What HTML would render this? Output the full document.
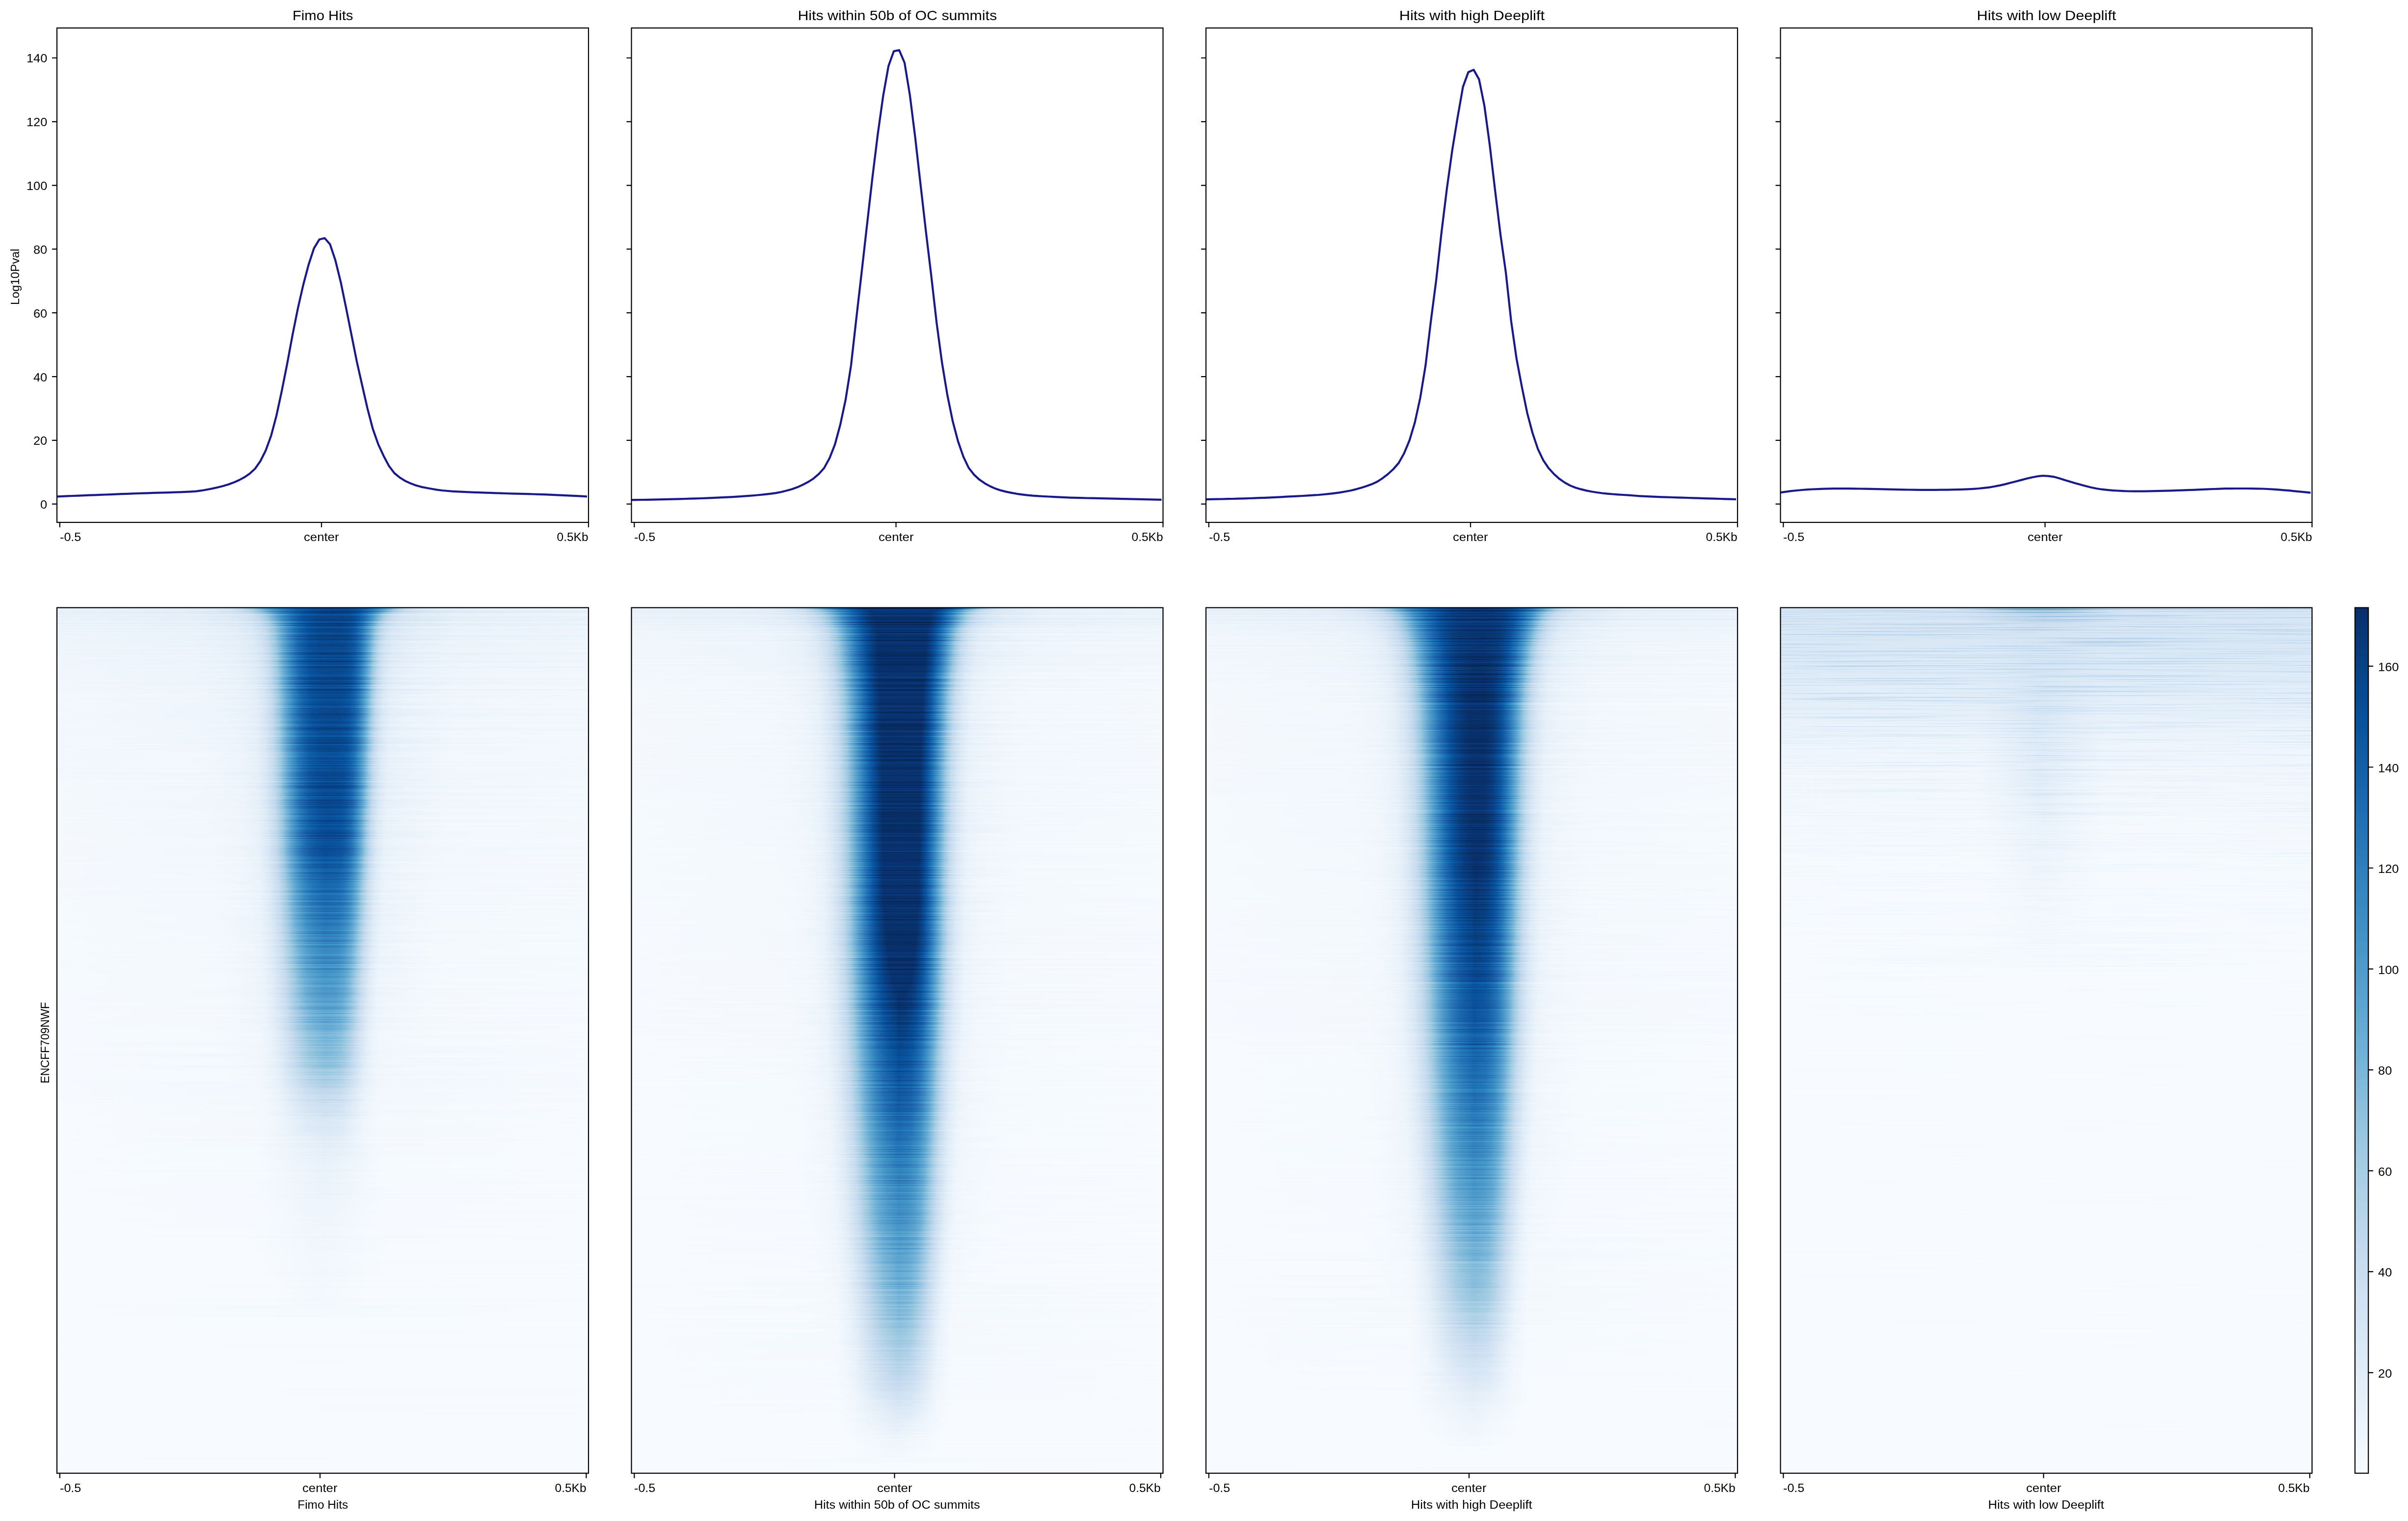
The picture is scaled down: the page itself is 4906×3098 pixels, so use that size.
<!DOCTYPE html><html lang="en"><head><meta charset="utf-8"><title>Profile and heatmap of Log10Pval signal around motif hits</title><style>
html,body{margin:0;padding:0;background:#fff}body{width:4906px;height:3098px;position:relative;overflow:hidden;font-family:"Liberation Sans",sans-serif;color:#000}.t{position:absolute;white-space:nowrap;line-height:1;margin:0;padding:0}.hm{position:absolute;overflow:hidden;background:#f7fbff}.hm i{display:block;width:100%}.cb{position:absolute}svg{position:absolute;left:0;top:0}.nz{mix-blend-mode:overlay}
</style></head><body>
<div class="hm" style="left:116.0px;top:1237.7px;width:1083.0px;height:1763.0px">
<i style="height:4px;background:linear-gradient(90deg,#e7f1fa 0px,#e2edf8 240px,#d9e8f5 312px,#d0e2f2 342px,#c4daee 363px,#b2d2e8 378px,#91c3de 396px,#69add5 411px,#3a8ac2 432px,#1d6cb1 456px,#084f99 489px,#084082 525px,#083a7a 555px,#083d7f 594px,#084488 612px,#09529d 630px,#1f6eb3 651px,#3f8fc5 669px,#6dafd7 684px,#9dcae1 699px,#b5d4e9 711px,#c6dbef 723px,#d2e3f3 747px,#dae8f6 783px,#e3eef8 870px,#e7f1fa 1083px)"></i>
<i style="height:4px;background:linear-gradient(90deg,#e7f1fa 0px,#e3eef9 237px,#ddeaf7 309px,#d3e3f3 354px,#c6dbef 378px,#9dcae1 405px,#6dafd7 423px,#4090c5 441px,#1c6bb0 468px,#08509b 498px,#08478d 513px,#084285 528px,#083c7d 561px,#083e81 585px,#08458a 603px,#0a539e 621px,#2272b6 642px,#4090c5 657px,#68acd5 669px,#9cc9e1 684px,#b5d4e9 696px,#c3daee 705px,#d0e2f2 726px,#dae8f6 765px,#e3eef9 861px,#e7f1fa 1083px)"></i>
<i style="height:4px;background:linear-gradient(90deg,#e8f1fa 0px,#e3eef9 258px,#dceaf6 330px,#d3e3f3 369px,#c4daee 393px,#a4cce3 414px,#7cb7da 429px,#4191c6 450px,#2f7fbc 462px,#1966ad 480px,#0a549e 498px,#084e98 507px,#084387 534px,#083e81 561px,#084184 582px,#08468b 597px,#08519c 612px,#2171b5 633px,#4191c6 648px,#6caed6 660px,#99c7e0 672px,#b5d4e9 684px,#c4daee 693px,#cfe1f2 708px,#dae8f6 750px,#e2edf8 816px,#e8f1fa 1083px)"></i>
<i style="height:4px;background:linear-gradient(90deg,#e9f2fa 0px,#e3eef8 282px,#dbe9f6 348px,#d0e1f2 384px,#c6dbef 399px,#aed1e7 414px,#92c4de 426px,#4191c6 453px,#2777b8 468px,#135fa7 486px,#0a539e 498px,#084d96 507px,#084285 537px,#084082 567px,#084488 594px,#0a549e 615px,#2373b6 633px,#4090c5 645px,#94c4df 666px,#aed1e7 675px,#c4daee 687px,#d2e3f3 708px,#dceaf6 756px,#e3eef9 825px,#e9f2fa 1083px)"></i>
<i style="height:4px;background:linear-gradient(90deg,#eaf2fb 0px,#e5eff9 261px,#deebf7 339px,#d2e3f3 387px,#c9ddf0 402px,#b3d3e8 417px,#97c6df 429px,#4896c8 453px,#2474b7 471px,#0d57a1 492px,#084b93 507px,#084285 537px,#084184 579px,#08458a 597px,#0a549e 615px,#206fb4 630px,#3e8ec4 642px,#6fb0d7 654px,#a3cce3 666px,#b9d6ea 675px,#c8dcf0 684px,#d3e3f3 702px,#dceaf6 747px,#e5eff9 837px,#eaf2fb 1083px)"></i>
<i style="height:4px;background:linear-gradient(90deg,#eaf2fb 0px,#e6f0f9 261px,#deebf7 348px,#d4e4f4 387px,#c7dbef 408px,#b3d3e8 420px,#9fcae1 429px,#6caed6 444px,#4695c8 456px,#2373b6 474px,#125da6 489px,#08519c 501px,#084d96 507px,#084488 528px,#084184 570px,#08468b 597px,#084f99 609px,#105ba4 618px,#2474b7 630px,#4695c8 642px,#6caed6 651px,#a1cbe2 663px,#b9d6ea 672px,#cbdef1 684px,#d3e4f3 699px,#ddeaf7 744px,#e6f0f9 837px,#eaf2fb 1083px)"></i>
<i style="height:4px;background:linear-gradient(90deg,#eaf3fb 0px,#e6f0f9 276px,#dfebf7 351px,#d5e5f4 390px,#c7dcef 411px,#b9d6ea 420px,#9fcae1 432px,#6aaed6 447px,#3e8ec4 462px,#1a68ae 483px,#084e98 507px,#084387 537px,#084285 576px,#084990 600px,#09529d 609px,#0f5aa3 615px,#2272b6 627px,#4493c7 639px,#a0cbe2 660px,#b9d6ea 669px,#c6dbef 675px,#ccdff1 681px,#d6e5f4 699px,#e6f0f9 822px,#eaf3fb 1083px)"></i>
<i style="height:4px;background:linear-gradient(90deg,#ebf3fb 0px,#e6f0f9 291px,#dfebf7 360px,#d6e5f4 393px,#c4daee 417px,#9dcae1 435px,#4b98ca 459px,#3d8dc4 465px,#1967ad 486px,#08509b 507px,#08458a 531px,#084285 570px,#08478d 594px,#0a549e 609px,#2070b4 624px,#4191c6 636px,#9fcae1 657px,#c1d9ed 669px,#cddff1 678px,#d4e4f4 690px,#dfecf7 741px,#e6f0f9 807px,#ebf3fb 1083px)"></i>
<i style="height:4px;background:linear-gradient(90deg,#ebf3fb 0px,#e7f1fa 279px,#dfecf7 363px,#d8e7f5 393px,#cde0f1 411px,#bfd8ed 423px,#9dcae1 438px,#539ecd 459px,#4292c6 465px,#1966ad 489px,#08509b 510px,#08458a 534px,#084387 576px,#08478d 591px,#08509b 603px,#0d57a1 609px,#1f6eb3 621px,#3f8fc5 633px,#64a9d3 642px,#9fcae1 654px,#c1d9ed 666px,#d0e1f2 678px,#d6e6f4 690px,#dfebf7 726px,#e7f1fa 819px,#ebf3fb 1083px)"></i>
<i style="height:4px;background:linear-gradient(90deg,#ecf4fb 0px,#e8f1fa 279px,#e3eef9 342px,#d9e8f5 393px,#c3daee 423px,#99c7e0 441px,#61a7d2 456px,#3f8fc5 468px,#1d6cb1 486px,#08509b 510px,#08478d 528px,#084387 567px,#084990 594px,#08519c 603px,#0e59a2 609px,#2171b5 621px,#4493c7 633px,#69add5 642px,#a4cce3 654px,#bed8ec 663px,#cddff1 672px,#d8e7f5 690px,#e3eef8 747px,#e8f1fa 819px,#ecf4fb 1083px)"></i>
<i style="height:4px;background:linear-gradient(90deg,#edf4fc 0px,#e9f2fa 279px,#e2edf8 363px,#d9e8f5 396px,#c6dbef 423px,#a5cde3 438px,#64a9d3 456px,#4090c5 468px,#1e6db2 486px,#115ca5 498px,#084f99 513px,#08468b 534px,#084488 576px,#08488e 591px,#08519c 603px,#0e59a2 609px,#2272b6 621px,#3b8bc2 630px,#5fa6d1 639px,#9cc9e1 651px,#b9d6ea 660px,#cbdef1 669px,#d7e6f5 684px,#e0ecf8 720px,#e8f1fa 804px,#edf4fc 1083px)"></i>
<i style="height:4px;background:linear-gradient(90deg,#edf4fc 0px,#e9f2fa 294px,#e3eef8 366px,#dbe9f6 396px,#d0e2f2 414px,#c3daee 426px,#95c5df 444px,#539ecd 462px,#3585bf 474px,#1b69af 489px,#0c56a0 504px,#084f99 513px,#08478d 531px,#084488 570px,#084a91 594px,#09529d 603px,#0f5aa3 609px,#2373b6 621px,#3d8dc4 630px,#61a7d2 639px,#9fcae1 651px,#bdd7ec 660px,#cddff1 669px,#d9e7f5 684px,#e3eef8 729px,#eaf2fb 819px,#edf4fc 1083px)"></i>
<i style="height:4px;background:linear-gradient(90deg,#eef5fc 0px,#eaf3fb 276px,#e4eff9 363px,#dceaf6 396px,#d2e3f3 414px,#c6dbef 426px,#99c7e0 444px,#5fa6d1 459px,#3d8dc4 471px,#2474b7 483px,#1865ac 492px,#08509b 513px,#08478d 534px,#08458a 576px,#084990 591px,#0c56a0 606px,#1d6cb1 618px,#3f8fc5 630px,#65aad4 639px,#a3cce3 651px,#bfd8ed 660px,#cfe1f2 669px,#dae8f6 684px,#e3eef9 726px,#eaf2fb 804px,#eef5fc 1083px)"></i>
<i style="height:4px;background:linear-gradient(90deg,#eef5fc 0px,#eaf3fb 291px,#e4eff9 369px,#dbe9f6 402px,#c7dcef 426px,#bcd7eb 432px,#9cc9e1 444px,#57a0ce 462px,#3181bd 477px,#1966ad 492px,#08509b 513px,#08488e 531px,#08458a 573px,#084b93 594px,#08509b 600px,#105ba4 609px,#1e6db2 618px,#4090c5 630px,#66abd4 639px,#99c7e0 648px,#b0d2e7 654px,#c2d9ee 660px,#d3e4f3 672px,#deebf7 690px,#ebf3fb 825px,#eef5fc 1083px)"></i>
<i style="height:6px;background:linear-gradient(90deg,#eef5fc 0px,#ebf3fb 276px,#e5eff9 366px,#deebf7 396px,#d1e2f3 417px,#c3daee 429px,#9dcae1 444px,#63a8d3 459px,#3e8ec4 471px,#1c6ab0 489px,#08509b 513px,#08478d 534px,#08458a 570px,#084b93 594px,#08509b 600px,#105ba4 609px,#1e6db2 618px,#4191c6 630px,#5aa2cf 636px,#9ac8e0 648px,#c4daee 660px,#d4e4f4 672px,#ddeaf7 687px,#e5eff9 729px,#ebf3fb 822px,#eef5fc 1083px)"></i>
<i style="height:6px;background:linear-gradient(90deg,#eef5fc 0px,#ebf3fb 282px,#e6f0f9 363px,#dfebf7 396px,#d5e5f4 414px,#c4daee 429px,#9fcae1 444px,#5aa2cf 462px,#3888c1 474px,#1c6ab0 489px,#08509b 513px,#08478d 534px,#08458a 570px,#084990 591px,#08509b 600px,#105ba4 609px,#2575b7 621px,#4292c6 630px,#6aaed6 639px,#9dcae1 648px,#c6dbef 660px,#d5e5f4 672px,#deebf7 687px,#ebf3fb 813px,#eef5fc 1083px)"></i>
<i style="height:6px;background:linear-gradient(90deg,#eef5fc 0px,#ecf4fb 270px,#e6f0f9 366px,#deebf7 399px,#d6e5f4 414px,#c7dbef 429px,#a0cbe2 444px,#64a9d3 459px,#3f8fc5 471px,#206fb4 486px,#125da6 498px,#084f99 513px,#08478d 534px,#08458a 567px,#084990 591px,#0c56a0 606px,#1f6eb3 618px,#4292c6 630px,#6caed6 639px,#9fcae1 648px,#bfd8ed 657px,#d3e4f3 669px,#ddeaf7 684px,#e5eff9 723px,#ebf3fb 807px,#eef5fc 1083px)"></i>
<i style="height:6px;background:linear-gradient(90deg,#eff6fc 0px,#ecf4fb 276px,#e6f0f9 369px,#dfebf7 399px,#d4e4f4 417px,#c2d9ee 432px,#97c6df 447px,#5ba3d0 462px,#3282be 477px,#1865ac 492px,#084f99 513px,#08478d 534px,#08458a 561px,#08478d 585px,#0c56a0 606px,#1f6eb3 618px,#4493c7 630px,#5fa6d1 636px,#a1cbe2 648px,#c2d9ee 657px,#d4e4f4 669px,#deebf7 684px,#e6f0f9 726px,#ecf4fb 822px,#eff6fc 1083px)"></i>
<i style="height:6px;background:linear-gradient(90deg,#eff6fc 0px,#ecf4fb 282px,#e7f1fa 357px,#deebf7 402px,#d5e5f4 417px,#c3daee 432px,#99c7e0 447px,#5ca4d0 462px,#3282be 477px,#1865ac 492px,#084f99 513px,#08478d 534px,#08468b 579px,#084990 591px,#0c56a0 606px,#1f6eb3 618px,#3a8ac2 627px,#60a7d2 636px,#94c4df 645px,#afd1e7 651px,#c3daee 657px,#d2e3f3 666px,#dfebf7 684px,#e6f0f9 723px,#ecf4fb 816px,#eff6fc 1083px)"></i>
<i style="height:6px;background:linear-gradient(90deg,#eff6fc 0px,#ecf4fb 288px,#e7f1fa 360px,#dfebf7 402px,#d6e5f4 417px,#c4daee 432px,#9cc9e1 447px,#68acd5 459px,#3989c1 474px,#206fb4 486px,#1865ac 492px,#084f99 513px,#08478d 534px,#08468b 579px,#084990 591px,#0c56a0 606px,#206fb4 618px,#3b8bc2 627px,#63a8d3 636px,#97c6df 645px,#b2d2e8 651px,#c6dbef 657px,#d3e3f3 666px,#deebf7 681px,#e6f0f9 720px,#ecf4fb 807px,#eff6fc 1083px)"></i>
<i style="height:6px;background:linear-gradient(90deg,#eff6fc 0px,#edf4fc 276px,#e8f1fa 357px,#e0ecf8 399px,#d3e4f3 420px,#c6dbef 432px,#9cc9e1 447px,#5da5d1 462px,#3383be 477px,#2070b4 486px,#1561a9 495px,#084f99 513px,#08478d 537px,#08468b 576px,#08488e 588px,#08509b 600px,#0d57a1 606px,#206fb4 618px,#3c8cc3 627px,#64a9d3 636px,#99c7e0 645px,#b3d3e8 651px,#c7dbef 657px,#d3e4f3 666px,#ddeaf7 678px,#e6f0f9 717px,#ecf4fb 801px,#eff6fc 1083px)"></i>
<i style="height:6px;background:linear-gradient(90deg,#f0f6fd 0px,#edf4fc 282px,#e8f1fa 360px,#dfecf7 402px,#d4e4f4 420px,#c7dbef 432px,#9dcae1 447px,#5fa6d1 462px,#4292c6 471px,#2d7dbb 480px,#1966ad 492px,#084f99 513px,#08478d 537px,#08468b 576px,#084b93 594px,#0d57a1 606px,#2070b4 618px,#3d8dc4 627px,#65aad4 636px,#9ac8e0 645px,#b4d3e9 651px,#c7dcef 657px,#d7e6f5 669px,#e0ecf8 684px,#ecf4fb 795px,#f0f6fd 1083px)"></i>
<i style="height:6px;background:linear-gradient(90deg,#f0f6fd 0px,#edf4fc 288px,#e8f1fa 363px,#dfebf7 405px,#c7dcef 432px,#9fcae1 447px,#60a7d2 462px,#3b8bc2 474px,#1d6cb1 489px,#0f5aa3 501px,#08509b 513px,#08478d 537px,#08468b 573px,#084a91 591px,#08509b 600px,#0e58a2 606px,#2171b5 618px,#3e8ec4 627px,#66abd4 636px,#9cc9e1 645px,#b5d4e9 651px,#c8dcf0 657px,#d8e7f5 669px,#dfecf7 681px,#e7f0fa 717px,#edf4fc 807px,#f0f6fd 1083px)"></i>
<i style="height:6px;background:linear-gradient(90deg,#f0f6fd 0px,#edf4fc 294px,#e8f1fa 366px,#e0ecf8 402px,#d5e5f4 420px,#c2d9ee 435px,#a0cbe2 447px,#6caed6 459px,#4493c7 471px,#3585bf 477px,#2171b5 486px,#1562a9 495px,#08509b 513px,#084990 528px,#08468b 573px,#084a91 591px,#08519c 600px,#0e58a2 606px,#2272b6 618px,#3f8fc5 627px,#69add5 636px,#9fcae1 645px,#c1d9ed 654px,#d2e3f3 663px,#dfebf7 678px,#e7f0fa 714px,#edf4fc 801px,#f0f6fd 1083px)"></i>
<i style="height:6px;background:linear-gradient(90deg,#f0f6fd 0px,#eef5fc 282px,#e8f1fa 369px,#dfecf7 405px,#d6e5f4 420px,#c8dcf0 432px,#a1cbe2 447px,#63a8d3 462px,#4594c7 471px,#2f7fbc 480px,#1967ad 492px,#08509b 513px,#084990 528px,#08468b 570px,#084990 588px,#08519c 600px,#0e59a2 606px,#2373b6 618px,#4090c5 627px,#6aaed6 636px,#a0cbe2 645px,#c2d9ee 654px,#d3e3f3 663px,#e0ecf8 681px,#e7f1fa 717px,#edf4fc 795px,#f0f6fd 1083px)"></i>
<i style="height:6px;background:linear-gradient(90deg,#f1f7fd 0px,#eef5fc 288px,#e9f2fa 366px,#e1edf8 402px,#d3e4f3 423px,#c3daee 435px,#97c6df 450px,#64a9d3 462px,#3686c0 477px,#1663aa 495px,#08509b 513px,#08488e 534px,#08468b 567px,#084990 588px,#09529d 600px,#0e59a2 606px,#2474b7 618px,#4191c6 627px,#6caed6 636px,#a1cbe2 645px,#c3daee 654px,#d6e6f4 666px,#e1edf8 681px,#e9f2fa 729px,#eef5fc 807px,#f1f7fd 1083px)"></i>
<i style="height:6px;background:linear-gradient(90deg,#f1f7fd 0px,#eef5fc 273px,#e9f2fa 369px,#e2edf8 402px,#d6e6f4 420px,#c4daee 435px,#99c7e0 450px,#64a9d3 462px,#4695c8 471px,#3080bd 480px,#1a68ae 492px,#0b559f 507px,#084f99 516px,#08488e 534px,#08468b 549px,#08478d 579px,#084f99 597px,#0f5aa3 606px,#2474b7 618px,#4292c6 627px,#6dafd7 636px,#a3cce3 645px,#c4daee 654px,#d7e6f5 666px,#e3eef8 684px,#eef5fc 801px,#f1f7fd 1083px)"></i>
<i style="height:6px;background:linear-gradient(90deg,#f1f7fd 0px,#eef5fc 279px,#e9f2fa 372px,#e2edf8 402px,#d7e6f5 420px,#c6dbef 435px,#99c7e0 450px,#65aad4 462px,#4896c8 471px,#3181bd 480px,#1764ab 495px,#084f99 516px,#08478d 543px,#08478d 576px,#084b93 591px,#09529d 600px,#0f5aa3 606px,#2575b7 618px,#4493c7 627px,#60a7d2 633px,#95c5df 642px,#c6dbef 654px,#d8e7f5 666px,#e2edf8 681px,#e8f1fa 714px,#eef5fc 816px,#f1f7fd 1083px)"></i>
<i style="height:6px;background:linear-gradient(90deg,#f1f7fd 0px,#eef5fc 288px,#eaf3fb 360px,#e3eef8 402px,#d7e6f5 420px,#c6dbef 435px,#9ac8e0 450px,#66abd4 462px,#3888c1 477px,#1b69af 492px,#115ca5 501px,#084f99 516px,#08488e 537px,#08478d 576px,#084d96 594px,#0c56a0 603px,#1460a8 609px,#2676b8 618px,#4594c7 627px,#61a7d2 633px,#97c6df 642px,#c7dbef 654px,#d9e7f5 666px,#e1edf8 678px,#e8f1fa 711px,#eef5fc 789px,#f1f7fd 1083px)"></i>
<i style="height:6px;background:linear-gradient(90deg,#f2f7fd 0px,#eef5fc 294px,#e9f2fa 378px,#e0ecf8 408px,#cfe1f2 429px,#bfd8ed 438px,#9cc9e1 450px,#74b3d8 459px,#539ecd 468px,#4090c5 474px,#2575b7 486px,#0e59a2 504px,#084f99 516px,#08488e 537px,#08478d 573px,#084a91 588px,#08509b 597px,#105ba4 606px,#206fb4 615px,#4695c8 627px,#63a8d3 633px,#a8cee4 645px,#c7dcef 654px,#d6e5f4 663px,#e3eef8 681px,#e9f2fa 714px,#eef5fc 801px,#f2f7fd 1083px)"></i>
<i style="height:6px;background:linear-gradient(90deg,#f2f7fd 0px,#eef5fc 303px,#eaf3fb 366px,#e3eef9 402px,#dbe9f6 417px,#c7dcef 435px,#9dcae1 450px,#5da5d1 465px,#4191c6 474px,#2c7cba 483px,#1865ac 495px,#08509b 516px,#084a91 528px,#08488e 540px,#08478d 573px,#084c95 591px,#08509b 597px,#115ca5 606px,#2070b4 615px,#4896c8 627px,#64a9d3 633px,#9ac8e0 642px,#c1d9ed 651px,#d6e6f4 663px,#e3eef9 681px,#eff6fc 816px,#f2f7fd 1083px)"></i>
<i style="height:6px;background:linear-gradient(90deg,#f2f7fd 0px,#eff6fc 288px,#eaf3fb 369px,#e3eef8 405px,#d9e7f5 420px,#c2d9ee 438px,#9fcae1 450px,#69add5 462px,#3a8ac2 477px,#2070b4 489px,#1966ad 495px,#08509b 516px,#08488e 540px,#08478d 573px,#084c95 591px,#08519c 597px,#1562a9 609px,#2070b4 615px,#4997c9 627px,#66abd4 633px,#9cc9e1 642px,#c2d9ee 651px,#d7e6f5 663px,#e3eef8 678px,#eaf3fb 723px,#eff6fc 810px,#f2f7fd 1083px)"></i>
<i style="height:6px;background:linear-gradient(90deg,#f2f7fd 0px,#eff6fc 294px,#ebf3fb 366px,#e4eff9 402px,#d9e8f5 420px,#c8dcf0 435px,#9fcae1 450px,#6aaed6 462px,#4292c6 474px,#3484bf 480px,#1966ad 495px,#08509b 516px,#084990 534px,#08478d 570px,#084c95 591px,#08519c 597px,#125da6 606px,#2171b5 615px,#3e8ec4 624px,#68acd5 633px,#9fcae1 642px,#c3daee 651px,#dbe9f6 666px,#e4eff9 681px,#eff6fc 801px,#f2f7fd 1083px)"></i>
<i style="height:6px;background:linear-gradient(90deg,#f2f8fd 0px,#eff6fc 303px,#ebf3fb 369px,#e3eef9 405px,#d7e6f5 423px,#c3daee 438px,#a0cbe2 450px,#61a7d2 465px,#4493c7 474px,#2e7ebc 483px,#1562a9 498px,#08509b 516px,#08478d 549px,#08488e 579px,#08519c 597px,#125ea6 606px,#2272b6 615px,#3f8fc5 624px,#69add5 633px,#a0cbe2 642px,#c4daee 651px,#dce9f6 666px,#e5eff9 681px,#eff6fc 795px,#f2f8fd 1083px)"></i>
<i style="height:6px;background:linear-gradient(90deg,#f2f8fd 0px,#f0f6fd 285px,#ebf3fb 372px,#e5eff9 402px,#dae8f6 420px,#c4daee 438px,#a1cbe2 450px,#61a7d2 465px,#3585bf 480px,#1967ad 495px,#0b559f 510px,#084f99 519px,#084a91 531px,#08478d 567px,#084b93 588px,#09529d 597px,#125ea6 606px,#2373b6 615px,#4090c5 624px,#6aaed6 633px,#a1cbe2 642px,#c6dbef 651px,#d9e7f5 663px,#e3eef8 675px,#eaf2fb 705px,#eff6fc 789px,#f2f8fd 1083px)"></i>
<i style="height:6px;background:linear-gradient(90deg,#f2f8fd 0px,#eff6fc 309px,#e5eff9 402px,#d5e5f4 426px,#c4daee 438px,#a1cbe2 450px,#63a8d3 465px,#4594c7 474px,#2f7fbc 483px,#1663aa 498px,#084f99 519px,#08478d 549px,#08488e 576px,#084a91 585px,#09529d 597px,#135fa7 606px,#2373b6 615px,#4191c6 624px,#6caed6 633px,#a3cce3 642px,#c6dbef 651px,#dceaf6 666px,#e4eff9 678px,#eaf3fb 711px,#f0f6fd 810px,#f2f8fd 1083px)"></i>
<i style="height:6px;background:linear-gradient(90deg,#f2f8fd 0px,#eff6fc 309px,#ebf3fb 372px,#e3eef8 408px,#d5e5f4 426px,#c4daee 438px,#a3cce3 450px,#63a8d3 465px,#4f9bcb 471px,#3d8dc4 477px,#2272b6 489px,#135fa7 501px,#084f99 519px,#08478d 549px,#08488e 576px,#09529d 597px,#135fa7 606px,#2474b7 615px,#4292c6 624px,#6dafd7 633px,#94c4df 639px,#a4cce3 642px,#c7dbef 651px,#d9e8f5 663px,#e4eff9 678px,#eaf3fb 711px,#f0f6fd 807px,#f2f8fd 1083px)"></i>
<i style="height:6px;background:linear-gradient(90deg,#f2f8fd 0px,#f0f6fd 291px,#ecf4fb 366px,#e4eff9 405px,#dbe9f6 420px,#c6dbef 438px,#97c6df 453px,#64a9d3 465px,#4695c8 474px,#3080bd 483px,#1a68ae 495px,#115ca5 504px,#08509b 519px,#08488e 546px,#08488e 573px,#08509b 594px,#1460a8 606px,#2575b7 615px,#4493c7 624px,#6fb0d7 633px,#95c5df 639px,#b2d2e8 645px,#c7dcef 651px,#d9e8f5 663px,#e6f0f9 681px,#f0f6fd 807px,#f2f8fd 1083px)"></i>
<i style="height:6px;background:linear-gradient(90deg,#f2f8fd 0px,#f0f6fd 291px,#ebf3fb 375px,#e4eff9 405px,#dbe9f6 420px,#c6dbef 438px,#99c7e0 453px,#64a9d3 465px,#4695c8 474px,#3080bd 483px,#1764ab 498px,#08509b 519px,#084990 540px,#08488e 573px,#08509b 594px,#1460a8 606px,#1f6eb3 612px,#3989c1 621px,#71b1d7 633px,#97c6df 639px,#b3d3e8 645px,#c7dcef 651px,#dae8f6 663px,#e3eef9 675px,#eaf3fb 708px,#f0f6fd 804px,#f2f8fd 1083px)"></i>
<i style="height:6px;background:linear-gradient(90deg,#f2f8fd 0px,#f0f6fd 294px,#e6f0f9 402px,#d9e7f5 423px,#c7dbef 438px,#99c7e0 453px,#65aad4 465px,#4896c8 474px,#3181bd 483px,#1764ab 498px,#08509b 519px,#084990 540px,#08488e 570px,#084e98 591px,#1561a9 606px,#1f6eb3 612px,#3a8ac2 621px,#61a7d2 630px,#97c6df 639px,#bfd8ed 648px,#c8dcf0 651px,#dae8f6 663px,#e5eff9 678px,#f0f6fd 801px,#f2f8fd 1083px)"></i>
<i style="height:8px;background:linear-gradient(90deg,#f2f8fd 0px,#f0f6fd 297px,#ecf4fb 369px,#e6f0f9 402px,#d9e7f5 423px,#c7dbef 438px,#9ac8e0 453px,#66abd4 465px,#3f8fc5 477px,#3181bd 483px,#1b69af 495px,#08509b 519px,#084990 540px,#08488e 570px,#084b93 585px,#08519c 594px,#115ca5 603px,#206fb4 612px,#3b8bc2 621px,#64a9d3 630px,#9ac8e0 639px,#c1d9ed 648px,#dbe9f6 663px,#e5eff9 678px,#f0f6fd 798px,#f2f8fd 1083px)"></i>
<i style="height:8px;background:linear-gradient(90deg,#f2f8fd 0px,#f0f6fd 300px,#ebf3fb 378px,#e3eef9 408px,#dce9f6 420px,#c7dbef 438px,#9cc9e1 453px,#66abd4 465px,#4997c9 474px,#3282be 483px,#1865ac 498px,#08509b 519px,#084b93 531px,#08488e 567px,#084990 576px,#08519c 594px,#1562a9 606px,#2070b4 612px,#3c8cc3 621px,#65aad4 630px,#9cc9e1 639px,#c2d9ee 648px,#d8e7f5 660px,#e4eff9 675px,#eaf3fb 705px,#f0f6fd 798px,#f2f8fd 1083px)"></i>
<i style="height:8px;background:linear-gradient(90deg,#f2f8fd 0px,#f0f6fd 300px,#ecf4fb 372px,#e5eff9 405px,#d3e4f3 429px,#c1d9ed 441px,#9cc9e1 453px,#74b3d8 462px,#539ecd 471px,#4090c5 477px,#2575b7 489px,#0f5aa3 507px,#084f99 522px,#08488e 549px,#084990 576px,#09529d 594px,#1663aa 606px,#2a7ab9 615px,#4a98c9 624px,#66abd4 630px,#9dcae1 639px,#c3daee 648px,#dce9f6 663px,#e6f0f9 678px,#ecf4fb 720px,#f1f7fd 819px,#f2f8fd 1083px)"></i>
<i style="height:8px;background:linear-gradient(90deg,#f2f8fd 0px,#f0f6fd 303px,#ecf4fb 372px,#e5eff9 405px,#d9e8f5 423px,#c7dcef 438px,#9dcae1 453px,#69add5 465px,#4a98c9 474px,#3383be 483px,#1966ad 498px,#084f99 522px,#08488e 549px,#084990 573px,#09529d 594px,#125ea6 603px,#2272b6 612px,#3f8fc5 621px,#68acd5 630px,#9fcae1 639px,#c3daee 648px,#d9e7f5 660px,#e6f0f9 678px,#edf4fc 729px,#f1f7fd 816px,#f2f8fd 1083px)"></i>
<i style="height:8px;background:linear-gradient(90deg,#f3f8fe 0px,#f1f7fd 282px,#edf4fc 366px,#e7f0fa 402px,#d7e6f5 426px,#c2d9ee 441px,#9dcae1 453px,#69add5 465px,#4b98ca 474px,#2171b5 492px,#1562a9 501px,#0b559f 513px,#084b93 534px,#08488e 549px,#084a91 579px,#08509b 591px,#135fa7 603px,#2373b6 612px,#4090c5 621px,#6aaed6 630px,#a0cbe2 639px,#c4daee 648px,#dceaf6 663px,#e5eff9 675px,#ebf3fb 708px,#f0f6fd 789px,#f3f8fe 1083px)"></i>
<i style="height:8px;background:linear-gradient(90deg,#f3f8fe 0px,#f0f6fd 309px,#ecf4fb 375px,#e4eff9 408px,#d4e4f4 429px,#c2d9ee 441px,#9fcae1 453px,#6aaed6 465px,#4292c6 477px,#2171b5 492px,#0e58a2 510px,#084c95 534px,#084990 549px,#084a91 576px,#08519c 591px,#1460a8 603px,#2474b7 612px,#4191c6 621px,#6caed6 630px,#a3cce3 639px,#c6dbef 648px,#d9e8f5 660px,#e5eff9 675px,#eaf3fb 699px,#f0f6fd 786px,#f3f8fe 1083px)"></i>
<i style="height:8px;background:linear-gradient(90deg,#f3f8fe 0px,#f0f6fd 312px,#edf4fc 369px,#e6f0f9 405px,#dae8f6 423px,#c3daee 441px,#a0cbe2 453px,#6caed6 465px,#4d99ca 474px,#2272b6 492px,#1663aa 501px,#0c56a0 513px,#084c95 534px,#084990 549px,#084a91 576px,#08519c 591px,#1460a8 603px,#2575b7 612px,#4292c6 621px,#6dafd7 630px,#94c4df 636px,#a4cce3 639px,#c7dbef 648px,#dae8f6 660px,#e7f0fa 678px,#f1f7fd 807px,#f3f8fe 1083px)"></i>
<i style="height:8px;background:linear-gradient(90deg,#f3f8fe 0px,#f0f6fd 315px,#ecf4fb 378px,#e6f0f9 405px,#d8e7f5 426px,#c3daee 441px,#a0cbe2 453px,#6caed6 465px,#4e9acb 474px,#2272b6 492px,#0c56a0 513px,#084c95 534px,#084990 567px,#084d96 585px,#0a549e 594px,#1967ad 606px,#2676b8 612px,#4493c7 621px,#60a7d2 627px,#95c5df 636px,#bed8ec 645px,#c7dcef 648px,#dae8f6 660px,#e6f0f9 675px,#f1f7fd 804px,#f3f8fe 1083px)"></i>
<i style="height:8px;background:linear-gradient(90deg,#f3f8fe 0px,#f0f6fd 315px,#edf4fc 372px,#e3eef9 411px,#d5e5f4 429px,#c4daee 441px,#a1cbe2 453px,#6dafd7 465px,#4594c7 477px,#2373b6 492px,#1460a8 504px,#0a549e 516px,#084c95 534px,#084990 549px,#084c95 582px,#09529d 591px,#1a68ae 606px,#2777b8 612px,#4695c8 621px,#61a7d2 627px,#97c6df 636px,#bfd8ed 645px,#d7e6f5 657px,#e6f0f9 675px,#ebf3fb 702px,#f1f7fd 801px,#f3f8fe 1083px)"></i>
<i style="height:8px;background:linear-gradient(90deg,#f3f8fe 0px,#f1f7fd 297px,#edf4fc 372px,#e5eff9 408px,#dbe9f6 423px,#c4daee 441px,#a3cce3 453px,#6fb0d7 465px,#4f9bcb 474px,#2373b6 492px,#0d57a1 513px,#084c95 534px,#084990 549px,#084a91 573px,#09529d 591px,#125da6 600px,#2070b4 609px,#4896c8 621px,#74b3d8 630px,#99c7e0 636px,#c1d9ed 645px,#d8e7f5 657px,#e7f1fa 678px,#f1f7fd 798px,#f3f8fe 1083px)"></i>
<i style="height:8px;background:linear-gradient(90deg,#f3f8fe 0px,#f1f7fd 300px,#ecf4fb 381px,#e7f0fa 405px,#d9e7f5 426px,#c6dbef 441px,#a3cce3 453px,#64a9d3 468px,#519ccc 474px,#3e8ec4 480px,#2474b7 492px,#0d57a1 513px,#084c95 534px,#084990 549px,#084a91 573px,#08509b 588px,#1663aa 603px,#2a7ab9 612px,#4997c9 621px,#65aad4 627px,#9cc9e1 636px,#c2d9ee 645px,#d4e4f4 654px,#e5eff9 672px,#ebf3fb 699px,#f1f7fd 795px,#f3f8fe 1083px)"></i>
<i style="height:8px;background:linear-gradient(90deg,#f3f8fe 0px,#f1f7fd 300px,#edf4fc 375px,#e7f0fa 405px,#dce9f6 423px,#c7dbef 441px,#99c7e0 456px,#71b1d7 465px,#4896c8 477px,#2474b7 492px,#1561a9 504px,#0b559f 516px,#084d96 534px,#084990 549px,#084d96 582px,#0c56a0 594px,#1c6ab0 606px,#2b7bba 612px,#4a98c9 621px,#66abd4 627px,#9dcae1 636px,#c3daee 645px,#dceaf6 660px,#e7f0fa 675px,#f1f7fd 792px,#f3f8fe 1083px)"></i>
<i style="height:8px;background:linear-gradient(90deg,#f3f8fe 0px,#f1f7fd 303px,#edf4fc 375px,#e4eff9 411px,#d9e8f5 426px,#c7dbef 441px,#9ac8e0 456px,#72b2d8 465px,#529dcc 474px,#2575b7 492px,#0e58a2 513px,#084d96 534px,#084a91 549px,#084d96 582px,#0a539e 591px,#1c6bb0 606px,#3f8fc5 618px,#68acd5 627px,#9fcae1 636px,#c4daee 645px,#d9e8f5 657px,#e7f0fa 675px,#f1f7fd 789px,#f3f8fe 1083px)"></i>
<i style="height:8px;background:linear-gradient(90deg,#f3f8fe 0px,#f1f7fd 306px,#edf4fc 378px,#e6f0f9 408px,#d9e8f5 426px,#c7dcef 441px,#9ac8e0 456px,#66abd4 468px,#4090c5 480px,#2070b4 495px,#0e58a2 513px,#084d96 534px,#084a91 567px,#084f99 585px,#105ba4 597px,#1d6cb1 606px,#4090c5 618px,#6aaed6 627px,#a0cbe2 636px,#c6dbef 645px,#ddeaf7 660px,#e6f0f9 672px,#ecf4fb 702px,#f1f7fd 786px,#f3f8fe 1083px)"></i>
<i style="height:8px;background:linear-gradient(90deg,#f3f8fe 0px,#f1f7fd 309px,#edf4fc 378px,#e6f0f9 408px,#d3e4f3 432px,#c1d9ed 444px,#9cc9e1 456px,#68acd5 468px,#4a98c9 477px,#2676b8 492px,#1967ad 501px,#0c56a0 516px,#084d96 534px,#084a91 567px,#084e98 582px,#0a549e 591px,#1966ad 603px,#2575b7 609px,#4191c6 618px,#6caed6 627px,#a3cce3 636px,#c7dbef 645px,#dae8f6 657px,#e7f1fa 675px,#f2f7fd 810px,#f3f8fe 1083px)"></i>
<i style="height:8px;background:linear-gradient(90deg,#f3f8fe 0px,#f1f7fd 312px,#e7f1fa 405px,#dae8f6 426px,#c8dcf0 441px,#9dcae1 456px,#69add5 468px,#549fcd 474px,#3b8bc2 483px,#2171b5 495px,#0e59a2 513px,#084d96 534px,#084a91 564px,#084e98 582px,#0e58a2 594px,#1967ad 603px,#2f7fbc 612px,#4493c7 618px,#6dafd7 627px,#94c4df 633px,#a4cce3 636px,#c7dcef 645px,#deebf7 660px,#e5eff9 669px,#ecf4fb 699px,#f1f7fd 783px,#f3f8fe 1083px)"></i>
<i style="height:8px;background:linear-gradient(90deg,#f3f8fe 0px,#f1f7fd 315px,#edf4fc 381px,#e5eff9 411px,#d4e4f4 432px,#c2d9ee 444px,#9dcae1 456px,#69add5 468px,#4b98ca 477px,#2777b8 492px,#115ca5 510px,#08519c 525px,#084e98 534px,#084a91 549px,#084d96 579px,#09529d 588px,#1a68ae 603px,#3080bd 612px,#4594c7 618px,#60a7d2 624px,#95c5df 633px,#bed8ec 642px,#c7dcef 645px,#dbe9f6 657px,#e7f0fa 672px,#eef5fc 717px,#f2f7fd 804px,#f3f8fe 1083px)"></i>
<i style="height:8px;background:linear-gradient(90deg,#f4f9fe 0px,#f1f7fd 318px,#eef5fc 375px,#e7f0fa 408px,#ddeaf7 423px,#c9ddf0 441px,#9fcae1 456px,#6aaed6 468px,#4d99ca 477px,#2272b6 495px,#0d57a1 516px,#084e98 534px,#084a91 558px,#084f99 582px,#0e59a2 594px,#1b69af 603px,#3181bd 612px,#4695c8 618px,#72b2d8 627px,#97c6df 633px,#bfd8ed 642px,#c8dcf0 645px,#dce9f6 657px,#e8f1fa 675px,#f2f7fd 801px,#f4f9fe 1083px)"></i>
<i style="height:8px;background:linear-gradient(90deg,#f4f9fe 0px,#f1f7fd 321px,#eef5fc 375px,#e7f0fa 408px,#dbe9f6 426px,#c3daee 444px,#a0cbe2 456px,#6caed6 468px,#57a0ce 474px,#4493c7 480px,#2979b9 492px,#125da6 510px,#0a539e 522px,#084e98 534px,#084a91 549px,#084b93 570px,#08519c 585px,#1663aa 600px,#2171b5 606px,#4896c8 618px,#74b3d8 627px,#99c7e0 633px,#c1d9ed 642px,#d4e4f4 651px,#e6f0f9 669px,#ecf4fb 696px,#f1f7fd 774px,#f4f9fe 1083px)"></i>
<i style="height:8px;background:linear-gradient(90deg,#f4f9fe 0px,#f2f7fd 297px,#eef5fc 378px,#e8f1fa 405px,#dbe9f6 426px,#c3daee 444px,#a0cbe2 456px,#6caed6 468px,#4e9acb 477px,#2373b6 495px,#0e58a2 516px,#084e98 534px,#084b93 567px,#084f99 582px,#0f5aa3 594px,#1c6ab0 603px,#3383be 612px,#4997c9 618px,#65aad4 624px,#9cc9e1 633px,#c2d9ee 642px,#d0e1f2 648px,#dceaf6 657px,#e7f1fa 672px,#eef5fc 711px,#f2f7fd 795px,#f4f9fe 1083px)"></i>
<i style="height:8px;background:linear-gradient(90deg,#f4f9fe 0px,#f1f7fd 324px,#eef5fc 378px,#e6f0f9 411px,#d9e7f5 429px,#c4daee 444px,#a1cbe2 456px,#63a8d3 471px,#4695c8 480px,#2a7ab9 492px,#1561a9 507px,#09529d 525px,#084f99 534px,#084b93 549px,#084e98 579px,#0d57a1 591px,#1c6bb0 603px,#3e8ec4 615px,#66abd4 624px,#9dcae1 633px,#c3daee 642px,#d9e8f5 654px,#e7f1fa 672px,#f2f7fd 792px,#f4f9fe 1083px)"></i>
<i style="height:8px;background:linear-gradient(90deg,#f4f9fe 0px,#f2f7fd 303px,#eef5fc 372px,#e7f1fa 408px,#dce9f6 426px,#c6dbef 444px,#97c6df 459px,#6fb0d7 468px,#4695c8 480px,#2474b7 495px,#105ba4 513px,#084f99 534px,#084b93 549px,#084d96 576px,#0e58a2 591px,#1d6cb1 603px,#3f8fc5 615px,#69add5 624px,#9fcae1 633px,#c4daee 642px,#d6e5f4 651px,#e7f0fa 669px,#edf4fc 699px,#f2f7fd 789px,#f4f9fe 1083px)"></i>
<i style="height:8px;background:linear-gradient(90deg,#f4f9fe 0px,#f2f7fd 306px,#eef5fc 381px,#e7f1fa 408px,#dce9f6 426px,#c6dbef 444px,#a3cce3 456px,#6fb0d7 468px,#519ccc 477px,#3888c1 486px,#206fb4 498px,#0c56a0 519px,#084f99 534px,#084b93 549px,#084b93 564px,#08509b 582px,#1966ad 600px,#2474b7 606px,#4191c6 615px,#6aaed6 624px,#a0cbe2 633px,#c6dbef 642px,#dae8f6 654px,#e8f1fa 672px,#f2f7fd 786px,#f4f9fe 1083px)"></i>
<i style="height:8px;background:linear-gradient(90deg,#f4f9fe 0px,#f2f7fd 309px,#eef5fc 375px,#e7f1fa 408px,#d9e8f5 429px,#c7dbef 444px,#99c7e0 459px,#71b1d7 468px,#529dcc 477px,#2575b7 495px,#0e59a2 516px,#084f99 534px,#084b93 549px,#084f99 579px,#0b559f 588px,#1967ad 600px,#2575b7 606px,#4292c6 615px,#6caed6 624px,#a1cbe2 633px,#c7dbef 642px,#deebf7 657px,#e8f1fa 672px,#f2f7fd 783px,#f4f9fe 1083px)"></i>
<i style="height:8px;background:linear-gradient(90deg,#f4f9fe 0px,#f2f7fd 312px,#eef5fc 375px,#e7f0fa 411px,#dceaf6 426px,#c7dbef 444px,#99c7e0 459px,#66abd4 471px,#4997c9 480px,#2070b4 498px,#115ca5 513px,#084f99 534px,#084b93 549px,#084f99 579px,#0e59a2 591px,#1a68ae 600px,#2676b8 606px,#4493c7 615px,#6dafd7 624px,#94c4df 630px,#a4cce3 633px,#c7dcef 642px,#dfebf7 657px,#e7f1fa 669px,#eef5fc 702px,#f2f7fd 780px,#f4f9fe 1083px)"></i>
<i style="height:8px;background:linear-gradient(90deg,#f4f9fe 0px,#f2f8fd 288px,#eff6fc 366px,#e8f1fa 408px,#dceaf6 426px,#c7dcef 444px,#9ac8e0 459px,#68acd5 471px,#539ecd 477px,#2676b8 495px,#0d57a1 519px,#08509b 534px,#084b93 549px,#084e98 576px,#0c56a0 588px,#206fb4 603px,#4594c7 615px,#71b1d7 624px,#95c5df 630px,#c8dcf0 642px,#dce9f6 654px,#e9f2fa 672px,#f2f8fd 804px,#f4f9fe 1083px)"></i>
<i style="height:8px;background:linear-gradient(90deg,#f4f9fe 0px,#f2f8fd 291px,#eff6fc 369px,#e8f1fa 408px,#dae8f6 429px,#c7dcef 444px,#9cc9e1 459px,#68acd5 471px,#4191c6 483px,#2171b5 498px,#0f5aa3 516px,#08509b 534px,#084b93 549px,#084c95 567px,#08509b 579px,#0f5aa3 591px,#2070b4 603px,#4695c8 615px,#72b2d8 624px,#97c6df 630px,#bfd8ed 639px,#c9ddf0 642px,#dfecf7 657px,#e9f2fa 672px,#f2f8fd 801px,#f4f9fe 1083px)"></i>
<i style="height:8px;background:linear-gradient(90deg,#f4f9fe 0px,#f2f8fd 294px,#eef5fc 378px,#e8f1fa 408px,#ddeaf7 426px,#c8dcf0 444px,#9cc9e1 459px,#69add5 471px,#4b98ca 480px,#2777b8 495px,#125da6 513px,#08509b 534px,#084c95 549px,#084c95 564px,#08509b 579px,#0d57a1 588px,#1c6ab0 600px,#2a7ab9 606px,#4896c8 615px,#74b3d8 624px,#99c7e0 630px,#c1d9ed 639px,#caddf0 642px,#dceaf6 654px,#e8f1fa 669px,#eef5fc 708px,#f2f8fd 798px,#f4f9fe 1083px)"></i>
<i style="height:8px;background:linear-gradient(90deg,#f4f9fe 0px,#f2f7fd 324px,#eef5fc 381px,#e7f1fa 411px,#d8e7f5 432px,#c2d9ee 447px,#9dcae1 459px,#6aaed6 471px,#56a0ce 477px,#3c8cc3 486px,#2272b6 498px,#0e58a2 519px,#08509b 534px,#084c95 549px,#084f99 576px,#105ba4 591px,#1c6bb0 600px,#3d8dc4 612px,#65aad4 621px,#9cc9e1 630px,#c2d9ee 639px,#d9e8f5 651px,#e8f1fa 669px,#eef5fc 705px,#f2f8fd 795px,#f4f9fe 1083px)"></i>
<i style="height:8px;background:linear-gradient(90deg,#f4f9fe 0px,#f2f7fd 327px,#eef5fc 381px,#e7f1fa 411px,#dbe9f6 429px,#c9ddf0 444px,#9fcae1 459px,#60a7d2 474px,#4493c7 483px,#2979b9 495px,#1561a9 510px,#08509b 534px,#084c95 549px,#084e98 573px,#0e58a2 588px,#1d6cb1 600px,#2c7cba 606px,#4b98ca 615px,#66abd4 621px,#9dcae1 630px,#c3daee 639px,#ddeaf7 654px,#eaf2fb 672px,#f2f8fd 792px,#f4f9fe 1083px)"></i>
<i style="height:8px;background:linear-gradient(90deg,#f5f9fe 0px,#f2f8fd 303px,#eff6fc 375px,#e9f2fa 408px,#deebf7 426px,#c3daee 447px,#9fcae1 459px,#6caed6 471px,#4e9acb 480px,#3686c0 489px,#1f6eb3 501px,#125ea6 513px,#08509b 537px,#084c95 549px,#084c95 561px,#08519c 579px,#115ca5 591px,#1966ad 597px,#2474b7 603px,#4090c5 612px,#69add5 621px,#9fcae1 630px,#c4daee 639px,#deebf7 654px,#e9f2fa 669px,#f2f8fd 789px,#f5f9fe 1083px)"></i>
<i style="height:8px;background:linear-gradient(90deg,#f5f9fe 0px,#f2f7fd 333px,#eef5fc 390px,#e7f0fa 414px,#d9e7f5 432px,#c3daee 447px,#a0cbe2 459px,#6caed6 471px,#4594c7 483px,#2474b7 498px,#0e59a2 519px,#08509b 537px,#084c95 549px,#08509b 576px,#0e59a2 588px,#1967ad 597px,#2575b7 603px,#4191c6 612px,#6aaed6 621px,#a0cbe2 630px,#c6dbef 639px,#deebf7 654px,#e9f2fa 669px,#f2f8fd 786px,#f5f9fe 1083px)"></i>
<i style="height:8px;background:linear-gradient(90deg,#f5f9fe 0px,#f2f8fd 309px,#eff6fc 378px,#e8f1fa 411px,#dce9f6 429px,#c4daee 447px,#a1cbe2 459px,#6dafd7 471px,#4f9bcb 480px,#3787c0 489px,#206fb4 501px,#115ca5 516px,#08509b 537px,#084c95 549px,#08509b 576px,#0c56a0 585px,#1f6eb3 600px,#3888c1 609px,#4f9bcb 615px,#6caed6 621px,#a1cbe2 630px,#c7dbef 639px,#dfebf7 654px,#eaf3fb 672px,#f2f8fd 783px,#f5f9fe 1083px)"></i>
<i style="height:8px;background:linear-gradient(90deg,#f5f9fe 0px,#f2f8fd 312px,#eff6fc 378px,#e8f1fa 411px,#d9e8f5 432px,#c6dbef 447px,#a3cce3 459px,#6fb0d7 471px,#4896c8 483px,#2171b5 501px,#1460a8 513px,#0a539e 531px,#084d96 549px,#08509b 573px,#105ba4 588px,#1b69af 597px,#2777b8 603px,#529dcc 615px,#6fb0d7 621px,#a4cce3 630px,#c7dcef 639px,#dce9f6 651px,#e8f1fa 666px,#eef5fc 696px,#f2f8fd 780px,#f5f9fe 1083px)"></i>
<i style="height:8px;background:linear-gradient(90deg,#f5f9fe 0px,#f2f8fd 315px,#eaf2fb 408px,#dceaf6 429px,#c7dbef 447px,#99c7e0 462px,#66abd4 474px,#539ecd 480px,#4191c6 486px,#2373b6 501px,#0f5aa3 522px,#084f99 546px,#0b559f 579px,#1561a9 591px,#2272b6 600px,#3c8cc3 609px,#549fcd 615px,#72b2d8 621px,#97c6df 627px,#bfd8ed 636px,#cee0f2 642px,#dceaf6 651px,#eaf2fb 669px,#f2f8fd 777px,#f5f9fe 1083px)"></i>
<i style="height:8px;background:linear-gradient(90deg,#f5f9fe 0px,#f2f8fd 318px,#eff6fc 381px,#e7f1fa 414px,#dae8f6 432px,#c7dcef 447px,#9ac8e0 462px,#74b3d8 471px,#4493c7 486px,#2575b7 501px,#115ca5 522px,#08519c 546px,#0d57a1 579px,#135fa7 588px,#1f6eb3 597px,#2d7dbb 603px,#4a98c9 612px,#65aad4 618px,#9ac8e0 627px,#b5d4e9 633px,#caddf0 639px,#e0ecf8 654px,#e9f2fa 666px,#eef5fc 693px,#f2f8fd 774px,#f5f9fe 1083px)"></i>
<i style="height:8px;background:linear-gradient(90deg,#f5f9fe 0px,#f3f8fe 294px,#f0f6fd 372px,#e9f2fa 411px,#ddeaf7 429px,#c7dcef 447px,#9dcae1 462px,#6aaed6 474px,#4695c8 486px,#2272b6 504px,#125ea6 522px,#0a539e 546px,#0e59a2 579px,#2070b4 597px,#4191c6 609px,#69add5 618px,#9dcae1 627px,#c2d9ee 636px,#d9e8f5 648px,#e9f2fa 666px,#eff6fc 702px,#f3f8fe 798px,#f5f9fe 1083px)"></i>
<i style="height:8px;background:linear-gradient(90deg,#f5f9fe 0px,#f3f8fe 297px,#eff6fc 384px,#e9f2fa 411px,#deebf7 429px,#c2d9ee 450px,#9fcae1 462px,#79b5d9 471px,#5aa2cf 480px,#4090c5 489px,#2979b9 501px,#1460a8 522px,#0b559f 546px,#105ba4 579px,#1a68ae 591px,#2373b6 597px,#4493c7 609px,#6caed6 618px,#a0cbe2 627px,#c4daee 636px,#deebf7 651px,#eaf3fb 669px,#f3f8fe 795px,#f5f9fe 1083px)"></i>
<i style="height:8px;background:linear-gradient(90deg,#f5f9fe 0px,#f2f8fd 327px,#eff6fc 384px,#e8f1fa 414px,#d5e5f4 438px,#c3daee 450px,#a0cbe2 462px,#65aad4 477px,#4a98c9 486px,#2b7bba 501px,#1562a9 522px,#0d57a1 546px,#125da6 579px,#206fb4 594px,#3484bf 603px,#539ecd 612px,#6fb0d7 618px,#a1cbe2 627px,#c6dbef 636px,#dfebf7 651px,#eaf2fb 666px,#eff6fc 699px,#f3f8fe 792px,#f5f9fe 1083px)"></i>
<i style="height:8px;background:linear-gradient(90deg,#f5f9fe 0px,#f3f8fe 303px,#f0f6fd 378px,#eaf2fb 411px,#dfebf7 429px,#c4daee 450px,#a3cce3 462px,#72b2d8 474px,#4d99ca 486px,#2d7dbb 501px,#1d6cb1 513px,#1764ab 522px,#0e59a2 546px,#135fa7 579px,#2171b5 594px,#4a98c9 609px,#72b2d8 618px,#95c5df 624px,#c7dcef 636px,#dce9f6 648px,#eaf2fb 666px,#eff6fc 696px,#f3f8fe 789px,#f5f9fe 1083px)"></i>
<i style="height:8px;background:linear-gradient(90deg,#f5f9fe 0px,#f3f8fe 306px,#eff6fc 387px,#eaf2fb 411px,#dceaf6 432px,#c6dbef 450px,#a4cce3 462px,#6aaed6 477px,#4f9bcb 486px,#3f8fc5 492px,#2f7fbc 501px,#1c6bb0 516px,#105ba4 546px,#125ea6 573px,#1c6ab0 588px,#2474b7 594px,#3181bd 600px,#4d99ca 609px,#75b4d8 618px,#99c7e0 624px,#c8dcf0 636px,#dfecf7 651px,#e9f2fa 663px,#eff6fc 696px,#f3f8fe 786px,#f5f9fe 1083px)"></i>
<i style="height:8px;background:linear-gradient(90deg,#f5f9fe 0px,#f2f8fd 336px,#eef5fc 393px,#e7f1fa 417px,#dceaf6 432px,#c7dbef 450px,#9cc9e1 465px,#6caed6 477px,#5aa2cf 483px,#4191c6 492px,#3181bd 501px,#1e6db2 516px,#125da6 546px,#1460a8 573px,#1b69af 585px,#2676b8 594px,#3b8bc2 603px,#4f9bcb 609px,#69add5 615px,#9ac8e0 624px,#c1d9ed 633px,#d4e4f4 642px,#e0ecf8 651px,#eaf3fb 666px,#f3f8fe 783px,#f5f9fe 1083px)"></i>
<i style="height:8px;background:linear-gradient(90deg,#f5f9fe 0px,#f3f8fe 309px,#f0f6fd 381px,#e9f2fa 414px,#ddeaf7 432px,#c7dcef 450px,#9dcae1 465px,#6fb0d7 477px,#539ecd 486px,#3383be 501px,#206fb4 516px,#135fa7 546px,#1562a9 573px,#1c6bb0 585px,#2979b9 594px,#4896c8 606px,#6caed6 615px,#9dcae1 624px,#cadef0 636px,#ddeaf7 648px,#eaf3fb 666px,#f3f8fe 780px,#f5f9fe 1083px)"></i>
<i style="height:8px;background:linear-gradient(90deg,#f5f9fe 0px,#f3f8fe 312px,#eaf3fb 411px,#ddeaf7 432px,#c8dcf0 450px,#a9cfe5 462px,#66abd4 480px,#4695c8 492px,#3585bf 501px,#2171b5 516px,#1460a8 546px,#1764ab 573px,#1e6db2 585px,#2b7bba 594px,#4090c5 603px,#61a7d2 612px,#a0cbe2 624px,#c4daee 633px,#deebf7 648px,#eaf2fb 663px,#eff6fc 690px,#f3f8fe 777px,#f5f9fe 1083px)"></i>
<i style="height:8px;background:linear-gradient(90deg,#f5f9fe 0px,#f2f8fd 342px,#eef5fc 396px,#e8f1fa 417px,#d8e7f5 438px,#c3daee 453px,#a1cbe2 465px,#60a7d2 483px,#4191c6 495px,#3282be 504px,#1f6eb3 522px,#1562a9 546px,#1966ad 573px,#206fb4 585px,#2e7ebc 594px,#4292c6 603px,#58a1cf 609px,#72b2d8 615px,#a3cce3 624px,#c6dbef 633px,#dbe9f6 645px,#eaf2fb 663px,#f0f6fd 699px,#f3f8fe 777px,#f5f9fe 1083px)"></i>
<i style="height:8px;background:linear-gradient(90deg,#f5f9fe 0px,#f3f8fe 318px,#f0f6fd 384px,#eaf2fb 414px,#deebf7 432px,#c4daee 453px,#99c7e0 468px,#63a8d3 483px,#4493c7 495px,#3484bf 504px,#2272b6 519px,#1764ab 546px,#1a68ae 573px,#1f6eb3 582px,#3080bd 594px,#4594c7 603px,#5ba3d0 609px,#75b4d8 615px,#97c6df 621px,#c7dbef 633px,#dfebf7 648px,#ebf3fb 666px,#f3f8fe 774px,#f5f9fe 1083px)"></i>
<i style="height:8px;background:linear-gradient(90deg,#f5f9fe 0px,#f3f8fe 321px,#eff6fc 393px,#eaf2fb 414px,#dfebf7 432px,#c6dbef 453px,#9ac8e0 468px,#6dafd7 480px,#5ca4d0 486px,#3686c0 504px,#2272b6 522px,#1966ad 546px,#1d6cb1 576px,#2777b8 588px,#3282be 594px,#3f8fc5 600px,#539ecd 606px,#6aaed6 612px,#9ac8e0 621px,#c8dcf0 633px,#dfecf7 648px,#eaf3fb 663px,#f3f8fe 771px,#f5f9fe 1083px)"></i>
<i style="height:8px;background:linear-gradient(90deg,#f5fafe 0px,#f3f8fe 321px,#ebf3fb 411px,#dceaf6 435px,#c7dbef 453px,#9dcae1 468px,#85bcdc 474px,#5fa6d1 486px,#3888c1 504px,#2474b7 522px,#1a68ae 546px,#1f6eb3 576px,#2f7fbc 591px,#4191c6 600px,#56a0ce 606px,#6dafd7 612px,#9dcae1 621px,#c9ddf0 633px,#dceaf6 645px,#eaf3fb 663px,#f3f8fe 768px,#f5fafe 1083px)"></i>
<i style="height:8px;background:linear-gradient(90deg,#f5fafe 0px,#f3f8fe 324px,#f0f6fd 387px,#e9f2fa 417px,#dfecf7 432px,#c7dcef 453px,#9fcae1 468px,#69add5 483px,#3f8fc5 501px,#2676b8 522px,#1c6bb0 546px,#2171b5 576px,#2979b9 585px,#3787c0 594px,#4594c7 600px,#64a9d3 609px,#a0cbe2 621px,#cadef0 633px,#ddeaf7 645px,#eaf2fb 660px,#eff6fc 684px,#f3f8fe 765px,#f5fafe 1083px)"></i>
<i style="height:8px;background:linear-gradient(90deg,#f5fafe 0px,#f3f8fe 327px,#f1f7fd 381px,#eaf3fb 414px,#ddeaf7 435px,#c8dcf0 453px,#a1cbe2 468px,#6caed6 483px,#4191c6 501px,#2c7cba 519px,#1e6db2 546px,#2171b5 573px,#2777b8 582px,#3989c1 594px,#4896c8 600px,#68acd5 609px,#a1cbe2 621px,#c4daee 630px,#deebf7 645px,#ebf3fb 663px,#f3f8fe 765px,#f5fafe 1083px)"></i>
<i style="height:8px;background:linear-gradient(90deg,#f5fafe 0px,#f3f8fe 330px,#f0f6fd 390px,#eaf3fb 414px,#dbe9f6 438px,#c3daee 456px,#a3cce3 468px,#66abd4 486px,#4493c7 501px,#2e7ebc 519px,#206fb4 546px,#2373b6 573px,#3686c0 591px,#4292c6 597px,#5fa6d1 606px,#97c6df 618px,#c6dbef 630px,#deebf7 645px,#ebf3fb 663px,#f3f8fe 762px,#f5fafe 1083px)"></i>
<i style="height:8px;background:linear-gradient(90deg,#f5fafe 0px,#f3f8fe 330px,#f0f6fd 390px,#eaf2fb 417px,#deebf7 435px,#c4daee 456px,#9cc9e1 471px,#69add5 486px,#4191c6 504px,#3080bd 519px,#2171b5 546px,#2777b8 576px,#3080bd 585px,#3e8ec4 594px,#4e9acb 600px,#6dafd7 609px,#9ac8e0 618px,#c7dcef 630px,#dfebf7 645px,#eaf3fb 660px,#f3f8fe 759px,#f5fafe 1083px)"></i>
<i style="height:8px;background:linear-gradient(90deg,#f5fafe 0px,#f4f9fe 300px,#ecf4fb 411px,#e1edf8 432px,#c6dbef 456px,#9dcae1 471px,#6aaed6 486px,#3f8fc5 507px,#3282be 519px,#2373b6 546px,#2676b8 570px,#2f7fbc 582px,#3b8bc2 591px,#519ccc 600px,#65aad4 606px,#9dcae1 618px,#c8dcf0 630px,#e3eef8 648px,#edf4fc 666px,#f4f9fe 789px,#f5fafe 1083px)"></i>
<i style="height:8px;background:linear-gradient(90deg,#f5fafe 0px,#f3f8fe 336px,#ebf3fb 414px,#dfebf7 435px,#c7dbef 456px,#a0cbe2 471px,#6dafd7 486px,#4191c6 507px,#3484bf 519px,#2575b7 546px,#2b7bba 573px,#3989c1 588px,#4b98ca 597px,#68acd5 606px,#a0cbe2 618px,#caddf0 630px,#e0ecf8 645px,#ecf4fb 663px,#f4f9fe 786px,#f5fafe 1083px)"></i>
<i style="height:8px;background:linear-gradient(90deg,#f5fafe 0px,#f3f8fe 339px,#ebf3fb 414px,#dceaf6 438px,#c7dcef 456px,#aacfe5 468px,#68acd5 489px,#3f8fc5 510px,#3282be 525px,#2777b8 546px,#2d7dbb 573px,#3b8bc2 588px,#4e9acb 597px,#6aaed6 606px,#a3cce3 618px,#c3daee 627px,#ddeaf7 642px,#ebf3fb 660px,#f0f6fd 684px,#f4f9fe 783px,#f5fafe 1083px)"></i>
<i style="height:8px;background:linear-gradient(90deg,#f5fafe 0px,#f3f8fe 339px,#eaf3fb 417px,#ddeaf7 438px,#c8dcf0 456px,#abd0e6 468px,#6aaed6 489px,#4191c6 510px,#3484bf 525px,#2a7ab9 546px,#2f7fbc 573px,#4292c6 591px,#64a9d3 603px,#a5cde3 618px,#c6dbef 627px,#deebf7 642px,#ebf3fb 660px,#f1f7fd 693px,#f4f9fe 780px,#f5fafe 1083px)"></i>
<i style="height:8px;background:linear-gradient(90deg,#f5fafe 0px,#f4f9fe 312px,#edf4fc 411px,#ddeaf7 438px,#c9ddf0 456px,#a5cde3 471px,#6dafd7 489px,#539ecd 501px,#3d8dc4 516px,#2c7cba 546px,#3080bd 570px,#4090c5 588px,#66abd4 603px,#9ac8e0 615px,#c7dbef 627px,#e2edf8 645px,#edf4fc 663px,#f4f9fe 777px,#f5fafe 1083px)"></i>
<i style="height:8px;background:linear-gradient(90deg,#f5fafe 0px,#f4f9fe 315px,#ecf4fb 414px,#deebf7 438px,#c6dbef 459px,#9fcae1 474px,#79b5d9 486px,#61a7d2 495px,#4292c6 513px,#2f7fbc 546px,#3282be 570px,#4292c6 588px,#69add5 603px,#9dcae1 615px,#c8dcf0 627px,#dfebf7 642px,#ecf4fb 660px,#f4f9fe 774px,#f5fafe 1083px)"></i>
<i style="height:8px;background:linear-gradient(90deg,#f5fafe 0px,#f4f9fe 318px,#f1f7fd 390px,#ebf3fb 417px,#dce9f6 441px,#c7dbef 459px,#a0cbe2 474px,#6aaed6 492px,#4594c7 513px,#3181bd 546px,#3686c0 573px,#4191c6 585px,#4b98ca 591px,#63a8d3 600px,#a0cbe2 615px,#c9ddf0 627px,#dfecf7 642px,#ecf4fb 660px,#f4f9fe 771px,#f5fafe 1083px)"></i>
<i style="height:8px;background:linear-gradient(90deg,#f5fafe 0px,#f4f9fe 321px,#f1f7fd 390px,#ebf3fb 417px,#dfebf7 438px,#c7dcef 459px,#9ac8e0 477px,#6dafd7 492px,#519ccc 507px,#4191c6 519px,#3383be 546px,#3888c1 573px,#4493c7 585px,#66abd4 600px,#97c6df 612px,#c3daee 624px,#e0ecf8 642px,#ebf3fb 657px,#f1f7fd 687px,#f4f9fe 768px,#f5fafe 1083px)"></i>
<i style="height:8px;background:linear-gradient(90deg,#f5fafe 0px,#f4f9fe 324px,#f1f7fd 393px,#eaf3fb 420px,#dceaf6 441px,#c8dcf0 459px,#9cc9e1 477px,#69add5 495px,#539ecd 507px,#4191c6 522px,#3585bf 546px,#3a8ac2 573px,#4695c8 585px,#69add5 600px,#b0d2e7 618px,#cbdef1 627px,#e3eef9 645px,#eef5fc 663px,#f4f9fe 765px,#f5fafe 1083px)"></i>
<i style="height:8px;background:linear-gradient(90deg,#f5fafe 0px,#f4f9fe 327px,#edf4fc 414px,#ddeaf7 441px,#c9ddf0 459px,#9fcae1 477px,#6caed6 495px,#56a0ce 507px,#4191c6 525px,#3787c0 546px,#3c8cc3 573px,#4997c9 585px,#6caed6 600px,#9dcae1 612px,#c7dbef 624px,#deebf7 639px,#edf4fc 660px,#f4f9fe 765px,#f5fafe 1083px)"></i>
<i style="height:8px;background:linear-gradient(90deg,#f5fafe 0px,#f4f9fe 327px,#ecf4fb 417px,#dbe9f6 444px,#caddf0 459px,#a0cbe2 477px,#68acd5 498px,#58a1cf 507px,#4191c6 528px,#3989c1 546px,#3d8dc4 570px,#4b98ca 585px,#6fb0d7 600px,#9fcae1 612px,#c7dcef 624px,#dfebf7 639px,#ecf4fb 657px,#f4f9fe 762px,#f5fafe 1083px)"></i>
<i style="height:8px;background:linear-gradient(90deg,#f5fafe 0px,#f4f9fe 330px,#ecf4fb 417px,#deebf7 441px,#c7dbef 462px,#a3cce3 477px,#71b1d7 495px,#56a0ce 510px,#4493c7 528px,#3b8bc2 546px,#3f8fc5 570px,#4e9acb 585px,#72b2d8 600px,#add0e6 615px,#c9ddf0 624px,#dce9f6 636px,#ecf4fb 657px,#f4f9fe 759px,#f5fafe 1083px)"></i>
<i style="height:8px;background:linear-gradient(90deg,#f5fafe 0px,#f4f9fe 333px,#f2f7fd 390px,#ebf3fb 420px,#e1edf8 438px,#c7dcef 462px,#9dcae1 480px,#74b3d8 495px,#58a1cf 510px,#4695c8 528px,#3d8dc4 546px,#4191c6 570px,#4d99ca 582px,#6caed6 597px,#b9d6ea 618px,#caddf0 624px,#e6f0f9 645px,#eef5fc 660px,#f5f9fe 795px,#f5fafe 1083px)"></i>
<i style="height:8px;background:linear-gradient(90deg,#f5fafe 0px,#f5f9fe 297px,#eef5fc 414px,#e3eef9 435px,#c8dcf0 462px,#9fcae1 480px,#64a9d3 504px,#539ecd 516px,#3f8fc5 546px,#4493c7 570px,#4f9bcb 582px,#6fb0d7 597px,#9cc9e1 609px,#c4daee 621px,#e0ecf8 639px,#edf4fc 657px,#f4f9fe 753px,#f5fafe 1083px)"></i>
<i style="height:8px;background:linear-gradient(90deg,#f5fafe 0px,#f4f9fe 339px,#edf4fc 417px,#e2edf8 438px,#c9ddf0 462px,#9ac8e0 483px,#81badb 492px,#66abd4 504px,#56a0ce 516px,#4191c6 546px,#4695c8 570px,#529dcc 582px,#69add5 594px,#9fcae1 609px,#c6dbef 621px,#e1edf8 639px,#edf4fc 657px,#f4f9fe 750px,#f5fafe 1083px)"></i>
<i style="height:8px;background:linear-gradient(90deg,#f5fafe 0px,#f4f9fe 342px,#ecf4fb 420px,#ddeaf7 444px,#c6dbef 465px,#9cc9e1 483px,#75b4d8 498px,#64a9d3 507px,#4e9acb 528px,#4493c7 546px,#4997c9 570px,#5aa2cf 585px,#6caed6 594px,#a1cbe2 609px,#c7dcef 621px,#deebf7 636px,#ecf4fb 654px,#f4f9fe 747px,#f5fafe 1083px)"></i>
<i style="height:8px;background:linear-gradient(90deg,#f5fafe 0px,#f4f9fe 345px,#ecf4fb 420px,#e0ecf8 441px,#c7dbef 465px,#9fcae1 483px,#7fb9da 495px,#66abd4 507px,#519ccc 528px,#4695c8 546px,#4b98ca 570px,#5ca4d0 585px,#79b5d9 597px,#9ac8e0 606px,#c8dcf0 621px,#e5eff9 642px,#eef5fc 657px,#f5f9fe 780px,#f5fafe 1083px)"></i>
<i style="height:8px;background:linear-gradient(90deg,#f5fafe 0px,#f4f9fe 345px,#ebf3fb 423px,#deebf7 444px,#c7dcef 465px,#a0cbe2 483px,#69add5 507px,#539ecd 528px,#4997c9 546px,#4e9acb 570px,#5fa6d1 585px,#7cb7da 597px,#9dcae1 606px,#caddf0 621px,#e3eef8 639px,#eef5fc 657px,#f5f9fe 777px,#f5fafe 1083px)"></i>
<i style="height:8px;background:linear-gradient(90deg,#f5fafe 0px,#f5f9fe 315px,#eef5fc 417px,#e3eef9 438px,#c8dcf0 465px,#9cc9e1 486px,#6caed6 507px,#56a0ce 528px,#4b98ca 546px,#4f9bcb 567px,#5da5d1 582px,#6dafd7 591px,#a0cbe2 606px,#c4daee 618px,#e0ecf8 636px,#edf4fc 654px,#f5f9fe 774px,#f5fafe 1083px)"></i>
<i style="height:8px;background:linear-gradient(90deg,#f6faff 0px,#f5f9fe 318px,#edf4fc 420px,#dceaf6 447px,#c9ddf0 465px,#9dcae1 486px,#74b3d8 504px,#6aaed6 510px,#58a1cf 528px,#4e9acb 546px,#529dcc 567px,#60a7d2 582px,#7ab6d9 594px,#c7dbef 618px,#ddeaf7 633px,#ecf4fb 651px,#f4f9fe 735px,#f6faff 1083px)"></i>
<i style="height:8px;background:linear-gradient(90deg,#f6faff 0px,#f4f9fe 354px,#ecf4fb 423px,#dfecf7 444px,#caddf0 465px,#6dafd7 510px,#5ba3d0 528px,#519ccc 546px,#549fcd 567px,#63a8d3 582px,#7db8da 594px,#9cc9e1 603px,#c7dcef 618px,#e4eff9 639px,#eef5fc 657px,#f5f9fe 768px,#f6faff 1083px)"></i>
<i style="height:8px;background:linear-gradient(90deg,#f6faff 0px,#f4f9fe 357px,#ecf4fb 423px,#e4eff9 438px,#d2e3f3 459px,#c7dbef 468px,#9cc9e1 489px,#7ab6d9 504px,#6caed6 513px,#5da5d1 528px,#539ecd 546px,#57a0ce 567px,#65aad4 582px,#81badb 594px,#c9ddf0 618px,#e2edf8 636px,#eef5fc 654px,#f5f9fe 765px,#f6faff 1083px)"></i>
<i style="height:8px;background:linear-gradient(90deg,#f6faff 0px,#f5f9fe 327px,#eef5fc 417px,#e5eff9 438px,#c8dcf0 468px,#72b2d8 510px,#64a9d3 522px,#56a0ce 546px,#5aa2cf 567px,#68acd5 582px,#84bcdb 594px,#caddf0 618px,#dce9f6 630px,#edf4fc 651px,#f2f7fd 675px,#f5f9fe 762px,#f6faff 1083px)"></i>
<i style="height:8px;background:linear-gradient(90deg,#f6faff 0px,#f5f9fe 330px,#edf4fc 423px,#e3eef9 441px,#cddff1 465px,#c4daee 471px,#81badb 504px,#6dafd7 516px,#58a1cf 546px,#5fa6d1 570px,#6caed6 582px,#87bddc 594px,#c6dbef 615px,#dceaf6 630px,#edf4fc 651px,#f2f7fd 672px,#f5f9fe 759px,#f6faff 1083px)"></i>
<i style="height:8px;background:linear-gradient(90deg,#f6faff 0px,#f5f9fe 333px,#edf4fc 423px,#e2edf8 444px,#c7dbef 471px,#75b4d8 513px,#6aaed6 522px,#5ca4d0 546px,#5fa6d1 564px,#6aaed6 579px,#7cb7da 588px,#c7dcef 615px,#e3eef9 636px,#eef5fc 654px,#f5f9fe 756px,#f6faff 1083px)"></i>
<i style="height:8px;background:linear-gradient(90deg,#f6faff 0px,#f5f9fe 336px,#f2f8fd 396px,#ecf4fb 426px,#dbe9f6 453px,#cbdef1 468px,#75b4d8 516px,#69add5 528px,#5fa6d1 546px,#60a7d2 558px,#6aaed6 576px,#87bddc 591px,#b9d6ea 609px,#cde0f1 618px,#e4eff9 636px,#eef5fc 651px,#f5f9fe 753px,#f6faff 1083px)"></i>
<i style="height:8px;background:linear-gradient(90deg,#f6faff 0px,#f5f9fe 339px,#eef5fc 423px,#e5eff9 441px,#c9ddf0 471px,#7db8da 513px,#72b2d8 522px,#63a8d3 546px,#64a9d3 558px,#6fb0d7 576px,#84bcdb 588px,#caddf0 615px,#e5eff9 636px,#eef5fc 651px,#f5f9fe 750px,#f6faff 1083px)"></i>
<i style="height:8px;background:linear-gradient(90deg,#f6faff 0px,#f5f9fe 342px,#edf4fc 426px,#dceaf6 453px,#c7dbef 474px,#85bcdc 510px,#74b3d8 525px,#65aad4 546px,#6aaed6 567px,#77b5d9 579px,#8fc2de 591px,#cbdef1 615px,#e3eef8 633px,#eff6fc 654px,#f5f9fe 744px,#f6faff 1083px)"></i>
<i style="height:8px;background:linear-gradient(90deg,#f6faff 0px,#f5fafe 300px,#f1f7fd 411px,#e6f0f9 441px,#cbdef1 471px,#85bcdc 513px,#75b4d8 528px,#69add5 546px,#6aaed6 558px,#77b5d9 576px,#8cc0dd 588px,#c7dcef 612px,#e3eef9 633px,#eef5fc 651px,#f5f9fe 741px,#f6faff 1083px)"></i>
<i style="height:8px;background:linear-gradient(90deg,#f6faff 0px,#f5fafe 303px,#f0f6fd 417px,#e8f1fa 438px,#d0e1f2 468px,#85bcdc 516px,#6dafd7 546px,#6fb0d7 558px,#7fb9da 579px,#c9ddf0 612px,#d2e3f3 618px,#e7f0fa 636px,#f1f7fd 660px,#f5fafe 786px,#f6faff 1083px)"></i>
<i style="height:8px;background:linear-gradient(90deg,#f6faff 0px,#f5fafe 306px,#f1f7fd 414px,#ebf3fb 432px,#d9e8f5 459px,#c7dbef 477px,#8dc1dd 513px,#71b1d7 546px,#77b5d9 567px,#84bcdb 579px,#94c4df 588px,#c4daee 609px,#dbe9f6 624px,#e9f2fa 639px,#f2f7fd 663px,#f6faff 1083px)"></i>
<i style="height:8px;background:linear-gradient(90deg,#f6faff 0px,#f5fafe 312px,#f1f7fd 414px,#eaf3fb 435px,#dae8f6 459px,#c8dcf0 477px,#8dc1dd 516px,#75b4d8 546px,#77b5d9 558px,#84bcdb 576px,#92c4de 585px,#c7dbef 609px,#d4e4f4 618px,#eaf2fb 639px,#f1f7fd 657px,#f5fafe 777px,#f6faff 1083px)"></i>
<i style="height:8px;background:linear-gradient(90deg,#f6faff 0px,#f2f7fd 411px,#ecf4fb 432px,#d6e5f4 465px,#c6dbef 480px,#95c5df 513px,#85bcdc 528px,#7ab6d9 546px,#7cb7da 558px,#8cc0dd 579px,#d1e2f3 615px,#e8f1fa 636px,#f1f7fd 657px,#f5fafe 774px,#f6faff 1083px)"></i>
<i style="height:8px;background:linear-gradient(90deg,#f6faff 0px,#f5fafe 318px,#f0f6fd 420px,#e7f0fa 444px,#d6e6f4 465px,#c7dcef 480px,#99c7e0 513px,#7db8da 546px,#81badb 561px,#8cc0dd 576px,#aacfe5 594px,#caddf0 609px,#e3eef9 630px,#eef5fc 645px,#f2f7fd 660px,#f6faff 1083px)"></i>
<i style="height:8px;background:linear-gradient(90deg,#f6faff 0px,#f5fafe 321px,#f1f7fd 417px,#edf4fc 432px,#dceaf6 459px,#c6dbef 483px,#a0cbe2 510px,#91c3de 525px,#82bbdb 546px,#84bcdb 558px,#94c4df 579px,#c7dbef 606px,#e4eff9 630px,#f2f7fd 660px,#f6faff 1083px)"></i>
<i style="height:8px;background:linear-gradient(90deg,#f6faff 0px,#f2f7fd 414px,#eaf3fb 438px,#dbe9f6 462px,#c7dcef 483px,#a6cee4 507px,#97c6df 522px,#87bddc 546px,#8fc2de 570px,#a1cbe2 585px,#c8dcf0 606px,#dce9f6 621px,#ebf3fb 639px,#f1f7fd 654px,#f5fafe 762px,#f6faff 1083px)"></i>
<i style="height:8px;background:linear-gradient(90deg,#f6faff 0px,#f5fafe 327px,#f0f6fd 423px,#eaf2fb 441px,#dce9f6 462px,#c6dbef 486px,#a0cbe2 516px,#8abfdd 546px,#8dc1dd 561px,#95c5df 573px,#a4cce3 585px,#c6dbef 603px,#dceaf6 621px,#eaf2fb 636px,#f2f7fd 657px,#f6faff 1083px)"></i>
<i style="height:8px;background:linear-gradient(90deg,#f6faff 0px,#f5fafe 330px,#f1f7fd 420px,#ebf3fb 438px,#dae8f6 465px,#c7dcef 486px,#a9cfe5 510px,#8fc2de 546px,#97c6df 570px,#a8cee4 585px,#c7dcef 603px,#dae8f6 618px,#eaf3fb 636px,#f2f7fd 657px,#f6faff 1083px)"></i>
<i style="height:8px;background:linear-gradient(90deg,#f6faff 0px,#f2f7fd 417px,#e4eff9 453px,#caddf0 486px,#a6cee4 519px,#97c6df 546px,#99c7e0 558px,#a3cce3 576px,#dce9f6 618px,#e9f2fa 633px,#f1f7fd 651px,#f5fafe 753px,#f6faff 1083px)"></i>
<i style="height:8px;background:linear-gradient(90deg,#f6faff 0px,#f5fafe 339px,#f1f7fd 423px,#e1edf8 459px,#aacfe5 522px,#9fcae1 546px,#a6cee4 573px,#b2d2e8 585px,#c4daee 597px,#e0ecf8 621px,#ebf3fb 636px,#f2f7fd 654px,#f6faff 1083px)"></i>
<i style="height:8px;background:linear-gradient(90deg,#f6faff 0px,#f5fafe 342px,#f2f7fd 420px,#e4eff9 456px,#b2d2e8 519px,#a4cce3 546px,#aed1e7 576px,#e4eff9 624px,#f2f7fd 654px,#f6faff 1083px)"></i>
<i style="height:8px;background:linear-gradient(90deg,#f6faff 0px,#f5fafe 345px,#f1f7fd 426px,#e3eef9 459px,#b7d4ea 519px,#aacfe5 546px,#b2d2e8 573px,#e3eef8 621px,#f2f7fd 651px,#f6faff 1083px)"></i>
<i style="height:8px;background:linear-gradient(90deg,#f6faff 0px,#f3f8fe 411px,#eaf3fb 447px,#bed8ec 516px,#b0d2e7 546px,#b9d6ea 576px,#e8f1fa 627px,#f3f8fe 663px,#f6faff 1083px)"></i>
<i style="height:8px;background:linear-gradient(90deg,#f6faff 0px,#f3f8fe 411px,#e7f1fa 456px,#c3daee 516px,#b7d4ea 546px,#bdd7ec 573px,#e7f1fa 624px,#f2f8fd 654px,#f6faff 1083px)"></i>
<i style="height:8px;background:linear-gradient(90deg,#f6faff 0px,#f3f8fe 414px,#ecf4fb 447px,#cbdef1 507px,#bdd7ec 546px,#c4daee 576px,#e8f1fa 624px,#f3f8fe 660px,#f6faff 1083px)"></i>
<i style="height:8px;background:linear-gradient(90deg,#f6faff 0px,#f2f8fd 423px,#eaf3fb 453px,#cddff1 510px,#c2d9ee 546px,#caddf0 579px,#e7f1fa 621px,#f2f8fd 651px,#f6faff 1083px)"></i>
<i style="height:8px;background:linear-gradient(90deg,#f6faff 0px,#f4f9fe 408px,#ebf3fb 453px,#d0e2f2 507px,#c7dcef 546px,#cbdef1 576px,#edf4fc 630px,#f3f8fe 657px,#f6faff 1083px)"></i>
<i style="height:8px;background:linear-gradient(90deg,#f7fbff 0px,#f3f8fe 420px,#eaf2fb 459px,#d2e3f3 510px,#cadef0 546px,#d0e2f2 582px,#eef5fc 630px,#f3f8fe 654px,#f7fbff 1083px)"></i>
<i style="height:8px;background:linear-gradient(90deg,#f7fbff 0px,#f4f9fe 411px,#eef5fc 450px,#d6e5f4 507px,#cde0f1 546px,#d1e2f3 576px,#edf4fc 627px,#f4f9fe 663px,#f7fbff 1083px)"></i>
<i style="height:8px;background:linear-gradient(90deg,#f7fbff 0px,#f4f9fe 414px,#eaf3fb 462px,#d7e6f5 510px,#d0e2f2 546px,#d5e5f4 579px,#ebf3fb 621px,#f3f8fe 651px,#f7fbff 1083px)"></i>
<i style="height:8px;background:linear-gradient(90deg,#f7fbff 0px,#f4f9fe 417px,#d4e4f4 546px,#d9e7f5 582px,#eef5fc 627px,#f4f9fe 660px,#f7fbff 1083px)"></i>
<i style="height:8px;background:linear-gradient(90deg,#f7fbff 0px,#f5f9fe 405px,#f1f7fd 444px,#dceaf6 510px,#d7e6f5 546px,#dceaf6 585px,#eff6fc 627px,#f4f9fe 657px,#f7fbff 1083px)"></i>
<i style="height:8px;background:linear-gradient(90deg,#f7fbff 0px,#f5f9fe 408px,#f0f6fd 450px,#deebf7 510px,#d9e7f5 546px,#dbe9f6 573px,#eef5fc 621px,#f4f9fe 657px,#f7fbff 1083px)"></i>
<i style="height:8px;background:linear-gradient(90deg,#f7fbff 0px,#f5f9fe 408px,#f1f7fd 447px,#dfecf7 510px,#dbe9f6 546px,#ddeaf7 576px,#eff6fc 624px,#f4f9fe 654px,#f7fbff 1083px)"></i>
<i style="height:8px;background:linear-gradient(90deg,#f7fbff 0px,#f5f9fe 411px,#f1f7fd 450px,#e0ecf8 513px,#dceaf6 546px,#dfebf7 576px,#eef5fc 618px,#f4f9fe 651px,#f7fbff 1083px)"></i>
<i style="height:8px;background:linear-gradient(90deg,#f7fbff 0px,#f5f9fe 414px,#deebf7 546px,#e1edf8 579px,#f1f7fd 627px,#f5f9fe 666px,#f7fbff 1083px)"></i>
<i style="height:8px;background:linear-gradient(90deg,#f7fbff 0px,#f5f9fe 417px,#e0ecf8 546px,#e3eef8 579px,#f2f8fd 633px,#f5f9fe 663px,#f7fbff 1083px)"></i>
<i style="height:8px;background:linear-gradient(90deg,#f7fbff 0px,#f5f9fe 417px,#e2edf8 546px,#e4eff9 579px,#f2f7fd 627px,#f5f9fe 660px,#f7fbff 1083px)"></i>
<i style="height:8px;background:linear-gradient(90deg,#f7fbff 0px,#f5fafe 399px,#e3eef9 546px,#e5eff9 576px,#f5f9fe 657px,#f7fbff 1083px)"></i>
<i style="height:8px;background:linear-gradient(90deg,#f7fbff 0px,#f5fafe 402px,#e4eff9 546px,#e6f0f9 576px,#f5f9fe 654px,#f7fbff 1083px)"></i>
<i style="height:8px;background:linear-gradient(90deg,#f7fbff 0px,#f5fafe 405px,#e5eff9 546px,#e7f1fa 582px,#f5f9fe 651px,#f7fbff 1083px)"></i>
<i style="height:8px;background:linear-gradient(90deg,#f7fbff 0px,#f5fafe 408px,#e6f0f9 546px,#f5fafe 672px,#f7fbff 1083px)"></i>
<i style="height:8px;background:linear-gradient(90deg,#f7fbff 0px,#f5fafe 411px,#e7f0fa 546px,#f5fafe 669px,#f7fbff 1083px)"></i>
<i style="height:8px;background:linear-gradient(90deg,#f7fbff 0px,#f5fafe 414px,#e7f1fa 546px,#f5fafe 666px,#f7fbff 1083px)"></i>
<i style="height:8px;background:linear-gradient(90deg,#f7fbff 0px,#f5fafe 417px,#e8f1fa 546px,#f5fafe 663px,#f7fbff 1083px)"></i>
<i style="height:8px;background:linear-gradient(90deg,#f7fbff 0px,#f5fafe 420px,#e9f2fa 546px,#f5fafe 660px,#f7fbff 1083px)"></i>
<i style="height:8px;background:linear-gradient(90deg,#f7fbff 0px,#f5fafe 423px,#eaf2fb 546px,#f5fafe 657px,#f7fbff 1083px)"></i>
<i style="height:8px;background:linear-gradient(90deg,#f7fbff 0px,#f6faff 396px,#eaf3fb 540px,#f5fafe 654px,#f7fbff 1083px)"></i>
<i style="height:8px;background:linear-gradient(90deg,#f7fbff 0px,#f6faff 399px,#eaf3fb 546px,#f5fafe 651px,#f7fbff 1083px)"></i>
<i style="height:8px;background:linear-gradient(90deg,#f7fbff 0px,#f6faff 402px,#ebf3fb 537px,#f6faff 681px,#f7fbff 1083px)"></i>
<i style="height:8px;background:linear-gradient(90deg,#f7fbff 0px,#f6faff 408px,#ebf3fb 546px,#f6faff 675px,#f7fbff 1083px)"></i>
<i style="height:8px;background:linear-gradient(90deg,#f7fbff 0px,#f6faff 411px,#ecf4fb 537px,#f6faff 669px,#f7fbff 1083px)"></i>
<i style="height:8px;background:linear-gradient(90deg,#f7fbff 0px,#f6faff 414px,#ecf4fb 546px,#f6faff 666px,#f7fbff 1083px)"></i>
<i style="height:8px;background:linear-gradient(90deg,#f7fbff 0px,#f6faff 420px,#edf4fc 537px,#f6faff 660px,#f7fbff 1083px)"></i>
<i style="height:8px;background:linear-gradient(90deg,#f7fbff 0px,#f6faff 423px,#edf4fc 546px,#f6faff 657px,#f7fbff 1083px)"></i>
<i style="height:8px;background:linear-gradient(90deg,#f7fbff 0px,#f6faff 426px,#eef5fc 534px,#f6faff 651px,#f7fbff 1083px)"></i>
<i style="height:8px;background:linear-gradient(90deg,#f7fbff 0px,#f6faff 429px,#eef5fc 546px,#f6faff 648px,#f7fbff 1083px)"></i>
<i style="height:8px;background:linear-gradient(90deg,#f7fbff 0px,#f6faff 429px,#eef5fc 534px,#f6faff 648px,#f7fbff 1083px)"></i>
<i style="height:8px;background:linear-gradient(90deg,#f7fbff 0px,#f6faff 432px,#eef5fc 546px,#f6faff 645px,#f7fbff 1083px)"></i>
<i style="height:8px;background:linear-gradient(90deg,#f7fbff 0px,#f7fbff 384px,#eff6fc 531px,#f6faff 645px,#f7fbff 1083px)"></i>
<i style="height:8px;background:linear-gradient(90deg,#f7fbff 0px,#f7fbff 387px,#eff6fc 543px,#f6faff 642px,#f7fbff 1083px)"></i>
<i style="height:8px;background:linear-gradient(90deg,#f7fbff 0px,#f7fbff 390px,#eff6fc 546px,#f6faff 639px,#f7fbff 1083px)"></i>
<i style="height:8px;background:linear-gradient(90deg,#f7fbff 0px,#f7fbff 393px,#f0f6fd 531px,#f7fbff 693px,#f7fbff 1083px)"></i>
<i style="height:8px;background:linear-gradient(90deg,#f7fbff 0px,#f7fbff 396px,#f0f6fd 537px,#f7fbff 687px,#f7fbff 1083px)"></i>
<i style="height:8px;background:linear-gradient(90deg,#f7fbff 0px,#f7fbff 399px,#f0f6fd 546px,#f7fbff 684px,#f7fbff 1083px)"></i>
<i style="height:8px;background:linear-gradient(90deg,#f7fbff 0px,#f7fbff 402px,#f1f7fd 525px,#f7fbff 681px,#f7fbff 1083px)"></i>
<i style="height:8px;background:linear-gradient(90deg,#f7fbff 0px,#f7fbff 405px,#f1f7fd 531px,#f7fbff 675px,#f7fbff 1083px)"></i>
<i style="height:8px;background:linear-gradient(90deg,#f7fbff 0px,#f7fbff 408px,#f1f7fd 543px,#f7fbff 672px,#f7fbff 1083px)"></i>
<i style="height:8px;background:linear-gradient(90deg,#f7fbff 0px,#f7fbff 414px,#f1f7fd 546px,#f7fbff 669px,#f7fbff 1083px)"></i>
<i style="height:8px;background:linear-gradient(90deg,#f7fbff 0px,#f7fbff 417px,#f2f7fd 528px,#f7fbff 663px,#f7fbff 1083px)"></i>
<i style="height:8px;background:linear-gradient(90deg,#f7fbff 0px,#f7fbff 420px,#f2f7fd 537px,#f7fbff 660px,#f7fbff 1083px)"></i>
<i style="height:8px;background:linear-gradient(90deg,#f7fbff 0px,#f7fbff 423px,#f2f7fd 546px,#f7fbff 657px,#f7fbff 1083px)"></i>
<i style="height:8px;background:linear-gradient(90deg,#f7fbff 0px,#f7fbff 426px,#f2f8fd 522px,#f7fbff 651px,#f7fbff 1083px)"></i>
<i style="height:8px;background:linear-gradient(90deg,#f7fbff 0px,#f7fbff 429px,#f2f8fd 531px,#f7fbff 648px,#f7fbff 1083px)"></i>
<i style="height:8px;background:linear-gradient(90deg,#f7fbff 0px,#f7fbff 432px,#f2f8fd 540px,#f7fbff 645px,#f7fbff 1083px)"></i>
<i style="height:8px;background:linear-gradient(90deg,#f7fbff 0px,#f7fbff 435px,#f3f8fe 519px,#f7fbff 642px,#f7fbff 1083px)"></i>
<i style="height:8px;background:linear-gradient(90deg,#f7fbff 0px,#f7fbff 438px,#f3f8fe 525px,#f7fbff 639px,#f7fbff 1083px)"></i>
<i style="height:8px;background:linear-gradient(90deg,#f7fbff 0px,#f7fbff 441px,#f3f8fe 534px,#f7fbff 636px,#f7fbff 1083px)"></i>
<i style="height:8px;background:linear-gradient(90deg,#f7fbff 0px,#f7fbff 441px,#f3f8fe 546px,#f7fbff 633px,#f7fbff 1083px)"></i>
<i style="height:8px;background:linear-gradient(90deg,#f7fbff 0px,#f4f9fe 519px,#f7fbff 1083px)"></i>
<i style="height:8px;background:linear-gradient(90deg,#f7fbff 0px,#f4f9fe 525px,#f7fbff 1083px)"></i>
<i style="height:8px;background:linear-gradient(90deg,#f7fbff 0px,#f4f9fe 540px,#f7fbff 1083px)"></i>
<i style="height:8px;background:#f7fbff"></i>
<i style="height:8px;background:#f7fbff"></i>
<i style="height:8px;background:#f7fbff"></i>
<i style="height:8px;background:#f7fbff"></i>
<i style="height:8px;background:#f7fbff"></i>
<i style="height:8px;background:#f7fbff"></i>
<i style="height:8px;background:#f7fbff"></i>
<i style="height:8px;background:#f7fbff"></i>
<i style="height:8px;background:#f7fbff"></i>
<i style="height:8px;background:#f7fbff"></i>
<i style="height:8px;background:#f7fbff"></i>
<i style="height:8px;background:#f7fbff"></i>
<i style="height:8px;background:#f7fbff"></i>
<i style="height:8px;background:#f7fbff"></i>
<i style="height:8px;background:#f7fbff"></i>
<i style="height:8px;background:#f7fbff"></i>
<i style="height:8px;background:#f7fbff"></i>
<i style="height:8px;background:#f7fbff"></i>
<i style="height:8px;background:#f7fbff"></i>
<i style="height:8px;background:#f7fbff"></i>
<i style="height:8px;background:#f7fbff"></i>
<i style="height:8px;background:#f7fbff"></i>
<i style="height:8px;background:#f7fbff"></i>
<i style="height:8px;background:#f7fbff"></i>
<i style="height:8px;background:#f7fbff"></i>
<i style="height:8px;background:#f7fbff"></i>
<i style="height:8px;background:#f7fbff"></i>
<i style="height:8px;background:#f7fbff"></i>
<i style="height:8px;background:#f7fbff"></i>
<i style="height:8px;background:#f7fbff"></i>
<i style="height:8px;background:#f7fbff"></i>
<i style="height:8px;background:#f7fbff"></i>
<i style="height:8px;background:#f7fbff"></i>
<i style="height:8px;background:#f7fbff"></i>
<i style="height:8px;background:#f7fbff"></i>
<i style="height:8px;background:#f7fbff"></i>
<i style="height:8px;background:#f7fbff"></i>
<i style="height:8px;background:#f7fbff"></i>
<i style="height:8px;background:#f7fbff"></i>
<i style="height:7px;background:#f7fbff"></i>
</div>
<div class="hm" style="left:1286.5px;top:1237.7px;width:1083.0px;height:1763.0px">
<i style="height:4px;background:linear-gradient(90deg,#e7f1fa 0px,#e4eff9 207px,#deebf7 276px,#d3e4f3 315px,#c7dbef 339px,#b8d5ea 351px,#99c7e0 369px,#69add5 387px,#4292c6 402px,#2474b7 417px,#0a549e 441px,#08468b 453px,#08306b 477px,#08306b 624px,#083776 633px,#09529d 651px,#2272b6 669px,#3080bd 675px,#5da5d1 690px,#9fcae1 711px,#c4daee 732px,#d3e4f3 756px,#dceaf6 792px,#e3eef9 864px,#e7f1fa 1083px)"></i>
<i style="height:4px;background:linear-gradient(90deg,#e8f1fa 0px,#e4eff9 231px,#dfebf7 288px,#d5e5f4 327px,#c6dbef 354px,#b5d4e9 366px,#9ac8e0 381px,#4997c9 411px,#2d7dbb 423px,#08519c 453px,#084a91 459px,#083979 474px,#08306b 486px,#08306b 615px,#083776 624px,#0a539e 642px,#2070b4 657px,#3484bf 666px,#519ccc 675px,#84bcdb 690px,#a0cbe2 699px,#b3d3e8 708px,#c6dbef 720px,#d6e5f4 747px,#e3eef9 840px,#e8f1fa 1083px)"></i>
<i style="height:4px;background:linear-gradient(90deg,#e9f2fa 0px,#e5eff9 240px,#dfecf7 300px,#d4e4f4 342px,#c4daee 366px,#9dcae1 390px,#69add5 408px,#3282be 429px,#1e6db2 441px,#084f99 462px,#084184 474px,#08306b 492px,#08306b 609px,#083877 618px,#08509b 633px,#1e6db2 648px,#3282be 657px,#6dafd7 675px,#8fc2de 684px,#b5d4e9 699px,#c8dcf0 711px,#d8e7f5 741px,#e6f0f9 861px,#e9f2fa 1083px)"></i>
<i style="height:4px;background:linear-gradient(90deg,#eaf2fb 0px,#e6f0f9 243px,#dfecf7 309px,#d7e6f5 342px,#c4daee 372px,#a0cbe2 393px,#74b3d8 408px,#3787c0 429px,#1562a9 450px,#084d96 465px,#083a7a 480px,#08306b 492px,#08306b 609px,#083d7f 621px,#09529d 633px,#3080bd 654px,#6dafd7 672px,#9cc9e1 684px,#bed8ec 699px,#c7dcef 705px,#d7e6f5 732px,#dfecf7 771px,#e6f0f9 843px,#eaf2fb 1083px)"></i>
<i style="height:4px;background:linear-gradient(90deg,#eaf3fb 0px,#e7f0fa 246px,#e1edf8 309px,#d6e6f4 351px,#c7dcef 375px,#bad6eb 384px,#9cc9e1 399px,#6aaed6 414px,#3686c0 432px,#206fb4 444px,#084e98 465px,#083877 483px,#08306b 495px,#08306b 609px,#083a7a 618px,#084f99 630px,#206fb4 645px,#3686c0 654px,#6dafd7 669px,#9dcae1 681px,#bcd7eb 693px,#c6dbef 699px,#d6e6f4 723px,#dfecf7 762px,#e7f0fa 840px,#eaf3fb 1083px)"></i>
<i style="height:4px;background:linear-gradient(90deg,#eaf3fb 0px,#e8f1fa 231px,#e3eef9 300px,#d9e8f5 348px,#c7dcef 378px,#b4d3e9 390px,#99c7e0 402px,#68acd5 417px,#3a8ac2 432px,#2272b6 444px,#08509b 465px,#083c7d 480px,#08306b 495px,#08306b 606px,#083471 612px,#084184 621px,#08519c 630px,#2373b6 645px,#3b8bc2 654px,#84bcdb 672px,#a4cce3 681px,#bad6eb 690px,#ccdff1 702px,#dae8f6 729px,#e3eef8 777px,#e8f1fa 855px,#eaf3fb 1083px)"></i>
<i style="height:4px;background:linear-gradient(90deg,#ebf3fb 0px,#e7f1fa 264px,#e2edf8 321px,#d9e7f5 354px,#c3daee 384px,#9fcae1 402px,#6dafd7 417px,#3888c1 435px,#2070b4 447px,#084e98 468px,#083a7a 483px,#08306b 495px,#08306b 606px,#083e81 618px,#0a549e 630px,#2070b4 642px,#3888c1 651px,#71b1d7 666px,#8cc0dd 672px,#a1cbe2 678px,#b9d6ea 687px,#c6dbef 693px,#ccdff1 699px,#dbe9f6 726px,#e8f1fa 837px,#ebf3fb 1083px)"></i>
<i style="height:4px;background:linear-gradient(90deg,#ecf4fb 0px,#e9f2fa 252px,#e3eef8 324px,#dce9f6 351px,#caddf0 381px,#bdd7ec 390px,#9dcae1 405px,#6aaed6 420px,#3c8cc3 435px,#2373b6 447px,#08509b 468px,#084082 480px,#083370 492px,#08306b 498px,#08306b 606px,#083b7c 615px,#08519c 627px,#1d6cb1 639px,#3484bf 648px,#4896c8 654px,#94c4df 672px,#b8d5ea 684px,#c4daee 690px,#cee0f2 699px,#dce9f6 723px,#e3eef9 762px,#e9f2fa 834px,#ecf4fb 1083px)"></i>
<i style="height:4px;background:linear-gradient(90deg,#edf4fc 0px,#eaf2fb 255px,#e3eef9 327px,#dbe9f6 357px,#c7dbef 387px,#b0d2e7 399px,#9ac8e0 408px,#4191c6 435px,#2171b5 450px,#09529d 468px,#083d7f 483px,#08306b 498px,#08306b 603px,#08316d 606px,#083d7f 615px,#0a549e 627px,#2070b4 639px,#3989c1 648px,#68acd5 660px,#9cc9e1 672px,#bdd7ec 684px,#c8dcf0 690px,#d1e2f3 699px,#dae8f6 714px,#e3eef8 747px,#eaf2fb 831px,#edf4fc 1083px)"></i>
<i style="height:4px;background:linear-gradient(90deg,#eef5fc 0px,#eaf2fb 273px,#e4eff9 330px,#dae8f6 363px,#c6dbef 390px,#a0cbe2 408px,#6dafd7 423px,#3d8dc4 438px,#2474b7 450px,#0a549e 468px,#083e81 483px,#08306b 498px,#08306b 603px,#083a7a 612px,#08509b 624px,#2474b7 639px,#3e8ec4 648px,#6fb0d7 660px,#97c6df 669px,#bcd7eb 681px,#c7dcef 687px,#d1e2f3 696px,#ddeaf7 717px,#e6f0f9 762px,#eaf3fb 828px,#eef5fc 1083px)"></i>
<i style="height:4px;background:linear-gradient(90deg,#eef5fc 0px,#ebf3fb 261px,#e7f0fa 324px,#ddeaf7 360px,#c6dbef 393px,#9fcae1 411px,#69add5 426px,#3b8bc2 441px,#2272b6 453px,#0c56a0 468px,#084184 483px,#083370 495px,#08306b 501px,#08306b 603px,#083c7d 612px,#0a539e 624px,#2171b5 636px,#3a8ac2 645px,#69add5 657px,#94c4df 666px,#a0cbe2 669px,#c1d9ed 681px,#d1e2f3 693px,#deebf7 714px,#e6f0f9 750px,#ebf3fb 825px,#eef5fc 1083px)"></i>
<i style="height:4px;background:linear-gradient(90deg,#eff6fc 0px,#ecf4fb 264px,#e7f1fa 327px,#deebf7 363px,#d3e4f3 381px,#c4daee 396px,#9cc9e1 414px,#65aad4 429px,#3f8fc5 441px,#1b69af 459px,#0a549e 471px,#084a91 477px,#083a7a 489px,#08306b 501px,#08306b 600px,#083979 609px,#08509b 621px,#1e6db2 633px,#3f8fc5 645px,#65aad4 654px,#9cc9e1 666px,#bfd8ed 678px,#c7dbef 681px,#d3e4f3 693px,#dfebf7 711px,#e5eff9 735px,#ebf3fb 804px,#eff6fc 1083px)"></i>
<i style="height:4px;background:linear-gradient(90deg,#f0f6fd 0px,#edf4fc 267px,#eaf2fb 318px,#e1edf8 360px,#d3e4f3 384px,#c3daee 399px,#99c7e0 417px,#4e9acb 438px,#3686c0 447px,#1966ad 462px,#08519c 474px,#084c95 477px,#083b7c 489px,#08306b 501px,#08306b 600px,#083b7c 609px,#0a539e 621px,#2171b5 633px,#3b8bc2 642px,#6caed6 654px,#97c6df 663px,#add0e6 669px,#c4daee 678px,#d6e6f4 693px,#e2edf8 714px,#edf4fc 819px,#f0f6fd 1083px)"></i>
<i style="height:4px;background:linear-gradient(90deg,#f0f6fd 0px,#eef5fc 267px,#eaf2fb 324px,#e1edf8 363px,#d9e8f5 378px,#c7dbef 399px,#9dcae1 417px,#66abd4 432px,#4090c5 444px,#206fb4 459px,#084e98 477px,#083c7d 489px,#08306b 501px,#08306b 600px,#083877 606px,#084f99 618px,#1d6cb1 630px,#3f8fc5 642px,#9fcae1 663px,#c2d9ee 675px,#d6e5f4 690px,#e1edf8 708px,#e9f2fa 747px,#eef5fc 819px,#f0f6fd 1083px)"></i>
<i style="height:6px;background:linear-gradient(90deg,#f1f7fd 0px,#eef5fc 270px,#eaf3fb 321px,#e2edf8 363px,#dae8f6 378px,#c8dcf0 399px,#a0cbe2 417px,#69add5 432px,#4191c6 444px,#2d7dbb 453px,#0a539e 474px,#084184 486px,#08306b 501px,#08306b 600px,#083877 606px,#084f99 618px,#1e6db2 630px,#4191c6 642px,#a1cbe2 663px,#c4daee 675px,#d4e4f4 687px,#e3eef8 711px,#eef5fc 813px,#f1f7fd 1083px)"></i>
<i style="height:6px;background:linear-gradient(90deg,#f1f7fd 0px,#eef5fc 279px,#e3eef8 363px,#d9e8f5 381px,#c6dbef 402px,#9ac8e0 420px,#6caed6 432px,#4493c7 444px,#2777b8 456px,#0a549e 474px,#084285 486px,#08306b 501px,#08306b 600px,#083d7f 609px,#08509b 618px,#206fb4 630px,#3a8ac2 639px,#6caed6 651px,#99c7e0 660px,#c7dbef 675px,#d8e7f5 690px,#e3eef9 711px,#eef5fc 828px,#f1f7fd 1083px)"></i>
<i style="height:6px;background:linear-gradient(90deg,#f1f7fd 0px,#eef5fc 285px,#e8f1fa 345px,#dfecf7 372px,#c7dcef 402px,#9dcae1 420px,#4695c8 444px,#3080bd 453px,#2272b6 459px,#0b559f 474px,#084285 486px,#08306b 501px,#08306b 600px,#083e81 609px,#08519c 618px,#2171b5 630px,#3383be 636px,#4896c8 642px,#9dcae1 660px,#c2d9ee 672px,#d6e6f4 687px,#e2edf8 705px,#eaf2fb 744px,#eef5fc 801px,#f1f7fd 1083px)"></i>
<i style="height:6px;background:linear-gradient(90deg,#f1f7fd 0px,#eef5fc 291px,#e9f2fa 342px,#e0ecf8 372px,#d7e6f5 387px,#c4daee 405px,#a0cbe2 420px,#68acd5 435px,#3888c1 450px,#2373b6 459px,#0b559f 474px,#084285 486px,#08306b 501px,#08306b 597px,#08316d 600px,#083979 606px,#09529d 618px,#2272b6 630px,#3f8fc5 639px,#66abd4 648px,#a0cbe2 660px,#c6dbef 672px,#dae8f6 690px,#e3eef8 705px,#eaf2fb 741px,#eef5fc 813px,#f1f7fd 1083px)"></i>
<i style="height:6px;background:linear-gradient(90deg,#f2f7fd 0px,#eef5fc 279px,#eaf3fb 336px,#e1edf8 372px,#d0e2f2 396px,#c1d9ed 408px,#99c7e0 423px,#4191c6 447px,#1f6eb3 462px,#08519c 477px,#084c95 480px,#083979 492px,#08306b 501px,#08306b 597px,#083573 603px,#0a549e 618px,#1c6bb0 627px,#4191c6 639px,#a4cce3 660px,#c7dcef 672px,#d9e7f5 687px,#e3eef9 705px,#eaf3fb 744px,#eff6fc 828px,#f2f7fd 1083px)"></i>
<i style="height:6px;background:linear-gradient(90deg,#f2f7fd 0px,#eef5fc 285px,#eaf3fb 339px,#e2edf8 372px,#d4e4f4 393px,#c2d9ee 408px,#9cc9e1 423px,#4493c7 447px,#206fb4 462px,#08519c 477px,#084c95 480px,#08306b 501px,#08306b 597px,#083573 603px,#084e98 615px,#1e6db2 627px,#4493c7 639px,#9cc9e1 657px,#c3daee 669px,#dae8f6 687px,#e5eff9 708px,#eff6fc 822px,#f2f7fd 1083px)"></i>
<i style="height:6px;background:linear-gradient(90deg,#f2f7fd 0px,#eef5fc 291px,#eaf3fb 342px,#e1edf8 375px,#d3e3f3 396px,#c4daee 408px,#9fcae1 423px,#65aad4 438px,#3d8dc4 450px,#1c6ab0 465px,#084d96 480px,#083e81 489px,#08306b 501px,#08306b 597px,#083674 603px,#084f99 615px,#206fb4 627px,#3c8cc3 636px,#63a8d3 645px,#9fcae1 657px,#c6dbef 669px,#d6e5f4 681px,#e3eef9 702px,#eaf2fb 729px,#eff6fc 813px,#f2f7fd 1083px)"></i>
<i style="height:6px;background:linear-gradient(90deg,#f2f7fd 0px,#eff6fc 279px,#ebf3fb 339px,#e2edf8 375px,#d9e7f5 390px,#c6dbef 408px,#aacfe5 420px,#97c6df 426px,#68acd5 438px,#3f8fc5 450px,#2272b6 462px,#084e98 480px,#083776 495px,#08306b 504px,#08306b 597px,#083776 603px,#08519c 615px,#2171b5 627px,#3f8fc5 636px,#66abd4 645px,#a3cce3 657px,#c7dcef 669px,#d9e8f5 684px,#e4eff9 702px,#eff6fc 807px,#f2f7fd 1083px)"></i>
<i style="height:6px;background:linear-gradient(90deg,#f2f8fd 0px,#f0f6fd 264px,#ebf3fb 342px,#e5eff9 369px,#d9e8f5 390px,#c2d9ee 411px,#9ac8e0 426px,#6aaed6 438px,#4191c6 450px,#1e6db2 465px,#0b559f 477px,#083471 498px,#08316d 501px,#08306b 510px,#08306b 597px,#083877 603px,#09529d 615px,#2474b7 627px,#4191c6 636px,#99c7e0 654px,#c2d9ee 666px,#d4e4f4 678px,#e3eef9 699px,#eaf3fb 729px,#eff6fc 801px,#f2f8fd 1083px)"></i>
<i style="height:6px;background:linear-gradient(90deg,#f2f8fd 0px,#f0f6fd 273px,#edf4fc 330px,#e4eff9 372px,#d5e5f4 396px,#c8dcf0 408px,#bdd7ec 414px,#92c4de 429px,#4292c6 450px,#1f6eb3 465px,#08509b 480px,#084184 489px,#08316d 501px,#08306b 510px,#08306b 597px,#083e81 606px,#0a539e 615px,#2575b7 627px,#4493c7 636px,#9cc9e1 654px,#c3daee 666px,#cee0f2 672px,#dbe9f6 684px,#e4eff9 699px,#ecf4fb 741px,#f0f6fd 813px,#f2f8fd 1083px)"></i>
<i style="height:6px;background:linear-gradient(90deg,#f2f8fd 0px,#f0f6fd 279px,#edf4fc 333px,#e3eef9 375px,#d6e5f4 396px,#bed8ec 414px,#9fcae1 426px,#4594c7 450px,#1b69af 468px,#08519c 480px,#083573 498px,#08306b 504px,#08306b 510px,#08306b 597px,#084082 606px,#0b559f 615px,#1f6eb3 624px,#3b8bc2 633px,#61a7d2 642px,#9fcae1 654px,#c6dbef 666px,#d6e6f4 678px,#e3eef9 696px,#ebf3fb 729px,#eff6fc 786px,#f2f8fd 1083px)"></i>
<i style="height:6px;background:linear-gradient(90deg,#f2f8fd 0px,#f0f6fd 285px,#ebf3fb 348px,#e3eef8 378px,#d6e6f4 396px,#c7dbef 411px,#97c6df 429px,#4695c8 450px,#1c6ab0 468px,#09529d 480px,#083573 498px,#08306b 504px,#08306b 510px,#08306b 594px,#083573 600px,#084e98 612px,#206fb4 624px,#3d8dc4 633px,#64a9d3 642px,#94c4df 651px,#a1cbe2 654px,#c7dcef 666px,#dae8f6 681px,#e4eff9 696px,#ebf3fb 726px,#f0f6fd 798px,#f2f8fd 1083px)"></i>
<i style="height:6px;background:linear-gradient(90deg,#f3f8fe 0px,#f0f6fd 294px,#e6f0f9 372px,#d7e6f5 396px,#c2d9ee 414px,#99c7e0 429px,#69add5 441px,#3f8fc5 453px,#1c6bb0 468px,#084d96 483px,#083e81 492px,#08306b 504px,#08306b 594px,#08316d 597px,#083b7c 603px,#08509b 612px,#2171b5 624px,#3f8fc5 633px,#68acd5 642px,#97c6df 651px,#c1d9ed 663px,#d5e5f4 675px,#e6f0f9 699px,#edf4fc 738px,#f1f7fd 813px,#f3f8fe 1083px)"></i>
<i style="height:6px;background:linear-gradient(90deg,#f3f8fe 0px,#f0f6fd 300px,#ebf3fb 354px,#e5eff9 375px,#d6e5f4 399px,#c3daee 414px,#9cc9e1 429px,#6aaed6 441px,#4191c6 453px,#2373b6 465px,#084e98 483px,#083e81 492px,#08306b 504px,#08306b 594px,#08326e 597px,#083c7d 603px,#08519c 612px,#2373b6 624px,#4191c6 633px,#6aaed6 642px,#9ac8e0 651px,#c3daee 663px,#dce9f6 681px,#e7f0fa 699px,#f1f7fd 807px,#f3f8fe 1083px)"></i>
<i style="height:6px;background:linear-gradient(90deg,#f3f8fe 0px,#f1f7fd 288px,#eef5fc 339px,#e6f0f9 375px,#d6e6f4 399px,#c4daee 414px,#9dcae1 429px,#4292c6 453px,#1f6eb3 468px,#084f99 483px,#084082 492px,#08306b 504px,#08306b 594px,#083776 600px,#09529d 612px,#2474b7 624px,#4493c7 633px,#6dafd7 642px,#9dcae1 651px,#c6dbef 663px,#dceaf6 681px,#e6f0f9 696px,#ecf4fb 723px,#f1f7fd 798px,#f3f8fe 1083px)"></i>
<i style="height:6px;background:linear-gradient(90deg,#f3f8fe 0px,#f1f7fd 294px,#ecf4fb 354px,#e5eff9 378px,#d7e6f5 399px,#cadef0 411px,#bfd8ed 417px,#95c5df 432px,#5aa2cf 447px,#3c8cc3 456px,#206fb4 468px,#08509b 483px,#083b7c 495px,#08306b 504px,#08306b 594px,#083877 600px,#0a539e 612px,#2676b8 624px,#4594c7 633px,#9fcae1 651px,#c7dbef 663px,#ddeaf7 681px,#e7f1fa 699px,#eef5fc 735px,#f2f7fd 816px,#f3f8fe 1083px)"></i>
<i style="height:6px;background:linear-gradient(90deg,#f4f9fe 0px,#f2f7fd 279px,#eef5fc 339px,#e7f0fa 375px,#d8e7f5 399px,#c7dcef 414px,#a1cbe2 429px,#4695c8 453px,#2070b4 468px,#115ca5 477px,#08519c 483px,#084184 492px,#08306b 504px,#08306b 507px,#08306b 594px,#083979 600px,#0b559f 612px,#1f6eb3 621px,#3c8cc3 630px,#64a9d3 639px,#94c4df 648px,#c1d9ed 660px,#d9e7f5 675px,#e6f0f9 693px,#edf4fc 723px,#f2f7fd 807px,#f4f9fe 1083px)"></i>
<i style="height:6px;background:linear-gradient(90deg,#f4f9fe 0px,#f2f7fd 288px,#eef5fc 342px,#e7f1fa 375px,#d0e1f2 408px,#c3daee 417px,#a4cce3 429px,#4997c9 453px,#2171b5 468px,#08519c 483px,#083471 501px,#08306b 507px,#08306b 594px,#084e98 609px,#2070b4 621px,#3e8ec4 630px,#97c6df 648px,#c3daee 660px,#d9e8f5 675px,#e5eff9 690px,#ecf4fb 714px,#f1f7fd 777px,#f4f9fe 1083px)"></i>
<i style="height:6px;background:linear-gradient(90deg,#f4f9fe 0px,#f2f7fd 294px,#eef5fc 345px,#e7f0fa 378px,#d9e8f5 399px,#c4daee 417px,#9cc9e1 432px,#6aaed6 444px,#4191c6 456px,#2373b6 468px,#125ea6 477px,#09529d 483px,#083d7f 495px,#08316d 504px,#08306b 507px,#08306b 594px,#084184 603px,#084f99 609px,#1a68ae 618px,#4090c5 630px,#6aaed6 639px,#9ac8e0 648px,#c4daee 660px,#ddeaf7 678px,#e8f1fa 696px,#eef5fc 732px,#f2f8fd 816px,#f4f9fe 1083px)"></i>
<i style="height:6px;background:linear-gradient(90deg,#f4f9fe 0px,#f2f8fd 279px,#eef5fc 348px,#e6f0f9 381px,#dae8f6 399px,#cadef0 414px,#bfd8ed 420px,#9fcae1 432px,#6dafd7 444px,#4292c6 456px,#1966ad 474px,#084e98 486px,#083979 498px,#08306b 507px,#08306b 591px,#08316d 594px,#083b7c 600px,#08519c 609px,#2373b6 621px,#4292c6 630px,#9dcae1 648px,#c7dbef 660px,#deebf7 678px,#e7f1fa 693px,#eef5fc 720px,#f2f8fd 807px,#f4f9fe 1083px)"></i>
<i style="height:6px;background:linear-gradient(90deg,#f4f9fe 0px,#f2f7fd 306px,#e7f1fa 378px,#d8e7f5 402px,#c7dbef 417px,#a0cbe2 432px,#4493c7 456px,#1f6eb3 471px,#084e98 486px,#083e81 495px,#08306b 507px,#08306b 591px,#08316d 594px,#083674 597px,#09529d 609px,#1c6bb0 618px,#4594c7 630px,#6fb0d7 639px,#a0cbe2 648px,#bfd8ed 657px,#cddff1 663px,#d9e7f5 672px,#e7f0fa 690px,#eef5fc 726px,#f2f8fd 801px,#f4f9fe 1083px)"></i>
<i style="height:6px;background:linear-gradient(90deg,#f4f9fe 0px,#f2f7fd 306px,#edf4fc 360px,#e5eff9 384px,#cfe1f2 411px,#c1d9ed 420px,#a0cbe2 432px,#8abfdd 438px,#4594c7 456px,#1967ad 474px,#084f99 486px,#083e81 495px,#08306b 507px,#08306b 591px,#08316d 594px,#09529d 609px,#1d6cb1 618px,#3a8ac2 627px,#71b1d7 639px,#92c4de 645px,#add0e6 651px,#c1d9ed 657px,#d6e5f4 669px,#e8f1fa 693px,#eef5fc 717px,#f2f8fd 801px,#f4f9fe 1083px)"></i>
<i style="height:6px;background:linear-gradient(90deg,#f5f9fe 0px,#f2f7fd 309px,#eef5fc 351px,#e7f0fa 381px,#d9e7f5 402px,#c2d9ee 420px,#97c6df 435px,#5ba3d0 450px,#3d8dc4 459px,#206fb4 471px,#084f99 486px,#083e81 495px,#08306b 507px,#08306b 591px,#083776 597px,#0a539e 609px,#1e6db2 618px,#3b8bc2 627px,#72b2d8 639px,#94c4df 645px,#c2d9ee 657px,#d9e8f5 672px,#e8f1fa 693px,#eef5fc 717px,#f2f8fd 798px,#f5f9fe 1083px)"></i>
<i style="height:6px;background:linear-gradient(90deg,#f5f9fe 0px,#f2f8fd 288px,#eff6fc 345px,#e7f0fa 381px,#d9e7f5 402px,#c2d9ee 420px,#99c7e0 435px,#72b2d8 444px,#4695c8 456px,#206fb4 471px,#084f99 486px,#083a7a 498px,#08306b 507px,#08306b 591px,#083776 597px,#0a539e 609px,#1f6eb3 618px,#3c8cc3 627px,#74b3d8 639px,#95c5df 645px,#c2d9ee 657px,#d6e6f4 669px,#e6f0f9 687px,#edf4fc 711px,#f2f7fd 777px,#f5f9fe 1083px)"></i>
<i style="height:6px;background:linear-gradient(90deg,#f5f9fe 0px,#f2f8fd 288px,#eff6fc 345px,#e8f1fa 378px,#d6e6f4 405px,#c3daee 420px,#99c7e0 435px,#68acd5 447px,#3e8ec4 459px,#2070b4 471px,#08509b 486px,#083a7a 498px,#08306b 507px,#08306b 591px,#083776 597px,#0a549e 609px,#1f6eb3 618px,#3d8dc4 627px,#75b4d8 639px,#97c6df 645px,#c3daee 657px,#dae8f6 672px,#e7f1fa 690px,#eef5fc 723px,#f2f7fd 774px,#f5f9fe 1083px)"></i>
<i style="height:6px;background:linear-gradient(90deg,#f5f9fe 0px,#f2f7fd 312px,#eef5fc 357px,#e6f0f9 384px,#d0e2f2 411px,#bdd7ec 423px,#9ac8e0 435px,#5da5d1 450px,#3f8fc5 459px,#2070b4 471px,#08509b 486px,#083a7a 498px,#08306b 507px,#08306b 591px,#08326e 594px,#0a549e 609px,#206fb4 618px,#3e8ec4 627px,#68acd5 636px,#99c7e0 645px,#c4daee 657px,#d7e6f5 669px,#e7f1fa 690px,#eef5fc 723px,#f2f8fd 795px,#f5f9fe 1083px)"></i>
<i style="height:8px;background:linear-gradient(90deg,#f5f9fe 0px,#f2f8fd 291px,#f0f6fd 339px,#e7f1fa 381px,#d7e6f5 405px,#c4daee 420px,#9cc9e1 435px,#5fa6d1 450px,#4090c5 459px,#2171b5 471px,#08509b 486px,#084082 495px,#08306b 507px,#08306b 591px,#083877 597px,#0b559f 609px,#2070b4 618px,#3f8fc5 627px,#69add5 636px,#9ac8e0 645px,#c6dbef 657px,#deebf7 675px,#e9f2fa 693px,#f2f8fd 795px,#f5f9fe 1083px)"></i>
<i style="height:8px;background:linear-gradient(90deg,#f5f9fe 0px,#f2f8fd 294px,#eff6fc 348px,#e7f1fa 381px,#dae8f6 402px,#c6dbef 420px,#9dcae1 435px,#6caed6 447px,#4191c6 459px,#2272b6 471px,#125da6 480px,#08519c 486px,#083370 504px,#08306b 510px,#08306b 591px,#083370 594px,#084e98 606px,#1a68ae 615px,#3686c0 624px,#4e9acb 630px,#9cc9e1 645px,#c7dbef 657px,#d8e7f5 669px,#e7f0fa 687px,#eef5fc 720px,#f2f8fd 792px,#f5f9fe 1083px)"></i>
<i style="height:8px;background:linear-gradient(90deg,#f5f9fe 0px,#f2f7fd 315px,#eef5fc 360px,#e5eff9 387px,#d8e7f5 405px,#c7dbef 420px,#9fcae1 435px,#6dafd7 447px,#4292c6 459px,#2373b6 471px,#125ea6 480px,#09529d 486px,#083776 501px,#08306b 507px,#08306b 510px,#08306b 591px,#084184 600px,#084f99 606px,#1b69af 615px,#4292c6 627px,#6dafd7 636px,#9fcae1 645px,#c7dcef 657px,#dfebf7 675px,#e8f1fa 690px,#eef5fc 720px,#f2f8fd 789px,#f5f9fe 1083px)"></i>
<i style="height:8px;background:linear-gradient(90deg,#f5f9fe 0px,#f2f8fd 297px,#eef5fc 360px,#e7f0fa 384px,#dbe9f6 402px,#c7dcef 420px,#b2d2e8 429px,#95c5df 438px,#6fb0d7 447px,#4493c7 459px,#2474b7 471px,#135fa7 480px,#084d96 489px,#083877 501px,#08306b 507px,#08306b 510px,#08306b 591px,#083a7a 597px,#08509b 606px,#2474b7 618px,#3989c1 624px,#61a7d2 633px,#a0cbe2 645px,#c1d9ed 654px,#dceaf6 672px,#eaf2fb 693px,#f3f8fe 816px,#f5f9fe 1083px)"></i>
<i style="height:8px;background:linear-gradient(90deg,#f5f9fe 0px,#f2f8fd 297px,#eff6fc 351px,#e8f1fa 381px,#d9e7f5 405px,#ccdff1 417px,#c2d9ee 423px,#a1cbe2 435px,#4594c7 459px,#1f6eb3 474px,#0a539e 486px,#083877 501px,#08306b 510px,#08306b 591px,#08519c 606px,#2575b7 618px,#4695c8 627px,#94c4df 642px,#c2d9ee 654px,#d6e6f4 666px,#e7f1fa 687px,#eef5fc 717px,#f2f8fd 786px,#f5f9fe 1083px)"></i>
<i style="height:8px;background:linear-gradient(90deg,#f5f9fe 0px,#f2f8fd 300px,#eef5fc 357px,#e6f0f9 387px,#d6e6f4 408px,#c3daee 423px,#99c7e0 438px,#72b2d8 447px,#4695c8 459px,#1967ad 477px,#084e98 489px,#083979 501px,#08316d 507px,#08306b 510px,#08316d 591px,#0a539e 606px,#1e6db2 615px,#4896c8 627px,#a4cce3 645px,#c3daee 654px,#dae8f6 669px,#e9f2fa 690px,#f2f8fd 786px,#f5f9fe 1083px)"></i>
<i style="height:8px;background:linear-gradient(90deg,#f5f9fe 0px,#f2f8fd 303px,#eef5fc 363px,#e7f1fa 384px,#d9e8f5 405px,#c9ddf0 420px,#9ac8e0 438px,#68acd5 450px,#4896c8 459px,#206fb4 474px,#084f99 489px,#083979 501px,#08316d 507px,#08306b 510px,#08316d 591px,#0a549e 606px,#1f6eb3 615px,#3d8dc4 624px,#66abd4 633px,#97c6df 642px,#c4daee 654px,#dbe9f6 669px,#e7f0fa 684px,#eff6fc 723px,#f2f8fd 783px,#f5f9fe 1083px)"></i>
<i style="height:8px;background:linear-gradient(90deg,#f5f9fe 0px,#f2f8fd 303px,#e9f2fa 381px,#dceaf6 402px,#caddf0 420px,#9cc9e1 438px,#69add5 450px,#4997c9 459px,#2070b4 474px,#08509b 489px,#083a7a 501px,#08306b 510px,#08306b 588px,#08326e 591px,#0b559f 606px,#2070b4 615px,#3f8fc5 624px,#69add5 633px,#9ac8e0 642px,#c6dbef 654px,#d8e7f5 666px,#e8f1fa 687px,#eef5fc 714px,#f3f8fe 807px,#f5f9fe 1083px)"></i>
<i style="height:8px;background:linear-gradient(90deg,#f5f9fe 0px,#f2f8fd 306px,#eef5fc 360px,#e7f0fa 387px,#dae8f6 405px,#c6dbef 423px,#9dcae1 438px,#6aaed6 450px,#4a98c9 459px,#2171b5 474px,#08509b 489px,#083674 504px,#08306b 510px,#08306b 588px,#083877 594px,#084e98 603px,#2171b5 615px,#4090c5 624px,#6aaed6 633px,#9cc9e1 642px,#c7dbef 654px,#dfebf7 672px,#eaf2fb 690px,#f3f8fe 807px,#f5f9fe 1083px)"></i>
<i style="height:8px;background:linear-gradient(90deg,#f5f9fe 0px,#f3f8fe 282px,#f0f6fd 348px,#e8f1fa 384px,#dbe9f6 405px,#c7dbef 423px,#9fcae1 438px,#6caed6 450px,#4b98ca 459px,#2272b6 474px,#08519c 489px,#083b7c 501px,#08306b 510px,#08306b 588px,#083370 591px,#084f99 603px,#2272b6 615px,#3787c0 621px,#6dafd7 633px,#9fcae1 642px,#bfd8ed 651px,#cddff1 657px,#d9e7f5 666px,#e7f1fa 684px,#eff6fc 720px,#f2f8fd 777px,#f5f9fe 1083px)"></i>
<i style="height:8px;background:linear-gradient(90deg,#f5f9fe 0px,#f2f8fd 309px,#eef5fc 366px,#e8f1fa 384px,#d9e7f5 408px,#c7dcef 423px,#a0cbe2 438px,#4d99ca 459px,#2373b6 474px,#09529d 489px,#084184 498px,#08306b 510px,#08306b 588px,#084184 597px,#08509b 603px,#1c6ab0 612px,#4493c7 624px,#a0cbe2 642px,#c1d9ed 651px,#d9e8f5 666px,#e9f2fa 687px,#eef5fc 711px,#f3f8fe 801px,#f5f9fe 1083px)"></i>
<i style="height:8px;background:linear-gradient(90deg,#f5f9fe 0px,#f2f8fd 309px,#eef5fc 366px,#e6f0f9 390px,#d3e3f3 414px,#c1d9ed 426px,#95c5df 441px,#6fb0d7 450px,#4493c7 462px,#1d6cb1 477px,#09529d 489px,#083776 504px,#08306b 510px,#08306b 588px,#083a7a 594px,#08509b 603px,#2474b7 615px,#4594c7 624px,#a1cbe2 642px,#c9ddf0 654px,#ddeaf7 669px,#e9f2fa 687px,#f2f8fd 774px,#f5f9fe 1083px)"></i>
<i style="height:8px;background:linear-gradient(90deg,#f5f9fe 0px,#f2f8fd 312px,#eff6fc 357px,#e7f1fa 387px,#dce9f6 405px,#ccdff1 420px,#c2d9ee 426px,#a0cbe2 438px,#4e9acb 459px,#2474b7 474px,#09529d 489px,#08306b 510px,#08306b 588px,#083a7a 594px,#08519c 603px,#1c6bb0 612px,#4594c7 624px,#a1cbe2 642px,#c2d9ee 651px,#dae8f6 666px,#e9f2fa 687px,#eff6fc 717px,#f3f8fe 798px,#f5f9fe 1083px)"></i>
<i style="height:8px;background:linear-gradient(90deg,#f5f9fe 0px,#f2f8fd 312px,#eef5fc 363px,#e7f1fa 387px,#dce9f6 405px,#c8dcf0 423px,#a1cbe2 438px,#4493c7 462px,#2474b7 474px,#0a539e 489px,#083c7d 501px,#08306b 510px,#08306b 588px,#084285 597px,#08519c 603px,#1c6bb0 612px,#3a8ac2 621px,#63a8d3 630px,#94c4df 639px,#a3cce3 642px,#c2d9ee 651px,#dae8f6 666px,#e8f1fa 684px,#eff6fc 717px,#f2f8fd 771px,#f5f9fe 1083px)"></i>
<i style="height:8px;background:linear-gradient(90deg,#f5f9fe 0px,#f2f8fd 315px,#eef5fc 363px,#e7f1fa 387px,#d9e8f5 408px,#c8dcf0 423px,#a1cbe2 438px,#5aa2cf 456px,#2474b7 474px,#0a539e 489px,#083c7d 501px,#08306b 510px,#08306b 588px,#084285 597px,#08519c 603px,#2575b7 615px,#4695c8 624px,#94c4df 639px,#c3daee 651px,#d7e6f5 663px,#e8f1fa 684px,#eef5fc 708px,#f3f8fe 795px,#f5f9fe 1083px)"></i>
<i style="height:8px;background:linear-gradient(90deg,#f5f9fe 0px,#f3f8fe 291px,#f0f6fd 351px,#e9f2fa 384px,#d9e8f5 408px,#c8dcf0 423px,#a1cbe2 438px,#4594c7 462px,#1e6db2 477px,#0a539e 489px,#083c7d 501px,#08306b 510px,#08306b 588px,#08519c 603px,#1d6cb1 612px,#3b8bc2 621px,#64a9d3 630px,#95c5df 639px,#c3daee 651px,#deebf7 669px,#e8f1fa 684px,#eef5fc 708px,#f3f8fe 795px,#f5f9fe 1083px)"></i>
<i style="height:8px;background:linear-gradient(90deg,#f5f9fe 0px,#f3f8fe 294px,#f1f7fd 345px,#e9f2fa 384px,#dfebf7 402px,#cddff1 420px,#c3daee 426px,#a3cce3 438px,#4594c7 462px,#1f6eb3 477px,#0a539e 489px,#08306b 510px,#08306b 588px,#083b7c 594px,#09529d 603px,#1d6cb1 612px,#4896c8 624px,#a4cce3 642px,#c3daee 651px,#dbe9f6 666px,#eaf2fb 687px,#eff6fc 714px,#f3f8fe 792px,#f5f9fe 1083px)"></i>
<i style="height:8px;background:linear-gradient(90deg,#f5f9fe 0px,#f3f8fe 294px,#f1f7fd 345px,#e9f2fa 384px,#dceaf6 405px,#c9ddf0 423px,#a3cce3 438px,#4594c7 462px,#1f6eb3 477px,#0a539e 489px,#08306b 510px,#08306b 588px,#083b7c 594px,#09529d 603px,#1e6db2 612px,#3c8cc3 621px,#65aad4 630px,#97c6df 639px,#c4daee 651px,#dbe9f6 666px,#eaf2fb 687px,#f3f8fe 789px,#f5f9fe 1083px)"></i>
<i style="height:8px;background:linear-gradient(90deg,#f5f9fe 0px,#f3f8fe 297px,#eff6fc 360px,#e7f0fa 390px,#d7e6f5 411px,#c9ddf0 423px,#a3cce3 438px,#4695c8 462px,#1f6eb3 477px,#0a539e 489px,#08306b 510px,#08306b 588px,#09529d 603px,#1e6db2 612px,#4997c9 624px,#97c6df 639px,#c4daee 651px,#d8e7f5 663px,#eaf2fb 687px,#f3f8fe 789px,#f5f9fe 1083px)"></i>
<i style="height:8px;background:linear-gradient(90deg,#f5f9fe 0px,#f3f8fe 297px,#f0f6fd 354px,#e8f1fa 387px,#dae8f6 408px,#c9ddf0 423px,#c4daee 426px,#a4cce3 438px,#4695c8 462px,#1f6eb3 477px,#084e98 492px,#08306b 510px,#08316d 588px,#084387 597px,#0a539e 603px,#1f6eb3 612px,#3d8dc4 621px,#66abd4 630px,#99c7e0 639px,#c4daee 651px,#d8e7f5 663px,#e7f1fa 681px,#eef5fc 705px,#f3f8fe 786px,#f5f9fe 1083px)"></i>
<i style="height:8px;background:linear-gradient(90deg,#f5f9fe 0px,#f3f8fe 300px,#f0f6fd 354px,#e8f1fa 387px,#dae8f6 408px,#cde0f1 420px,#c4daee 426px,#9ac8e0 441px,#4695c8 462px,#206fb4 477px,#084e98 492px,#08306b 510px,#08316d 588px,#0a539e 603px,#1f6eb3 612px,#3d8dc4 621px,#66abd4 630px,#99c7e0 639px,#c6dbef 651px,#dce9f6 666px,#e9f2fa 684px,#eff6fc 711px,#f3f8fe 786px,#f5f9fe 1083px)"></i>
<i style="height:8px;background:linear-gradient(90deg,#f5fafe 0px,#f3f8fe 300px,#f1f7fd 348px,#e8f1fa 387px,#dae8f6 408px,#caddf0 423px,#b5d4e9 432px,#9ac8e0 441px,#68acd5 453px,#4896c8 462px,#206fb4 477px,#084e98 492px,#083471 507px,#08306b 510px,#08306b 585px,#08316d 588px,#083674 591px,#0a539e 603px,#1f6eb3 612px,#3e8ec4 621px,#68acd5 630px,#99c7e0 639px,#c6dbef 651px,#dce9f6 666px,#e9f2fa 684px,#eff6fc 711px,#f3f8fe 783px,#f5fafe 1083px)"></i>
<i style="height:8px;background:linear-gradient(90deg,#f5fafe 0px,#f3f8fe 303px,#eaf2fb 384px,#ddeaf7 405px,#caddf0 423px,#b5d4e9 432px,#9ac8e0 441px,#68acd5 453px,#4896c8 462px,#206fb4 477px,#084e98 492px,#083471 507px,#08306b 513px,#08306b 585px,#08316d 588px,#083674 591px,#0a539e 603px,#206fb4 612px,#3e8ec4 621px,#68acd5 630px,#9ac8e0 639px,#c7dbef 651px,#d9e7f5 663px,#e9f2fa 684px,#eff6fc 711px,#f3f8fe 783px,#f5fafe 1083px)"></i>
<i style="height:8px;background:linear-gradient(90deg,#f5fafe 0px,#f3f8fe 303px,#f0f6fd 357px,#eaf2fb 384px,#ddeaf7 405px,#caddf0 423px,#c6dbef 426px,#a5cde3 438px,#4896c8 462px,#206fb4 477px,#084e98 492px,#083573 507px,#08306b 513px,#08306b 585px,#08316d 588px,#0a549e 603px,#206fb4 612px,#3f8fc5 621px,#69add5 630px,#9ac8e0 639px,#c7dbef 651px,#dceaf6 666px,#eaf3fb 687px,#f3f8fe 780px,#f5fafe 1083px)"></i>
<i style="height:8px;background:linear-gradient(90deg,#f5fafe 0px,#f3f8fe 306px,#f0f6fd 357px,#eaf2fb 384px,#e2edf8 399px,#cee0f2 420px,#c6dbef 426px,#9cc9e1 441px,#539ecd 459px,#206fb4 477px,#084f99 492px,#083573 507px,#08306b 513px,#08306b 585px,#08316d 588px,#0a549e 603px,#206fb4 612px,#3f8fc5 621px,#69add5 630px,#9cc9e1 639px,#c7dbef 651px,#dfecf7 669px,#eaf3fb 687px,#f3f8fe 780px,#f5fafe 1083px)"></i>
<i style="height:8px;background:linear-gradient(90deg,#f5fafe 0px,#f3f8fe 306px,#eff6fc 363px,#e7f1fa 390px,#dbe9f6 408px,#cadef0 423px,#b7d4ea 432px,#9cc9e1 441px,#69add5 453px,#4997c9 462px,#2070b4 477px,#084f99 492px,#083573 507px,#08306b 513px,#08306b 585px,#083776 591px,#0a549e 603px,#2070b4 612px,#3f8fc5 621px,#6aaed6 630px,#9cc9e1 639px,#c7dcef 651px,#d9e8f5 663px,#e8f1fa 681px,#eff6fc 708px,#f3f8fe 777px,#f5fafe 1083px)"></i>
<i style="height:8px;background:linear-gradient(90deg,#f5fafe 0px,#f3f8fe 309px,#eff6fc 363px,#e7f1fa 390px,#dbe9f6 408px,#cadef0 423px,#afd1e7 435px,#9cc9e1 441px,#4997c9 462px,#2070b4 477px,#084f99 492px,#083573 507px,#08306b 513px,#08306b 585px,#083776 591px,#0b559f 603px,#2070b4 612px,#4090c5 621px,#6aaed6 630px,#9dcae1 639px,#c7dcef 651px,#d9e8f5 663px,#eaf2fb 684px,#eff6fc 708px,#f3f8fe 777px,#f5fafe 1083px)"></i>
<i style="height:8px;background:linear-gradient(90deg,#f5fafe 0px,#f3f8fe 309px,#f1f7fd 351px,#e9f2fa 387px,#deebf7 405px,#c7dbef 426px,#9dcae1 441px,#4997c9 462px,#2070b4 477px,#084f99 492px,#083573 507px,#08306b 513px,#08306b 585px,#083776 591px,#0b559f 603px,#2070b4 612px,#4090c5 621px,#6caed6 630px,#9dcae1 639px,#bfd8ed 648px,#d2e3f3 657px,#ddeaf7 666px,#eaf2fb 684px,#f0f6fd 714px,#f3f8fe 774px,#f5fafe 1083px)"></i>
<i style="height:8px;background:linear-gradient(90deg,#f5fafe 0px,#f3f8fe 312px,#eef5fc 369px,#e9f2fa 387px,#d9e7f5 411px,#c7dbef 426px,#9dcae1 441px,#549fcd 459px,#2070b4 477px,#084f99 492px,#083573 507px,#08306b 513px,#08306b 585px,#08326e 588px,#0b559f 603px,#2171b5 612px,#4191c6 621px,#6caed6 630px,#9dcae1 639px,#c8dcf0 651px,#e0ecf8 669px,#eaf2fb 684px,#f0f6fd 714px,#f3f8fe 774px,#f5fafe 1083px)"></i>
<i style="height:8px;background:linear-gradient(90deg,#f5fafe 0px,#f3f8fe 312px,#f0f6fd 360px,#e9f2fa 387px,#dce9f6 408px,#cbdef1 423px,#b8d5ea 432px,#9dcae1 441px,#4a98c9 462px,#2171b5 477px,#084f99 492px,#083573 507px,#08306b 513px,#08306b 585px,#08326e 588px,#084d96 600px,#2171b5 612px,#4191c6 621px,#6dafd7 630px,#9fcae1 639px,#c8dcf0 651px,#e0ecf8 669px,#ebf3fb 687px,#f4f9fe 801px,#f5fafe 1083px)"></i>
<i style="height:8px;background:linear-gradient(90deg,#f5fafe 0px,#f4f9fe 288px,#f1f7fd 354px,#eaf3fb 384px,#dce9f6 408px,#cbdef1 423px,#c1d9ed 429px,#9fcae1 441px,#4a98c9 462px,#2171b5 477px,#08509b 492px,#083573 507px,#08306b 513px,#08306b 585px,#08326e 588px,#084e98 600px,#2272b6 612px,#4292c6 621px,#6dafd7 630px,#9fcae1 639px,#c1d9ed 648px,#dae8f6 663px,#ebf3fb 687px,#f4f9fe 798px,#f5fafe 1083px)"></i>
<i style="height:8px;background:linear-gradient(90deg,#f5fafe 0px,#f3f8fe 315px,#eff6fc 366px,#e7f0fa 393px,#dce9f6 408px,#c7dcef 426px,#9fcae1 441px,#56a0ce 459px,#2171b5 477px,#08509b 492px,#083573 507px,#08306b 513px,#08306b 585px,#083877 591px,#084e98 600px,#2272b6 612px,#4292c6 621px,#6dafd7 630px,#a0cbe2 639px,#c1d9ed 648px,#cee0f2 654px,#deebf7 666px,#e9f2fa 681px,#f0f6fd 711px,#f3f8fe 768px,#f5fafe 1083px)"></i>
<i style="height:8px;background:linear-gradient(90deg,#f5fafe 0px,#f3f8fe 318px,#eff6fc 366px,#e8f1fa 390px,#d9e8f5 411px,#c7dcef 426px,#9fcae1 441px,#4b98ca 462px,#2171b5 477px,#08509b 492px,#083674 507px,#08316d 510px,#08306b 513px,#08306b 585px,#083877 591px,#084e98 600px,#2272b6 612px,#4292c6 621px,#a0cbe2 639px,#c2d9ee 648px,#deebf7 666px,#eaf3fb 684px,#f1f7fd 720px,#f4f9fe 795px,#f5fafe 1083px)"></i>
<i style="height:8px;background:linear-gradient(90deg,#f5fafe 0px,#f3f8fe 318px,#eff6fc 366px,#e8f1fa 390px,#dfebf7 405px,#ccdff1 423px,#c1d9ed 429px,#9fcae1 441px,#4b98ca 462px,#2272b6 477px,#08509b 492px,#083674 507px,#08306b 513px,#08306b 585px,#083370 588px,#084f99 600px,#1b69af 609px,#3888c1 618px,#6fb0d7 630px,#92c4de 636px,#a1cbe2 639px,#c2d9ee 648px,#dbe9f6 663px,#eaf3fb 684px,#f0f6fd 711px,#f4f9fe 792px,#f5fafe 1083px)"></i>
<i style="height:8px;background:linear-gradient(90deg,#f5fafe 0px,#f4f9fe 294px,#f2f7fd 348px,#eaf2fb 387px,#dceaf6 408px,#ccdff1 423px,#c2d9ee 429px,#a0cbe2 441px,#57a0ce 459px,#2272b6 477px,#08509b 492px,#083674 507px,#08306b 513px,#08306b 585px,#083370 588px,#084f99 600px,#2373b6 612px,#4493c7 621px,#a1cbe2 639px,#c2d9ee 648px,#dbe9f6 663px,#eaf3fb 684px,#f1f7fd 717px,#f4f9fe 789px,#f5fafe 1083px)"></i>
<i style="height:8px;background:linear-gradient(90deg,#f5fafe 0px,#f4f9fe 297px,#f1f7fd 357px,#eaf2fb 387px,#dceaf6 408px,#c8dcf0 426px,#a0cbe2 441px,#6dafd7 453px,#4d99ca 462px,#2272b6 477px,#08509b 492px,#083674 507px,#08306b 513px,#08306b 585px,#083370 588px,#084f99 600px,#1c6ab0 609px,#3989c1 618px,#61a7d2 627px,#94c4df 636px,#c3daee 648px,#dfebf7 666px,#eaf3fb 684px,#f0f6fd 708px,#f4f9fe 789px,#f5fafe 1083px)"></i>
<i style="height:8px;background:linear-gradient(90deg,#f5fafe 0px,#f4f9fe 297px,#f1f7fd 357px,#eaf2fb 387px,#dceaf6 408px,#c8dcf0 426px,#a0cbe2 441px,#4d99ca 462px,#2272b6 477px,#08519c 492px,#083674 507px,#08306b 513px,#08306b 585px,#083370 588px,#084f99 600px,#2474b7 612px,#4594c7 621px,#94c4df 636px,#c3daee 648px,#dce9f6 663px,#e8f1fa 678px,#f0f6fd 708px,#f3f8fe 762px,#f5fafe 1083px)"></i>
<i style="height:8px;background:linear-gradient(90deg,#f5fafe 0px,#f4f9fe 300px,#f2f7fd 351px,#eaf2fb 387px,#dae8f6 411px,#cddff1 423px,#c2d9ee 429px,#a1cbe2 441px,#4292c6 465px,#2373b6 477px,#08519c 492px,#083674 507px,#08306b 513px,#08306b 585px,#083979 591px,#08509b 600px,#1c6ab0 609px,#3a8ac2 618px,#63a8d3 627px,#94c4df 636px,#c4daee 648px,#dce9f6 663px,#eaf2fb 681px,#f0f6fd 708px,#f3f8fe 759px,#f5fafe 1083px)"></i>
<i style="height:8px;background:linear-gradient(90deg,#f5fafe 0px,#f3f8fe 324px,#eff6fc 369px,#e7f1fa 393px,#dae8f6 411px,#c9ddf0 426px,#a1cbe2 441px,#58a1cf 459px,#2373b6 477px,#08519c 492px,#083674 507px,#08306b 513px,#08306b 585px,#084184 594px,#08509b 600px,#1c6bb0 609px,#3a8ac2 618px,#549fcd 624px,#95c5df 636px,#c4daee 648px,#dce9f6 663px,#eaf2fb 681px,#f1f7fd 714px,#f4f9fe 783px,#f5fafe 1083px)"></i>
<i style="height:8px;background:linear-gradient(90deg,#f5fafe 0px,#f4f9fe 303px,#f2f7fd 351px,#e9f2fa 390px,#ddeaf7 408px,#c9ddf0 426px,#a1cbe2 441px,#4e9acb 462px,#2373b6 477px,#08519c 492px,#083674 507px,#08306b 513px,#08306b 585px,#084184 594px,#08509b 600px,#1c6bb0 609px,#4695c8 621px,#95c5df 636px,#b0d2e7 642px,#c4daee 648px,#d9e7f5 660px,#ebf3fb 684px,#f4f9fe 783px,#f5fafe 1083px)"></i>
<i style="height:8px;background:linear-gradient(90deg,#f5fafe 0px,#f4f9fe 303px,#f1f7fd 360px,#e9f2fa 390px,#ddeaf7 408px,#c9ddf0 426px,#a3cce3 441px,#4e9acb 462px,#2373b6 477px,#08519c 492px,#083674 507px,#08306b 513px,#08306b 585px,#084184 594px,#08509b 600px,#1c6bb0 609px,#3b8bc2 618px,#56a0ce 624px,#97c6df 636px,#c6dbef 648px,#dceaf6 663px,#ebf3fb 684px,#f4f9fe 780px,#f5fafe 1083px)"></i>
<i style="height:8px;background:linear-gradient(90deg,#f5fafe 0px,#f4f9fe 306px,#f1f7fd 360px,#e9f2fa 390px,#ddeaf7 408px,#cde0f1 423px,#c4daee 429px,#a3cce3 441px,#71b1d7 453px,#4594c7 465px,#1d6cb1 480px,#08519c 492px,#083674 507px,#08306b 513px,#08306b 585px,#083a7a 591px,#08519c 600px,#1d6cb1 609px,#4896c8 621px,#97c6df 636px,#c6dbef 648px,#dceaf6 663px,#ebf3fb 684px,#f4f9fe 780px,#f5fafe 1083px)"></i>
<i style="height:8px;background:linear-gradient(90deg,#f5fafe 0px,#f4f9fe 306px,#f2f7fd 354px,#eaf3fb 387px,#dbe9f6 411px,#caddf0 426px,#a3cce3 441px,#4594c7 465px,#1d6cb1 480px,#09529d 492px,#083776 507px,#08306b 513px,#08306b 585px,#083a7a 591px,#08519c 600px,#1d6cb1 609px,#3c8cc3 618px,#65aad4 627px,#99c7e0 636px,#c6dbef 648px,#dceaf6 663px,#e9f2fa 678px,#f1f7fd 711px,#f4f9fe 777px,#f5fafe 1083px)"></i>
<i style="height:8px;background:linear-gradient(90deg,#f5fafe 0px,#f4f9fe 309px,#f2f7fd 354px,#eaf3fb 387px,#dbe9f6 411px,#caddf0 426px,#a3cce3 441px,#4f9bcb 462px,#2474b7 477px,#09529d 492px,#083776 507px,#08306b 513px,#08306b 585px,#084285 594px,#08519c 600px,#1e6db2 609px,#3c8cc3 618px,#66abd4 627px,#99c7e0 636px,#c7dbef 648px,#d9e8f5 660px,#eaf3fb 681px,#f1f7fd 711px,#f4f9fe 777px,#f5fafe 1083px)"></i>
<i style="height:8px;background:linear-gradient(90deg,#f5fafe 0px,#f4f9fe 309px,#f2f7fd 354px,#eaf3fb 387px,#e0ecf8 405px,#caddf0 426px,#a4cce3 441px,#4594c7 465px,#2474b7 477px,#09529d 492px,#083776 507px,#08306b 513px,#08306b 585px,#084285 594px,#09529d 600px,#1e6db2 609px,#3d8dc4 618px,#66abd4 627px,#9ac8e0 636px,#c7dbef 648px,#ddeaf7 663px,#eaf3fb 681px,#f1f7fd 711px,#f4f9fe 774px,#f5fafe 1083px)"></i>
<i style="height:8px;background:linear-gradient(90deg,#f5fafe 0px,#f4f9fe 312px,#eff6fc 372px,#e8f1fa 393px,#deebf7 408px,#c6dbef 429px,#9ac8e0 444px,#519ccc 462px,#1e6db2 480px,#09529d 492px,#083776 507px,#08306b 513px,#08306b 585px,#083b7c 591px,#09529d 600px,#1e6db2 609px,#3d8dc4 618px,#68acd5 627px,#9ac8e0 636px,#c7dbef 648px,#ddeaf7 663px,#eaf3fb 681px,#f0f6fd 702px,#f4f9fe 774px,#f5fafe 1083px)"></i>
<i style="height:8px;background:linear-gradient(90deg,#f5fafe 0px,#f4f9fe 312px,#f1f7fd 363px,#eaf2fb 390px,#deebf7 408px,#cadef0 426px,#bed8ec 432px,#9ac8e0 444px,#519ccc 462px,#1e6db2 480px,#09529d 492px,#083776 507px,#08306b 513px,#08306b 585px,#083b7c 591px,#09529d 600px,#1f6eb3 609px,#3e8ec4 618px,#68acd5 627px,#9ac8e0 636px,#c7dcef 648px,#e3eef9 669px,#ecf4fb 684px,#f5f9fe 804px,#f5fafe 1083px)"></i>
<i style="height:8px;background:linear-gradient(90deg,#f5fafe 0px,#f4f9fe 312px,#f1f7fd 363px,#eaf2fb 390px,#dce9f6 411px,#cadef0 426px,#a5cde3 441px,#4695c8 465px,#2575b7 477px,#0a539e 492px,#083776 507px,#08306b 513px,#08306b 585px,#083b7c 591px,#09529d 600px,#1f6eb3 609px,#3e8ec4 618px,#69add5 627px,#9cc9e1 636px,#c7dcef 648px,#d6e6f4 657px,#e3eef9 669px,#ecf4fb 684px,#f2f7fd 717px,#f5f9fe 801px,#f5fafe 1083px)"></i>
<i style="height:8px;background:linear-gradient(90deg,#f6faff 0px,#f4f9fe 315px,#f1f7fd 363px,#eaf2fb 390px,#dce9f6 411px,#cadef0 426px,#a5cde3 441px,#529dcc 462px,#2575b7 477px,#0a539e 492px,#084285 501px,#08306b 513px,#08306b 585px,#0a539e 600px,#1f6eb3 609px,#3f8fc5 618px,#69add5 627px,#9cc9e1 636px,#c8dcf0 648px,#e1edf8 666px,#ecf4fb 684px,#f4f9fe 768px,#f6faff 1083px)"></i>
<i style="height:8px;background:linear-gradient(90deg,#f6faff 0px,#f4f9fe 315px,#f0f6fd 369px,#eaf2fb 390px,#dce9f6 411px,#c7dbef 429px,#9cc9e1 444px,#69add5 456px,#3e8ec4 468px,#206fb4 480px,#0f5aa3 489px,#084e98 495px,#084387 501px,#08306b 513px,#08306b 582px,#08316d 585px,#083674 588px,#0a549e 600px,#206fb4 609px,#4090c5 618px,#6aaed6 627px,#9dcae1 636px,#c8dcf0 648px,#deebf7 663px,#eaf2fb 678px,#f1f7fd 708px,#f4f9fe 768px,#f6faff 1083px)"></i>
<i style="height:8px;background:linear-gradient(90deg,#f6faff 0px,#f4f9fe 318px,#ebf3fb 387px,#dfebf7 408px,#c7dbef 429px,#9dcae1 444px,#539ecd 462px,#3787c0 471px,#2070b4 480px,#0a549e 492px,#084488 501px,#08316d 513px,#08306b 516px,#08306b 582px,#083776 588px,#0b559f 600px,#2070b4 609px,#4090c5 618px,#6caed6 627px,#9fcae1 636px,#c1d9ed 645px,#dbe9f6 660px,#ebf3fb 681px,#f4f9fe 768px,#f6faff 1083px)"></i>
<i style="height:8px;background:linear-gradient(90deg,#f6faff 0px,#f4f9fe 318px,#f0f6fd 369px,#e7f1fa 396px,#dceaf6 411px,#c7dcef 429px,#9dcae1 444px,#6aaed6 456px,#3080bd 474px,#2070b4 480px,#0b559f 492px,#084488 501px,#08306b 516px,#08306b 582px,#083877 588px,#084e98 597px,#2171b5 609px,#4191c6 618px,#6dafd7 627px,#9fcae1 636px,#c9ddf0 648px,#dfebf7 663px,#ebf3fb 681px,#f1f7fd 705px,#f4f9fe 765px,#f6faff 1083px)"></i>
<i style="height:8px;background:linear-gradient(90deg,#f6faff 0px,#f4f9fe 318px,#f0f6fd 369px,#e9f2fa 393px,#dceaf6 411px,#ccdff1 426px,#c1d9ed 432px,#9fcae1 444px,#60a7d2 459px,#3181bd 474px,#2171b5 480px,#0c56a0 492px,#08458a 501px,#08306b 516px,#08306b 582px,#084082 591px,#084f99 597px,#2272b6 609px,#4292c6 618px,#a0cbe2 636px,#c2d9ee 645px,#cfe1f2 651px,#dfebf7 663px,#ebf3fb 681px,#f1f7fd 705px,#f4f9fe 765px,#f6faff 1083px)"></i>
<i style="height:8px;background:linear-gradient(90deg,#f6faff 0px,#f4f9fe 321px,#f1f7fd 366px,#eaf3fb 390px,#dceaf6 411px,#c2d9ee 432px,#94c4df 447px,#61a7d2 459px,#4191c6 468px,#2272b6 480px,#125da6 489px,#08519c 495px,#08468b 501px,#08306b 516px,#08306b 582px,#084184 591px,#08509b 597px,#2373b6 609px,#4493c7 618px,#6fb0d7 627px,#a1cbe2 636px,#c2d9ee 645px,#dce9f6 660px,#ebf3fb 681px,#f4f9fe 762px,#f6faff 1083px)"></i>
<i style="height:8px;background:linear-gradient(90deg,#f6faff 0px,#f4f9fe 321px,#f1f7fd 366px,#eaf3fb 390px,#dfecf7 408px,#c8dcf0 429px,#a0cbe2 444px,#6dafd7 456px,#3a8ac2 471px,#125ea6 489px,#09529d 495px,#08478d 501px,#083471 513px,#08306b 519px,#08306b 579px,#08316d 582px,#083b7c 588px,#08519c 597px,#1c6ab0 606px,#3989c1 615px,#61a7d2 624px,#92c4de 633px,#aed1e7 639px,#c3daee 645px,#dce9f6 660px,#eaf3fb 678px,#f2f7fd 711px,#f4f9fe 762px,#f6faff 1083px)"></i>
<i style="height:8px;background:linear-gradient(90deg,#f6faff 0px,#f4f9fe 324px,#eaf3fb 390px,#ddeaf7 411px,#c8dcf0 429px,#b3d3e8 438px,#95c5df 447px,#58a1cf 462px,#3383be 474px,#135fa7 489px,#0a539e 495px,#08488e 501px,#083573 513px,#08306b 519px,#08306b 579px,#08326e 582px,#083c7d 588px,#08519c 597px,#1c6bb0 606px,#3a8ac2 615px,#63a8d3 624px,#94c4df 633px,#c4daee 645px,#d9e7f5 657px,#eaf3fb 678px,#f2f7fd 711px,#f4f9fe 759px,#f6faff 1083px)"></i>
<i style="height:8px;background:linear-gradient(90deg,#f6faff 0px,#f4f9fe 324px,#eaf3fb 390px,#ddeaf7 411px,#c3daee 432px,#95c5df 447px,#4e9acb 465px,#3484bf 474px,#1966ad 486px,#0a549e 495px,#084990 501px,#083e81 507px,#08306b 519px,#08306b 579px,#083d7f 588px,#09529d 597px,#1d6cb1 606px,#3b8bc2 615px,#64a9d3 624px,#95c5df 633px,#c4daee 645px,#dceaf6 660px,#ecf4fb 681px,#f2f7fd 711px,#f5f9fe 789px,#f6faff 1083px)"></i>
<i style="height:8px;background:linear-gradient(90deg,#f6faff 0px,#f4f9fe 324px,#f0f6fd 372px,#e8f1fa 396px,#d8e7f5 417px,#c3daee 432px,#a3cce3 444px,#71b1d7 456px,#4594c7 468px,#1f6eb3 483px,#0a549e 495px,#084a91 501px,#08306b 519px,#08306b 579px,#083e81 588px,#0a539e 597px,#1e6db2 606px,#3c8cc3 615px,#56a0ce 621px,#97c6df 633px,#c6dbef 645px,#dceaf6 660px,#ecf4fb 681px,#f2f8fd 720px,#f5f9fe 786px,#f6faff 1083px)"></i>
<i style="height:8px;background:linear-gradient(90deg,#f6faff 0px,#f4f9fe 327px,#f0f6fd 372px,#eaf2fb 393px,#dbe9f6 414px,#c4daee 432px,#99c7e0 447px,#5ba3d0 462px,#3d8dc4 471px,#1a68ae 486px,#0b559f 495px,#084a91 501px,#083471 516px,#08306b 522px,#08306b 579px,#0a549e 597px,#1f6eb3 606px,#3d8dc4 615px,#65aad4 624px,#97c6df 633px,#c6dbef 645px,#e0ecf8 663px,#ecf4fb 681px,#f2f7fd 708px,#f5f9fe 783px,#f6faff 1083px)"></i>
<i style="height:8px;background:linear-gradient(90deg,#f6faff 0px,#f4f9fe 327px,#f1f7fd 369px,#eaf2fb 393px,#deebf7 411px,#c4daee 432px,#99c7e0 447px,#66abd4 459px,#3e8ec4 471px,#1562a9 489px,#08519c 498px,#084b93 501px,#083573 516px,#08306b 522px,#08306b 576px,#08316d 579px,#083a7a 585px,#0b559f 597px,#206fb4 606px,#3e8ec4 615px,#66abd4 624px,#99c7e0 633px,#c7dbef 645px,#ddeaf7 660px,#eaf2fb 675px,#f2f7fd 708px,#f4f9fe 756px,#f6faff 1083px)"></i>
<i style="height:8px;background:linear-gradient(90deg,#f6faff 0px,#f5f9fe 303px,#f2f7fd 363px,#ebf3fb 390px,#d9e7f5 417px,#c6dbef 432px,#9ac8e0 447px,#68acd5 459px,#3787c0 474px,#1663aa 489px,#08519c 498px,#084c95 501px,#08306b 522px,#08306b 576px,#083b7c 585px,#084f99 594px,#2070b4 606px,#3f8fc5 615px,#68acd5 624px,#9ac8e0 633px,#c7dbef 645px,#ddeaf7 660px,#ebf3fb 678px,#f2f7fd 708px,#f5f9fe 780px,#f6faff 1083px)"></i>
<i style="height:8px;background:linear-gradient(90deg,#f6faff 0px,#f5f9fe 303px,#f2f8fd 357px,#ebf3fb 390px,#dce9f6 414px,#c6dbef 432px,#9ac8e0 447px,#5da5d1 462px,#3888c1 474px,#2171b5 483px,#09529d 498px,#084d96 501px,#083e81 510px,#08316d 522px,#08306b 576px,#083c7d 585px,#08509b 594px,#2171b5 606px,#4090c5 615px,#69add5 624px,#9ac8e0 633px,#c7dcef 645px,#e1edf8 663px,#ebf3fb 678px,#f1f7fd 699px,#f5f9fe 780px,#f6faff 1083px)"></i>
<i style="height:8px;background:linear-gradient(90deg,#f6faff 0px,#f5f9fe 306px,#f2f8fd 357px,#ebf3fb 390px,#e1edf8 408px,#c6dbef 432px,#9cc9e1 447px,#69add5 459px,#4090c5 471px,#1c6bb0 486px,#084e98 501px,#083b7c 513px,#08306b 525px,#08306b 576px,#083d7f 585px,#08519c 594px,#2272b6 606px,#3686c0 612px,#6aaed6 624px,#9cc9e1 633px,#c7dcef 645px,#deebf7 660px,#ebf3fb 678px,#f1f7fd 699px,#f5f9fe 777px,#f6faff 1083px)"></i>
<i style="height:8px;background:linear-gradient(90deg,#f6faff 0px,#f4f9fe 333px,#f0f6fd 375px,#e9f2fa 396px,#dfebf7 411px,#c7dbef 432px,#9dcae1 447px,#6aaed6 459px,#4191c6 471px,#1d6cb1 486px,#084f99 501px,#083c7d 513px,#08306b 525px,#08306b 573px,#08316d 576px,#083979 582px,#09529d 594px,#2373b6 606px,#3787c0 612px,#6caed6 624px,#9dcae1 633px,#c8dcf0 645px,#e4eff9 666px,#edf4fc 681px,#f5f9fe 777px,#f6faff 1083px)"></i>
<i style="height:8px;background:linear-gradient(90deg,#f6faff 0px,#f5f9fe 309px,#f2f7fd 366px,#eaf3fb 393px,#dceaf6 414px,#c7dbef 432px,#9dcae1 447px,#6caed6 459px,#3a8ac2 474px,#1e6db2 486px,#08509b 501px,#083d7f 513px,#08316d 525px,#08306b 573px,#083a7a 582px,#0a539e 594px,#2474b7 606px,#4292c6 615px,#6caed6 624px,#9fcae1 633px,#c1d9ed 642px,#dbe9f6 657px,#edf4fc 681px,#f5f9fe 774px,#f6faff 1083px)"></i>
<i style="height:8px;background:linear-gradient(90deg,#f6faff 0px,#f5f9fe 309px,#f2f7fd 366px,#eaf3fb 393px,#dceaf6 414px,#c7dcef 432px,#9fcae1 447px,#6caed6 459px,#3b8bc2 474px,#1f6eb3 486px,#08509b 501px,#083776 519px,#08306b 528px,#08306b 573px,#083b7c 582px,#0a549e 594px,#2575b7 606px,#4493c7 615px,#6dafd7 624px,#9fcae1 633px,#c1d9ed 642px,#d7e6f5 654px,#eaf3fb 675px,#f2f7fd 705px,#f5f9fe 774px,#f6faff 1083px)"></i>
<i style="height:8px;background:linear-gradient(90deg,#f6faff 0px,#f5f9fe 312px,#f2f8fd 360px,#eaf3fb 393px,#dfecf7 411px,#c7dcef 432px,#9fcae1 447px,#6dafd7 459px,#3c8cc3 474px,#1a68ae 489px,#084d96 504px,#084082 513px,#08316d 528px,#08306b 570px,#08316d 573px,#083c7d 582px,#0b559f 594px,#1e6db2 603px,#4594c7 615px,#6fb0d7 624px,#a0cbe2 633px,#c2d9ee 642px,#dce9f6 657px,#ecf4fb 678px,#f5f9fe 771px,#f6faff 1083px)"></i>
<i style="height:8px;background:linear-gradient(90deg,#f6faff 0px,#f5f9fe 312px,#ecf4fb 390px,#dfecf7 411px,#c8dcf0 432px,#bad6eb 438px,#95c5df 450px,#64a9d3 462px,#3686c0 477px,#2070b4 486px,#084e98 504px,#083d7f 516px,#08316d 531px,#08306b 570px,#083e81 582px,#08509b 591px,#1f6eb3 603px,#3c8cc3 612px,#71b1d7 624px,#a1cbe2 633px,#c3daee 642px,#dce9f6 657px,#ecf4fb 678px,#f2f7fd 702px,#f5f9fe 771px,#f6faff 1083px)"></i>
<i style="height:8px;background:linear-gradient(90deg,#f6faff 0px,#f5f9fe 315px,#f1f7fd 372px,#eaf2fb 396px,#ddeaf7 414px,#c3daee 435px,#97c6df 450px,#65aad4 462px,#3f8fc5 474px,#1c6bb0 489px,#08509b 504px,#084082 516px,#08326e 531px,#08306b 567px,#083877 576px,#08519c 591px,#2070b4 603px,#3d8dc4 612px,#64a9d3 621px,#94c4df 630px,#c3daee 642px,#dfecf7 660px,#ecf4fb 678px,#f2f7fd 702px,#f5f9fe 768px,#f6faff 1083px)"></i>
<i style="height:8px;background:linear-gradient(90deg,#f6faff 0px,#f5f9fe 315px,#f1f7fd 372px,#eaf2fb 396px,#dbe9f6 417px,#c3daee 435px,#99c7e0 450px,#5ca4d0 465px,#4090c5 474px,#1e6db2 489px,#0c56a0 501px,#084d96 507px,#083877 525px,#08326e 534px,#08306b 564px,#083d7f 579px,#0a539e 591px,#2272b6 603px,#3f8fc5 612px,#65aad4 621px,#95c5df 630px,#c4daee 642px,#dceaf6 657px,#eef5fc 681px,#f5fafe 804px,#f6faff 1083px)"></i>
<i style="height:8px;background:linear-gradient(90deg,#f6faff 0px,#f5f9fe 318px,#f2f7fd 369px,#ebf3fb 393px,#deebf7 414px,#c4daee 435px,#9ac8e0 450px,#69add5 462px,#4191c6 474px,#1f6eb3 489px,#084f99 507px,#084082 519px,#083471 534px,#08306b 543px,#08306b 561px,#083b7c 576px,#0b559f 591px,#2373b6 603px,#4090c5 612px,#66abd4 621px,#97c6df 630px,#c6dbef 642px,#e0ecf8 660px,#ebf3fb 675px,#f2f7fd 702px,#f5f9fe 765px,#f6faff 1083px)"></i>
<i style="height:8px;background:linear-gradient(90deg,#f6faff 0px,#f5f9fe 318px,#f2f8fd 363px,#ebf3fb 393px,#deebf7 414px,#c6dbef 435px,#9ac8e0 450px,#6aaed6 462px,#3b8bc2 477px,#2070b4 489px,#08509b 507px,#083e81 522px,#083776 531px,#08306b 543px,#08306b 558px,#083d7f 576px,#08509b 588px,#0c56a0 591px,#1d6cb1 600px,#4191c6 612px,#69add5 621px,#99c7e0 630px,#c6dbef 642px,#ddeaf7 657px,#ebf3fb 675px,#f2f8fd 708px,#f5f9fe 765px,#f6faff 1083px)"></i>
<i style="height:8px;background:linear-gradient(90deg,#f6faff 0px,#f5f9fe 321px,#f2f8fd 363px,#ebf3fb 393px,#dce9f6 417px,#c6dbef 435px,#9cc9e1 450px,#6caed6 462px,#3d8dc4 477px,#2171b5 489px,#0c56a0 504px,#084e98 510px,#083d7f 525px,#083573 540px,#08306b 543px,#08306b 552px,#083979 570px,#09529d 588px,#1f6eb3 600px,#3989c1 609px,#6aaed6 621px,#9ac8e0 630px,#c7dbef 642px,#ddeaf7 657px,#edf4fc 678px,#f5f9fe 762px,#f6faff 1083px)"></i>
<i style="height:8px;background:linear-gradient(90deg,#f6faff 0px,#f5f9fe 321px,#f1f7fd 375px,#eaf3fb 396px,#dfebf7 414px,#c7dbef 435px,#9dcae1 450px,#63a8d3 465px,#3e8ec4 477px,#1e6db2 492px,#084f99 510px,#084082 525px,#083674 540px,#08306b 543px,#083573 561px,#083d7f 573px,#0a549e 588px,#206fb4 600px,#4594c7 612px,#6caed6 621px,#9cc9e1 630px,#c7dcef 642px,#e1edf8 660px,#edf4fc 678px,#f5f9fe 762px,#f6faff 1083px)"></i>
<i style="height:8px;background:linear-gradient(90deg,#f6faff 0px,#f5f9fe 324px,#f1f7fd 375px,#eaf3fb 396px,#d9e8f5 420px,#c7dbef 435px,#9fcae1 450px,#64a9d3 465px,#3f8fc5 477px,#1f6eb3 492px,#0e59a2 504px,#084d96 513px,#084488 522px,#083877 540px,#08326e 543px,#083a7a 567px,#084387 576px,#0b559f 588px,#2171b5 600px,#3c8cc3 609px,#6dafd7 621px,#9dcae1 630px,#c8dcf0 642px,#deebf7 657px,#eaf3fb 672px,#f2f7fd 699px,#f5f9fe 759px,#f6faff 1083px)"></i>
<i style="height:8px;background:linear-gradient(90deg,#f6faff 0px,#f5f9fe 324px,#ecf4fb 393px,#dceaf6 417px,#c7dcef 435px,#a0cbe2 450px,#71b1d7 462px,#4191c6 477px,#2070b4 492px,#084f99 513px,#084387 525px,#083a7a 540px,#083471 543px,#083471 546px,#083776 558px,#083e81 570px,#084d96 582px,#0d57a1 588px,#2373b6 600px,#3e8ec4 609px,#71b1d7 621px,#a0cbe2 630px,#c1d9ed 639px,#dbe9f6 654px,#ecf4fb 675px,#f2f8fd 705px,#f5f9fe 759px,#f6faff 1083px)"></i>
<i style="height:8px;background:linear-gradient(90deg,#f6faff 0px,#f5f9fe 327px,#ecf4fb 393px,#dfecf7 414px,#c8dcf0 435px,#b3d3e8 444px,#97c6df 453px,#5da5d1 468px,#4292c6 477px,#2171b5 492px,#08519c 513px,#083e81 534px,#083c7d 540px,#083674 543px,#083a7a 561px,#084184 570px,#084f99 582px,#135fa7 591px,#2575b7 600px,#4090c5 609px,#64a9d3 618px,#a1cbe2 630px,#c2d9ee 639px,#d3e4f3 648px,#dfebf7 657px,#ecf4fb 675px,#f2f7fd 696px,#f5f9fe 756px,#f6faff 1083px)"></i>
<i style="height:8px;background:linear-gradient(90deg,#f6faff 0px,#f5f9fe 327px,#f2f7fd 372px,#eaf2fb 399px,#ddeaf7 417px,#c3daee 438px,#99c7e0 453px,#69add5 465px,#4594c7 477px,#1e6db2 495px,#0a539e 513px,#084184 534px,#083d7f 540px,#083776 543px,#083c7d 561px,#084387 570px,#08519c 582px,#1967ad 594px,#4191c6 609px,#66abd4 618px,#95c5df 627px,#c3daee 639px,#dce9f6 654px,#eef5fc 678px,#f5fafe 789px,#f6faff 1083px)"></i>
<i style="height:8px;background:linear-gradient(90deg,#f6faff 0px,#f5f9fe 330px,#ebf3fb 396px,#dbe9f6 420px,#c4daee 438px,#9ac8e0 453px,#6caed6 465px,#4695c8 477px,#206fb4 495px,#08519c 516px,#084387 534px,#084082 540px,#083979 543px,#084082 564px,#09529d 582px,#1b69af 594px,#4493c7 609px,#68acd5 618px,#97c6df 627px,#c4daee 639px,#dceaf6 654px,#ebf3fb 672px,#f2f8fd 702px,#f5f9fe 753px,#f6faff 1083px)"></i>
<i style="height:8px;background:linear-gradient(90deg,#f6faff 0px,#f5f9fe 330px,#ebf3fb 396px,#deebf7 417px,#c6dbef 438px,#9cc9e1 453px,#5aa2cf 471px,#4090c5 480px,#2171b5 495px,#0a539e 516px,#08458a 534px,#084285 540px,#083b7c 543px,#083e81 558px,#08468b 570px,#08509b 579px,#1764ab 591px,#2272b6 597px,#4695c8 609px,#6aaed6 618px,#99c7e0 627px,#c6dbef 639px,#dceaf6 654px,#edf4fc 675px,#f2f8fd 702px,#f5fafe 786px,#f6faff 1083px)"></i>
<i style="height:8px;background:linear-gradient(90deg,#f6faff 0px,#f5f9fe 333px,#f2f8fd 369px,#e9f2fa 402px,#d6e5f4 426px,#bfd8ed 441px,#9dcae1 453px,#6fb0d7 465px,#4a98c9 477px,#2272b6 495px,#08519c 519px,#08468b 534px,#084387 540px,#083d7f 543px,#084285 561px,#09529d 579px,#1966ad 591px,#2474b7 597px,#4896c8 609px,#6caed6 618px,#9cc9e1 627px,#c7dbef 639px,#ddeaf7 654px,#edf4fc 675px,#f3f8fe 711px,#f5fafe 783px,#f6faff 1083px)"></i>
<i style="height:8px;background:linear-gradient(90deg,#f6faff 0px,#f5f9fe 333px,#f2f7fd 375px,#eaf3fb 399px,#dfebf7 417px,#c7dbef 438px,#a0cbe2 453px,#71b1d7 465px,#549fcd 474px,#3686c0 486px,#2474b7 495px,#0a539e 519px,#08488e 534px,#08458a 540px,#083e81 543px,#084488 561px,#08509b 576px,#1a68ae 591px,#3f8fc5 606px,#61a7d2 615px,#9dcae1 627px,#c7dcef 639px,#dae8f6 651px,#edf4fc 675px,#f3f8fe 711px,#f5fafe 780px,#f6faff 1083px)"></i>
<i style="height:8px;background:linear-gradient(90deg,#f7fbff 0px,#f5fafe 306px,#f3f8fe 363px,#ecf4fb 396px,#dceaf6 420px,#c7dcef 438px,#a1cbe2 453px,#68acd5 468px,#3e8ec4 483px,#2070b4 498px,#105ba4 513px,#08509b 525px,#08478d 540px,#084184 543px,#084184 546px,#084990 567px,#09529d 576px,#125ea6 585px,#2070b4 594px,#4191c6 606px,#71b1d7 618px,#9fcae1 627px,#c8dcf0 639px,#deebf7 654px,#ecf4fb 672px,#f2f8fd 699px,#f5f9fe 747px,#f7fbff 1083px)"></i>
<i style="height:8px;background:linear-gradient(90deg,#f7fbff 0px,#f5f9fe 336px,#ecf4fb 396px,#dfecf7 417px,#c8dcf0 438px,#99c7e0 456px,#6aaed6 468px,#3989c1 486px,#2272b6 498px,#1764ab 507px,#084f99 528px,#084990 540px,#084387 543px,#084488 552px,#08509b 573px,#1d6cb1 591px,#4292c6 606px,#65aad4 615px,#a0cbe2 627px,#c1d9ed 636px,#dbe9f6 651px,#ecf4fb 672px,#f2f8fd 699px,#f5f9fe 747px,#f7fbff 1083px)"></i>
<i style="height:8px;background:linear-gradient(90deg,#f7fbff 0px,#f5f9fe 336px,#f1f7fd 381px,#eaf2fb 402px,#ddeaf7 420px,#c9ddf0 438px,#9ac8e0 456px,#6caed6 468px,#4191c6 483px,#1c6ab0 504px,#0b559f 522px,#084f99 531px,#084a91 540px,#08458a 543px,#08468b 552px,#09529d 573px,#1e6db2 591px,#4594c7 606px,#68acd5 615px,#a3cce3 627px,#c2d9ee 636px,#d3e4f3 645px,#dfebf7 654px,#eef5fc 675px,#f5fafe 774px,#f7fbff 1083px)"></i>
<i style="height:8px;background:linear-gradient(90deg,#f7fbff 0px,#f5f9fe 339px,#ebf3fb 399px,#e0ecf8 417px,#caddf0 438px,#9cc9e1 456px,#6dafd7 468px,#3c8cc3 486px,#2070b4 501px,#0d57a1 522px,#084f99 534px,#084c95 540px,#08468b 543px,#084b93 561px,#0d57a1 576px,#206fb4 591px,#3d8dc4 603px,#529dcc 609px,#69add5 615px,#97c6df 624px,#c3daee 636px,#dfecf7 654px,#ebf3fb 669px,#f2f7fd 690px,#f5f9fe 744px,#f7fbff 1083px)"></i>
<i style="height:8px;background:linear-gradient(90deg,#f7fbff 0px,#f5fafe 312px,#f3f8fe 366px,#edf4fc 396px,#deebf7 420px,#c6dbef 441px,#9dcae1 456px,#5da5d1 474px,#3282be 492px,#1865ac 510px,#084f99 537px,#084e98 540px,#08488e 543px,#084d96 561px,#0e59a2 576px,#2171b5 591px,#4997c9 606px,#6caed6 615px,#99c7e0 624px,#c4daee 636px,#dceaf6 651px,#edf4fc 672px,#f2f8fd 696px,#f5fafe 771px,#f7fbff 1083px)"></i>
<i style="height:8px;background:linear-gradient(90deg,#f7fbff 0px,#f5f9fe 342px,#eaf3fb 402px,#dce9f6 423px,#c7dbef 441px,#9fcae1 456px,#72b2d8 468px,#57a0ce 477px,#2979b9 498px,#125da6 519px,#08509b 540px,#084a91 543px,#08509b 564px,#125ea6 579px,#1e6db2 588px,#3181bd 597px,#4b98ca 606px,#6fb0d7 615px,#9cc9e1 624px,#c6dbef 636px,#e0ecf8 654px,#edf4fc 672px,#f2f8fd 696px,#f5fafe 771px,#f7fbff 1083px)"></i>
<i style="height:8px;background:linear-gradient(90deg,#f7fbff 0px,#f5fafe 315px,#f3f8fe 366px,#ecf4fb 399px,#dfebf7 420px,#c7dcef 441px,#a1cbe2 456px,#6aaed6 471px,#519ccc 480px,#2575b7 501px,#115ca5 522px,#08519c 540px,#084c95 543px,#0c56a0 570px,#1f6eb3 588px,#4292c6 603px,#71b1d7 615px,#9dcae1 624px,#c7dbef 636px,#ddeaf7 651px,#ecf4fb 669px,#f5f9fe 738px,#f7fbff 1083px)"></i>
<i style="height:8px;background:linear-gradient(90deg,#f7fbff 0px,#f5fafe 318px,#f2f8fd 375px,#ecf4fb 399px,#e2edf8 417px,#c8dcf0 441px,#a3cce3 456px,#6caed6 471px,#5ba3d0 477px,#3d8dc4 489px,#2272b6 504px,#105ba4 525px,#0a539e 540px,#084d96 543px,#08519c 558px,#0e58a2 570px,#2070b4 588px,#3c8cc3 600px,#4f9bcb 606px,#66abd4 612px,#9fcae1 624px,#c7dcef 636px,#deebf7 651px,#eef5fc 672px,#f3f8fe 702px,#f5fafe 768px,#f7fbff 1083px)"></i>
<i style="height:8px;background:linear-gradient(90deg,#f7fbff 0px,#f5f9fe 345px,#ebf3fb 402px,#ddeaf7 423px,#c3daee 444px,#9ac8e0 459px,#79b5d9 468px,#549fcd 480px,#3e8ec4 489px,#2979b9 501px,#1562a9 519px,#0b559f 540px,#084f99 543px,#0f5aa3 570px,#2272b6 588px,#3686c0 597px,#5ca4d0 609px,#a1cbe2 624px,#c8dcf0 636px,#e2edf8 654px,#eef5fc 672px,#f5fafe 765px,#f7fbff 1083px)"></i>
<i style="height:8px;background:linear-gradient(90deg,#f7fbff 0px,#f5fafe 321px,#edf4fc 399px,#dbe9f6 426px,#c4daee 444px,#9cc9e1 459px,#66abd4 474px,#4090c5 489px,#2b7bba 501px,#1c6ab0 513px,#08519c 543px,#0e59a2 567px,#1f6eb3 585px,#3181bd 594px,#4997c9 603px,#6aaed6 612px,#a3cce3 624px,#c2d9ee 633px,#dce9f6 648px,#edf4fc 669px,#f3f8fe 699px,#f5fafe 762px,#f7fbff 1083px)"></i>
<i style="height:8px;background:linear-gradient(90deg,#f7fbff 0px,#f5f9fe 348px,#eaf3fb 405px,#deebf7 423px,#c6dbef 444px,#9fcae1 459px,#60a7d2 477px,#4191c6 489px,#3181bd 498px,#206fb4 510px,#0a539e 543px,#125da6 570px,#2575b7 588px,#4191c6 600px,#56a0ce 606px,#6caed6 612px,#99c7e0 621px,#c3daee 633px,#dfecf7 651px,#edf4fc 669px,#f2f8fd 690px,#f5fafe 762px,#f7fbff 1083px)"></i>
<i style="height:8px;background:linear-gradient(90deg,#f7fbff 0px,#f5fafe 324px,#f3f8fe 372px,#ecf4fb 402px,#e1edf8 420px,#c7dbef 444px,#a0cbe2 459px,#6aaed6 474px,#529dcc 483px,#2e7ebc 501px,#1e6db2 513px,#0f5aa3 540px,#0a549e 543px,#135fa7 570px,#2777b8 588px,#3b8bc2 597px,#63a8d3 609px,#9ac8e0 621px,#c4daee 633px,#dceaf6 648px,#eef5fc 672px,#f5fafe 759px,#f7fbff 1083px)"></i>
<i style="height:8px;background:linear-gradient(90deg,#f7fbff 0px,#f5fafe 327px,#f3f8fe 372px,#ecf4fb 402px,#dfebf7 423px,#c7dcef 444px,#a1cbe2 459px,#6caed6 474px,#4594c7 489px,#3484bf 498px,#1c6bb0 516px,#0c56a0 543px,#1460a8 570px,#2373b6 585px,#4594c7 600px,#71b1d7 612px,#9cc9e1 621px,#c6dbef 633px,#ddeaf7 648px,#ecf4fb 666px,#f3f8fe 696px,#f5fafe 756px,#f7fbff 1083px)"></i>
<i style="height:8px;background:linear-gradient(90deg,#f7fbff 0px,#f5fafe 327px,#eef5fc 399px,#e2edf8 420px,#c7dcef 444px,#a3cce3 459px,#65aad4 477px,#4090c5 492px,#2070b4 513px,#125da6 540px,#0d57a1 543px,#1562a9 570px,#2070b4 582px,#2b7bba 588px,#3e8ec4 597px,#66abd4 609px,#9fcae1 621px,#c7dbef 633px,#e1edf8 651px,#eef5fc 669px,#f3f8fe 696px,#f5fafe 756px,#f7fbff 1083px)"></i>
<i style="height:8px;background:linear-gradient(90deg,#f7fbff 0px,#f5fafe 330px,#f2f7fd 384px,#ebf3fb 405px,#ddeaf7 426px,#c3daee 447px,#9ac8e0 462px,#5fa6d1 480px,#4191c6 492px,#3282be 501px,#1f6eb3 516px,#0e59a2 543px,#1561a9 567px,#2676b8 585px,#4997c9 600px,#75b4d8 612px,#a0cbe2 621px,#c7dcef 633px,#deebf7 648px,#eef5fc 669px,#f2f8fd 687px,#f5fafe 753px,#f7fbff 1083px)"></i>
<i style="height:8px;background:linear-gradient(90deg,#f7fbff 0px,#f5fafe 330px,#f3f8fe 375px,#edf4fc 402px,#e3eef8 420px,#c4daee 447px,#9dcae1 462px,#69add5 477px,#4493c7 492px,#2373b6 513px,#1460a8 540px,#0f5aa3 543px,#1865ac 570px,#206fb4 579px,#2e7ebc 588px,#4191c6 597px,#6aaed6 609px,#a1cbe2 621px,#c8dcf0 633px,#dfebf7 648px,#edf4fc 666px,#f3f8fe 693px,#f5fafe 753px,#f7fbff 1083px)"></i>
<i style="height:8px;background:linear-gradient(90deg,#f7fbff 0px,#f5fafe 333px,#f2f8fd 381px,#eaf3fb 408px,#deebf7 426px,#c6dbef 447px,#9fcae1 462px,#6aaed6 477px,#4594c7 492px,#3585bf 501px,#2171b5 516px,#115ca5 543px,#1764ab 567px,#2a7ab9 585px,#4d99ca 600px,#6caed6 609px,#97c6df 618px,#c2d9ee 630px,#dce9f6 645px,#eef5fc 669px,#f5fafe 750px,#f7fbff 1083px)"></i>
<i style="height:8px;background:linear-gradient(90deg,#f7fbff 0px,#f5fafe 333px,#f3f8fe 375px,#ecf4fb 405px,#dce9f6 429px,#c6dbef 447px,#a0cbe2 462px,#64a9d3 480px,#3b8bc2 498px,#2070b4 519px,#1663aa 540px,#125da6 543px,#1a68ae 570px,#2272b6 579px,#3181bd 588px,#4695c8 597px,#64a9d3 606px,#a5cde3 621px,#c3daee 630px,#dfecf7 648px,#eef5fc 669px,#f5fafe 747px,#f7fbff 1083px)"></i>
<i style="height:8px;background:linear-gradient(90deg,#f7fbff 0px,#f5fafe 336px,#eef5fc 402px,#dfebf7 426px,#c7dbef 447px,#a1cbe2 462px,#6fb0d7 477px,#4292c6 495px,#2474b7 516px,#135fa7 543px,#1c6ab0 570px,#2070b4 576px,#3383be 588px,#4896c8 597px,#65aad4 606px,#9ac8e0 618px,#c4daee 630px,#dceaf6 645px,#ecf4fb 663px,#f3f8fe 690px,#f5fafe 747px,#f7fbff 1083px)"></i>
<i style="height:8px;background:linear-gradient(90deg,#f7fbff 0px,#f5fafe 339px,#f2f8fd 384px,#ebf3fb 408px,#dceaf6 429px,#c2d9ee 450px,#9ac8e0 465px,#68acd5 480px,#3e8ec4 498px,#2070b4 522px,#1561a9 543px,#1c6bb0 570px,#2f7fbc 585px,#4191c6 594px,#539ecd 600px,#74b3d8 609px,#9dcae1 618px,#c6dbef 630px,#ddeaf7 645px,#eef5fc 666px,#f3f8fe 690px,#f5fafe 744px,#f7fbff 1083px)"></i>
<i style="height:8px;background:linear-gradient(90deg,#f7fbff 0px,#f5fafe 339px,#edf4fc 405px,#dfecf7 426px,#c8dcf0 447px,#9cc9e1 465px,#69add5 480px,#4090c5 498px,#2777b8 516px,#1562a9 543px,#1e6db2 570px,#3686c0 588px,#4292c6 594px,#69add5 606px,#9fcae1 618px,#c7dbef 630px,#e1edf8 648px,#eff6fc 669px,#f5fafe 744px,#f7fbff 1083px)"></i>
<i style="height:8px;background:linear-gradient(90deg,#f7fbff 0px,#f5fafe 342px,#edf4fc 405px,#e3eef8 423px,#c4daee 450px,#9dcae1 465px,#6caed6 480px,#4191c6 498px,#2373b6 522px,#1764ab 543px,#1d6cb1 567px,#3282be 585px,#3d8dc4 591px,#57a0ce 600px,#6caed6 606px,#a0cbe2 618px,#c7dcef 630px,#deebf7 645px,#edf4fc 663px,#f3f8fe 690px,#f5fafe 741px,#f7fbff 1083px)"></i>
<i style="height:8px;background:linear-gradient(90deg,#f7fbff 0px,#f5fafe 342px,#f3f8fe 381px,#ecf4fb 408px,#deebf7 429px,#c4daee 450px,#9fcae1 465px,#65aad4 483px,#3e8ec4 501px,#2777b8 519px,#1865ac 543px,#2070b4 570px,#3989c1 588px,#58a1cf 600px,#6dafd7 606px,#a3cce3 618px,#c8dcf0 630px,#dfebf7 645px,#eef5fc 666px,#f5fafe 738px,#f7fbff 1083px)"></i>
<i style="height:8px;background:linear-gradient(90deg,#f7fbff 0px,#f5fafe 345px,#f2f8fd 387px,#ecf4fb 408px,#dce9f6 432px,#c6dbef 450px,#a0cbe2 465px,#66abd4 483px,#3f8fc5 501px,#2676b8 522px,#1967ad 543px,#206fb4 567px,#3585bf 585px,#5ba3d0 600px,#6fb0d7 606px,#a4cce3 618px,#c9ddf0 630px,#dce9f6 642px,#eef5fc 666px,#f5fafe 738px,#f7fbff 1083px)"></i>
<i style="height:8px;background:linear-gradient(90deg,#f7fbff 0px,#f5fafe 345px,#eef5fc 405px,#dfebf7 429px,#c7dbef 450px,#a3cce3 465px,#69add5 483px,#4191c6 501px,#2979b9 522px,#1b69af 543px,#2373b6 570px,#3c8cc3 588px,#66abd4 603px,#9ac8e0 615px,#c3daee 627px,#dfecf7 645px,#eef5fc 663px,#f4f9fe 693px,#f5fafe 735px,#f7fbff 1083px)"></i>
<i style="height:8px;background:linear-gradient(90deg,#f7fbff 0px,#f5fafe 348px,#edf4fc 408px,#e2edf8 426px,#c7dcef 450px,#a4cce3 465px,#6aaed6 483px,#4997c9 498px,#2d7dbb 519px,#2070b4 540px,#1c6ab0 543px,#2575b7 570px,#3e8ec4 588px,#69add5 603px,#a8cee4 618px,#c4daee 627px,#e0ecf8 645px,#eef5fc 663px,#f3f8fe 684px,#f5fafe 732px,#f7fbff 1083px)"></i>
<i style="height:8px;background:linear-gradient(90deg,#f7fbff 0px,#f5fafe 348px,#edf4fc 408px,#dfecf7 429px,#c8dcf0 450px,#9dcae1 468px,#65aad4 486px,#4594c7 501px,#2f7fbc 519px,#1d6cb1 543px,#2171b5 561px,#3686c0 582px,#4090c5 588px,#61a7d2 600px,#9fcae1 615px,#c7dbef 627px,#e7f0fa 651px,#eff6fc 666px,#f6faff 771px,#f7fbff 1083px)"></i>
<i style="height:8px;background:linear-gradient(90deg,#f7fbff 0px,#f6faff 315px,#f5f9fe 369px,#eef5fc 405px,#e0ecf8 429px,#c4daee 453px,#9fcae1 468px,#6fb0d7 483px,#4d99ca 498px,#3a8ac2 510px,#2e7ebc 522px,#1f6eb3 543px,#2a7ab9 570px,#3d8dc4 585px,#529dcc 594px,#6dafd7 603px,#abd0e6 618px,#c7dcef 627px,#deebf7 642px,#eef5fc 663px,#f5fafe 729px,#f7fbff 1083px)"></i>
<i style="height:8px;background:linear-gradient(90deg,#f7fbff 0px,#f5fafe 351px,#ecf4fb 411px,#deebf7 432px,#c6dbef 453px,#a0cbe2 468px,#69add5 486px,#4493c7 504px,#3585bf 516px,#2070b4 543px,#2979b9 567px,#3e8ec4 585px,#65aad4 600px,#a3cce3 615px,#c8dcf0 627px,#e2edf8 645px,#eef5fc 663px,#f5fafe 726px,#f7fbff 1083px)"></i>
<i style="height:8px;background:linear-gradient(90deg,#f7fbff 0px,#f5fafe 354px,#eef5fc 408px,#e1edf8 429px,#c7dbef 453px,#9ac8e0 471px,#64a9d3 489px,#4b98ca 501px,#3484bf 519px,#2272b6 543px,#2979b9 564px,#3b8bc2 582px,#4695c8 588px,#68acd5 600px,#a4cce3 615px,#c9ddf0 627px,#e5eff9 648px,#f0f6fd 666px,#f6faff 765px,#f7fbff 1083px)"></i>
<i style="height:8px;background:linear-gradient(90deg,#f7fbff 0px,#f6faff 321px,#f0f6fd 402px,#dfebf7 432px,#c7dcef 453px,#9cc9e1 471px,#6dafd7 486px,#539ecd 498px,#3f8fc5 510px,#2474b7 543px,#2b7bba 564px,#3d8dc4 582px,#4997c9 588px,#6aaed6 600px,#a6cee4 615px,#caddf0 627px,#e6f0f9 648px,#f0f6fd 666px,#f6faff 762px,#f7fbff 1083px)"></i>
<i style="height:8px;background:linear-gradient(90deg,#f7fbff 0px,#f6faff 324px,#eff6fc 405px,#dfecf7 432px,#c8dcf0 453px,#9dcae1 471px,#61a7d2 492px,#4a98c9 504px,#3585bf 522px,#2676b8 543px,#2b7bba 561px,#3f8fc5 582px,#4b98ca 588px,#6dafd7 600px,#9dcae1 612px,#c4daee 624px,#dceaf6 639px,#eff6fc 663px,#f6faff 759px,#f7fbff 1083px)"></i>
<i style="height:8px;background:linear-gradient(90deg,#f7fbff 0px,#f6faff 327px,#eef5fc 408px,#ddeaf7 435px,#c4daee 456px,#a0cbe2 471px,#6aaed6 489px,#529dcc 501px,#3c8cc3 516px,#2777b8 543px,#2d7dbb 561px,#4191c6 582px,#65aad4 597px,#9fcae1 612px,#c6dbef 624px,#ddeaf7 639px,#eff6fc 663px,#f6faff 756px,#f7fbff 1083px)"></i>
<i style="height:8px;background:linear-gradient(90deg,#f7fbff 0px,#f6faff 330px,#f4f9fe 384px,#eef5fc 408px,#e0ecf8 432px,#c6dbef 456px,#a1cbe2 471px,#6dafd7 489px,#5aa2cf 498px,#4191c6 513px,#2a7ab9 543px,#2f7fbc 561px,#4493c7 582px,#68acd5 597px,#a1cbe2 612px,#c7dcef 624px,#e4eff9 645px,#f1f7fd 666px,#f6faff 753px,#f7fbff 1083px)"></i>
<i style="height:8px;background:linear-gradient(90deg,#f7fbff 0px,#f6faff 330px,#f4f9fe 384px,#eef5fc 411px,#e3eef9 429px,#c7dbef 456px,#a3cce3 471px,#6fb0d7 489px,#519ccc 504px,#3d8dc4 519px,#2c7cba 543px,#3181bd 561px,#4090c5 579px,#529dcc 588px,#6aaed6 597px,#99c7e0 609px,#c8dcf0 624px,#e7f1fa 648px,#f0f6fd 663px,#f6faff 753px,#f7fbff 1083px)"></i>
<i style="height:8px;background:linear-gradient(90deg,#f7fbff 0px,#f6faff 333px,#f0f6fd 405px,#dfebf7 435px,#c7dcef 456px,#9dcae1 474px,#72b2d8 489px,#5da5d1 498px,#3f8fc5 519px,#2e7ebc 543px,#3484bf 564px,#4292c6 579px,#6caed6 597px,#a5cde3 612px,#c9ddf0 624px,#e5eff9 645px,#f0f6fd 663px,#f6faff 750px,#f7fbff 1083px)"></i>
<i style="height:8px;background:linear-gradient(90deg,#f7fbff 0px,#f6faff 336px,#eff6fc 408px,#e2edf8 432px,#c8dcf0 456px,#9fcae1 474px,#6caed6 492px,#60a7d2 498px,#4493c7 516px,#3585bf 540px,#3080bd 543px,#3686c0 564px,#4594c7 579px,#5da5d1 591px,#6fb0d7 597px,#9dcae1 609px,#caddf0 624px,#e3eef8 642px,#eff6fc 660px,#f5f9fe 690px,#f6faff 747px,#f7fbff 1083px)"></i>
<i style="height:8px;background:linear-gradient(90deg,#f7fbff 0px,#f6faff 339px,#eef5fc 411px,#ddeaf7 438px,#c9ddf0 456px,#a0cbe2 474px,#6fb0d7 492px,#5ca4d0 501px,#4292c6 519px,#3282be 543px,#3585bf 558px,#4292c6 576px,#68acd5 594px,#a9cfe5 612px,#cadef0 624px,#e6f0f9 645px,#f2f7fd 666px,#f6faff 744px,#f7fbff 1083px)"></i>
<i style="height:8px;background:linear-gradient(90deg,#f7fbff 0px,#f6faff 339px,#f5f9fe 381px,#eef5fc 411px,#e0ecf8 435px,#c6dbef 459px,#a3cce3 474px,#64a9d3 498px,#4594c7 519px,#3888c1 540px,#3383be 543px,#3888c1 561px,#4594c7 576px,#549fcd 585px,#6aaed6 594px,#a1cbe2 609px,#c6dbef 621px,#e7f0fa 645px,#f1f7fd 663px,#f6faff 741px,#f7fbff 1083px)"></i>
<i style="height:8px;background:linear-gradient(90deg,#f7fbff 0px,#f6faff 342px,#f0f6fd 408px,#deebf7 438px,#c7dbef 459px,#9cc9e1 477px,#6caed6 495px,#60a7d2 501px,#4493c7 522px,#3a8ac2 540px,#3585bf 543px,#3d8dc4 567px,#4b98ca 579px,#6caed6 594px,#99c7e0 606px,#c7dcef 621px,#e4eff9 642px,#f0f6fd 660px,#f6faff 738px,#f7fbff 1083px)"></i>
<i style="height:8px;background:linear-gradient(90deg,#f7fbff 0px,#f6faff 345px,#eff6fc 411px,#e1edf8 435px,#c7dcef 459px,#9fcae1 477px,#68acd5 498px,#4997c9 519px,#3787c0 543px,#3d8dc4 564px,#4997c9 576px,#66abd4 591px,#9ac8e0 606px,#c8dcf0 621px,#e7f1fa 645px,#f0f6fd 660px,#f6faff 738px,#f7fbff 1083px)"></i>
<i style="height:8px;background:linear-gradient(90deg,#f7fbff 0px,#f6faff 348px,#eff6fc 411px,#dceaf6 441px,#c8dcf0 459px,#a0cbe2 477px,#71b1d7 495px,#5ba3d0 507px,#4594c7 525px,#3989c1 543px,#3d8dc4 561px,#4b98ca 576px,#69add5 591px,#9dcae1 606px,#c9ddf0 621px,#dfebf7 636px,#eff6fc 657px,#f5f9fe 684px,#f6faff 735px,#f7fbff 1083px)"></i>
<i style="height:8px;background:linear-gradient(90deg,#f7fbff 0px,#f6faff 348px,#eef5fc 414px,#dfecf7 438px,#c9ddf0 459px,#9ac8e0 480px,#6caed6 498px,#61a7d2 504px,#4a98c9 522px,#3f8fc5 540px,#3a8ac2 543px,#3f8fc5 561px,#529dcc 579px,#6aaed6 591px,#9fcae1 606px,#caddf0 621px,#e3eef8 639px,#f2f7fd 663px,#f6faff 732px,#f7fbff 1083px)"></i>
<i style="height:8px;background:linear-gradient(90deg,#f7fbff 0px,#f6faff 351px,#f1f7fd 408px,#e3eef8 435px,#c6dbef 462px,#a4cce3 477px,#75b4d8 495px,#5fa6d1 507px,#4f9bcb 519px,#3c8cc3 543px,#4292c6 564px,#4f9bcb 576px,#6dafd7 591px,#a1cbe2 606px,#cadef0 621px,#e6f0f9 642px,#f1f7fd 660px,#f6faff 729px,#f7fbff 1083px)"></i>
<i style="height:8px;background:linear-gradient(90deg,#f7fbff 0px,#f6faff 354px,#f0f6fd 411px,#deebf7 441px,#c7dbef 462px,#9fcae1 480px,#71b1d7 498px,#65aad4 504px,#4e9acb 522px,#3e8ec4 543px,#4292c6 561px,#529dcc 576px,#68acd5 588px,#a3cce3 606px,#c6dbef 618px,#e0ecf8 636px,#f0f6fd 657px,#f6faff 726px,#f7fbff 1083px)"></i>
<i style="height:8px;background:linear-gradient(90deg,#f7fbff 0px,#f6faff 357px,#eff6fc 414px,#e1edf8 438px,#c7dcef 462px,#a0cbe2 480px,#81badb 492px,#63a8d3 507px,#539ecd 519px,#4594c7 540px,#3f8fc5 543px,#4594c7 561px,#58a1cf 579px,#72b2d8 591px,#9ac8e0 603px,#c7dcef 618px,#e4eff9 639px,#f0f6fd 657px,#f6faff 723px,#f7fbff 1083px)"></i>
<i style="height:8px;background:linear-gradient(90deg,#f7fbff 0px,#f6faff 357px,#eff6fc 414px,#dfebf7 441px,#c8dcf0 462px,#a1cbe2 480px,#69add5 504px,#56a0ce 519px,#4191c6 543px,#4997c9 564px,#56a0ce 576px,#6caed6 588px,#9dcae1 603px,#c8dcf0 618px,#e7f1fa 642px,#f2f8fd 663px,#f7fbff 783px,#f7fbff 1083px)"></i>
<i style="height:8px;background:linear-gradient(90deg,#f7fbff 0px,#f6faff 360px,#eef5fc 417px,#dfecf7 441px,#c9ddf0 462px,#9dcae1 483px,#85bcdc 492px,#66abd4 507px,#549fcd 522px,#4493c7 543px,#4896c8 558px,#58a1cf 576px,#77b5d9 591px,#9fcae1 603px,#c9ddf0 618px,#e5eff9 639px,#f2f7fd 660px,#f7fbff 780px,#f7fbff 1083px)"></i>
<i style="height:8px;background:linear-gradient(90deg,#f7fbff 0px,#f6faff 360px,#f1f7fd 411px,#e7f0fa 432px,#caddf0 462px,#9fcae1 483px,#6dafd7 504px,#5aa2cf 519px,#4695c8 543px,#4b98ca 561px,#5fa6d1 579px,#7ab6d9 591px,#a1cbe2 603px,#caddf0 618px,#e3eef8 636px,#f1f7fd 657px,#f6faff 717px,#f7fbff 1083px)"></i>
<i style="height:8px;background:linear-gradient(90deg,#f7fbff 0px,#f6faff 363px,#f0f6fd 414px,#e0ecf8 441px,#c7dbef 465px,#a0cbe2 483px,#6aaed6 507px,#4896c8 543px,#4e9acb 561px,#5ca4d0 576px,#74b3d8 588px,#9ac8e0 600px,#c6dbef 615px,#e6f0f9 639px,#f1f7fd 657px,#f6faff 717px,#f7fbff 1083px)"></i>
<i style="height:8px;background:linear-gradient(90deg,#f7fbff 0px,#f6faff 363px,#eff6fc 417px,#e3eef9 438px,#c7dcef 465px,#9cc9e1 486px,#72b2d8 504px,#5da5d1 519px,#4a98c9 543px,#4e9acb 558px,#5fa6d1 576px,#6fb0d7 585px,#9cc9e1 600px,#c7dbef 615px,#e0ecf8 633px,#f0f6fd 654px,#f6faff 714px,#f7fbff 1083px)"></i>
<i style="height:8px;background:linear-gradient(90deg,#f7fbff 0px,#f6faff 366px,#eff6fc 417px,#dfebf7 444px,#c8dcf0 465px,#9dcae1 486px,#6aaed6 510px,#4d99ca 543px,#529dcc 561px,#65aad4 579px,#82bbdb 591px,#c1d9ed 612px,#cddff1 618px,#e4eff9 636px,#f2f8fd 660px,#f7fbff 774px,#f7fbff 1083px)"></i>
<i style="height:8px;background:linear-gradient(90deg,#f7fbff 0px,#f6faff 366px,#f1f7fd 414px,#e7f0fa 435px,#c9ddf0 465px,#a0cbe2 486px,#6dafd7 510px,#58a1cf 531px,#549fcd 540px,#4e9acb 543px,#549fcd 561px,#68acd5 579px,#7cb7da 588px,#a1cbe2 600px,#c9ddf0 615px,#e7f1fa 639px,#f2f7fd 657px,#f7fbff 771px,#f7fbff 1083px)"></i>
<i style="height:8px;background:linear-gradient(90deg,#f7fbff 0px,#f6faff 369px,#f0f6fd 417px,#e3eef8 441px,#c7dbef 468px,#9cc9e1 489px,#7ab6d9 504px,#6caed6 513px,#519ccc 543px,#58a1cf 564px,#65aad4 576px,#77b5d9 585px,#c4daee 612px,#dfebf7 630px,#f1f7fd 654px,#f6faff 708px,#f7fbff 1083px)"></i>
<i style="height:8px;background:linear-gradient(90deg,#f7fbff 0px,#f6faff 369px,#eff6fc 420px,#deebf7 447px,#c7dcef 468px,#6dafd7 513px,#539ecd 543px,#57a0ce 558px,#68acd5 576px,#7ab6d9 585px,#9dcae1 597px,#c6dbef 612px,#dfecf7 630px,#f0f6fd 651px,#f6faff 705px,#f7fbff 1083px)"></i>
<i style="height:8px;background:linear-gradient(90deg,#f7fbff 0px,#f6faff 372px,#eff6fc 420px,#e1edf8 444px,#c8dcf0 468px,#a0cbe2 489px,#7fb9da 504px,#6caed6 516px,#5ba3d0 540px,#549fcd 543px,#5ba3d0 561px,#6aaed6 576px,#75b4d8 582px,#bfd8ed 609px,#ccdff1 615px,#e7f0fa 636px,#f2f8fd 657px,#f7fbff 765px,#f7fbff 1083px)"></i>
<i style="height:8px;background:linear-gradient(90deg,#f7fbff 0px,#f7fbff 321px,#f2f7fd 414px,#e4eff9 441px,#c6dbef 471px,#82bbdb 504px,#6fb0d7 516px,#57a0ce 543px,#5da5d1 561px,#69add5 573px,#79b5d9 582px,#c8dcf0 612px,#e4eff9 633px,#f2f7fd 654px,#f7fbff 762px,#f7fbff 1083px)"></i>
<i style="height:8px;background:linear-gradient(90deg,#f7fbff 0px,#f6faff 375px,#f0f6fd 420px,#ddeaf7 450px,#cadef0 468px,#72b2d8 516px,#5aa2cf 543px,#60a7d2 561px,#6caed6 573px,#7cb7da 582px,#c3daee 609px,#cee0f2 615px,#e2edf8 630px,#f1f7fd 651px,#f6faff 699px,#f7fbff 1083px)"></i>
<i style="height:8px;background:linear-gradient(90deg,#f7fbff 0px,#f6faff 375px,#eff6fc 423px,#deebf7 450px,#cbdef1 468px,#c3daee 474px,#7db8da 510px,#6aaed6 525px,#5ca4d0 543px,#63a8d3 561px,#6aaed6 570px,#7fb9da 582px,#c6dbef 609px,#e8f1fa 636px,#f1f7fd 651px,#f6faff 696px,#f7fbff 1083px)"></i>
<i style="height:8px;background:linear-gradient(90deg,#f7fbff 0px,#f6faff 378px,#eff6fc 423px,#e1edf8 447px,#c9ddf0 471px,#7cb7da 513px,#5fa6d1 543px,#65aad4 561px,#6dafd7 570px,#82bbdb 582px,#c7dbef 609px,#e6f0f9 633px,#f2f8fd 654px,#f7fbff 753px,#f7fbff 1083px)"></i>
<i style="height:8px;background:linear-gradient(90deg,#f7fbff 0px,#f7fbff 330px,#f1f7fd 420px,#e4eff9 444px,#caddf0 471px,#7fb9da 513px,#61a7d2 543px,#68acd5 561px,#71b1d7 570px,#85bcdc 582px,#c8dcf0 609px,#e7f0fa 633px,#f2f7fd 651px,#f7fbff 753px,#f7fbff 1083px)"></i>
<i style="height:8px;background:linear-gradient(90deg,#f7fbff 0px,#f7fbff 333px,#f5fafe 393px,#f0f6fd 423px,#ddeaf7 453px,#c7dcef 474px,#82bbdb 513px,#64a9d3 543px,#6aaed6 561px,#74b3d8 570px,#89bedc 582px,#c9ddf0 609px,#e7f1fa 633px,#f1f7fd 648px,#f6faff 690px,#f7fbff 1083px)"></i>
<i style="height:8px;background:linear-gradient(90deg,#f7fbff 0px,#f6faff 381px,#eff6fc 426px,#deebf7 453px,#ccdff1 471px,#81badb 516px,#66abd4 543px,#6dafd7 561px,#77b5d9 570px,#92c4de 585px,#c6dbef 606px,#e5eff9 630px,#f1f7fd 648px,#f6faff 690px,#f7fbff 1083px)"></i>
<i style="height:8px;background:linear-gradient(90deg,#f7fbff 0px,#f4f9fe 408px,#eaf2fb 438px,#caddf0 474px,#84bcdb 516px,#69add5 543px,#71b1d7 561px,#7ab6d9 570px,#89bedc 579px,#c7dbef 606px,#d4e4f4 615px,#e6f0f9 630px,#f2f8fd 651px,#f7fbff 744px,#f7fbff 1083px)"></i>
<i style="height:8px;background:linear-gradient(90deg,#f7fbff 0px,#f7fbff 342px,#f3f8fe 414px,#e8f1fa 441px,#d4e4f4 465px,#c7dbef 477px,#87bddc 516px,#72b2d8 540px,#6caed6 543px,#74b3d8 561px,#7db8da 570px,#8cc0dd 579px,#c8dcf0 606px,#e0ecf8 624px,#ebf3fb 636px,#f4f9fe 657px,#f7fbff 1083px)"></i>
<i style="height:8px;background:linear-gradient(90deg,#f7fbff 0px,#f4f9fe 411px,#eaf3fb 438px,#d2e3f3 468px,#c4daee 480px,#8abfdd 516px,#75b4d8 540px,#6fb0d7 543px,#77b5d9 561px,#81badb 570px,#8fc2de 579px,#c4daee 603px,#e1edf8 624px,#eef5fc 639px,#f4f9fe 657px,#f7fbff 1083px)"></i>
<i style="height:8px;background:linear-gradient(90deg,#f7fbff 0px,#f4f9fe 411px,#e7f1fa 444px,#d9e7f5 462px,#c6dbef 480px,#91c3de 513px,#79b5d9 540px,#72b2d8 543px,#7ab6d9 561px,#84bcdb 570px,#92c4de 579px,#c6dbef 603px,#e2edf8 624px,#eef5fc 639px,#f5f9fe 660px,#f7fbff 1083px)"></i>
<i style="height:8px;background:linear-gradient(90deg,#f7fbff 0px,#f7fbff 351px,#f2f8fd 420px,#e6f0f9 447px,#cadef0 477px,#94c4df 513px,#89bedc 522px,#7cb7da 540px,#75b4d8 543px,#7db8da 561px,#87bddc 570px,#add0e6 591px,#c7dcef 603px,#dce9f6 618px,#eaf3fb 633px,#f4f9fe 654px,#f7fbff 1083px)"></i>
<i style="height:8px;background:linear-gradient(90deg,#f7fbff 0px,#f7fbff 354px,#f3f8fe 417px,#e8f1fa 444px,#dae8f6 462px,#c4daee 483px,#8fc2de 519px,#7fb9da 540px,#79b5d9 543px,#81badb 561px,#8abfdd 570px,#c9ddf0 603px,#dceaf6 618px,#edf4fc 636px,#f4f9fe 654px,#f7fbff 1083px)"></i>
<i style="height:8px;background:linear-gradient(90deg,#f7fbff 0px,#f4f9fe 414px,#eef5fc 435px,#dbe9f6 462px,#c6dbef 483px,#92c4de 519px,#82bbdb 540px,#7cb7da 543px,#84bcdb 561px,#8dc1dd 570px,#abd0e6 588px,#c6dbef 600px,#ddeaf7 618px,#ebf3fb 633px,#f5f9fe 657px,#f7fbff 1083px)"></i>
<i style="height:8px;background:linear-gradient(90deg,#f7fbff 0px,#f4f9fe 414px,#eff6fc 432px,#dce9f6 462px,#c7dcef 483px,#95c5df 519px,#85bcdc 540px,#7fb9da 543px,#87bddc 561px,#91c3de 570px,#aed1e7 588px,#c7dbef 600px,#e7f1fa 627px,#f5f9fe 657px,#f7fbff 1083px)"></i>
<i style="height:8px;background:linear-gradient(90deg,#f7fbff 0px,#f7fbff 363px,#f2f8fd 423px,#eaf2fb 444px,#d7e6f5 468px,#c4daee 486px,#a3cce3 510px,#92c4de 525px,#89bedc 540px,#82bbdb 543px,#8abfdd 561px,#94c4df 570px,#c8dcf0 600px,#dfebf7 618px,#ecf4fb 633px,#f4f9fe 651px,#f7fbff 1083px)"></i>
<i style="height:8px;background:linear-gradient(90deg,#f7fbff 0px,#f7fbff 363px,#f3f8fe 420px,#e8f1fa 447px,#d8e7f5 468px,#c7dbef 486px,#a5cde3 510px,#95c5df 525px,#8cc0dd 540px,#85bcdc 543px,#8dc1dd 561px,#97c6df 570px,#cde0f1 603px,#e6f0f9 624px,#f4f9fe 651px,#f7fbff 1083px)"></i>
<i style="height:8px;background:linear-gradient(90deg,#f7fbff 0px,#f4f9fe 417px,#eef5fc 438px,#deebf7 462px,#c4daee 489px,#a8cee4 510px,#8fc2de 540px,#89bedc 543px,#91c3de 561px,#9ac8e0 570px,#c7dbef 597px,#e3eef9 621px,#edf4fc 633px,#f5f9fe 654px,#f7fbff 1083px)"></i>
<i style="height:8px;background:linear-gradient(90deg,#f7fbff 0px,#f4f9fe 417px,#eff6fc 435px,#dfebf7 462px,#c7dbef 489px,#aacfe5 510px,#8dc1dd 543px,#91c3de 555px,#9ac8e0 567px,#a9cfe5 579px,#c8dcf0 597px,#e4eff9 621px,#f1f7fd 639px,#f5f9fe 654px,#f7fbff 1083px)"></i>
<i style="height:8px;background:linear-gradient(90deg,#f7fbff 0px,#f7fbff 372px,#f3f8fe 423px,#eef5fc 438px,#ddeaf7 465px,#c8dcf0 489px,#a8cee4 516px,#92c4de 543px,#97c6df 558px,#a1cbe2 570px,#c6dbef 594px,#e5eff9 621px,#f4f9fe 648px,#f7fbff 1083px)"></i>
<i style="height:8px;background:linear-gradient(90deg,#f7fbff 0px,#f4f9fe 420px,#e3eef8 459px,#caddf0 489px,#aed1e7 513px,#97c6df 543px,#99c7e0 552px,#a5cde3 570px,#c8dcf0 594px,#e6f0f9 621px,#f5f9fe 651px,#f7fbff 1083px)"></i>
<i style="height:8px;background:linear-gradient(90deg,#f7fbff 0px,#f4f9fe 420px,#e3eef9 459px,#c6dbef 495px,#aed1e7 516px,#a0cbe2 540px,#9ac8e0 543px,#a1cbe2 561px,#abd0e6 573px,#c7dbef 591px,#e7f0fa 621px,#f5f9fe 651px,#f7fbff 1083px)"></i>
<i style="height:8px;background:linear-gradient(90deg,#f7fbff 0px,#f5f9fe 417px,#e4eff9 459px,#c7dcef 495px,#b4d3e9 513px,#9fcae1 543px,#a5cde3 561px,#afd1e7 573px,#c8dcf0 591px,#eaf2fb 624px,#f5fafe 654px,#f7fbff 1083px)"></i>
<i style="height:8px;background:linear-gradient(90deg,#f7fbff 0px,#f4f9fe 423px,#e5eff9 459px,#bdd7ec 507px,#a3cce3 543px,#add0e6 567px,#e8f1fa 621px,#f5f9fe 648px,#f7fbff 1083px)"></i>
<i style="height:8px;background:linear-gradient(90deg,#f7fbff 0px,#f4f9fe 423px,#e6f0f9 459px,#bdd7ec 510px,#a6cee4 543px,#aed1e7 564px,#e3eef9 615px,#edf4fc 627px,#f5f9fe 648px,#f7fbff 1083px)"></i>
<i style="height:8px;background:linear-gradient(90deg,#f7fbff 0px,#f5f9fe 420px,#e7f0fa 459px,#c3daee 507px,#aacfe5 543px,#b2d2e8 564px,#ebf3fb 624px,#f5f9fe 648px,#f7fbff 1083px)"></i>
<i style="height:8px;background:linear-gradient(90deg,#f7fbff 0px,#f5f9fe 420px,#e9f2fa 456px,#c6dbef 507px,#aed1e7 543px,#b9d6ea 570px,#ecf4fb 624px,#f5fafe 651px,#f7fbff 1083px)"></i>
<i style="height:8px;background:linear-gradient(90deg,#f7fbff 0px,#f6faff 408px,#eef5fc 447px,#cbdef1 501px,#b2d2e8 543px,#bad6eb 567px,#eaf3fb 621px,#f6faff 657px,#f7fbff 1083px)"></i>
<i style="height:8px;background:linear-gradient(90deg,#f7fbff 0px,#f5fafe 417px,#edf4fc 450px,#cbdef1 504px,#b5d4e9 543px,#bcd7eb 564px,#ebf3fb 621px,#f6faff 657px,#f7fbff 1083px)"></i>
<i style="height:8px;background:linear-gradient(90deg,#f7fbff 0px,#f5fafe 417px,#ecf4fb 453px,#cbdef1 507px,#b8d5ea 543px,#c3daee 570px,#eef5fc 624px,#f5fafe 648px,#f7fbff 1083px)"></i>
<i style="height:8px;background:linear-gradient(90deg,#f7fbff 0px,#f6faff 411px,#ebf3fb 456px,#bcd7eb 543px,#caddf0 576px,#eaf3fb 618px,#f6faff 654px,#f7fbff 1083px)"></i>
<i style="height:8px;background:linear-gradient(90deg,#f7fbff 0px,#f5fafe 420px,#eef5fc 450px,#cde0f1 510px,#c1d9ed 543px,#cde0f1 579px,#f0f6fd 627px,#f6faff 654px,#f7fbff 1083px)"></i>
<i style="height:8px;background:linear-gradient(90deg,#f7fbff 0px,#f6faff 414px,#f0f6fd 447px,#d1e2f3 507px,#c4daee 543px,#cddff1 573px,#ecf4fb 618px,#f5fafe 645px,#f7fbff 1083px)"></i>
<i style="height:8px;background:linear-gradient(90deg,#f7fbff 0px,#f6faff 414px,#eef5fc 453px,#d3e4f3 507px,#c8dcf0 543px,#cee0f2 570px,#eef5fc 621px,#f6faff 651px,#f7fbff 1083px)"></i>
<i style="height:8px;background:linear-gradient(90deg,#f7fbff 0px,#f6faff 417px,#eff6fc 453px,#d6e5f4 507px,#cbdef1 543px,#d2e3f3 573px,#eff6fc 621px,#f6faff 651px,#f7fbff 1083px)"></i>
<i style="height:8px;background:linear-gradient(90deg,#f7fbff 0px,#f6faff 417px,#f1f7fd 450px,#d8e7f5 507px,#cee0f2 543px,#d6e5f4 576px,#eef5fc 618px,#f6faff 648px,#f7fbff 1083px)"></i>
<i style="height:8px;background:linear-gradient(90deg,#f7fbff 0px,#f6faff 420px,#eef5fc 462px,#dae8f6 507px,#d1e2f3 543px,#d5e5f4 567px,#eff6fc 618px,#f6faff 648px,#f7fbff 1083px)"></i>
<i style="height:8px;background:linear-gradient(90deg,#f7fbff 0px,#f7fbff 408px,#f4f9fe 441px,#d4e4f4 543px,#d9e8f5 573px,#f3f8fe 627px,#f7fbff 657px,#f7fbff 1083px)"></i>
<i style="height:8px;background:linear-gradient(90deg,#f7fbff 0px,#f6faff 423px,#f3f8fe 447px,#d7e6f5 543px,#dbe9f6 570px,#f1f7fd 618px,#f7fbff 654px,#f7fbff 1083px)"></i>
<i style="height:8px;background:linear-gradient(90deg,#f7fbff 0px,#f6faff 426px,#dae8f6 543px,#dfecf7 576px,#f5f9fe 630px,#f7fbff 654px,#f7fbff 1083px)"></i>
<i style="height:8px;background:linear-gradient(90deg,#f7fbff 0px,#f7fbff 414px,#f2f8fd 456px,#ddeaf7 543px,#dfecf7 567px,#f3f8fe 621px,#f7fbff 651px,#f7fbff 1083px)"></i>
<i style="height:8px;background:linear-gradient(90deg,#f7fbff 0px,#f7fbff 417px,#f2f8fd 459px,#dfecf7 543px,#e2edf8 567px,#f1f7fd 612px,#f7fbff 648px,#f7fbff 1083px)"></i>
<i style="height:8px;background:linear-gradient(90deg,#f7fbff 0px,#f7fbff 420px,#e2edf8 543px,#f7fbff 645px,#f7fbff 1083px)"></i>
<i style="height:8px;background:linear-gradient(90deg,#f7fbff 0px,#f7fbff 423px,#e4eff9 543px,#f7fbff 645px,#f7fbff 1083px)"></i>
<i style="height:8px;background:linear-gradient(90deg,#f7fbff 0px,#f7fbff 426px,#e7f0fa 543px,#f7fbff 642px,#f7fbff 1083px)"></i>
<i style="height:8px;background:linear-gradient(90deg,#f7fbff 0px,#f7fbff 429px,#e9f2fa 543px,#f7fbff 639px,#f7fbff 1083px)"></i>
<i style="height:8px;background:linear-gradient(90deg,#f7fbff 0px,#f7fbff 432px,#ecf4fb 537px,#f7fbff 636px,#f7fbff 1083px)"></i>
<i style="height:8px;background:linear-gradient(90deg,#f7fbff 0px,#f7fbff 435px,#eef5fc 543px,#f7fbff 633px,#f7fbff 1083px)"></i>
<i style="height:8px;background:linear-gradient(90deg,#f7fbff 0px,#f7fbff 438px,#eff6fc 534px,#f7fbff 633px,#f7fbff 1083px)"></i>
<i style="height:8px;background:linear-gradient(90deg,#f7fbff 0px,#f7fbff 441px,#f0f6fd 543px,#f7fbff 630px,#f7fbff 1083px)"></i>
<i style="height:8px;background:linear-gradient(90deg,#f7fbff 0px,#f7fbff 444px,#f2f7fd 537px,#f7fbff 627px,#f7fbff 1083px)"></i>
<i style="height:8px;background:linear-gradient(90deg,#f7fbff 0px,#f7fbff 450px,#f3f8fe 525px,#f7fbff 621px,#f7fbff 1083px)"></i>
<i style="height:8px;background:linear-gradient(90deg,#f7fbff 0px,#f4f9fe 543px,#f7fbff 1083px)"></i>
<i style="height:8px;background:#f7fbff"></i>
<i style="height:8px;background:#f7fbff"></i>
<i style="height:7px;background:#f7fbff"></i>
</div>
<div class="hm" style="left:2457.0px;top:1237.7px;width:1083.0px;height:1763.0px">
<i style="height:4px;background:linear-gradient(90deg,#e7f1fa 0px,#e3eef8 228px,#dbe9f6 288px,#d1e2f3 318px,#c4daee 339px,#9dcae1 366px,#69add5 387px,#3888c1 408px,#2171b5 426px,#08509b 459px,#084082 483px,#083674 507px,#08306b 546px,#08306b 570px,#08326e 591px,#083877 612px,#084488 630px,#0a539e 645px,#2070b4 666px,#3b8bc2 681px,#66abd4 696px,#9dcae1 714px,#c6dbef 738px,#d6e5f4 768px,#e3eef9 870px,#e7f1fa 1083px)"></i>
<i style="height:4px;background:linear-gradient(90deg,#e8f1fa 0px,#e3eef8 249px,#dce9f6 300px,#d2e3f3 330px,#c2d9ee 354px,#a1cbe2 375px,#6caed6 396px,#3f8fc5 414px,#2d7dbb 426px,#0c56a0 459px,#08468b 480px,#083a7a 501px,#083573 519px,#08316d 546px,#08326e 579px,#083a7a 609px,#08458a 624px,#08519c 636px,#206fb4 657px,#3b8bc2 672px,#87bddc 696px,#aed1e7 711px,#c6dbef 726px,#d7e6f5 759px,#e4eff9 861px,#e8f1fa 1083px)"></i>
<i style="height:4px;background:linear-gradient(90deg,#e9f2fa 0px,#e5eff9 234px,#e0ecf8 288px,#d6e5f4 333px,#c7dbef 360px,#a1cbe2 384px,#69add5 405px,#3b8bc2 423px,#2171b5 441px,#1562a9 453px,#0a539e 468px,#084b93 477px,#083d7f 498px,#083776 516px,#08326e 561px,#083573 588px,#083b7c 606px,#084488 618px,#08509b 630px,#2070b4 651px,#3d8dc4 666px,#6dafd7 681px,#97c6df 693px,#b9d6ea 708px,#c7dbef 717px,#d7e6f5 747px,#e5eff9 855px,#e9f2fa 1083px)"></i>
<i style="height:4px;background:linear-gradient(90deg,#eaf2fb 0px,#e5eff9 249px,#dfecf7 303px,#d3e4f3 345px,#c6dbef 366px,#b4d3e9 378px,#95c5df 393px,#3f8fc5 423px,#3181bd 432px,#206fb4 444px,#0b559f 465px,#08488e 480px,#083e81 495px,#083674 522px,#083370 546px,#083471 576px,#083b7c 606px,#084488 618px,#08509b 630px,#1d6cb1 648px,#3b8bc2 663px,#6caed6 678px,#99c7e0 690px,#bcd7eb 705px,#c8dcf0 714px,#d7e6f5 741px,#dfecf7 780px,#e6f0f9 852px,#eaf2fb 1083px)"></i>
<i style="height:4px;background:linear-gradient(90deg,#eaf3fb 0px,#e6f0f9 252px,#dfecf7 312px,#d6e6f4 345px,#c4daee 372px,#9fcae1 393px,#68acd5 411px,#3e8ec4 426px,#1d6cb1 447px,#084f99 471px,#084285 489px,#083877 513px,#083573 579px,#083b7c 606px,#084990 624px,#08519c 630px,#1f6eb3 648px,#3f8fc5 663px,#8fc2de 684px,#a3cce3 690px,#b8d5ea 699px,#c7dcef 708px,#d9e7f5 738px,#e2edf8 789px,#e7f1fa 867px,#eaf3fb 1083px)"></i>
<i style="height:4px;background:linear-gradient(90deg,#eaf3fb 0px,#e7f0fa 255px,#e0ecf8 315px,#d8e7f5 345px,#c4daee 375px,#9cc9e1 396px,#6dafd7 411px,#4191c6 426px,#1f6eb3 447px,#084e98 474px,#084488 486px,#083877 513px,#083471 555px,#083674 588px,#083a7a 603px,#084285 615px,#09529d 630px,#2171b5 648px,#3d8dc4 660px,#65aad4 672px,#a0cbe2 687px,#c2d9ee 702px,#d3e3f3 720px,#dae8f6 738px,#e7f1fa 849px,#eaf3fb 1083px)"></i>
<i style="height:4px;background:linear-gradient(90deg,#ebf3fb 0px,#e8f1fa 243px,#e1edf8 318px,#d7e6f5 351px,#c7dcef 375px,#a1cbe2 396px,#69add5 414px,#3f8fc5 429px,#1d6cb1 450px,#084f99 474px,#084184 492px,#083979 510px,#083471 564px,#083979 600px,#084387 615px,#08509b 627px,#1f6eb3 645px,#4090c5 660px,#6caed6 672px,#9cc9e1 684px,#c7dbef 702px,#dbe9f6 735px,#e8f1fa 846px,#ebf3fb 1083px)"></i>
<i style="height:4px;background:linear-gradient(90deg,#ecf4fb 0px,#e9f2fa 243px,#e4eff9 306px,#dae8f6 348px,#c7dbef 378px,#9fcae1 399px,#65aad4 417px,#3d8dc4 432px,#1f6eb3 450px,#08509b 474px,#084082 495px,#083979 510px,#083471 567px,#083674 588px,#083b7c 603px,#084184 612px,#08519c 627px,#2171b5 645px,#4594c7 660px,#74b3d8 672px,#a3cce3 684px,#c6dbef 699px,#d1e2f3 711px,#dce9f6 732px,#e9f2fa 843px,#ecf4fb 1083px)"></i>
<i style="height:4px;background:linear-gradient(90deg,#edf4fc 0px,#e9f2fa 261px,#e3eef8 324px,#d9e8f5 354px,#c7dbef 381px,#b7d4ea 390px,#94c4df 405px,#6aaed6 417px,#4896c8 429px,#2171b5 450px,#08519c 474px,#084990 483px,#083e81 498px,#083776 519px,#083471 570px,#083b7c 603px,#084285 612px,#0a539e 627px,#2474b7 645px,#4191c6 657px,#6dafd7 669px,#9fcae1 681px,#c4daee 696px,#d3e4f3 711px,#dceaf6 729px,#e3eef9 762px,#eaf2fb 840px,#edf4fc 1083px)"></i>
<i style="height:4px;background:linear-gradient(90deg,#eef5fc 0px,#eaf3fb 249px,#e5eff9 318px,#dceaf6 351px,#c6dbef 384px,#a1cbe2 402px,#71b1d7 417px,#3e8ec4 435px,#1865ac 459px,#09529d 474px,#084a91 483px,#084184 495px,#083776 519px,#083471 573px,#083a7a 600px,#084387 612px,#08509b 624px,#1c6ab0 639px,#3686c0 651px,#5ca4d0 663px,#9cc9e1 678px,#c3daee 693px,#d3e4f3 708px,#dce9f6 723px,#e5eff9 765px,#eaf3fb 837px,#eef5fc 1083px)"></i>
<i style="height:4px;background:linear-gradient(90deg,#eef5fc 0px,#eaf2fb 282px,#e4eff9 330px,#dae8f6 360px,#c4daee 387px,#9fcae1 405px,#4997c9 432px,#3c8cc3 438px,#1967ad 459px,#08509b 477px,#084b93 483px,#084082 498px,#083776 519px,#083471 573px,#083674 588px,#083c7d 603px,#09529d 624px,#1e6db2 639px,#4292c6 654px,#63a8d3 663px,#97c6df 675px,#bad6eb 687px,#c7dcef 693px,#cee0f2 699px,#dceaf6 720px,#e7f0fa 768px,#ebf3fb 834px,#eef5fc 1083px)"></i>
<i style="height:4px;background:linear-gradient(90deg,#eff6fc 0px,#ebf3fb 273px,#e7f0fa 324px,#ddeaf7 357px,#d0e2f2 378px,#bed8ec 393px,#9cc9e1 408px,#69add5 423px,#3f8fc5 438px,#1f6eb3 456px,#084e98 480px,#084285 495px,#083877 516px,#083471 543px,#083471 573px,#083b7c 600px,#084285 609px,#0a549e 624px,#2070b4 639px,#3e8ec4 651px,#69add5 663px,#92c4de 672px,#a8cee4 678px,#bfd8ed 687px,#d3e4f3 702px,#dfecf7 723px,#e8f1fa 771px,#ecf4fb 831px,#eff6fc 1083px)"></i>
<i style="height:4px;background:linear-gradient(90deg,#f0f6fd 0px,#ecf4fb 276px,#e0ecf8 354px,#d5e5f4 375px,#c7dcef 390px,#b7d4ea 399px,#99c7e0 411px,#65aad4 426px,#4a98c9 435px,#3d8dc4 441px,#2171b5 456px,#08509b 480px,#08478d 489px,#083b7c 507px,#083674 525px,#083370 555px,#083776 591px,#084082 606px,#08519c 621px,#1d6cb1 636px,#4292c6 651px,#64a9d3 660px,#99c7e0 672px,#c4daee 687px,#d6e5f4 702px,#e0ecf8 720px,#e8f1fa 759px,#edf4fc 828px,#f0f6fd 1083px)"></i>
<i style="height:4px;background:linear-gradient(90deg,#f0f6fd 0px,#edf4fc 276px,#e9f2fa 324px,#deebf7 363px,#c6dbef 393px,#9fcae1 411px,#69add5 426px,#4695c8 438px,#1f6eb3 459px,#0a549e 477px,#084d96 483px,#084184 498px,#083877 516px,#083370 561px,#083573 582px,#083a7a 597px,#084184 606px,#09529d 621px,#206fb4 636px,#3e8ec4 648px,#69add5 660px,#9fcae1 672px,#c2d9ee 684px,#d8e7f5 702px,#e3eef8 723px,#eef5fc 831px,#f0f6fd 1083px)"></i>
<i style="height:6px;background:linear-gradient(90deg,#f1f7fd 0px,#eef5fc 264px,#e9f2fa 327px,#dfebf7 363px,#c7dcef 393px,#a1cbe2 411px,#6dafd7 426px,#4191c6 441px,#2474b7 456px,#1865ac 465px,#08519c 480px,#084b93 486px,#083d7f 504px,#083877 516px,#083370 564px,#083a7a 597px,#084184 606px,#0a539e 621px,#2171b5 636px,#4090c5 648px,#6dafd7 660px,#97c6df 669px,#add0e6 675px,#c4daee 684px,#d6e6f4 699px,#e3eef9 723px,#eef5fc 846px,#f1f7fd 1083px)"></i>
<i style="height:6px;background:linear-gradient(90deg,#f1f7fd 0px,#eef5fc 270px,#e9f2fa 330px,#e1edf8 360px,#d0e1f2 387px,#c1d9ed 399px,#9dcae1 414px,#549fcd 435px,#3e8ec4 444px,#2171b5 459px,#1562a9 468px,#09529d 480px,#084c95 486px,#083d7f 504px,#083877 516px,#083370 546px,#083370 567px,#083a7a 597px,#083e81 603px,#08509b 618px,#1d6cb1 633px,#4493c7 648px,#66abd4 657px,#9dcae1 669px,#c1d9ed 681px,#d6e5f4 696px,#e1edf8 714px,#e9f2fa 750px,#eef5fc 819px,#f1f7fd 1083px)"></i>
<i style="height:6px;background:linear-gradient(90deg,#f1f7fd 0px,#eef5fc 258px,#eaf3fb 321px,#e2edf8 360px,#d1e2f3 387px,#c3daee 399px,#a1cbe2 414px,#6caed6 429px,#4090c5 444px,#1e6db2 462px,#0a539e 480px,#084c95 486px,#084082 501px,#083776 519px,#083370 570px,#083979 594px,#084285 606px,#08519c 618px,#206fb4 633px,#3e8ec4 645px,#6caed6 657px,#97c6df 666px,#c6dbef 681px,#d7e6f5 696px,#e2edf8 714px,#eaf2fb 753px,#eef5fc 810px,#f1f7fd 1083px)"></i>
<i style="height:6px;background:linear-gradient(90deg,#f1f7fd 0px,#eef5fc 282px,#e9f2fa 336px,#e0ecf8 366px,#c7dbef 399px,#9cc9e1 417px,#66abd4 432px,#4493c7 444px,#206fb4 462px,#0a549e 480px,#084d96 486px,#083979 513px,#08326e 555px,#083471 579px,#083979 594px,#084082 603px,#0a539e 618px,#2171b5 633px,#3989c1 642px,#58a1cf 651px,#9cc9e1 666px,#c2d9ee 678px,#d9e7f5 696px,#e3eef8 714px,#eaf2fb 750px,#eef5fc 822px,#f1f7fd 1083px)"></i>
<i style="height:6px;background:linear-gradient(90deg,#f2f7fd 0px,#eef5fc 273px,#ebf3fb 321px,#e3eef8 363px,#d4e4f4 387px,#c3daee 402px,#a9cfe5 414px,#97c6df 420px,#6aaed6 432px,#3f8fc5 447px,#1c6bb0 465px,#084e98 486px,#08458a 495px,#083979 513px,#08326e 546px,#08326e 561px,#083979 594px,#08478d 609px,#0a549e 618px,#2474b7 633px,#4695c8 645px,#6aaed6 654px,#95c5df 663px,#b5d4e9 672px,#c6dbef 678px,#dae8f6 696px,#e3eef8 711px,#e9f2fa 738px,#eef5fc 816px,#f2f7fd 1083px)"></i>
<i style="height:6px;background:linear-gradient(90deg,#f2f7fd 0px,#eef5fc 279px,#eaf2fb 339px,#e1edf8 369px,#d6e5f4 387px,#c7dbef 402px,#9cc9e1 420px,#6fb0d7 432px,#4191c6 447px,#1e6db2 465px,#084f99 486px,#084387 498px,#083877 516px,#08326e 546px,#08326e 564px,#083877 591px,#083e81 600px,#08519c 615px,#206fb4 630px,#4090c5 642px,#63a8d3 651px,#9cc9e1 663px,#c2d9ee 675px,#d6e6f4 690px,#e3eef9 711px,#eef5fc 810px,#f2f7fd 1083px)"></i>
<i style="height:6px;background:linear-gradient(90deg,#f2f7fd 0px,#eff6fc 267px,#ebf3fb 330px,#e2edf8 369px,#d2e3f3 393px,#c3daee 405px,#a0cbe2 420px,#56a0ce 441px,#3787c0 453px,#206fb4 465px,#08509b 486px,#084488 498px,#083776 519px,#08326e 546px,#08326e 567px,#083877 591px,#084285 603px,#09529d 615px,#2272b6 630px,#4493c7 642px,#68acd5 651px,#a0cbe2 663px,#c4daee 675px,#d8e7f5 690px,#e4eff9 711px,#eaf3fb 744px,#eff6fc 822px,#f2f7fd 1083px)"></i>
<i style="height:6px;background:linear-gradient(90deg,#f2f7fd 0px,#eff6fc 273px,#ecf4fb 327px,#e3eef8 369px,#d6e5f4 390px,#c7dbef 405px,#9ac8e0 423px,#6dafd7 435px,#4090c5 450px,#2171b5 465px,#125da6 477px,#084e98 489px,#084285 501px,#083a7a 513px,#083471 531px,#08316d 555px,#083776 588px,#084082 600px,#0a549e 615px,#1e6db2 627px,#3e8ec4 639px,#60a7d2 648px,#99c7e0 660px,#c1d9ed 672px,#d3e4f3 684px,#e3eef8 705px,#eaf3fb 741px,#eff6fc 813px,#f2f7fd 1083px)"></i>
<i style="height:6px;background:linear-gradient(90deg,#f2f8fd 0px,#eff6fc 282px,#eaf3fb 342px,#e3eef9 369px,#d4e4f4 393px,#c3daee 408px,#9fcae1 423px,#539ecd 444px,#2373b6 465px,#09529d 486px,#08458a 498px,#083c7d 510px,#08316d 546px,#083370 576px,#083d7f 597px,#08519c 612px,#2070b4 627px,#4191c6 639px,#65aad4 648px,#9fcae1 660px,#c4daee 672px,#d8e7f5 687px,#e3eef9 705px,#ebf3fb 744px,#eff6fc 807px,#f2f8fd 1083px)"></i>
<i style="height:6px;background:linear-gradient(90deg,#f2f8fd 0px,#eff6fc 288px,#eaf3fb 345px,#e4eff9 369px,#d8e7f5 390px,#c4daee 408px,#a1cbe2 423px,#60a7d2 441px,#4594c7 450px,#206fb4 468px,#0a539e 486px,#083c7d 510px,#08316d 546px,#083370 576px,#083b7c 594px,#09529d 612px,#1c6ab0 624px,#3b8bc2 636px,#69add5 648px,#95c5df 657px,#c7dbef 672px,#d9e7f5 687px,#e4eff9 705px,#eff6fc 801px,#f2f8fd 1083px)"></i>
<i style="height:6px;background:linear-gradient(90deg,#f2f8fd 0px,#f0f6fd 276px,#edf4fc 330px,#e3eef9 372px,#d6e6f4 393px,#c1d9ed 411px,#9ac8e0 426px,#63a8d3 441px,#4896c8 450px,#2070b4 468px,#08509b 489px,#083c7d 510px,#08306b 546px,#083370 576px,#083e81 597px,#0a539e 612px,#1d6cb1 624px,#3d8dc4 636px,#6caed6 648px,#99c7e0 657px,#afd1e7 663px,#c8dcf0 672px,#dceaf6 690px,#e5eff9 705px,#ecf4fb 744px,#f0f6fd 813px,#f2f8fd 1083px)"></i>
<i style="height:6px;background:linear-gradient(90deg,#f2f8fd 0px,#f0f6fd 282px,#ebf3fb 345px,#e4eff9 372px,#d7e6f5 393px,#c3daee 411px,#9dcae1 426px,#529dcc 447px,#4191c6 453px,#1d6cb1 471px,#08519c 489px,#084488 501px,#083d7f 510px,#08306b 546px,#08326e 573px,#083c7d 594px,#0a549e 612px,#1f6eb3 624px,#4090c5 636px,#63a8d3 645px,#9dcae1 657px,#c3daee 669px,#dbe9f6 687px,#e4eff9 702px,#ebf3fb 732px,#f0f6fd 804px,#f2f8fd 1083px)"></i>
<i style="height:6px;background:linear-gradient(90deg,#f3f8fe 0px,#f0f6fd 288px,#ebf3fb 348px,#e3eef9 375px,#d6e5f4 396px,#c4daee 411px,#a0cbe2 426px,#549fcd 447px,#2373b6 468px,#09529d 489px,#084285 504px,#083979 516px,#083370 534px,#08306b 546px,#08316d 567px,#083a7a 591px,#084082 597px,#08509b 609px,#2070b4 624px,#4292c6 636px,#66abd4 645px,#94c4df 654px,#b5d4e9 663px,#c6dbef 669px,#d9e8f5 684px,#e5eff9 702px,#edf4fc 744px,#f1f7fd 819px,#f3f8fe 1083px)"></i>
<i style="height:6px;background:linear-gradient(90deg,#f3f8fe 0px,#f0f6fd 297px,#ebf3fb 351px,#e4eff9 375px,#d4e4f4 399px,#c7dbef 411px,#a3cce3 426px,#61a7d2 444px,#4695c8 453px,#2575b7 468px,#09529d 489px,#084387 504px,#083979 516px,#08326e 537px,#08306b 561px,#083877 588px,#084488 600px,#08519c 609px,#2272b6 624px,#3c8cc3 633px,#6aaed6 645px,#97c6df 654px,#b8d5ea 663px,#c8dcf0 669px,#dae8f6 684px,#e6f0f9 702px,#ecf4fb 732px,#f1f7fd 813px,#f3f8fe 1083px)"></i>
<i style="height:6px;background:linear-gradient(90deg,#f3f8fe 0px,#f0f6fd 303px,#ecf4fb 348px,#e3eef9 378px,#d5e5f4 399px,#c3daee 414px,#92c4de 432px,#64a9d3 444px,#4997c9 453px,#2676b8 468px,#0a539e 489px,#084387 504px,#083877 519px,#08326e 537px,#08306b 564px,#083573 582px,#083d7f 594px,#0a539e 609px,#1d6cb1 621px,#3e8ec4 633px,#61a7d2 642px,#9cc9e1 654px,#c3daee 666px,#d9e7f5 681px,#e5eff9 699px,#ecf4fb 729px,#f1f7fd 804px,#f3f8fe 1083px)"></i>
<i style="height:6px;background:linear-gradient(90deg,#f3f8fe 0px,#f1f7fd 291px,#ecf4fb 351px,#e4eff9 378px,#d9e7f5 396px,#c9ddf0 411px,#a0cbe2 429px,#539ecd 450px,#2272b6 471px,#08509b 492px,#084387 504px,#083877 519px,#08326e 537px,#08306b 564px,#083573 582px,#083b7c 591px,#0a549e 609px,#1f6eb3 621px,#4191c6 633px,#65aad4 642px,#9fcae1 654px,#c6dbef 666px,#dceaf6 684px,#e6f0f9 699px,#edf4fc 732px,#f1f7fd 798px,#f3f8fe 1083px)"></i>
<i style="height:6px;background:linear-gradient(90deg,#f4f9fe 0px,#f1f7fd 297px,#ecf4fb 354px,#e3eef9 381px,#d7e6f5 399px,#c1d9ed 417px,#a3cce3 429px,#56a0ce 450px,#2373b6 471px,#08519c 492px,#084184 507px,#083877 519px,#08316d 540px,#08316d 570px,#083573 582px,#083e81 594px,#0b559f 609px,#2070b4 621px,#4493c7 633px,#69add5 642px,#95c5df 651px,#c1d9ed 663px,#d8e7f5 678px,#e7f0fa 699px,#f1f7fd 789px,#f4f9fe 1083px)"></i>
<i style="height:6px;background:linear-gradient(90deg,#f4f9fe 0px,#f2f7fd 285px,#edf4fc 351px,#e4eff9 381px,#ccdff1 411px,#bcd7eb 420px,#9cc9e1 432px,#63a8d3 447px,#4896c8 456px,#206fb4 474px,#09529d 492px,#084285 507px,#083877 519px,#083370 531px,#08306b 567px,#083776 585px,#08478d 600px,#08519c 606px,#2272b6 621px,#4695c8 633px,#6caed6 642px,#9ac8e0 651px,#c3daee 663px,#d6e5f4 675px,#e6f0f9 696px,#eef5fc 732px,#f2f7fd 804px,#f4f9fe 1083px)"></i>
<i style="height:6px;background:linear-gradient(90deg,#f4f9fe 0px,#f2f7fd 291px,#eff6fc 336px,#e7f1fa 375px,#d6e6f4 402px,#c9ddf0 414px,#bed8ec 420px,#9fcae1 432px,#71b1d7 444px,#4a98c9 456px,#2171b5 474px,#0a539e 492px,#084285 507px,#083370 531px,#08306b 567px,#083a7a 588px,#084488 597px,#09529d 606px,#1d6cb1 618px,#3f8fc5 630px,#63a8d3 639px,#9fcae1 651px,#c6dbef 663px,#dae8f6 678px,#e7f0fa 696px,#eef5fc 729px,#f2f7fd 795px,#f4f9fe 1083px)"></i>
<i style="height:6px;background:linear-gradient(90deg,#f4f9fe 0px,#f2f7fd 300px,#edf4fc 357px,#e7f0fa 378px,#d7e6f5 402px,#c7dbef 417px,#a1cbe2 432px,#549fcd 453px,#2272b6 474px,#08509b 495px,#084387 507px,#083776 522px,#08326e 534px,#08306b 567px,#083a7a 588px,#0a539e 606px,#1f6eb3 618px,#4191c6 630px,#66abd4 639px,#a1cbe2 651px,#c7dcef 663px,#deebf7 681px,#e7f1fa 696px,#eef5fc 732px,#f2f8fd 813px,#f4f9fe 1083px)"></i>
<i style="height:6px;background:linear-gradient(90deg,#f4f9fe 0px,#f2f8fd 282px,#eff6fc 342px,#e7f1fa 378px,#d8e7f5 402px,#c7dcef 417px,#a3cce3 432px,#57a0ce 453px,#3d8dc4 462px,#2373b6 474px,#0a549e 492px,#084387 507px,#083776 522px,#08326e 534px,#08306b 567px,#083a7a 588px,#0a549e 606px,#2070b4 618px,#4493c7 630px,#69add5 639px,#97c6df 648px,#c2d9ee 660px,#d6e5f4 672px,#e7f0fa 693px,#eef5fc 729px,#f2f7fd 783px,#f4f9fe 1083px)"></i>
<i style="height:6px;background:linear-gradient(90deg,#f4f9fe 0px,#f2f7fd 306px,#e7f1fa 378px,#dbe9f6 399px,#ccdff1 414px,#bcd7eb 423px,#a4cce3 432px,#57a0ce 453px,#3787c0 465px,#1f6eb3 477px,#0a549e 492px,#084387 507px,#083776 522px,#08316d 537px,#08306b 570px,#083a7a 588px,#0b559f 606px,#2070b4 618px,#4594c7 630px,#6aaed6 639px,#99c7e0 648px,#c3daee 660px,#d9e8f5 675px,#e7f0fa 693px,#eef5fc 729px,#f2f8fd 804px,#f4f9fe 1083px)"></i>
<i style="height:6px;background:linear-gradient(90deg,#f5f9fe 0px,#f2f7fd 306px,#eef5fc 354px,#e5eff9 384px,#d9e7f5 402px,#c3daee 420px,#9cc9e1 435px,#63a8d3 450px,#4695c8 459px,#1f6eb3 477px,#08509b 495px,#084082 510px,#083573 525px,#08306b 540px,#08306b 570px,#083a7a 588px,#0b559f 606px,#2171b5 618px,#4695c8 630px,#6caed6 639px,#9ac8e0 648px,#c3daee 660px,#d6e6f4 672px,#e8f1fa 696px,#eef5fc 720px,#f2f8fd 804px,#f5f9fe 1083px)"></i>
<i style="height:6px;background:linear-gradient(90deg,#f5f9fe 0px,#f2f8fd 285px,#eff6fc 342px,#e7f0fa 381px,#d9e7f5 402px,#c9ddf0 417px,#a5cde3 432px,#5aa2cf 453px,#3f8fc5 462px,#2474b7 474px,#08519c 495px,#084082 510px,#083573 525px,#08306b 540px,#08306b 570px,#083877 585px,#084285 594px,#0b559f 606px,#2272b6 618px,#4695c8 630px,#6dafd7 639px,#9cc9e1 648px,#c4daee 660px,#dae8f6 675px,#e8f1fa 696px,#eef5fc 720px,#f2f8fd 801px,#f5f9fe 1083px)"></i>
<i style="height:6px;background:linear-gradient(90deg,#f5f9fe 0px,#f2f8fd 288px,#eef5fc 351px,#e7f0fa 381px,#dce9f6 399px,#c9ddf0 417px,#9dcae1 435px,#5aa2cf 453px,#4896c8 459px,#2575b7 474px,#08519c 495px,#084082 510px,#083573 525px,#08306b 540px,#08306b 570px,#083877 585px,#084285 594px,#08509b 603px,#2272b6 618px,#3d8dc4 627px,#6fb0d7 639px,#9dcae1 648px,#c6dbef 660px,#d7e6f5 672px,#e7f1fa 693px,#eef5fc 726px,#f2f8fd 801px,#f5f9fe 1083px)"></i>
<i style="height:6px;background:linear-gradient(90deg,#f5f9fe 0px,#f2f8fd 288px,#eff6fc 345px,#e8f1fa 378px,#d9e8f5 402px,#caddf0 417px,#9fcae1 435px,#5ba3d0 453px,#4090c5 462px,#2575b7 474px,#08519c 495px,#084082 510px,#08316d 534px,#08306b 570px,#083877 585px,#084285 594px,#08509b 603px,#1c6bb0 615px,#3e8ec4 627px,#549fcd 633px,#9dcae1 648px,#c6dbef 660px,#d7e6f5 672px,#e7f1fa 693px,#eef5fc 726px,#f2f8fd 798px,#f5f9fe 1083px)"></i>
<i style="height:8px;background:linear-gradient(90deg,#f5f9fe 0px,#f2f7fd 312px,#eef5fc 357px,#e6f0f9 384px,#d7e6f5 405px,#c6dbef 420px,#a0cbe2 435px,#5ca4d0 453px,#4191c6 462px,#2676b8 474px,#08519c 495px,#084082 510px,#083877 519px,#08306b 537px,#08306b 570px,#083877 585px,#083e81 591px,#08519c 603px,#1d6cb1 615px,#3f8fc5 627px,#56a0ce 633px,#9fcae1 648px,#c7dbef 660px,#deebf7 678px,#e9f2fa 696px,#f2f8fd 798px,#f5f9fe 1083px)"></i>
<i style="height:8px;background:linear-gradient(90deg,#f5f9fe 0px,#f2f8fd 291px,#f0f6fd 339px,#e7f1fa 381px,#dae8f6 402px,#c7dbef 420px,#a0cbe2 435px,#539ecd 456px,#2171b5 477px,#09529d 495px,#084184 510px,#08316d 534px,#08306b 570px,#083877 585px,#08478d 597px,#09529d 603px,#1e6db2 615px,#4090c5 627px,#65aad4 636px,#a1cbe2 648px,#c7dcef 660px,#dce9f6 675px,#e7f0fa 690px,#eef5fc 717px,#f2f8fd 795px,#f5f9fe 1083px)"></i>
<i style="height:8px;background:linear-gradient(90deg,#f5f9fe 0px,#f2f8fd 294px,#eff6fc 348px,#e7f1fa 381px,#d8e7f5 405px,#c7dcef 420px,#a1cbe2 435px,#549fcd 456px,#2171b5 477px,#09529d 495px,#084184 510px,#083573 525px,#08306b 540px,#08306b 570px,#083b7c 588px,#09529d 603px,#1f6eb3 615px,#4191c6 627px,#5aa2cf 633px,#95c5df 645px,#c1d9ed 657px,#d6e5f4 669px,#e8f1fa 693px,#eef5fc 723px,#f2f8fd 795px,#f5f9fe 1083px)"></i>
<i style="height:8px;background:linear-gradient(90deg,#f5f9fe 0px,#f2f7fd 315px,#eef5fc 360px,#e5eff9 387px,#d6e5f4 408px,#c2d9ee 423px,#9ac8e0 438px,#56a0ce 456px,#2272b6 477px,#0a539e 495px,#084184 510px,#083776 522px,#08306b 540px,#08306b 570px,#083674 582px,#084082 591px,#0a539e 603px,#206fb4 615px,#4493c7 627px,#69add5 636px,#97c6df 645px,#c2d9ee 657px,#d9e8f5 672px,#e8f1fa 693px,#eef5fc 723px,#f2f8fd 792px,#f5f9fe 1083px)"></i>
<i style="height:8px;background:linear-gradient(90deg,#f5f9fe 0px,#f2f8fd 297px,#eef5fc 360px,#e7f0fa 384px,#d9e7f5 405px,#c8dcf0 420px,#a4cce3 435px,#57a0ce 456px,#3080bd 471px,#1e6db2 480px,#0a539e 495px,#084285 510px,#083776 522px,#08306b 540px,#08306b 570px,#083c7d 588px,#0a549e 603px,#2070b4 615px,#4594c7 627px,#6aaed6 636px,#99c7e0 645px,#c3daee 657px,#d6e6f4 669px,#e7f1fa 690px,#eef5fc 714px,#f2f8fd 792px,#f5f9fe 1083px)"></i>
<i style="height:8px;background:linear-gradient(90deg,#f5f9fe 0px,#f2f8fd 297px,#f0f6fd 342px,#e8f1fa 381px,#dce9f6 402px,#c4daee 423px,#9cc9e1 438px,#58a1cf 456px,#3181bd 471px,#0e58a2 492px,#08509b 498px,#084285 510px,#083471 528px,#08306b 540px,#08306b 570px,#083776 582px,#084184 591px,#0b559f 603px,#2171b5 615px,#4695c8 627px,#6dafd7 636px,#9cc9e1 645px,#c4daee 657px,#d7e6f5 669px,#e9f2fa 693px,#f2f8fd 789px,#f5f9fe 1083px)"></i>
<i style="height:8px;background:linear-gradient(90deg,#f5f9fe 0px,#f2f8fd 300px,#eef5fc 357px,#e6f0f9 387px,#d9e8f5 405px,#caddf0 420px,#bed8ec 426px,#9dcae1 438px,#519ccc 459px,#2474b7 477px,#0a549e 495px,#084285 510px,#083471 528px,#08306b 540px,#08306b 570px,#083d7f 588px,#0b559f 603px,#2272b6 615px,#3d8dc4 624px,#6fb0d7 636px,#9dcae1 645px,#c6dbef 657px,#deebf7 675px,#e9f2fa 693px,#f2f8fd 786px,#f5f9fe 1083px)"></i>
<i style="height:8px;background:linear-gradient(90deg,#f5f9fe 0px,#f2f8fd 303px,#eef5fc 357px,#e7f1fa 384px,#dae8f6 405px,#c6dbef 423px,#9fcae1 438px,#529dcc 459px,#2575b7 477px,#08519c 498px,#084387 510px,#083674 525px,#08306b 540px,#08306b 570px,#083d7f 588px,#08509b 600px,#1c6bb0 612px,#3e8ec4 624px,#63a8d3 633px,#9fcae1 645px,#c7dbef 657px,#d8e7f5 669px,#e8f1fa 690px,#eff6fc 726px,#f2f8fd 786px,#f5f9fe 1083px)"></i>
<i style="height:8px;background:linear-gradient(90deg,#f5f9fe 0px,#f2f8fd 303px,#e9f2fa 381px,#d8e7f5 408px,#c7dbef 423px,#a0cbe2 438px,#539ecd 459px,#2d7dbb 474px,#1c6ab0 483px,#08519c 498px,#084387 510px,#083674 525px,#08306b 540px,#08306b 567px,#083573 579px,#084285 591px,#08519c 600px,#1d6cb1 612px,#4090c5 624px,#57a0ce 630px,#a1cbe2 645px,#c7dcef 657px,#dfebf7 675px,#e8f1fa 690px,#eef5fc 717px,#f2f8fd 783px,#f5f9fe 1083px)"></i>
<i style="height:8px;background:linear-gradient(90deg,#f5f9fe 0px,#f2f8fd 306px,#eff6fc 354px,#e7f0fa 387px,#dbe9f6 405px,#c7dcef 423px,#a1cbe2 438px,#549fcd 459px,#2e7ebc 474px,#0c56a0 495px,#084387 510px,#083877 522px,#08306b 540px,#08306b 567px,#083877 582px,#08478d 594px,#09529d 600px,#1e6db2 612px,#4191c6 624px,#66abd4 633px,#a3cce3 645px,#c8dcf0 657px,#dceaf6 672px,#eaf2fb 693px,#f3f8fe 807px,#f5f9fe 1083px)"></i>
<i style="height:8px;background:linear-gradient(90deg,#f5f9fe 0px,#f3f8fe 282px,#f0f6fd 348px,#e8f1fa 384px,#d9e7f5 408px,#c8dcf0 423px,#99c7e0 441px,#56a0ce 459px,#3c8cc3 468px,#2171b5 480px,#09529d 498px,#084488 510px,#083573 528px,#08306b 540px,#08306b 567px,#083877 582px,#084387 591px,#09529d 600px,#1f6eb3 612px,#4292c6 624px,#5ba3d0 630px,#97c6df 642px,#c2d9ee 654px,#d6e6f4 666px,#e7f1fa 687px,#eff6fc 723px,#f2f8fd 780px,#f5f9fe 1083px)"></i>
<i style="height:8px;background:linear-gradient(90deg,#f5f9fe 0px,#f2f8fd 309px,#eef5fc 360px,#e8f1fa 384px,#d9e7f5 408px,#c3daee 426px,#9ac8e0 441px,#6aaed6 453px,#57a0ce 459px,#2979b9 477px,#0a539e 498px,#084488 510px,#083573 528px,#08306b 540px,#08306b 567px,#083b7c 585px,#0a539e 600px,#206fb4 612px,#4493c7 624px,#69add5 633px,#99c7e0 642px,#c3daee 654px,#dae8f6 669px,#e9f2fa 690px,#eef5fc 714px,#f3f8fe 804px,#f5f9fe 1083px)"></i>
<i style="height:8px;background:linear-gradient(90deg,#f5f9fe 0px,#f2f8fd 309px,#eef5fc 366px,#e8f1fa 384px,#d6e6f4 411px,#c3daee 426px,#9ac8e0 441px,#57a0ce 459px,#3d8dc4 468px,#2272b6 480px,#0a539e 498px,#084488 510px,#083573 528px,#08306b 540px,#08306b 567px,#083674 579px,#084082 588px,#0a539e 600px,#206fb4 612px,#3a8ac2 621px,#6aaed6 633px,#99c7e0 642px,#c4daee 654px,#d7e6f5 666px,#e9f2fa 690px,#f2f8fd 777px,#f5f9fe 1083px)"></i>
<i style="height:8px;background:linear-gradient(90deg,#f5f9fe 0px,#f2f8fd 312px,#eef5fc 366px,#e7f1fa 387px,#d9e8f5 408px,#c9ddf0 423px,#bdd7ec 429px,#9cc9e1 441px,#61a7d2 456px,#3080bd 474px,#0d57a1 495px,#084488 510px,#083573 528px,#08306b 540px,#08306b 567px,#083674 579px,#084082 588px,#0a539e 600px,#2070b4 612px,#4594c7 624px,#5da5d1 630px,#9ac8e0 642px,#c4daee 654px,#d7e6f5 666px,#e7f0fa 684px,#eff6fc 720px,#f2f8fd 777px,#f5f9fe 1083px)"></i>
<i style="height:8px;background:linear-gradient(90deg,#f5f9fe 0px,#f2f8fd 312px,#eff6fc 357px,#e7f1fa 387px,#d9e8f5 408px,#c4daee 426px,#9cc9e1 441px,#58a1cf 459px,#3787c0 471px,#1e6db2 483px,#0a539e 498px,#084488 510px,#083573 528px,#08306b 540px,#08306b 567px,#083674 579px,#084082 588px,#0a549e 600px,#2070b4 612px,#3b8bc2 621px,#6caed6 633px,#9cc9e1 642px,#c6dbef 654px,#dbe9f6 669px,#e8f1fa 687px,#eff6fc 720px,#f3f8fe 798px,#f5f9fe 1083px)"></i>
<i style="height:8px;background:linear-gradient(90deg,#f5f9fe 0px,#f3f8fe 291px,#f0f6fd 351px,#e7f1fa 387px,#d9e8f5 408px,#c9ddf0 423px,#9dcae1 441px,#58a1cf 459px,#2a7ab9 477px,#0a539e 498px,#084488 510px,#083573 528px,#08306b 540px,#08306b 567px,#08326e 573px,#083c7d 585px,#0a549e 600px,#2171b5 612px,#4695c8 624px,#6dafd7 633px,#9cc9e1 642px,#c6dbef 654px,#d8e7f5 666px,#e8f1fa 687px,#eef5fc 711px,#f3f8fe 798px,#f5f9fe 1083px)"></i>
<i style="height:8px;background:linear-gradient(90deg,#f5f9fe 0px,#f3f8fe 291px,#f0f6fd 351px,#e9f2fa 384px,#dceaf6 405px,#caddf0 423px,#bed8ec 429px,#9dcae1 441px,#5aa2cf 459px,#3f8fc5 468px,#2373b6 480px,#0a549e 498px,#084488 510px,#083573 528px,#08306b 540px,#08306b 567px,#083471 576px,#083c7d 585px,#0a549e 600px,#2171b5 612px,#3c8cc3 621px,#6dafd7 633px,#9dcae1 642px,#c6dbef 654px,#e1edf8 675px,#eaf2fb 690px,#f3f8fe 795px,#f5f9fe 1083px)"></i>
<i style="height:8px;background:linear-gradient(90deg,#f5f9fe 0px,#f3f8fe 294px,#f0f6fd 351px,#e9f2fa 384px,#dae8f6 408px,#c6dbef 426px,#9dcae1 441px,#5aa2cf 459px,#3888c1 471px,#1f6eb3 483px,#0e58a2 495px,#084f99 501px,#08458a 510px,#083b7c 519px,#08316d 537px,#08306b 567px,#083471 576px,#083c7d 585px,#0b559f 600px,#2171b5 612px,#3d8dc4 621px,#6fb0d7 633px,#9dcae1 642px,#c7dbef 654px,#dce9f6 669px,#eaf2fb 690px,#eff6fc 717px,#f3f8fe 795px,#f5f9fe 1083px)"></i>
<i style="height:8px;background:linear-gradient(90deg,#f5f9fe 0px,#f2f8fd 318px,#eef5fc 363px,#e7f0fa 390px,#dae8f6 408px,#c6dbef 426px,#9fcae1 441px,#6fb0d7 453px,#519ccc 462px,#2b7bba 477px,#0a549e 498px,#08458a 510px,#083b7c 519px,#08316d 537px,#08306b 567px,#083c7d 585px,#0b559f 600px,#2272b6 612px,#3d8dc4 621px,#6fb0d7 633px,#9fcae1 642px,#c7dbef 654px,#d9e7f5 666px,#e7f1fa 684px,#eef5fc 705px,#f2f8fd 768px,#f5f9fe 1083px)"></i>
<i style="height:8px;background:linear-gradient(90deg,#f5f9fe 0px,#f3f8fe 297px,#f0f6fd 354px,#e8f1fa 387px,#d8e7f5 411px,#cadef0 423px,#bfd8ed 429px,#9fcae1 441px,#5ba3d0 459px,#4090c5 468px,#2474b7 480px,#0a549e 498px,#08458a 510px,#083b7c 519px,#08316d 537px,#08306b 567px,#083979 582px,#0b559f 600px,#2272b6 612px,#3e8ec4 621px,#63a8d3 630px,#9fcae1 642px,#c7dcef 654px,#d9e7f5 666px,#e9f2fa 687px,#eff6fc 717px,#f3f8fe 792px,#f5f9fe 1083px)"></i>
<i style="height:8px;background:linear-gradient(90deg,#f5f9fe 0px,#f3f8fe 297px,#f0f6fd 354px,#e8f1fa 387px,#ddeaf7 405px,#c7dbef 426px,#a0cbe2 441px,#65aad4 456px,#3989c1 471px,#206fb4 483px,#0a549e 498px,#08458a 510px,#083776 525px,#08306b 540px,#08306b 567px,#083776 579px,#084184 588px,#0b559f 600px,#2373b6 612px,#3e8ec4 621px,#63a8d3 630px,#a0cbe2 642px,#c7dcef 654px,#dceaf6 669px,#e9f2fa 687px,#f0f6fd 723px,#f3f8fe 789px,#f5f9fe 1083px)"></i>
<i style="height:8px;background:linear-gradient(90deg,#f5fafe 0px,#f3f8fe 300px,#f0f6fd 354px,#e8f1fa 387px,#dbe9f6 408px,#c7dbef 426px,#a9cfe5 438px,#95c5df 444px,#5ca4d0 459px,#2c7cba 477px,#0e59a2 495px,#08509b 501px,#08488e 507px,#083979 522px,#083471 531px,#08306b 543px,#08306b 567px,#083d7f 585px,#08509b 597px,#2373b6 612px,#3f8fc5 621px,#64a9d3 630px,#a0cbe2 642px,#c8dcf0 654px,#dfecf7 672px,#e9f2fa 687px,#eff6fc 714px,#f3f8fe 789px,#f5fafe 1083px)"></i>
<i style="height:8px;background:linear-gradient(90deg,#f5fafe 0px,#f3f8fe 300px,#f1f7fd 348px,#eaf2fb 384px,#dbe9f6 408px,#c7dcef 426px,#a0cbe2 441px,#5ca4d0 459px,#3383be 474px,#206fb4 483px,#0e59a2 495px,#08509b 501px,#084990 507px,#083e81 516px,#083471 531px,#08306b 543px,#08306b 567px,#083d7f 585px,#08509b 597px,#2373b6 612px,#3f8fc5 621px,#57a0ce 627px,#94c4df 639px,#add0e6 645px,#c8dcf0 654px,#dfecf7 672px,#eaf3fb 690px,#f3f8fe 786px,#f5fafe 1083px)"></i>
<i style="height:8px;background:linear-gradient(90deg,#f5fafe 0px,#f2f8fd 324px,#eef5fc 366px,#e6f0f9 393px,#d9e7f5 411px,#c7dcef 426px,#a1cbe2 441px,#68acd5 456px,#3a8ac2 471px,#206fb4 483px,#1764ab 489px,#08519c 501px,#084990 507px,#083e81 516px,#083471 531px,#08306b 543px,#08306b 567px,#083d7f 585px,#08509b 597px,#1d6cb1 609px,#3686c0 618px,#65aad4 630px,#94c4df 639px,#b8d5ea 648px,#c9ddf0 654px,#d9e8f5 666px,#e8f1fa 684px,#eef5fc 702px,#f2f8fd 762px,#f5fafe 1083px)"></i>
<i style="height:8px;background:linear-gradient(90deg,#f5fafe 0px,#f3f8fe 303px,#eff6fc 363px,#e7f1fa 390px,#d9e7f5 411px,#c2d9ee 429px,#97c6df 444px,#5da5d1 459px,#2d7dbb 477px,#0b559f 498px,#084990 507px,#083e81 516px,#083471 531px,#08306b 543px,#08306b 567px,#083d7f 585px,#08519c 597px,#1d6cb1 609px,#4090c5 621px,#66abd4 630px,#95c5df 639px,#c2d9ee 651px,#dae8f6 666px,#e8f1fa 684px,#f0f6fd 720px,#f3f8fe 783px,#f5fafe 1083px)"></i>
<i style="height:8px;background:linear-gradient(90deg,#f5fafe 0px,#f3f8fe 306px,#eff6fc 363px,#e7f1fa 390px,#dce9f6 408px,#c8dcf0 426px,#99c7e0 444px,#549fcd 462px,#3484bf 474px,#1764ab 489px,#08519c 501px,#084990 507px,#084285 513px,#083471 531px,#08306b 543px,#08306b 567px,#083d7f 585px,#08519c 597px,#1e6db2 609px,#3787c0 618px,#66abd4 630px,#95c5df 639px,#c2d9ee 651px,#dae8f6 666px,#eaf2fb 687px,#eff6fc 711px,#f3f8fe 780px,#f5fafe 1083px)"></i>
<i style="height:8px;background:linear-gradient(90deg,#f5fafe 0px,#f3f8fe 306px,#f1f7fd 351px,#e9f2fa 387px,#dce9f6 408px,#c8dcf0 426px,#99c7e0 444px,#69add5 456px,#3b8bc2 471px,#2070b4 483px,#135fa7 492px,#08519c 501px,#084990 507px,#083c7d 519px,#083471 531px,#08306b 543px,#08306b 567px,#083a7a 582px,#08519c 597px,#1e6db2 609px,#4191c6 621px,#68acd5 630px,#97c6df 639px,#c3daee 651px,#dae8f6 666px,#eaf2fb 687px,#eff6fc 711px,#f3f8fe 780px,#f5fafe 1083px)"></i>
<i style="height:8px;background:linear-gradient(90deg,#f5fafe 0px,#f3f8fe 309px,#f1f7fd 351px,#e9f2fa 387px,#d9e8f5 411px,#c3daee 429px,#99c7e0 444px,#69add5 456px,#4493c7 468px,#2e7ebc 477px,#1865ac 489px,#08519c 501px,#084990 507px,#083c7d 519px,#083471 531px,#08306b 543px,#08306b 567px,#083a7a 582px,#08519c 597px,#1e6db2 609px,#3888c1 618px,#68acd5 630px,#97c6df 639px,#a5cde3 642px,#c3daee 651px,#dbe9f6 666px,#eaf2fb 687px,#f0f6fd 717px,#f3f8fe 777px,#f5fafe 1083px)"></i>
<i style="height:8px;background:linear-gradient(90deg,#f5fafe 0px,#f3f8fe 309px,#f1f7fd 351px,#e9f2fa 387px,#dfebf7 405px,#c9ddf0 426px,#9ac8e0 444px,#56a0ce 462px,#3585bf 474px,#1865ac 489px,#08519c 501px,#084990 507px,#083c7d 519px,#083471 531px,#08306b 543px,#08306b 567px,#083573 576px,#083e81 585px,#09529d 597px,#1f6eb3 609px,#4292c6 621px,#69add5 630px,#99c7e0 639px,#c4daee 651px,#deebf7 669px,#ebf3fb 690px,#f4f9fe 804px,#f5fafe 1083px)"></i>
<i style="height:8px;background:linear-gradient(90deg,#f5fafe 0px,#f3f8fe 312px,#f0f6fd 360px,#e7f0fa 393px,#dceaf6 408px,#c3daee 429px,#9ac8e0 444px,#6aaed6 456px,#4493c7 468px,#1c6bb0 486px,#09529d 501px,#084a91 507px,#083c7d 519px,#083471 531px,#08306b 543px,#08306b 567px,#083573 576px,#083e81 585px,#09529d 597px,#1f6eb3 609px,#3989c1 618px,#5ca4d0 627px,#99c7e0 639px,#c4daee 651px,#d8e7f5 663px,#e9f2fa 684px,#eff6fc 708px,#f3f8fe 774px,#f5fafe 1083px)"></i>
<i style="height:8px;background:linear-gradient(90deg,#f5fafe 0px,#f3f8fe 312px,#eff6fc 366px,#e8f1fa 390px,#d7e6f5 414px,#c4daee 429px,#9cc9e1 444px,#6caed6 456px,#3d8dc4 471px,#2272b6 483px,#1460a8 492px,#09529d 501px,#084a91 507px,#083c7d 519px,#083471 531px,#08306b 543px,#08306b 567px,#083e81 585px,#09529d 597px,#206fb4 609px,#4493c7 621px,#6aaed6 630px,#9ac8e0 639px,#c6dbef 651px,#d8e7f5 663px,#e9f2fa 684px,#eff6fc 708px,#f3f8fe 774px,#f5fafe 1083px)"></i>
<i style="height:8px;background:linear-gradient(90deg,#f5fafe 0px,#f3f8fe 315px,#eff6fc 366px,#e8f1fa 390px,#dae8f6 411px,#c4daee 429px,#9cc9e1 444px,#6caed6 456px,#3d8dc4 471px,#1966ad 489px,#09529d 501px,#084a91 507px,#083a7a 522px,#083370 534px,#08306b 543px,#08306b 567px,#083e81 585px,#0a539e 597px,#206fb4 609px,#3a8ac2 618px,#5da5d1 627px,#9ac8e0 639px,#c6dbef 651px,#dce9f6 666px,#eaf3fb 687px,#f1f7fd 723px,#f4f9fe 798px,#f5fafe 1083px)"></i>
<i style="height:8px;background:linear-gradient(90deg,#f5fafe 0px,#f4f9fe 291px,#f1f7fd 354px,#eaf2fb 387px,#dae8f6 411px,#c4daee 429px,#9dcae1 444px,#63a8d3 459px,#3e8ec4 471px,#1966ad 489px,#09529d 501px,#084a91 507px,#083a7a 522px,#083370 534px,#08306b 543px,#08306b 567px,#083b7c 582px,#0a539e 597px,#206fb4 609px,#4594c7 621px,#6caed6 630px,#9cc9e1 639px,#c7dbef 651px,#e2edf8 672px,#eaf3fb 687px,#f1f7fd 723px,#f4f9fe 798px,#f5fafe 1083px)"></i>
<i style="height:8px;background:linear-gradient(90deg,#f5fafe 0px,#f3f8fe 318px,#eaf2fb 387px,#ddeaf7 408px,#c6dbef 429px,#9dcae1 444px,#63a8d3 459px,#3e8ec4 471px,#1d6cb1 486px,#09529d 501px,#084a91 507px,#083a7a 522px,#083370 534px,#08306b 543px,#08306b 567px,#083b7c 582px,#0a539e 597px,#2070b4 609px,#3b8bc2 618px,#5fa6d1 627px,#9dcae1 639px,#c7dbef 651px,#d9e7f5 663px,#e8f1fa 681px,#f0f6fd 714px,#f3f8fe 768px,#f5fafe 1083px)"></i>
<i style="height:8px;background:linear-gradient(90deg,#f5fafe 0px,#f3f8fe 318px,#f0f6fd 363px,#e7f1fa 393px,#d8e7f5 414px,#c6dbef 429px,#9dcae1 444px,#6dafd7 456px,#3e8ec4 471px,#2373b6 483px,#1561a9 492px,#0a539e 501px,#084a91 507px,#083a7a 522px,#083370 534px,#08306b 543px,#08306b 567px,#083b7c 582px,#0a539e 597px,#2070b4 609px,#4695c8 621px,#6dafd7 630px,#9dcae1 639px,#c7dbef 651px,#dceaf6 666px,#eaf2fb 684px,#eff6fc 705px,#f3f8fe 768px,#f5fafe 1083px)"></i>
<i style="height:8px;background:linear-gradient(90deg,#f5fafe 0px,#f4f9fe 297px,#f1f7fd 357px,#e9f2fa 390px,#dbe9f6 411px,#c7dbef 429px,#9fcae1 444px,#64a9d3 459px,#3f8fc5 471px,#1967ad 489px,#0a539e 501px,#084b93 507px,#083d7f 519px,#083370 534px,#08306b 543px,#08306b 564px,#083674 576px,#084082 585px,#0a549e 597px,#2171b5 609px,#4896c8 621px,#6fb0d7 630px,#9fcae1 639px,#c7dcef 651px,#d9e8f5 663px,#eaf2fb 684px,#f0f6fd 711px,#f3f8fe 765px,#f5fafe 1083px)"></i>
<i style="height:8px;background:linear-gradient(90deg,#f5fafe 0px,#f4f9fe 297px,#f1f7fd 357px,#e9f2fa 390px,#e0ecf8 405px,#c7dbef 429px,#a0cbe2 444px,#65aad4 459px,#4090c5 471px,#1a68ae 489px,#0a549e 501px,#084c95 507px,#083e81 519px,#083471 534px,#08306b 546px,#08306b 564px,#083776 576px,#084184 585px,#0b559f 597px,#2272b6 609px,#3e8ec4 618px,#71b1d7 630px,#a0cbe2 639px,#c8dcf0 651px,#e3eef8 672px,#eaf2fb 684px,#f0f6fd 711px,#f4f9fe 789px,#f5fafe 1083px)"></i>
<i style="height:8px;background:linear-gradient(90deg,#f5fafe 0px,#f4f9fe 300px,#f2f7fd 351px,#e9f2fa 390px,#deebf7 408px,#c7dcef 429px,#a0cbe2 444px,#66abd4 459px,#4191c6 471px,#206fb4 486px,#0e59a2 498px,#084d96 507px,#083877 528px,#08306b 546px,#08306b 561px,#083877 576px,#084285 585px,#08509b 594px,#1c6bb0 606px,#3585bf 615px,#64a9d3 627px,#a0cbe2 639px,#c8dcf0 651px,#e0ecf8 669px,#ebf3fb 687px,#f4f9fe 789px,#f5fafe 1083px)"></i>
<i style="height:8px;background:linear-gradient(90deg,#f5fafe 0px,#f4f9fe 300px,#f2f7fd 351px,#eaf3fb 387px,#dce9f6 411px,#c2d9ee 432px,#97c6df 447px,#72b2d8 456px,#4191c6 471px,#2070b4 486px,#0f5aa3 498px,#084e98 507px,#083979 528px,#08306b 546px,#08306b 558px,#083979 576px,#084387 585px,#08519c 594px,#1d6cb1 606px,#3686c0 615px,#65aad4 627px,#94c4df 636px,#b8d5ea 645px,#c9ddf0 651px,#dae8f6 663px,#e9f2fa 681px,#f1f7fd 717px,#f4f9fe 786px,#f5fafe 1083px)"></i>
<i style="height:8px;background:linear-gradient(90deg,#f5fafe 0px,#f4f9fe 303px,#f1f7fd 360px,#e8f1fa 393px,#d9e8f5 414px,#c8dcf0 429px,#99c7e0 447px,#68acd5 459px,#4292c6 471px,#2171b5 486px,#084e98 507px,#083a7a 528px,#083471 543px,#08306b 546px,#08306b 552px,#083471 567px,#083a7a 576px,#084488 585px,#09529d 594px,#1e6db2 606px,#3787c0 615px,#66abd4 627px,#95c5df 636px,#c2d9ee 648px,#deebf7 666px,#eaf3fb 684px,#f0f6fd 708px,#f4f9fe 786px,#f5fafe 1083px)"></i>
<i style="height:8px;background:linear-gradient(90deg,#f5fafe 0px,#f3f8fe 327px,#f0f6fd 366px,#e8f1fa 393px,#d9e8f5 414px,#c3daee 432px,#99c7e0 447px,#5fa6d1 462px,#3c8cc3 474px,#1d6cb1 489px,#084f99 507px,#084082 522px,#083471 543px,#08306b 546px,#083573 567px,#083d7f 579px,#0a539e 594px,#1f6eb3 606px,#3888c1 615px,#68acd5 627px,#97c6df 636px,#c3daee 648px,#dbe9f6 663px,#eaf3fb 684px,#f0f6fd 708px,#f4f9fe 783px,#f5fafe 1083px)"></i>
<i style="height:8px;background:linear-gradient(90deg,#f5fafe 0px,#f4f9fe 306px,#f2f7fd 354px,#eaf2fb 390px,#dceaf6 411px,#c3daee 432px,#9ac8e0 447px,#6aaed6 459px,#3d8dc4 474px,#1e6db2 489px,#08509b 507px,#084184 522px,#08316d 549px,#083674 567px,#083e81 579px,#0a549e 594px,#206fb4 606px,#3989c1 615px,#5ba3d0 624px,#97c6df 636px,#a5cde3 639px,#c3daee 648px,#dbe9f6 663px,#eaf3fb 684px,#f1f7fd 714px,#f4f9fe 783px,#f5fafe 1083px)"></i>
<i style="height:8px;background:linear-gradient(90deg,#f5fafe 0px,#f4f9fe 306px,#f2f7fd 354px,#eaf2fb 390px,#dae8f6 414px,#c4daee 432px,#9cc9e1 447px,#61a7d2 462px,#3e8ec4 474px,#1a68ae 492px,#084e98 510px,#084285 522px,#08326e 549px,#083a7a 573px,#084387 582px,#0b559f 594px,#2070b4 606px,#3a8ac2 615px,#5ca4d0 624px,#99c7e0 636px,#c4daee 648px,#dce9f6 663px,#ecf4fb 687px,#f4f9fe 780px,#f5fafe 1083px)"></i>
<i style="height:8px;background:linear-gradient(90deg,#f5fafe 0px,#f4f9fe 309px,#f2f7fd 354px,#eaf2fb 390px,#dfecf7 408px,#c4daee 432px,#9cc9e1 447px,#63a8d3 462px,#3f8fc5 474px,#1b69af 492px,#084f99 510px,#08458a 519px,#083370 549px,#083b7c 573px,#084488 582px,#08519c 591px,#0c56a0 594px,#2171b5 606px,#3b8bc2 615px,#5da5d1 624px,#9ac8e0 636px,#c6dbef 648px,#dce9f6 663px,#eaf2fb 681px,#f0f6fd 705px,#f4f9fe 780px,#f5fafe 1083px)"></i>
<i style="height:8px;background:linear-gradient(90deg,#f5fafe 0px,#f4f9fe 309px,#f1f7fd 363px,#e9f2fa 393px,#d8e7f5 417px,#c6dbef 432px,#9dcae1 447px,#64a9d3 462px,#4090c5 474px,#1c6ab0 492px,#084f99 510px,#083b7c 534px,#083877 543px,#083471 546px,#083471 552px,#083c7d 573px,#084d96 588px,#0d57a1 594px,#2272b6 606px,#3c8cc3 615px,#5fa6d1 624px,#9cc9e1 636px,#c6dbef 648px,#d9e7f5 660px,#eaf2fb 681px,#f0f6fd 705px,#f4f9fe 777px,#f5fafe 1083px)"></i>
<i style="height:8px;background:linear-gradient(90deg,#f5fafe 0px,#f4f9fe 312px,#f1f7fd 363px,#e9f2fa 393px,#dbe9f6 414px,#c6dbef 432px,#9fcae1 447px,#6fb0d7 459px,#4191c6 474px,#2171b5 489px,#08509b 510px,#083c7d 534px,#083979 543px,#083573 546px,#083573 552px,#083877 564px,#084082 576px,#0a539e 591px,#2373b6 606px,#3d8dc4 615px,#60a7d2 624px,#9dcae1 636px,#c7dbef 648px,#dfecf7 666px,#ebf3fb 684px,#f4f9fe 777px,#f5fafe 1083px)"></i>
<i style="height:8px;background:linear-gradient(90deg,#f5fafe 0px,#f4f9fe 312px,#f2f7fd 357px,#eaf3fb 390px,#dbe9f6 414px,#c7dbef 432px,#9fcae1 447px,#5ca4d0 465px,#3b8bc2 477px,#2171b5 489px,#125da6 501px,#084e98 513px,#084184 528px,#083a7a 543px,#083674 546px,#083674 552px,#083979 564px,#084184 576px,#084f99 588px,#0e59a2 594px,#2474b7 606px,#3f8fc5 615px,#61a7d2 624px,#9fcae1 636px,#c7dcef 648px,#e3eef8 669px,#ebf3fb 684px,#f4f9fe 774px,#f5fafe 1083px)"></i>
<i style="height:8px;background:linear-gradient(90deg,#f5fafe 0px,#f4f9fe 312px,#f2f7fd 357px,#eaf3fb 390px,#deebf7 411px,#c7dbef 432px,#a0cbe2 447px,#66abd4 462px,#4292c6 474px,#2272b6 489px,#084f99 513px,#084285 528px,#083b7c 543px,#083674 546px,#083d7f 570px,#084285 576px,#08509b 588px,#0f5aa3 594px,#2575b7 606px,#4090c5 615px,#63a8d3 624px,#9fcae1 636px,#c7dcef 648px,#d9e8f5 660px,#e9f2fa 678px,#f1f7fd 711px,#f4f9fe 774px,#f5fafe 1083px)"></i>
<i style="height:8px;background:linear-gradient(90deg,#f6faff 0px,#f4f9fe 315px,#f0f6fd 369px,#e8f1fa 396px,#dce9f6 414px,#c7dcef 432px,#a1cbe2 447px,#68acd5 462px,#4493c7 474px,#2373b6 489px,#08509b 513px,#08478d 522px,#083d7f 540px,#083776 546px,#083c7d 567px,#084387 576px,#08519c 588px,#105ba4 594px,#2676b8 606px,#4191c6 615px,#64a9d3 624px,#a0cbe2 636px,#c8dcf0 648px,#ddeaf7 663px,#eaf3fb 681px,#f0f6fd 702px,#f4f9fe 771px,#f6faff 1083px)"></i>
<i style="height:8px;background:linear-gradient(90deg,#f6faff 0px,#f4f9fe 315px,#f1f7fd 363px,#eaf2fb 393px,#dce9f6 414px,#c2d9ee 435px,#97c6df 450px,#69add5 462px,#4594c7 474px,#2474b7 489px,#08519c 513px,#08488e 522px,#084184 534px,#083c7d 543px,#083877 546px,#083d7f 567px,#084488 576px,#09529d 588px,#115ca5 594px,#2777b8 606px,#4292c6 615px,#65aad4 624px,#94c4df 633px,#c1d9ed 645px,#dae8f6 660px,#eaf3fb 681px,#f1f7fd 708px,#f4f9fe 771px,#f6faff 1083px)"></i>
<i style="height:8px;background:linear-gradient(90deg,#f6faff 0px,#f4f9fe 318px,#f1f7fd 366px,#eaf2fb 393px,#dfebf7 411px,#c8dcf0 432px,#99c7e0 450px,#60a7d2 465px,#4695c8 474px,#2070b4 492px,#09529d 513px,#084285 534px,#083d7f 543px,#083979 546px,#083e81 567px,#08458a 576px,#084f99 585px,#125da6 594px,#2171b5 603px,#4493c7 615px,#66abd4 624px,#95c5df 633px,#c2d9ee 645px,#deebf7 663px,#ecf4fb 684px,#f4f9fe 768px,#f6faff 1083px)"></i>
<i style="height:8px;background:linear-gradient(90deg,#f6faff 0px,#f4f9fe 318px,#f1f7fd 366px,#eaf2fb 393px,#dceaf6 414px,#c3daee 435px,#9ac8e0 450px,#58a1cf 468px,#3f8fc5 477px,#2070b4 492px,#09529d 513px,#084387 534px,#083e81 543px,#083a7a 546px,#084082 567px,#08468b 576px,#08509b 585px,#125ea6 594px,#2a7ab9 606px,#4594c7 615px,#68acd5 624px,#a4cce3 636px,#caddf0 648px,#e1edf8 666px,#ecf4fb 684px,#f5f9fe 798px,#f6faff 1083px)"></i>
<i style="height:8px;background:linear-gradient(90deg,#f6faff 0px,#f4f9fe 321px,#ebf3fb 390px,#d7e6f5 420px,#c3daee 435px,#9cc9e1 450px,#6caed6 462px,#5aa2cf 468px,#4090c5 477px,#2171b5 492px,#0a539e 513px,#084488 534px,#084082 543px,#083b7c 546px,#084184 567px,#08478d 576px,#08519c 585px,#135fa7 594px,#2b7bba 606px,#4695c8 615px,#69add5 624px,#97c6df 633px,#c3daee 645px,#dbe9f6 660px,#eaf2fb 678px,#f1f7fd 708px,#f4f9fe 768px,#f6faff 1083px)"></i>
<i style="height:8px;background:linear-gradient(90deg,#f6faff 0px,#f4f9fe 321px,#f0f6fd 372px,#e9f2fa 396px,#dae8f6 417px,#c4daee 435px,#9cc9e1 450px,#6dafd7 462px,#529dcc 471px,#2272b6 492px,#08519c 516px,#08458a 534px,#084184 543px,#083c7d 546px,#083c7d 552px,#08488e 576px,#09529d 585px,#1460a8 594px,#2474b7 603px,#3d8dc4 612px,#6aaed6 624px,#99c7e0 633px,#c4daee 645px,#dfebf7 663px,#ebf3fb 681px,#f4f9fe 765px,#f6faff 1083px)"></i>
<i style="height:8px;background:linear-gradient(90deg,#f6faff 0px,#f4f9fe 321px,#f0f6fd 372px,#e9f2fa 396px,#ddeaf7 414px,#c6dbef 435px,#9dcae1 450px,#6fb0d7 462px,#539ecd 471px,#4292c6 477px,#2373b6 492px,#09529d 516px,#08468b 534px,#084285 543px,#083d7f 546px,#083e81 555px,#084387 567px,#084f99 582px,#1561a9 594px,#2575b7 603px,#3e8ec4 612px,#6caed6 624px,#9ac8e0 633px,#c4daee 645px,#dce9f6 660px,#ebf3fb 681px,#f2f7fd 714px,#f5f9fe 792px,#f6faff 1083px)"></i>
<i style="height:8px;background:linear-gradient(90deg,#f6faff 0px,#f4f9fe 324px,#f1f7fd 369px,#eaf3fb 393px,#dbe9f6 417px,#c6dbef 435px,#9fcae1 450px,#71b1d7 462px,#4493c7 477px,#206fb4 495px,#08519c 519px,#08478d 534px,#084387 543px,#083e81 546px,#084082 555px,#084488 567px,#08509b 582px,#125da6 591px,#206fb4 600px,#3f8fc5 612px,#6dafd7 624px,#9cc9e1 633px,#c6dbef 645px,#d9e7f5 657px,#ebf3fb 681px,#f4f9fe 762px,#f6faff 1083px)"></i>
<i style="height:8px;background:linear-gradient(90deg,#f6faff 0px,#f4f9fe 324px,#f1f7fd 369px,#eaf3fb 393px,#e0ecf8 411px,#c7dbef 435px,#a0cbe2 450px,#68acd5 465px,#4594c7 477px,#2070b4 495px,#09529d 519px,#08488e 534px,#084488 543px,#084082 546px,#084184 555px,#08458a 567px,#08519c 582px,#125ea6 591px,#2070b4 600px,#4090c5 612px,#6fb0d7 624px,#9dcae1 633px,#c7dbef 645px,#dfecf7 663px,#edf4fc 684px,#f5f9fe 789px,#f6faff 1083px)"></i>
<i style="height:8px;background:linear-gradient(90deg,#f6faff 0px,#f4f9fe 327px,#f1f7fd 369px,#e8f1fa 399px,#d6e5f4 423px,#c1d9ed 438px,#97c6df 453px,#69add5 465px,#57a0ce 471px,#3f8fc5 480px,#2171b5 495px,#0a539e 519px,#084990 534px,#08458a 543px,#084184 546px,#08468b 567px,#0a539e 582px,#1c6bb0 597px,#4191c6 612px,#71b1d7 624px,#9fcae1 633px,#c7dcef 645px,#d9e8f5 657px,#eaf3fb 678px,#f2f7fd 711px,#f4f9fe 759px,#f6faff 1083px)"></i>
<i style="height:8px;background:linear-gradient(90deg,#f6faff 0px,#f4f9fe 327px,#f0f6fd 375px,#eaf2fb 396px,#dce9f6 417px,#c7dcef 435px,#a1cbe2 450px,#6aaed6 465px,#4896c8 477px,#2373b6 495px,#0a549e 519px,#084a91 534px,#08468b 543px,#084285 546px,#084387 555px,#084990 570px,#08509b 579px,#1d6cb1 597px,#3282be 606px,#4e9acb 615px,#65aad4 621px,#a0cbe2 633px,#c7dcef 645px,#ddeaf7 660px,#eaf3fb 678px,#f1f7fd 702px,#f5f9fe 786px,#f6faff 1083px)"></i>
<i style="height:8px;background:linear-gradient(90deg,#f6faff 0px,#f4f9fe 330px,#f0f6fd 375px,#eaf2fb 396px,#dce9f6 417px,#c2d9ee 438px,#99c7e0 453px,#6caed6 465px,#4997c9 477px,#2474b7 495px,#0b559f 519px,#084b93 534px,#08478d 543px,#084387 546px,#084488 555px,#084a91 570px,#09529d 579px,#1967ad 594px,#3383be 606px,#4594c7 612px,#66abd4 621px,#a1cbe2 633px,#c8dcf0 645px,#e0ecf8 663px,#ecf4fb 681px,#f2f8fd 720px,#f5f9fe 786px,#f6faff 1083px)"></i>
<i style="height:8px;background:linear-gradient(90deg,#f6faff 0px,#f5f9fe 303px,#f2f8fd 357px,#ebf3fb 393px,#d9e8f5 420px,#c3daee 438px,#9ac8e0 453px,#6caed6 465px,#4a98c9 477px,#2070b4 498px,#0c56a0 519px,#084c95 534px,#084990 543px,#084488 546px,#08468b 558px,#08509b 576px,#1a68ae 594px,#2d7dbb 603px,#4695c8 612px,#68acd5 621px,#a3cce3 633px,#c9ddf0 645px,#e3eef9 666px,#ecf4fb 681px,#f5f9fe 783px,#f6faff 1083px)"></i>
<i style="height:8px;background:linear-gradient(90deg,#f6faff 0px,#f5f9fe 306px,#f2f7fd 366px,#ebf3fb 393px,#dceaf6 417px,#c9ddf0 435px,#9cc9e1 453px,#6dafd7 465px,#4493c7 480px,#3181bd 489px,#2171b5 498px,#1460a8 510px,#084d96 534px,#084a91 543px,#08458a 546px,#084990 564px,#08519c 576px,#135fa7 588px,#2070b4 597px,#4896c8 612px,#69add5 621px,#95c5df 630px,#c2d9ee 642px,#deebf7 660px,#eaf2fb 675px,#f1f7fd 702px,#f4f9fe 753px,#f6faff 1083px)"></i>
<i style="height:8px;background:linear-gradient(90deg,#f6faff 0px,#f4f9fe 333px,#f1f7fd 372px,#e9f2fa 399px,#dae8f6 420px,#c4daee 438px,#9dcae1 453px,#6fb0d7 465px,#4d99ca 477px,#2272b6 498px,#0e58a2 519px,#084e98 534px,#084b93 543px,#08468b 546px,#08488e 558px,#09529d 576px,#1c6bb0 594px,#2f7fbc 603px,#4997c9 612px,#6aaed6 621px,#97c6df 630px,#c3daee 642px,#dbe9f6 657px,#ebf3fb 678px,#f2f7fd 708px,#f5f9fe 780px,#f6faff 1083px)"></i>
<i style="height:8px;background:linear-gradient(90deg,#f6faff 0px,#f5f9fe 309px,#f2f8fd 360px,#eaf3fb 396px,#ddeaf7 417px,#c4daee 438px,#9dcae1 453px,#71b1d7 465px,#56a0ce 474px,#3f8fc5 483px,#2373b6 498px,#135fa7 513px,#084f99 534px,#084c95 543px,#08478d 546px,#084a91 561px,#0a539e 576px,#1d6cb1 594px,#3080bd 603px,#4a98c9 612px,#6caed6 621px,#99c7e0 630px,#c3daee 642px,#dfebf7 660px,#ebf3fb 678px,#f1f7fd 699px,#f5f9fe 780px,#f6faff 1083px)"></i>
<i style="height:8px;background:linear-gradient(90deg,#f6faff 0px,#f5f9fe 309px,#f2f8fd 360px,#eaf3fb 396px,#ddeaf7 417px,#c6dbef 438px,#9fcae1 453px,#68acd5 468px,#3484bf 489px,#1967ad 507px,#08509b 534px,#084d96 543px,#08488e 546px,#084e98 567px,#0d57a1 579px,#1e6db2 594px,#3989c1 606px,#4b98ca 612px,#6dafd7 621px,#9ac8e0 630px,#c4daee 642px,#dce9f6 657px,#edf4fc 681px,#f5f9fe 777px,#f6faff 1083px)"></i>
<i style="height:8px;background:linear-gradient(90deg,#f6faff 0px,#f5f9fe 312px,#f2f8fd 360px,#eaf3fb 396px,#dbe9f6 420px,#c6dbef 438px,#a0cbe2 453px,#69add5 468px,#58a1cf 474px,#4191c6 483px,#2575b7 498px,#125ea6 516px,#08509b 537px,#084e98 543px,#084a91 546px,#084f99 567px,#0e58a2 579px,#1f6eb3 594px,#3a8ac2 606px,#4d99ca 612px,#6fb0d7 621px,#9cc9e1 630px,#c6dbef 642px,#dce9f6 657px,#eaf3fb 675px,#f2f7fd 705px,#f5f9fe 774px,#f6faff 1083px)"></i>
<i style="height:8px;background:linear-gradient(90deg,#f6faff 0px,#f4f9fe 336px,#f0f6fd 378px,#e8f1fa 402px,#d2e3f3 429px,#c1d9ed 441px,#a1cbe2 453px,#6aaed6 468px,#5aa2cf 474px,#4292c6 483px,#2676b8 498px,#135fa7 516px,#08509b 540px,#084b93 546px,#08509b 567px,#0e59a2 579px,#206fb4 594px,#3b8bc2 606px,#4e9acb 612px,#71b1d7 621px,#9dcae1 630px,#c7dbef 642px,#dceaf6 657px,#eaf3fb 675px,#f2f7fd 705px,#f5f9fe 774px,#f6faff 1083px)"></i>
<i style="height:8px;background:linear-gradient(90deg,#f6faff 0px,#f5f9fe 315px,#f2f8fd 363px,#eaf2fb 399px,#dce9f6 420px,#c7dcef 438px,#99c7e0 456px,#6caed6 468px,#5ba3d0 474px,#3d8dc4 486px,#2777b8 498px,#105ba4 522px,#08509b 543px,#084c95 546px,#084c95 552px,#08519c 567px,#125ea6 582px,#2171b5 594px,#4594c7 609px,#72b2d8 621px,#9fcae1 630px,#c7dbef 642px,#dceaf6 657px,#ecf4fb 678px,#f5f9fe 771px,#f6faff 1083px)"></i>
<i style="height:8px;background:linear-gradient(90deg,#f6faff 0px,#f5f9fe 315px,#f2f8fd 363px,#ebf3fb 396px,#dce9f6 420px,#c2d9ee 441px,#9ac8e0 456px,#6dafd7 468px,#5ca4d0 474px,#3e8ec4 486px,#2979b9 498px,#115ca5 522px,#08519c 543px,#084d96 546px,#0c56a0 573px,#1967ad 588px,#2272b6 594px,#3686c0 603px,#5ca4d0 615px,#a0cbe2 630px,#c7dcef 642px,#e0ecf8 660px,#ecf4fb 678px,#f1f7fd 696px,#f5f9fe 771px,#f6faff 1083px)"></i>
<i style="height:8px;background:linear-gradient(90deg,#f6faff 0px,#f5f9fe 318px,#f2f8fd 363px,#ebf3fb 396px,#dfebf7 417px,#c8dcf0 438px,#a4cce3 453px,#5da5d1 474px,#3f8fc5 486px,#2a7ab9 498px,#125da6 522px,#09529d 543px,#084e98 546px,#0d57a1 573px,#1e6db2 591px,#3080bd 600px,#4997c9 609px,#69add5 618px,#a1cbe2 630px,#c8dcf0 642px,#e0ecf8 660px,#ecf4fb 678px,#f2f7fd 702px,#f5f9fe 768px,#f6faff 1083px)"></i>
<i style="height:8px;background:linear-gradient(90deg,#f6faff 0px,#f4f9fe 342px,#e9f2fa 402px,#dceaf6 420px,#c3daee 441px,#9cc9e1 456px,#66abd4 471px,#4090c5 486px,#2b7bba 498px,#1561a9 519px,#084f99 546px,#0c56a0 570px,#1561a9 582px,#2474b7 594px,#4a98c9 609px,#6aaed6 618px,#a3cce3 630px,#c8dcf0 642px,#dae8f6 654px,#ebf3fb 675px,#f2f7fd 702px,#f5f9fe 768px,#f6faff 1083px)"></i>
<i style="height:8px;background:linear-gradient(90deg,#f6faff 0px,#f5f9fe 321px,#f2f7fd 372px,#eaf3fb 399px,#d7e6f5 426px,#c4daee 441px,#9dcae1 456px,#68acd5 471px,#4191c6 486px,#2777b8 501px,#1562a9 519px,#08509b 546px,#0a549e 564px,#115ca5 576px,#2575b7 594px,#4191c6 606px,#60a7d2 615px,#a4cce3 630px,#c2d9ee 639px,#deebf7 657px,#ebf3fb 675px,#f2f7fd 702px,#f5f9fe 765px,#f6faff 1083px)"></i>
<i style="height:8px;background:linear-gradient(90deg,#f6faff 0px,#f5f9fe 321px,#f2f8fd 366px,#eaf3fb 399px,#dae8f6 423px,#c4daee 441px,#9fcae1 456px,#69add5 471px,#4292c6 486px,#2979b9 501px,#1663aa 519px,#08519c 546px,#0b559f 564px,#125da6 576px,#2676b8 594px,#4292c6 606px,#6dafd7 618px,#99c7e0 627px,#b9d6ea 636px,#caddf0 642px,#e1edf8 660px,#edf4fc 678px,#f5f9fe 765px,#f6faff 1083px)"></i>
<i style="height:8px;background:linear-gradient(90deg,#f6faff 0px,#f5f9fe 324px,#f1f7fd 378px,#eaf3fb 399px,#ddeaf7 420px,#c6dbef 441px,#9fcae1 456px,#6aaed6 471px,#4493c7 486px,#2a7ab9 501px,#1764ab 519px,#09529d 546px,#0b559f 561px,#125ea6 576px,#2777b8 594px,#4493c7 606px,#63a8d3 615px,#9ac8e0 627px,#c3daee 639px,#dbe9f6 654px,#edf4fc 678px,#f5f9fe 762px,#f6faff 1083px)"></i>
<i style="height:8px;background:linear-gradient(90deg,#f6faff 0px,#f5f9fe 324px,#ecf4fb 396px,#dbe9f6 423px,#c6dbef 441px,#a0cbe2 456px,#64a9d3 474px,#4594c7 486px,#2b7bba 501px,#1865ac 519px,#0e58a2 543px,#0a539e 546px,#125da6 573px,#2373b6 591px,#4594c7 606px,#71b1d7 618px,#9cc9e1 627px,#c4daee 639px,#dce9f6 654px,#eaf3fb 672px,#f2f7fd 699px,#f5f9fe 762px,#f6faff 1083px)"></i>
<i style="height:8px;background:linear-gradient(90deg,#f6faff 0px,#f5f9fe 327px,#f1f7fd 378px,#eaf2fb 402px,#deebf7 420px,#c7dbef 441px,#99c7e0 459px,#65aad4 474px,#4695c8 486px,#2c7cba 501px,#1966ad 519px,#0e59a2 543px,#0a549e 546px,#125ea6 573px,#2474b7 591px,#3e8ec4 603px,#519ccc 609px,#72b2d8 618px,#9dcae1 627px,#c6dbef 639px,#dce9f6 654px,#ecf4fb 675px,#f2f7fd 699px,#f5f9fe 759px,#f6faff 1083px)"></i>
<i style="height:8px;background:linear-gradient(90deg,#f6faff 0px,#f5f9fe 327px,#f2f8fd 369px,#ebf3fb 399px,#deebf7 420px,#c7dcef 441px,#a3cce3 456px,#66abd4 474px,#4896c8 486px,#2d7dbb 501px,#1c6ab0 516px,#0b559f 546px,#135fa7 573px,#1d6cb1 585px,#2c7cba 594px,#4997c9 606px,#74b3d8 618px,#9fcae1 627px,#c6dbef 639px,#dceaf6 654px,#ecf4fb 675px,#f2f8fd 705px,#f5f9fe 759px,#f6faff 1083px)"></i>
<i style="height:8px;background:linear-gradient(90deg,#f6faff 0px,#f5f9fe 330px,#f2f7fd 375px,#ebf3fb 399px,#dce9f6 423px,#c2d9ee 444px,#9ac8e0 459px,#71b1d7 471px,#4997c9 486px,#2a7ab9 504px,#1c6bb0 516px,#0c56a0 546px,#1460a8 573px,#2272b6 588px,#3383be 597px,#4a98c9 606px,#69add5 615px,#a0cbe2 627px,#c7dbef 639px,#e3eef8 660px,#eef5fc 678px,#f5fafe 789px,#f6faff 1083px)"></i>
<i style="height:8px;background:linear-gradient(90deg,#f6faff 0px,#f5f9fe 330px,#f2f7fd 375px,#ebf3fb 399px,#d9e8f5 426px,#c3daee 444px,#9cc9e1 459px,#69add5 474px,#4a98c9 486px,#2b7bba 504px,#1967ad 522px,#115ca5 543px,#0d57a1 546px,#135fa7 570px,#206fb4 585px,#2e7ebc 594px,#4b98ca 606px,#6aaed6 615px,#a1cbe2 627px,#c7dcef 639px,#ddeaf7 654px,#ebf3fb 672px,#f2f7fd 696px,#f5f9fe 756px,#f6faff 1083px)"></i>
<i style="height:8px;background:linear-gradient(90deg,#f6faff 0px,#f5f9fe 333px,#f1f7fd 381px,#eaf3fb 402px,#dceaf6 423px,#c3daee 444px,#9dcae1 459px,#6aaed6 474px,#4594c7 489px,#3585bf 498px,#2171b5 513px,#0e58a2 546px,#1865ac 576px,#2a7ab9 591px,#4d99ca 606px,#6caed6 615px,#a3cce3 627px,#c8dcf0 639px,#ddeaf7 654px,#ebf3fb 672px,#f2f7fd 696px,#f5f9fe 753px,#f6faff 1083px)"></i>
<i style="height:8px;background:linear-gradient(90deg,#f6faff 0px,#f5f9fe 333px,#f1f7fd 381px,#eaf3fb 402px,#dae8f6 426px,#c4daee 444px,#9fcae1 459px,#6caed6 474px,#4695c8 489px,#3686c0 498px,#206fb4 516px,#0f5aa3 546px,#125ea6 564px,#1966ad 576px,#2575b7 588px,#4594c7 603px,#6dafd7 615px,#a4cce3 627px,#c9ddf0 639px,#e3eef9 660px,#edf4fc 675px,#f2f8fd 702px,#f5fafe 783px,#f6faff 1083px)"></i>
<i style="height:8px;background:linear-gradient(90deg,#f6faff 0px,#f5f9fe 336px,#ecf4fb 399px,#ddeaf7 423px,#c6dbef 444px,#a0cbe2 459px,#65aad4 477px,#4896c8 489px,#3787c0 498px,#2070b4 516px,#105ba4 546px,#135fa7 564px,#2272b6 585px,#4695c8 603px,#6fb0d7 615px,#99c7e0 624px,#b9d6ea 633px,#c9ddf0 639px,#e1edf8 657px,#edf4fc 675px,#f3f8fe 711px,#f5fafe 783px,#f6faff 1083px)"></i>
<i style="height:8px;background:linear-gradient(90deg,#f7fbff 0px,#f5f9fe 336px,#ecf4fb 399px,#dbe9f6 426px,#c6dbef 444px,#a1cbe2 459px,#6fb0d7 474px,#57a0ce 483px,#3484bf 501px,#1f6eb3 519px,#115ca5 546px,#1966ad 573px,#2373b6 585px,#3383be 594px,#4997c9 603px,#66abd4 612px,#a6cee4 627px,#c3daee 636px,#dbe9f6 651px,#eaf3fb 669px,#f2f7fd 693px,#f5f9fe 750px,#f7fbff 1083px)"></i>
<i style="height:8px;background:linear-gradient(90deg,#f7fbff 0px,#f5f9fe 336px,#f2f7fd 378px,#eaf2fb 405px,#dbe9f6 426px,#c7dbef 444px,#a3cce3 459px,#60a7d2 480px,#3585bf 501px,#2272b6 516px,#125da6 546px,#1865ac 570px,#2171b5 582px,#2f7fbc 591px,#4191c6 600px,#539ecd 606px,#74b3d8 615px,#9cc9e1 624px,#c4daee 636px,#dce9f6 651px,#ecf4fb 672px,#f2f8fd 699px,#f5f9fe 747px,#f7fbff 1083px)"></i>
<i style="height:8px;background:linear-gradient(90deg,#f7fbff 0px,#f5f9fe 339px,#ebf3fb 402px,#dce9f6 426px,#c7dcef 444px,#a4cce3 459px,#69add5 477px,#3b8bc2 498px,#2171b5 519px,#125ea6 546px,#1663aa 564px,#2676b8 585px,#4b98ca 603px,#69add5 612px,#9dcae1 624px,#c6dbef 636px,#e5eff9 660px,#eef5fc 675px,#f5fafe 777px,#f7fbff 1083px)"></i>
<i style="height:8px;background:linear-gradient(90deg,#f7fbff 0px,#f5fafe 312px,#f2f8fd 375px,#edf4fc 399px,#e1edf8 420px,#c8dcf0 444px,#a5cde3 459px,#6aaed6 477px,#3c8cc3 498px,#2272b6 519px,#1460a8 546px,#1966ad 567px,#2777b8 585px,#3d8dc4 597px,#57a0ce 606px,#6aaed6 612px,#a0cbe2 624px,#c7dbef 636px,#e3eef8 657px,#eef5fc 675px,#f5fafe 774px,#f7fbff 1083px)"></i>
<i style="height:8px;background:linear-gradient(90deg,#f7fbff 0px,#f5f9fe 342px,#f2f7fd 381px,#eaf3fb 405px,#dceaf6 426px,#c3daee 447px,#9dcae1 462px,#75b4d8 474px,#5da5d1 483px,#3989c1 501px,#2373b6 519px,#1561a9 546px,#1b69af 570px,#2171b5 579px,#2e7ebc 588px,#4695c8 600px,#58a1cf 606px,#6dafd7 612px,#a1cbe2 624px,#c7dcef 636px,#e0ecf8 654px,#edf4fc 672px,#f3f8fe 708px,#f5fafe 774px,#f7fbff 1083px)"></i>
<i style="height:8px;background:linear-gradient(90deg,#f7fbff 0px,#f5fafe 315px,#f3f8fe 369px,#ecf4fb 402px,#dae8f6 429px,#c4daee 447px,#9fcae1 462px,#5fa6d1 483px,#3a8ac2 501px,#2272b6 522px,#1967ad 543px,#1562a9 546px,#1967ad 564px,#206fb4 576px,#2b7bba 585px,#4090c5 597px,#519ccc 603px,#6fb0d7 612px,#97c6df 621px,#c8dcf0 636px,#e3eef9 657px,#edf4fc 672px,#f2f8fd 696px,#f5fafe 771px,#f7fbff 1083px)"></i>
<i style="height:8px;background:linear-gradient(90deg,#f7fbff 0px,#f5fafe 318px,#f3f8fe 369px,#ecf4fb 402px,#ddeaf7 426px,#c6dbef 447px,#a0cbe2 462px,#60a7d2 483px,#3787c0 504px,#2373b6 522px,#1764ab 546px,#1a68ae 564px,#2c7cba 585px,#4191c6 597px,#65aad4 609px,#a4cce3 624px,#c9ddf0 636px,#e1edf8 654px,#eef5fc 675px,#f5fafe 771px,#f7fbff 1083px)"></i>
<i style="height:8px;background:linear-gradient(90deg,#f7fbff 0px,#f5fafe 318px,#f2f8fd 378px,#ebf3fb 405px,#dbe9f6 429px,#c7dbef 447px,#aacfe5 459px,#69add5 480px,#4191c6 498px,#2777b8 519px,#1865ac 546px,#206fb4 573px,#3282be 588px,#4493c7 597px,#5da5d1 606px,#9ac8e0 621px,#c3daee 633px,#dbe9f6 648px,#ecf4fb 669px,#f5f9fe 738px,#f7fbff 1083px)"></i>
<i style="height:8px;background:linear-gradient(90deg,#f7fbff 0px,#f5fafe 321px,#f3f8fe 372px,#ebf3fb 405px,#deebf7 426px,#c7dbef 447px,#abd0e6 459px,#6aaed6 480px,#4292c6 498px,#2979b9 519px,#1966ad 546px,#1f6eb3 570px,#3383be 588px,#56a0ce 603px,#69add5 609px,#9cc9e1 621px,#c3daee 633px,#dfebf7 651px,#eef5fc 672px,#f5fafe 765px,#f7fbff 1083px)"></i>
<i style="height:8px;background:linear-gradient(90deg,#f7fbff 0px,#f5fafe 321px,#f3f8fe 372px,#edf4fc 402px,#dce9f6 429px,#c7dcef 447px,#add0e6 459px,#6caed6 480px,#3f8fc5 501px,#2777b8 522px,#1967ad 546px,#2070b4 570px,#3080bd 585px,#4695c8 597px,#6aaed6 609px,#a9cfe5 624px,#c4daee 633px,#dce9f6 648px,#eef5fc 672px,#f5fafe 765px,#f7fbff 1083px)"></i>
<i style="height:8px;background:linear-gradient(90deg,#f7fbff 0px,#f5fafe 324px,#f3f8fe 372px,#eaf3fb 408px,#d9e8f5 432px,#c3daee 450px,#9dcae1 465px,#66abd4 483px,#4090c5 501px,#2979b9 522px,#1b69af 546px,#2171b5 570px,#3686c0 588px,#4191c6 594px,#63a8d3 606px,#9fcae1 621px,#c6dbef 633px,#dceaf6 648px,#edf4fc 669px,#f3f8fe 699px,#f5fafe 762px,#f7fbff 1083px)"></i>
<i style="height:8px;background:linear-gradient(90deg,#f7fbff 0px,#f5fafe 324px,#f2f8fd 381px,#ecf4fb 405px,#dceaf6 429px,#c4daee 450px,#9fcae1 465px,#68acd5 483px,#4292c6 501px,#2777b8 525px,#1c6ab0 546px,#2272b6 570px,#3787c0 588px,#4292c6 594px,#64a9d3 606px,#a1cbe2 621px,#c7dbef 633px,#e0ecf8 651px,#edf4fc 669px,#f3f8fe 699px,#f5fafe 762px,#f7fbff 1083px)"></i>
<i style="height:8px;background:linear-gradient(90deg,#f7fbff 0px,#f5fafe 327px,#f2f8fd 381px,#eaf2fb 411px,#dae8f6 432px,#c4daee 450px,#a0cbe2 465px,#69add5 483px,#4493c7 501px,#2e7ebc 519px,#1c6bb0 546px,#2070b4 564px,#3484bf 585px,#4493c7 594px,#66abd4 606px,#a3cce3 621px,#c7dcef 633px,#e3eef9 654px,#eef5fc 672px,#f5fafe 759px,#f7fbff 1083px)"></i>
<i style="height:8px;background:linear-gradient(90deg,#f7fbff 0px,#f5fafe 330px,#f3f8fe 375px,#ebf3fb 408px,#d8e7f5 435px,#c6dbef 450px,#a1cbe2 465px,#6aaed6 483px,#4090c5 504px,#2d7dbb 522px,#1e6db2 546px,#2171b5 564px,#2777b8 573px,#3a8ac2 588px,#68acd5 606px,#a4cce3 621px,#c8dcf0 633px,#e1edf8 651px,#ecf4fb 666px,#f3f8fe 696px,#f5fafe 756px,#f7fbff 1083px)"></i>
<i style="height:8px;background:linear-gradient(90deg,#f7fbff 0px,#f5fafe 330px,#edf4fc 405px,#deebf7 429px,#c7dbef 450px,#9ac8e0 468px,#65aad4 486px,#4695c8 501px,#2e7ebc 522px,#1f6eb3 546px,#2474b7 567px,#3b8bc2 588px,#69add5 606px,#a5cde3 621px,#c9ddf0 633px,#e4eff9 654px,#eef5fc 669px,#f3f8fe 696px,#f5fafe 756px,#f7fbff 1083px)"></i>
<i style="height:8px;background:linear-gradient(90deg,#f7fbff 0px,#f5fafe 333px,#f2f8fd 384px,#eaf3fb 411px,#dce9f6 432px,#c2d9ee 453px,#9cc9e1 468px,#66abd4 486px,#4292c6 504px,#2d7dbb 525px,#206fb4 546px,#2474b7 564px,#3888c1 585px,#4997c9 594px,#61a7d2 603px,#9cc9e1 618px,#c3daee 630px,#dfebf7 648px,#eef5fc 669px,#f2f8fd 687px,#f5fafe 753px,#f7fbff 1083px)"></i>
<i style="height:8px;background:linear-gradient(90deg,#f7fbff 0px,#f5fafe 333px,#f3f8fe 378px,#ecf4fb 408px,#dfebf7 429px,#c8dcf0 450px,#9dcae1 468px,#71b1d7 483px,#4f9bcb 498px,#3383be 519px,#2575b7 543px,#2070b4 546px,#2575b7 564px,#3989c1 585px,#529dcc 597px,#64a9d3 603px,#9dcae1 618px,#c4daee 630px,#dce9f6 645px,#edf4fc 666px,#f3f8fe 693px,#f5fafe 753px,#f7fbff 1083px)"></i>
<i style="height:8px;background:linear-gradient(90deg,#f7fbff 0px,#f5fafe 336px,#eef5fc 402px,#dceaf6 432px,#c9ddf0 450px,#9fcae1 468px,#6aaed6 486px,#519ccc 498px,#3787c0 516px,#2272b6 546px,#2979b9 567px,#3f8fc5 588px,#65aad4 603px,#a0cbe2 618px,#c6dbef 630px,#e3eef8 651px,#eef5fc 669px,#f5fafe 750px,#f7fbff 1083px)"></i>
<i style="height:8px;background:linear-gradient(90deg,#f7fbff 0px,#f5fafe 339px,#eef5fc 405px,#dfecf7 429px,#c9ddf0 450px,#a0cbe2 468px,#6caed6 486px,#529dcc 498px,#3888c1 516px,#2373b6 546px,#2a7ab9 567px,#3c8cc3 585px,#4e9acb 594px,#66abd4 603px,#a1cbe2 618px,#c7dbef 630px,#e6f0f9 654px,#eef5fc 669px,#f5fafe 747px,#f7fbff 1083px)"></i>
<i style="height:8px;background:linear-gradient(90deg,#f7fbff 0px,#f5fafe 339px,#eef5fc 405px,#ddeaf7 432px,#c6dbef 453px,#a1cbe2 468px,#6dafd7 486px,#4e9acb 501px,#3787c0 519px,#2474b7 546px,#2a7ab9 564px,#3d8dc4 585px,#4f9bcb 594px,#69add5 603px,#a3cce3 618px,#c7dcef 630px,#ddeaf7 645px,#eef5fc 666px,#f3f8fe 690px,#f5fafe 747px,#f7fbff 1083px)"></i>
<i style="height:8px;background:linear-gradient(90deg,#f7fbff 0px,#f5fafe 342px,#edf4fc 408px,#e0ecf8 429px,#c7dbef 453px,#a4cce3 468px,#6fb0d7 486px,#4f9bcb 501px,#3888c1 519px,#2676b8 546px,#3181bd 573px,#4493c7 588px,#6aaed6 603px,#a4cce3 618px,#c8dcf0 630px,#e1edf8 648px,#f0f6fd 672px,#f6faff 786px,#f7fbff 1083px)"></i>
<i style="height:8px;background:linear-gradient(90deg,#f7fbff 0px,#f6faff 303px,#eff6fc 402px,#e5eff9 423px,#c7dcef 453px,#9dcae1 471px,#71b1d7 486px,#5ca4d0 495px,#4292c6 510px,#3989c1 519px,#2777b8 546px,#2e7ebc 567px,#4090c5 585px,#63a8d3 600px,#9ac8e0 615px,#c9ddf0 630px,#e4eff9 651px,#eff6fc 669px,#f5fafe 741px,#f7fbff 1083px)"></i>
<i style="height:8px;background:linear-gradient(90deg,#f7fbff 0px,#f5fafe 345px,#eef5fc 405px,#dfebf7 432px,#c8dcf0 453px,#9fcae1 471px,#6caed6 489px,#58a1cf 498px,#3b8bc2 519px,#2e7ebc 543px,#2979b9 546px,#2e7ebc 564px,#4292c6 585px,#65aad4 600px,#a8cee4 618px,#caddf0 630px,#e2edf8 648px,#eff6fc 669px,#f5fafe 741px,#f7fbff 1083px)"></i>
<i style="height:8px;background:linear-gradient(90deg,#f7fbff 0px,#f5fafe 345px,#eef5fc 408px,#dceaf6 435px,#c9ddf0 453px,#a0cbe2 471px,#66abd4 492px,#4695c8 510px,#2b7bba 546px,#3080bd 564px,#4493c7 585px,#66abd4 600px,#9fcae1 615px,#c4daee 627px,#dce9f6 642px,#eef5fc 666px,#f5fafe 738px,#f7fbff 1083px)"></i>
<i style="height:8px;background:linear-gradient(90deg,#f7fbff 0px,#f5fafe 348px,#eef5fc 408px,#dfecf7 432px,#caddf0 453px,#9ac8e0 474px,#6fb0d7 489px,#4d99ca 507px,#3e8ec4 519px,#2d7dbb 546px,#3383be 567px,#4191c6 582px,#529dcc 591px,#69add5 600px,#a1cbe2 615px,#c6dbef 627px,#dceaf6 642px,#eef5fc 666px,#f5fafe 735px,#f7fbff 1083px)"></i>
<i style="height:8px;background:linear-gradient(90deg,#f7fbff 0px,#f5fafe 348px,#edf4fc 411px,#ddeaf7 435px,#c6dbef 456px,#9cc9e1 474px,#6aaed6 492px,#4f9bcb 507px,#3d8dc4 522px,#2e7ebc 546px,#3383be 564px,#4292c6 582px,#63a8d3 597px,#a3cce3 615px,#c7dbef 627px,#e3eef9 648px,#f0f6fd 669px,#f6faff 774px,#f7fbff 1083px)"></i>
<i style="height:8px;background:linear-gradient(90deg,#f7fbff 0px,#f6faff 315px,#eff6fc 405px,#deebf7 435px,#c7dbef 456px,#9dcae1 474px,#6caed6 492px,#56a0ce 504px,#4191c6 519px,#3080bd 546px,#3585bf 564px,#4594c7 582px,#6dafd7 600px,#9ac8e0 612px,#c7dcef 627px,#e7f0fa 651px,#eff6fc 666px,#f5fafe 732px,#f7fbff 1083px)"></i>
<i style="height:8px;background:linear-gradient(90deg,#f7fbff 0px,#f5fafe 354px,#eef5fc 408px,#dce9f6 438px,#c7dcef 456px,#9fcae1 474px,#68acd5 495px,#539ecd 507px,#3e8ec4 525px,#3282be 546px,#3585bf 561px,#4292c6 579px,#66abd4 597px,#9cc9e1 612px,#c9ddf0 627px,#e4eff9 648px,#eff6fc 666px,#f6faff 771px,#f7fbff 1083px)"></i>
<i style="height:8px;background:linear-gradient(90deg,#f7fbff 0px,#f5fafe 354px,#eef5fc 411px,#dfebf7 435px,#c8dcf0 456px,#a1cbe2 474px,#71b1d7 492px,#5aa2cf 504px,#4292c6 522px,#3383be 546px,#3888c1 564px,#4997c9 582px,#69add5 597px,#9fcae1 612px,#caddf0 627px,#e2edf8 645px,#eef5fc 663px,#f5fafe 729px,#f7fbff 1083px)"></i>
<i style="height:8px;background:linear-gradient(90deg,#f7fbff 0px,#f5fafe 357px,#eef5fc 411px,#e2edf8 432px,#c9ddf0 456px,#9cc9e1 477px,#6caed6 495px,#57a0ce 507px,#4896c8 519px,#3585bf 546px,#3d8dc4 570px,#4695c8 579px,#56a0ce 588px,#6caed6 597px,#a0cbe2 612px,#cadef0 627px,#e5eff9 648px,#f1f7fd 669px,#f6faff 765px,#f7fbff 1083px)"></i>
<i style="height:8px;background:linear-gradient(90deg,#f7fbff 0px,#f5fafe 357px,#edf4fc 414px,#ddeaf7 438px,#c6dbef 459px,#9dcae1 477px,#75b4d8 492px,#5da5d1 504px,#4695c8 522px,#3787c0 546px,#3d8dc4 567px,#4997c9 579px,#6dafd7 597px,#a1cbe2 612px,#c6dbef 624px,#e3eef8 645px,#f0f6fd 666px,#f6faff 762px,#f7fbff 1083px)"></i>
<i style="height:8px;background:linear-gradient(90deg,#f7fbff 0px,#f6faff 327px,#eff6fc 408px,#e0ecf8 435px,#c7dbef 459px,#9fcae1 477px,#77b5d9 492px,#5ba3d0 507px,#4b98ca 519px,#3888c1 546px,#3d8dc4 564px,#4f9bcb 582px,#68acd5 594px,#9ac8e0 609px,#c7dbef 624px,#e6f0f9 648px,#f0f6fd 666px,#f6faff 762px,#f7fbff 1083px)"></i>
<i style="height:8px;background:linear-gradient(90deg,#f7fbff 0px,#f6faff 327px,#eef5fc 411px,#deebf7 438px,#c7dcef 459px,#a0cbe2 477px,#72b2d8 495px,#61a7d2 504px,#4a98c9 522px,#3a8ac2 546px,#4292c6 570px,#4d99ca 579px,#69add5 594px,#9cc9e1 609px,#c7dcef 624px,#e3eef9 645px,#eff6fc 663px,#f6faff 759px,#f7fbff 1083px)"></i>
<i style="height:8px;background:linear-gradient(90deg,#f7fbff 0px,#f6faff 330px,#f5f9fe 378px,#eef5fc 414px,#dfebf7 438px,#c8dcf0 459px,#9cc9e1 480px,#7cb7da 492px,#5fa6d1 507px,#4f9bcb 519px,#3c8cc3 546px,#4292c6 567px,#58a1cf 585px,#6caed6 594px,#9fcae1 609px,#c8dcf0 624px,#e4eff9 645px,#eff6fc 663px,#f6faff 756px,#f7fbff 1083px)"></i>
<i style="height:8px;background:linear-gradient(90deg,#f7fbff 0px,#f6faff 333px,#f0f6fd 408px,#e6f0f9 429px,#c9ddf0 459px,#9dcae1 480px,#77b5d9 495px,#65aad4 504px,#529dcc 519px,#3d8dc4 546px,#4292c6 564px,#56a0ce 582px,#66abd4 591px,#77b5d9 597px,#a0cbe2 609px,#caddf0 624px,#e7f1fa 648px,#f1f7fd 666px,#f6faff 753px,#f7fbff 1083px)"></i>
<i style="height:8px;background:linear-gradient(90deg,#f7fbff 0px,#f6faff 336px,#eff6fc 411px,#dfecf7 438px,#c6dbef 462px,#9fcae1 480px,#81badb 492px,#63a8d3 507px,#519ccc 522px,#3f8fc5 546px,#4594c7 564px,#539ecd 579px,#71b1d7 594px,#99c7e0 606px,#cadef0 624px,#e5eff9 645px,#f0f6fd 663px,#f6faff 750px,#f7fbff 1083px)"></i>
<i style="height:8px;background:linear-gradient(90deg,#f7fbff 0px,#f6faff 339px,#eef5fc 414px,#e3eef8 435px,#c7dbef 462px,#9ac8e0 483px,#69add5 504px,#56a0ce 519px,#4191c6 546px,#4997c9 567px,#5aa2cf 582px,#6aaed6 591px,#a4cce3 609px,#c6dbef 621px,#e3eef8 642px,#f0f6fd 663px,#f6faff 747px,#f7fbff 1083px)"></i>
<i style="height:8px;background:linear-gradient(90deg,#f7fbff 0px,#f6faff 339px,#eef5fc 414px,#deebf7 441px,#c7dcef 462px,#9cc9e1 483px,#66abd4 507px,#5ba3d0 516px,#4493c7 546px,#4b98ca 567px,#5ca4d0 582px,#75b4d8 594px,#9dcae1 606px,#c7dbef 621px,#dceaf6 636px,#eff6fc 660px,#f5f9fe 690px,#f6faff 747px,#f7fbff 1083px)"></i>
<i style="height:8px;background:linear-gradient(90deg,#f7fbff 0px,#f6faff 342px,#f1f7fd 408px,#e6f0f9 432px,#d0e1f2 456px,#c4daee 465px,#9fcae1 483px,#7ab6d9 498px,#69add5 507px,#5da5d1 516px,#4695c8 546px,#4e9acb 567px,#5fa6d1 582px,#79b5d9 594px,#9fcae1 606px,#c8dcf0 621px,#e7f0fa 645px,#f2f7fd 666px,#f6faff 744px,#f7fbff 1083px)"></i>
<i style="height:8px;background:linear-gradient(90deg,#f7fbff 0px,#f6faff 345px,#f0f6fd 411px,#e8f1fa 429px,#caddf0 462px,#9ac8e0 486px,#6caed6 507px,#60a7d2 516px,#4997c9 546px,#519ccc 567px,#61a7d2 582px,#6caed6 588px,#a1cbe2 606px,#c9ddf0 621px,#e4eff9 642px,#f1f7fd 663px,#f6faff 741px,#f7fbff 1083px)"></i>
<i style="height:8px;background:linear-gradient(90deg,#f7fbff 0px,#f6faff 348px,#eff6fc 414px,#e7f0fa 432px,#cadef0 462px,#a3cce3 483px,#6aaed6 510px,#4b98ca 546px,#539ecd 567px,#64a9d3 582px,#7fb9da 594px,#c4daee 618px,#e2edf8 639px,#f0f6fd 660px,#f6faff 738px,#f7fbff 1083px)"></i>
<i style="height:8px;background:linear-gradient(90deg,#f7fbff 0px,#f6faff 348px,#eef5fc 417px,#e5eff9 435px,#cfe1f2 459px,#bdd7ec 471px,#6dafd7 510px,#4e9acb 546px,#56a0ce 567px,#66abd4 582px,#72b2d8 588px,#9dcae1 603px,#cbdef1 621px,#e5eff9 642px,#f0f6fd 660px,#f6faff 735px,#f7fbff 1083px)"></i>
<i style="height:8px;background:linear-gradient(90deg,#f7fbff 0px,#f6faff 351px,#f1f7fd 411px,#e7f1fa 432px,#d0e1f2 459px,#c4daee 468px,#7ab6d9 504px,#6caed6 513px,#519ccc 546px,#5ba3d0 570px,#69add5 582px,#75b4d8 588px,#a0cbe2 603px,#c7dcef 618px,#e6f0f9 642px,#eff6fc 657px,#f6faff 732px,#f7fbff 1083px)"></i>
<i style="height:8px;background:linear-gradient(90deg,#f7fbff 0px,#f6faff 354px,#f0f6fd 414px,#e6f0f9 435px,#caddf0 465px,#9dcae1 489px,#89bedc 498px,#6aaed6 516px,#549fcd 546px,#5aa2cf 564px,#6caed6 582px,#c8dcf0 618px,#e3eef9 639px,#f1f7fd 660px,#f6faff 729px,#f7fbff 1083px)"></i>
<i style="height:8px;background:linear-gradient(90deg,#f7fbff 0px,#f6faff 357px,#eff6fc 417px,#e4eff9 438px,#cadef0 465px,#c2d9ee 471px,#85bcdc 501px,#6dafd7 516px,#57a0ce 546px,#5ca4d0 564px,#6aaed6 579px,#7cb7da 588px,#9dcae1 600px,#c9ddf0 618px,#e4eff9 639px,#f1f7fd 660px,#f6faff 729px,#f7fbff 1083px)"></i>
<i style="height:8px;background:linear-gradient(90deg,#f7fbff 0px,#f6faff 357px,#eef5fc 420px,#e3eef8 441px,#c8dcf0 468px,#89bedc 501px,#71b1d7 516px,#5aa2cf 546px,#5fa6d1 564px,#69add5 576px,#7fb9da 588px,#cadef0 618px,#e7f1fa 642px,#f0f6fd 657px,#f6faff 726px,#f7fbff 1083px)"></i>
<i style="height:8px;background:linear-gradient(90deg,#f7fbff 0px,#f7fbff 303px,#f2f7fd 411px,#e5eff9 438px,#d0e1f2 462px,#bfd8ed 474px,#7cb7da 510px,#6aaed6 525px,#5ca4d0 546px,#60a7d2 561px,#6caed6 576px,#82bbdb 588px,#c7dbef 615px,#dce9f6 630px,#eff6fc 654px,#f6faff 723px,#f7fbff 1083px)"></i>
<i style="height:8px;background:linear-gradient(90deg,#f7fbff 0px,#f6faff 360px,#f0f6fd 417px,#e6f0f9 438px,#d0e2f2 462px,#c1d9ed 474px,#7fb9da 510px,#6aaed6 528px,#5fa6d1 546px,#63a8d3 561px,#6fb0d7 576px,#8cc0dd 591px,#c7dcef 615px,#e6f0f9 639px,#f2f7fd 660px,#f6faff 720px,#f7fbff 1083px)"></i>
<i style="height:8px;background:linear-gradient(90deg,#f7fbff 0px,#f6faff 363px,#eff6fc 420px,#e2edf8 444px,#cee0f2 465px,#c7dcef 471px,#82bbdb 510px,#6dafd7 528px,#61a7d2 546px,#69add5 567px,#72b2d8 576px,#8fc2de 591px,#c9ddf0 615px,#e3eef9 636px,#f1f7fd 657px,#f6faff 720px,#f7fbff 1083px)"></i>
<i style="height:8px;background:linear-gradient(90deg,#f7fbff 0px,#f6faff 363px,#eef5fc 423px,#e7f0fa 438px,#cfe1f2 465px,#c4daee 474px,#81badb 513px,#64a9d3 546px,#6caed6 567px,#75b4d8 576px,#92c4de 591px,#caddf0 615px,#e7f0fa 639px,#f1f7fd 657px,#f6faff 717px,#f7fbff 1083px)"></i>
<i style="height:8px;background:linear-gradient(90deg,#f7fbff 0px,#f6faff 366px,#eef5fc 423px,#e5eff9 441px,#cddff1 468px,#84bcdb 513px,#66abd4 546px,#6fb0d7 567px,#79b5d9 576px,#cadef0 615px,#e4eff9 636px,#f0f6fd 654px,#f6faff 717px,#f7fbff 1083px)"></i>
<i style="height:8px;background:linear-gradient(90deg,#f7fbff 0px,#f7fbff 312px,#f2f8fd 411px,#e3eef9 444px,#cadef0 471px,#7fb9da 519px,#69add5 546px,#72b2d8 567px,#7cb7da 576px,#ccdff1 615px,#e5eff9 636px,#f2f8fd 660px,#f7fbff 774px,#f7fbff 1083px)"></i>
<i style="height:8px;background:linear-gradient(90deg,#f7fbff 0px,#f7fbff 315px,#f3f8fe 408px,#ebf3fb 432px,#dae8f6 456px,#c8dcf0 474px,#85bcdc 516px,#6caed6 546px,#71b1d7 561px,#7fb9da 576px,#94c4df 588px,#c3daee 609px,#dceaf6 627px,#eaf3fb 642px,#f3f8fe 663px,#f7fbff 1083px)"></i>
<i style="height:8px;background:linear-gradient(90deg,#f7fbff 0px,#f7fbff 318px,#f3f8fe 408px,#eef5fc 426px,#dbe9f6 456px,#c6dbef 477px,#89bedc 516px,#6fb0d7 546px,#75b4d8 564px,#82bbdb 576px,#91c3de 585px,#c4daee 609px,#ddeaf7 627px,#edf4fc 645px,#f4f9fe 666px,#f7fbff 1083px)"></i>
<i style="height:8px;background:linear-gradient(90deg,#f7fbff 0px,#f7fbff 318px,#f2f7fd 417px,#e9f2fa 438px,#d9e7f5 459px,#c7dbef 477px,#8fc2de 513px,#72b2d8 546px,#77b5d9 561px,#81badb 573px,#94c4df 585px,#c7dbef 609px,#deebf7 627px,#ebf3fb 642px,#f4f9fe 666px,#f7fbff 1083px)"></i>
<i style="height:8px;background:linear-gradient(90deg,#f7fbff 0px,#f7fbff 321px,#f3f8fe 411px,#e7f1fa 441px,#d4e4f4 465px,#c7dcef 477px,#8abfdd 519px,#75b4d8 546px,#77b5d9 555px,#84bcdb 573px,#91c3de 582px,#c7dcef 609px,#dfebf7 627px,#eef5fc 645px,#f3f8fe 660px,#f7fbff 1083px)"></i>
<i style="height:8px;background:linear-gradient(90deg,#f7fbff 0px,#f7fbff 324px,#f3f8fe 411px,#eaf2fb 438px,#d5e5f4 465px,#c6dbef 480px,#91c3de 516px,#77b5d9 546px,#81badb 567px,#8abfdd 576px,#c9ddf0 609px,#dfecf7 627px,#ecf4fb 642px,#f3f8fe 660px,#f7fbff 1083px)"></i>
<i style="height:8px;background:linear-gradient(90deg,#f7fbff 0px,#f4f9fe 408px,#e7f0fa 444px,#d6e5f4 465px,#c7dbef 480px,#97c6df 513px,#7ab6d9 546px,#84bcdb 567px,#8dc1dd 576px,#a6cee4 591px,#c6dbef 606px,#d9e8f5 621px,#eaf3fb 639px,#f4f9fe 663px,#f7fbff 1083px)"></i>
<i style="height:8px;background:linear-gradient(90deg,#f7fbff 0px,#f7fbff 327px,#f2f8fd 417px,#e9f2fa 441px,#d6e6f4 465px,#c4daee 483px,#9ac8e0 513px,#7db8da 546px,#82bbdb 561px,#91c3de 576px,#c7dbef 606px,#e7f0fa 633px,#f4f9fe 663px,#f7fbff 1083px)"></i>
<i style="height:8px;background:linear-gradient(90deg,#f7fbff 0px,#f7fbff 330px,#f3f8fe 414px,#eef5fc 432px,#dceaf6 459px,#c6dbef 483px,#92c4de 522px,#81badb 546px,#87bddc 564px,#94c4df 576px,#c8dcf0 606px,#e4eff9 630px,#f3f8fe 657px,#f7fbff 756px,#f7fbff 1083px)"></i>
<i style="height:8px;background:linear-gradient(90deg,#f7fbff 0px,#f7fbff 333px,#f3f8fe 414px,#edf4fc 435px,#ddeaf7 459px,#c3daee 486px,#95c5df 522px,#84bcdb 546px,#89bedc 561px,#92c4de 573px,#c9ddf0 606px,#e5eff9 630px,#f4f9fe 660px,#f7fbff 1083px)"></i>
<i style="height:8px;background:linear-gradient(90deg,#f7fbff 0px,#f4f9fe 411px,#eef5fc 432px,#deebf7 459px,#c8dcf0 483px,#a1cbe2 513px,#87bddc 546px,#89bedc 555px,#95c5df 573px,#aacfe5 588px,#c7dbef 603px,#e6f0f9 630px,#f4f9fe 660px,#f7fbff 1083px)"></i>
<i style="height:8px;background:linear-gradient(90deg,#f7fbff 0px,#f7fbff 339px,#f3f8fe 417px,#e7f1fa 447px,#d9e8f5 465px,#c6dbef 486px,#a6cee4 510px,#89bedc 546px,#92c4de 567px,#9cc9e1 576px,#c3daee 600px,#e3eef9 627px,#f0f6fd 645px,#f5f9fe 663px,#f7fbff 1083px)"></i>
<i style="height:8px;background:linear-gradient(90deg,#f7fbff 0px,#f7fbff 342px,#f3f8fe 417px,#e6f0f9 450px,#d8e7f5 468px,#c7dcef 486px,#a3cce3 516px,#8cc0dd 546px,#95c5df 567px,#9fcae1 576px,#c9ddf0 603px,#e4eff9 627px,#f3f8fe 654px,#f7fbff 744px,#f7fbff 1083px)"></i>
<i style="height:8px;background:linear-gradient(90deg,#f7fbff 0px,#f4f9fe 414px,#e4eff9 453px,#c6dbef 489px,#a8cee4 513px,#8fc2de 546px,#94c4df 561px,#a1cbe2 576px,#b5d4e9 591px,#c7dbef 600px,#e5eff9 627px,#f4f9fe 657px,#f7fbff 1083px)"></i>
<i style="height:8px;background:linear-gradient(90deg,#f7fbff 0px,#f7fbff 345px,#f2f8fd 423px,#eaf3fb 444px,#d9e8f5 468px,#c7dbef 489px,#add0e6 510px,#92c4de 546px,#94c4df 555px,#a0cbe2 573px,#aacfe5 582px,#c7dcef 600px,#e8f1fa 630px,#f4f9fe 657px,#f7fbff 1083px)"></i>
<i style="height:8px;background:linear-gradient(90deg,#f7fbff 0px,#f7fbff 348px,#f3f8fe 420px,#e6f0f9 453px,#c6dbef 492px,#add0e6 513px,#97c6df 546px,#a6cee4 576px,#c6dbef 597px,#e3eef9 624px,#f0f6fd 642px,#f5f9fe 660px,#f7fbff 1083px)"></i>
<i style="height:8px;background:linear-gradient(90deg,#f7fbff 0px,#f4f9fe 417px,#e4eff9 456px,#c7dcef 492px,#a9cfe5 522px,#9cc9e1 546px,#a3cce3 567px,#b9d6ea 588px,#c7dcef 597px,#e2edf8 621px,#f4f9fe 654px,#f7fbff 1083px)"></i>
<i style="height:8px;background:linear-gradient(90deg,#f7fbff 0px,#f4f9fe 417px,#ecf4fb 444px,#e1edf8 462px,#aacfe5 525px,#9fcae1 546px,#a6cee4 567px,#b0d2e7 579px,#c6dbef 594px,#e3eef8 621px,#f1f7fd 642px,#f4f9fe 654px,#f7fbff 1083px)"></i>
<i style="height:8px;background:linear-gradient(90deg,#f7fbff 0px,#f5f9fe 414px,#e6f0f9 456px,#b2d2e8 519px,#a3cce3 546px,#aed1e7 573px,#c8dcf0 594px,#eaf3fb 630px,#f5f9fe 657px,#f7fbff 1083px)"></i>
<i style="height:8px;background:linear-gradient(90deg,#f7fbff 0px,#f4f9fe 420px,#e7f0fa 456px,#b3d3e8 522px,#a6cee4 546px,#afd1e7 570px,#e2edf8 618px,#f4f9fe 651px,#f7fbff 1083px)"></i>
<i style="height:8px;background:linear-gradient(90deg,#f7fbff 0px,#f4f9fe 420px,#e7f1fa 456px,#bfd8ed 510px,#aacfe5 546px,#b3d3e8 570px,#e3eef8 618px,#eef5fc 633px,#f4f9fe 651px,#f7fbff 1083px)"></i>
<i style="height:8px;background:linear-gradient(90deg,#f7fbff 0px,#f5f9fe 417px,#e8f1fa 456px,#c7dcef 504px,#aed1e7 546px,#b4d3e9 567px,#eaf3fb 627px,#f5f9fe 654px,#f7fbff 1083px)"></i>
<i style="height:8px;background:linear-gradient(90deg,#f7fbff 0px,#f5fafe 411px,#eef5fc 444px,#c1d9ed 516px,#b2d2e8 546px,#bcd7eb 573px,#ebf3fb 627px,#f5fafe 660px,#f7fbff 1083px)"></i>
<i style="height:8px;background:linear-gradient(90deg,#f7fbff 0px,#f5f9fe 420px,#eef5fc 447px,#c2d9ee 519px,#b5d4e9 546px,#bdd7ec 570px,#eef5fc 630px,#f5fafe 657px,#f7fbff 1083px)"></i>
<i style="height:8px;background:linear-gradient(90deg,#f7fbff 0px,#f5fafe 414px,#edf4fc 450px,#c8dcf0 513px,#b9d6ea 546px,#c1d9ed 570px,#eaf3fb 624px,#f5fafe 657px,#f7fbff 1083px)"></i>
<i style="height:8px;background:linear-gradient(90deg,#f7fbff 0px,#f5fafe 414px,#ecf4fb 453px,#cddff1 507px,#bcd7eb 546px,#c9ddf0 579px,#f0f6fd 633px,#f5fafe 657px,#f7fbff 1083px)"></i>
<i style="height:8px;background:linear-gradient(90deg,#f7fbff 0px,#f5fafe 417px,#edf4fc 453px,#ccdff1 513px,#bfd8ed 546px,#cddff1 582px,#eff6fc 630px,#f5fafe 654px,#f7fbff 1083px)"></i>
<i style="height:8px;background:linear-gradient(90deg,#f7fbff 0px,#f5fafe 417px,#eef5fc 450px,#cfe1f2 510px,#c3daee 546px,#c9ddf0 570px,#e9f2fa 618px,#f5fafe 654px,#f7fbff 1083px)"></i>
<i style="height:8px;background:linear-gradient(90deg,#f7fbff 0px,#f5f9fe 426px,#ebf3fb 459px,#d2e3f3 507px,#c7dbef 546px,#cde0f1 576px,#eaf2fb 618px,#f5fafe 651px,#f7fbff 1083px)"></i>
<i style="height:8px;background:linear-gradient(90deg,#f7fbff 0px,#f6faff 411px,#eef5fc 453px,#d5e5f4 504px,#c9ddf0 546px,#cee0f2 573px,#eff6fc 627px,#f6faff 660px,#f7fbff 1083px)"></i>
<i style="height:8px;background:linear-gradient(90deg,#f7fbff 0px,#f6faff 411px,#f1f7fd 447px,#d4e4f4 510px,#cbdef1 546px,#d1e2f3 576px,#eef5fc 624px,#f6faff 657px,#f7fbff 1083px)"></i>
<i style="height:8px;background:linear-gradient(90deg,#f7fbff 0px,#f6faff 414px,#eef5fc 456px,#d5e5f4 513px,#cde0f1 546px,#d2e3f3 573px,#eef5fc 621px,#f6faff 657px,#f7fbff 1083px)"></i>
<i style="height:8px;background:linear-gradient(90deg,#f7fbff 0px,#f6faff 414px,#f1f7fd 450px,#d8e7f5 510px,#d0e1f2 546px,#d6e6f4 579px,#f1f7fd 627px,#f6faff 657px,#f7fbff 1083px)"></i>
<i style="height:8px;background:linear-gradient(90deg,#f7fbff 0px,#f6faff 417px,#eef5fc 459px,#d9e7f5 513px,#d2e3f3 546px,#d7e6f5 576px,#f0f6fd 624px,#f6faff 654px,#f7fbff 1083px)"></i>
<i style="height:8px;background:linear-gradient(90deg,#f7fbff 0px,#f6faff 417px,#eff6fc 459px,#ddeaf7 504px,#d4e4f4 546px,#d8e7f5 573px,#f2f7fd 627px,#f6faff 654px,#f7fbff 1083px)"></i>
<i style="height:8px;background:linear-gradient(90deg,#f7fbff 0px,#f6faff 420px,#d6e6f4 546px,#dbe9f6 576px,#f0f6fd 621px,#f6faff 651px,#f7fbff 1083px)"></i>
<i style="height:8px;background:linear-gradient(90deg,#f7fbff 0px,#f6faff 420px,#f3f8fe 447px,#d9e7f5 546px,#dfebf7 582px,#f2f7fd 624px,#f6faff 651px,#f7fbff 1083px)"></i>
<i style="height:8px;background:linear-gradient(90deg,#f7fbff 0px,#f6faff 423px,#dae8f6 546px,#dfecf7 579px,#f0f6fd 618px,#f6faff 648px,#f7fbff 1083px)"></i>
<i style="height:8px;background:linear-gradient(90deg,#f7fbff 0px,#f7fbff 408px,#f2f7fd 459px,#dceaf6 546px,#e3eef9 585px,#f4f9fe 630px,#f7fbff 663px,#f7fbff 1083px)"></i>
<i style="height:8px;background:linear-gradient(90deg,#f7fbff 0px,#f6faff 426px,#dfebf7 546px,#e3eef8 576px,#f3f8fe 624px,#f7fbff 660px,#f7fbff 1083px)"></i>
<i style="height:8px;background:linear-gradient(90deg,#f7fbff 0px,#f7fbff 411px,#f3f8fe 456px,#e1edf8 546px,#f7fbff 657px,#f7fbff 1083px)"></i>
<i style="height:8px;background:linear-gradient(90deg,#f7fbff 0px,#f7fbff 414px,#e3eef8 546px,#f7fbff 654px,#f7fbff 1083px)"></i>
<i style="height:8px;background:linear-gradient(90deg,#f7fbff 0px,#f7fbff 417px,#e4eff9 546px,#f7fbff 654px,#f7fbff 1083px)"></i>
<i style="height:8px;background:linear-gradient(90deg,#f7fbff 0px,#f7fbff 420px,#e7f0fa 543px,#f7fbff 651px,#f7fbff 1083px)"></i>
<i style="height:8px;background:linear-gradient(90deg,#f7fbff 0px,#f7fbff 423px,#e8f1fa 543px,#f7fbff 648px,#f7fbff 1083px)"></i>
<i style="height:8px;background:linear-gradient(90deg,#f7fbff 0px,#f7fbff 426px,#eaf2fb 543px,#f7fbff 645px,#f7fbff 1083px)"></i>
<i style="height:8px;background:linear-gradient(90deg,#f7fbff 0px,#f7fbff 429px,#ebf3fb 546px,#f7fbff 642px,#f7fbff 1083px)"></i>
<i style="height:8px;background:linear-gradient(90deg,#f7fbff 0px,#f7fbff 432px,#edf4fc 546px,#f7fbff 639px,#f7fbff 1083px)"></i>
<i style="height:8px;background:linear-gradient(90deg,#f7fbff 0px,#f7fbff 435px,#eef5fc 534px,#f7fbff 636px,#f7fbff 1083px)"></i>
<i style="height:8px;background:linear-gradient(90deg,#f7fbff 0px,#f7fbff 438px,#eff6fc 540px,#f7fbff 633px,#f7fbff 1083px)"></i>
<i style="height:8px;background:linear-gradient(90deg,#f7fbff 0px,#f7fbff 441px,#f0f6fd 546px,#f7fbff 633px,#f7fbff 1083px)"></i>
<i style="height:8px;background:linear-gradient(90deg,#f7fbff 0px,#f7fbff 447px,#f2f7fd 531px,#f7fbff 630px,#f7fbff 1083px)"></i>
<i style="height:8px;background:linear-gradient(90deg,#f7fbff 0px,#f7fbff 450px,#f2f8fd 537px,#f7fbff 627px,#f7fbff 1083px)"></i>
<i style="height:8px;background:linear-gradient(90deg,#f7fbff 0px,#f7fbff 456px,#f3f8fe 546px,#f7fbff 621px,#f7fbff 1083px)"></i>
<i style="height:8px;background:#f7fbff"></i>
<i style="height:8px;background:#f7fbff"></i>
<i style="height:8px;background:#f7fbff"></i>
<i style="height:8px;background:#f7fbff"></i>
<i style="height:8px;background:#f7fbff"></i>
<i style="height:8px;background:#f7fbff"></i>
<i style="height:7px;background:#f7fbff"></i>
</div>
<div class="hm" style="left:3627.5px;top:1237.7px;width:1083.0px;height:1763.0px">
<i style="height:4px;background:linear-gradient(90deg,#d8e7f5 0px,#d6e5f4 342px,#c6dbef 411px,#aed1e7 450px,#a0cbe2 483px,#97c6df 534px,#a1cbe2 585px,#cbdef1 669px,#d6e5f4 723px,#d8e7f5 1083px)"></i>
<i style="height:4px;background:linear-gradient(90deg,#d8e7f5 0px,#d6e5f4 351px,#c8dcf0 417px,#aacfe5 489px,#a5cde3 534px,#add0e6 585px,#c7dbef 642px,#d5e5f4 705px,#d8e7f5 1083px)"></i>
<i style="height:4px;background:linear-gradient(90deg,#d8e7f5 0px,#d6e6f4 354px,#cfe1f2 405px,#b5d4e9 489px,#b2d2e8 534px,#b4d3e9 567px,#d0e2f2 666px,#d6e6f4 711px,#d8e7f5 1083px)"></i>
<i style="height:4px;background:linear-gradient(90deg,#d8e7f5 0px,#d7e6f5 354px,#bdd7ec 534px,#d7e6f5 711px,#d8e7f5 1083px)"></i>
<i style="height:4px;background:linear-gradient(90deg,#d8e7f5 0px,#d7e6f5 363px,#c1d9ed 534px,#d7e6f5 702px,#d8e7f5 1083px)"></i>
<i style="height:4px;background:linear-gradient(90deg,#d8e7f5 0px,#d8e7f5 354px,#c4daee 534px,#d8e7f5 708px,#d8e7f5 1083px)"></i>
<i style="height:4px;background:linear-gradient(90deg,#d9e7f5 0px,#d8e7f5 366px,#c7dcef 516px,#caddf0 579px,#d8e7f5 699px,#d9e7f5 1083px)"></i>
<i style="height:4px;background:linear-gradient(90deg,#d9e7f5 0px,#d8e7f5 375px,#caddf0 513px,#cadef0 564px,#d8e7f5 687px,#d9e7f5 1083px)"></i>
<i style="height:4px;background:linear-gradient(90deg,#d9e7f5 0px,#d9e7f5 360px,#cbdef1 528px,#d9e7f5 702px,#d9e7f5 1083px)"></i>
<i style="height:4px;background:linear-gradient(90deg,#d9e7f5 0px,#d9e7f5 375px,#cde0f1 525px,#d9e7f5 690px,#d9e7f5 1083px)"></i>
<i style="height:4px;background:linear-gradient(90deg,#d9e7f5 0px,#d9e7f5 384px,#d0e1f2 516px,#d9e7f5 678px,#d9e7f5 1083px)"></i>
<i style="height:4px;background:linear-gradient(90deg,#d9e7f5 0px,#d9e7f5 396px,#d2e3f3 510px,#d9e7f5 669px,#d9e7f5 1083px)"></i>
<i style="height:4px;background:linear-gradient(90deg,#d9e8f5 0px,#d9e8f5 363px,#d4e4f4 507px,#d9e8f5 699px,#d9e8f5 1083px)"></i>
<i style="height:4px;background:linear-gradient(90deg,#d9e8f5 0px,#d6e5f4 507px,#d9e8f5 1083px)"></i>
<i style="height:6px;background:linear-gradient(90deg,#d9e8f5 0px,#d6e5f4 507px,#d9e8f5 1083px)"></i>
<i style="height:6px;background:linear-gradient(90deg,#d9e8f5 0px,#d9e8f5 411px,#d6e5f4 507px,#d9e8f5 1083px)"></i>
<i style="height:6px;background:linear-gradient(90deg,#dae8f6 0px,#dae8f6 363px,#d6e5f4 507px,#dae8f6 1083px)"></i>
<i style="height:6px;background:linear-gradient(90deg,#dae8f6 0px,#dae8f6 396px,#d6e5f4 507px,#dae8f6 669px,#dae8f6 1083px)"></i>
<i style="height:6px;background:linear-gradient(90deg,#dae8f6 0px,#dae8f6 408px,#d6e5f4 510px,#dae8f6 657px,#dae8f6 1083px)"></i>
<i style="height:6px;background:linear-gradient(90deg,#dae8f6 0px,#dae8f6 420px,#d6e5f4 534px,#dae8f6 645px,#dae8f6 1083px)"></i>
<i style="height:6px;background:linear-gradient(90deg,#dbe9f6 0px,#dbe9f6 411px,#d6e6f4 501px,#dbe9f6 654px,#dbe9f6 1083px)"></i>
<i style="height:6px;background:linear-gradient(90deg,#dce9f6 0px,#dce9f6 399px,#d6e6f4 534px,#dce9f6 666px,#dce9f6 1083px)"></i>
<i style="height:6px;background:linear-gradient(90deg,#dce9f6 0px,#dce9f6 423px,#d7e6f5 507px,#dce9f6 642px,#dce9f6 1083px)"></i>
<i style="height:6px;background:linear-gradient(90deg,#dceaf6 0px,#dceaf6 414px,#d7e6f5 534px,#dceaf6 651px,#dceaf6 1083px)"></i>
<i style="height:6px;background:linear-gradient(90deg,#ddeaf7 0px,#ddeaf7 405px,#d8e7f5 507px,#ddeaf7 660px,#ddeaf7 1083px)"></i>
<i style="height:6px;background:linear-gradient(90deg,#deebf7 0px,#deebf7 378px,#d8e7f5 534px,#deebf7 687px,#deebf7 1083px)"></i>
<i style="height:6px;background:linear-gradient(90deg,#deebf7 0px,#deebf7 417px,#d9e7f5 510px,#deebf7 645px,#deebf7 1083px)"></i>
<i style="height:6px;background:linear-gradient(90deg,#dfebf7 0px,#dfebf7 408px,#d9e7f5 528px,#dfebf7 654px,#dfebf7 1083px)"></i>
<i style="height:6px;background:linear-gradient(90deg,#dfecf7 0px,#dfecf7 390px,#d9e8f5 510px,#dfecf7 672px,#dfecf7 1083px)"></i>
<i style="height:6px;background:linear-gradient(90deg,#dfecf7 0px,#dfecf7 420px,#d9e8f5 507px,#dfecf7 645px,#dfecf7 1083px)"></i>
<i style="height:6px;background:linear-gradient(90deg,#e0ecf8 0px,#e0ecf8 411px,#d9e7f5 528px,#e0ecf8 654px,#e0ecf8 1083px)"></i>
<i style="height:6px;background:linear-gradient(90deg,#e1edf8 0px,#e1edf8 396px,#d9e7f5 534px,#e1edf8 669px,#e1edf8 1083px)"></i>
<i style="height:6px;background:linear-gradient(90deg,#e1edf8 0px,#e1edf8 417px,#d9e7f5 534px,#e1edf8 645px,#e1edf8 1083px)"></i>
<i style="height:6px;background:linear-gradient(90deg,#e2edf8 0px,#e2edf8 411px,#d9e7f5 534px,#e2edf8 654px,#e2edf8 1083px)"></i>
<i style="height:6px;background:linear-gradient(90deg,#e3eef8 0px,#e3eef8 402px,#d9e7f5 534px,#e3eef8 660px,#e3eef8 1083px)"></i>
<i style="height:6px;background:linear-gradient(90deg,#e3eef9 0px,#e3eef9 396px,#d9e7f5 534px,#e3eef9 669px,#e3eef9 1083px)"></i>
<i style="height:6px;background:linear-gradient(90deg,#e4eff9 0px,#e4eff9 387px,#d9e7f5 519px,#e4eff9 678px,#e4eff9 1083px)"></i>
<i style="height:6px;background:linear-gradient(90deg,#e5eff9 0px,#e4eff9 414px,#d9e7f5 534px,#e4eff9 648px,#e5eff9 1083px)"></i>
<i style="height:6px;background:linear-gradient(90deg,#e5eff9 0px,#e5eff9 411px,#d9e7f5 534px,#e5eff9 651px,#e5eff9 1083px)"></i>
<i style="height:6px;background:linear-gradient(90deg,#e6f0f9 0px,#e6f0f9 408px,#d9e7f5 522px,#e6f0f9 657px,#e6f0f9 1083px)"></i>
<i style="height:8px;background:linear-gradient(90deg,#e7f0fa 0px,#e7f0fa 408px,#d9e7f5 534px,#e7f0fa 657px,#e7f0fa 1083px)"></i>
<i style="height:8px;background:linear-gradient(90deg,#e7f1fa 0px,#e7f1fa 411px,#d9e8f5 531px,#e7f1fa 654px,#e7f1fa 1083px)"></i>
<i style="height:8px;background:linear-gradient(90deg,#e9f2fa 0px,#e8f1fa 414px,#dbe9f6 534px,#e8f1fa 651px,#e9f2fa 1083px)"></i>
<i style="height:8px;background:linear-gradient(90deg,#eaf2fb 0px,#eaf2fb 387px,#dce9f6 534px,#eaf2fb 678px,#eaf2fb 1083px)"></i>
<i style="height:8px;background:linear-gradient(90deg,#eaf3fb 0px,#eaf3fb 393px,#dceaf6 519px,#eaf3fb 672px,#eaf3fb 1083px)"></i>
<i style="height:8px;background:linear-gradient(90deg,#ebf3fb 0px,#ebf3fb 399px,#ddeaf7 522px,#ebf3fb 666px,#ebf3fb 1083px)"></i>
<i style="height:8px;background:linear-gradient(90deg,#ecf4fb 0px,#ecf4fb 402px,#deebf7 522px,#ecf4fb 663px,#ecf4fb 1083px)"></i>
<i style="height:8px;background:linear-gradient(90deg,#edf4fc 0px,#edf4fc 405px,#dfebf7 522px,#edf4fc 657px,#edf4fc 1083px)"></i>
<i style="height:8px;background:linear-gradient(90deg,#eef5fc 0px,#eef5fc 405px,#dfecf7 534px,#eef5fc 657px,#eef5fc 1083px)"></i>
<i style="height:8px;background:linear-gradient(90deg,#eef5fc 0px,#eef5fc 396px,#dfecf7 531px,#eef5fc 669px,#eef5fc 1083px)"></i>
<i style="height:8px;background:linear-gradient(90deg,#eff6fc 0px,#eef5fc 411px,#e0ecf8 534px,#eef5fc 651px,#eff6fc 1083px)"></i>
<i style="height:8px;background:linear-gradient(90deg,#eff6fc 0px,#eff6fc 405px,#e0ecf8 531px,#eff6fc 660px,#eff6fc 1083px)"></i>
<i style="height:8px;background:linear-gradient(90deg,#f0f6fd 0px,#f0f6fd 393px,#e1edf8 525px,#f0f6fd 669px,#f0f6fd 1083px)"></i>
<i style="height:8px;background:linear-gradient(90deg,#f0f6fd 0px,#f0f6fd 411px,#e2edf8 522px,#f0f6fd 651px,#f0f6fd 1083px)"></i>
<i style="height:8px;background:linear-gradient(90deg,#f1f7fd 0px,#f1f7fd 405px,#e2edf8 528px,#f1f7fd 660px,#f1f7fd 1083px)"></i>
<i style="height:8px;background:linear-gradient(90deg,#f2f7fd 0px,#f2f7fd 390px,#e3eef8 522px,#f2f7fd 675px,#f2f7fd 1083px)"></i>
<i style="height:8px;background:linear-gradient(90deg,#f2f7fd 0px,#f2f7fd 402px,#e3eef8 525px,#f2f7fd 663px,#f2f7fd 1083px)"></i>
<i style="height:8px;background:linear-gradient(90deg,#f2f7fd 0px,#f2f7fd 408px,#e3eef8 528px,#f2f7fd 657px,#f2f7fd 1083px)"></i>
<i style="height:8px;background:linear-gradient(90deg,#f2f8fd 0px,#f2f7fd 414px,#e3eef9 525px,#f2f7fd 651px,#f2f8fd 1083px)"></i>
<i style="height:8px;background:linear-gradient(90deg,#f2f8fd 0px,#f2f8fd 393px,#e4eff9 522px,#f2f8fd 669px,#f2f8fd 1083px)"></i>
<i style="height:8px;background:linear-gradient(90deg,#f2f8fd 0px,#f2f8fd 405px,#e4eff9 531px,#f2f8fd 660px,#f2f8fd 1083px)"></i>
<i style="height:8px;background:linear-gradient(90deg,#f2f8fd 0px,#f2f8fd 411px,#e5eff9 525px,#f2f8fd 654px,#f2f8fd 1083px)"></i>
<i style="height:8px;background:linear-gradient(90deg,#f3f8fe 0px,#f2f8fd 417px,#e6f0f9 534px,#f2f8fd 648px,#f3f8fe 1083px)"></i>
<i style="height:8px;background:linear-gradient(90deg,#f3f8fe 0px,#f3f8fe 399px,#e7f0fa 534px,#f3f8fe 666px,#f3f8fe 1083px)"></i>
<i style="height:8px;background:linear-gradient(90deg,#f3f8fe 0px,#f3f8fe 408px,#e7f0fa 534px,#f3f8fe 657px,#f3f8fe 1083px)"></i>
<i style="height:8px;background:linear-gradient(90deg,#f3f8fe 0px,#f3f8fe 414px,#e7f1fa 534px,#f3f8fe 651px,#f3f8fe 1083px)"></i>
<i style="height:8px;background:linear-gradient(90deg,#f4f9fe 0px,#f4f9fe 390px,#e8f1fa 534px,#f4f9fe 675px,#f4f9fe 1083px)"></i>
<i style="height:8px;background:linear-gradient(90deg,#f4f9fe 0px,#f4f9fe 402px,#e9f2fa 534px,#f4f9fe 660px,#f4f9fe 1083px)"></i>
<i style="height:8px;background:linear-gradient(90deg,#f4f9fe 0px,#f4f9fe 411px,#e9f2fa 534px,#f4f9fe 651px,#f4f9fe 1083px)"></i>
<i style="height:8px;background:linear-gradient(90deg,#f4f9fe 0px,#f4f9fe 417px,#eaf2fb 534px,#f4f9fe 645px,#f4f9fe 1083px)"></i>
<i style="height:8px;background:linear-gradient(90deg,#f5f9fe 0px,#f5f9fe 390px,#eaf3fb 534px,#f5f9fe 672px,#f5f9fe 1083px)"></i>
<i style="height:8px;background:linear-gradient(90deg,#f5f9fe 0px,#f5f9fe 402px,#eaf3fb 534px,#f5f9fe 663px,#f5f9fe 1083px)"></i>
<i style="height:8px;background:linear-gradient(90deg,#f5f9fe 0px,#f5f9fe 408px,#ebf3fb 534px,#f5f9fe 657px,#f5f9fe 1083px)"></i>
<i style="height:8px;background:linear-gradient(90deg,#f5f9fe 0px,#f5f9fe 414px,#ebf3fb 534px,#f5f9fe 651px,#f5f9fe 1083px)"></i>
<i style="height:8px;background:linear-gradient(90deg,#f5f9fe 0px,#f5f9fe 417px,#ecf4fb 534px,#f5f9fe 645px,#f5f9fe 1083px)"></i>
<i style="height:8px;background:linear-gradient(90deg,#f5f9fe 0px,#f5f9fe 423px,#edf4fc 513px,#f5f9fe 642px,#f5f9fe 1083px)"></i>
<i style="height:8px;background:linear-gradient(90deg,#f5fafe 0px,#f5fafe 390px,#edf4fc 522px,#f5fafe 675px,#f5fafe 1083px)"></i>
<i style="height:8px;background:linear-gradient(90deg,#f5fafe 0px,#f5fafe 402px,#eef5fc 513px,#f5fafe 663px,#f5fafe 1083px)"></i>
<i style="height:8px;background:linear-gradient(90deg,#f5fafe 0px,#f5fafe 411px,#eef5fc 525px,#f5fafe 654px,#f5fafe 1083px)"></i>
<i style="height:8px;background:linear-gradient(90deg,#f5fafe 0px,#f5fafe 417px,#eef5fc 516px,#f5fafe 648px,#f5fafe 1083px)"></i>
<i style="height:8px;background:linear-gradient(90deg,#f5fafe 0px,#f5fafe 420px,#eef5fc 525px,#f5fafe 642px,#f5fafe 1083px)"></i>
<i style="height:8px;background:linear-gradient(90deg,#f5fafe 0px,#f5fafe 426px,#eff6fc 516px,#f5fafe 639px,#f5fafe 1083px)"></i>
<i style="height:8px;background:linear-gradient(90deg,#f6faff 0px,#f6faff 390px,#eff6fc 534px,#f6faff 675px,#f6faff 1083px)"></i>
<i style="height:8px;background:linear-gradient(90deg,#f6faff 0px,#f6faff 405px,#f0f6fd 534px,#f6faff 660px,#f6faff 1083px)"></i>
<i style="height:8px;background:linear-gradient(90deg,#f6faff 0px,#f6faff 411px,#f0f6fd 534px,#f6faff 654px,#f6faff 1083px)"></i>
<i style="height:8px;background:linear-gradient(90deg,#f6faff 0px,#f6faff 414px,#f1f7fd 510px,#f6faff 651px,#f6faff 1083px)"></i>
<i style="height:8px;background:linear-gradient(90deg,#f6faff 0px,#f6faff 417px,#f1f7fd 513px,#f6faff 648px,#f6faff 1083px)"></i>
<i style="height:8px;background:linear-gradient(90deg,#f6faff 0px,#f6faff 420px,#f1f7fd 534px,#f6faff 645px,#f6faff 1083px)"></i>
<i style="height:8px;background:linear-gradient(90deg,#f6faff 0px,#f6faff 423px,#f1f7fd 534px,#f6faff 642px,#f6faff 1083px)"></i>
<i style="height:8px;background:linear-gradient(90deg,#f6faff 0px,#f6faff 426px,#f2f7fd 510px,#f6faff 639px,#f6faff 1083px)"></i>
<i style="height:8px;background:linear-gradient(90deg,#f6faff 0px,#f6faff 426px,#f2f7fd 534px,#f6faff 636px,#f6faff 1083px)"></i>
<i style="height:8px;background:linear-gradient(90deg,#f6faff 0px,#f6faff 429px,#f2f7fd 534px,#f6faff 633px,#f6faff 1083px)"></i>
<i style="height:8px;background:linear-gradient(90deg,#f6faff 0px,#f6faff 432px,#f2f8fd 504px,#f6faff 633px,#f6faff 1083px)"></i>
<i style="height:8px;background:linear-gradient(90deg,#f6faff 0px,#f6faff 435px,#f2f8fd 510px,#f6faff 630px,#f6faff 1083px)"></i>
<i style="height:8px;background:linear-gradient(90deg,#f6faff 0px,#f6faff 438px,#f2f8fd 534px,#f6faff 627px,#f6faff 1083px)"></i>
<i style="height:8px;background:linear-gradient(90deg,#f7fbff 0px,#f7fbff 363px,#f2f8fd 525px,#f7fbff 702px,#f7fbff 1083px)"></i>
<i style="height:8px;background:linear-gradient(90deg,#f7fbff 0px,#f3f8fe 513px,#f7fbff 1083px)"></i>
<i style="height:8px;background:linear-gradient(90deg,#f7fbff 0px,#f7fbff 402px,#f3f8fe 513px,#f7fbff 1083px)"></i>
<i style="height:8px;background:linear-gradient(90deg,#f7fbff 0px,#f7fbff 408px,#f3f8fe 516px,#f7fbff 1083px)"></i>
<i style="height:8px;background:linear-gradient(90deg,#f7fbff 0px,#f7fbff 414px,#f3f8fe 528px,#f7fbff 651px,#f7fbff 1083px)"></i>
<i style="height:8px;background:linear-gradient(90deg,#f7fbff 0px,#f4f9fe 513px,#f7fbff 1083px)"></i>
<i style="height:8px;background:linear-gradient(90deg,#f7fbff 0px,#f4f9fe 513px,#f7fbff 1083px)"></i>
<i style="height:8px;background:linear-gradient(90deg,#f7fbff 0px,#f4f9fe 513px,#f7fbff 1083px)"></i>
<i style="height:8px;background:linear-gradient(90deg,#f7fbff 0px,#f4f9fe 519px,#f7fbff 1083px)"></i>
<i style="height:8px;background:linear-gradient(90deg,#f7fbff 0px,#f4f9fe 525px,#f7fbff 1083px)"></i>
<i style="height:8px;background:#f7fbff"></i>
<i style="height:8px;background:#f7fbff"></i>
<i style="height:8px;background:#f7fbff"></i>
<i style="height:8px;background:#f7fbff"></i>
<i style="height:8px;background:#f7fbff"></i>
<i style="height:8px;background:#f7fbff"></i>
<i style="height:8px;background:#f7fbff"></i>
<i style="height:8px;background:#f7fbff"></i>
<i style="height:8px;background:#f7fbff"></i>
<i style="height:8px;background:#f7fbff"></i>
<i style="height:8px;background:#f7fbff"></i>
<i style="height:8px;background:#f7fbff"></i>
<i style="height:8px;background:#f7fbff"></i>
<i style="height:8px;background:#f7fbff"></i>
<i style="height:8px;background:#f7fbff"></i>
<i style="height:8px;background:#f7fbff"></i>
<i style="height:8px;background:#f7fbff"></i>
<i style="height:8px;background:#f7fbff"></i>
<i style="height:8px;background:#f7fbff"></i>
<i style="height:8px;background:#f7fbff"></i>
<i style="height:8px;background:#f7fbff"></i>
<i style="height:8px;background:#f7fbff"></i>
<i style="height:8px;background:#f7fbff"></i>
<i style="height:8px;background:#f7fbff"></i>
<i style="height:8px;background:#f7fbff"></i>
<i style="height:8px;background:#f7fbff"></i>
<i style="height:8px;background:#f7fbff"></i>
<i style="height:8px;background:#f7fbff"></i>
<i style="height:8px;background:#f7fbff"></i>
<i style="height:8px;background:#f7fbff"></i>
<i style="height:8px;background:#f7fbff"></i>
<i style="height:8px;background:#f7fbff"></i>
<i style="height:8px;background:#f7fbff"></i>
<i style="height:8px;background:#f7fbff"></i>
<i style="height:8px;background:#f7fbff"></i>
<i style="height:8px;background:#f7fbff"></i>
<i style="height:8px;background:#f7fbff"></i>
<i style="height:8px;background:#f7fbff"></i>
<i style="height:8px;background:#f7fbff"></i>
<i style="height:8px;background:#f7fbff"></i>
<i style="height:8px;background:#f7fbff"></i>
<i style="height:8px;background:#f7fbff"></i>
<i style="height:8px;background:#f7fbff"></i>
<i style="height:8px;background:#f7fbff"></i>
<i style="height:8px;background:#f7fbff"></i>
<i style="height:8px;background:#f7fbff"></i>
<i style="height:8px;background:#f7fbff"></i>
<i style="height:8px;background:#f7fbff"></i>
<i style="height:8px;background:#f7fbff"></i>
<i style="height:8px;background:#f7fbff"></i>
<i style="height:8px;background:#f7fbff"></i>
<i style="height:8px;background:#f7fbff"></i>
<i style="height:8px;background:#f7fbff"></i>
<i style="height:8px;background:#f7fbff"></i>
<i style="height:8px;background:#f7fbff"></i>
<i style="height:8px;background:#f7fbff"></i>
<i style="height:8px;background:#f7fbff"></i>
<i style="height:8px;background:#f7fbff"></i>
<i style="height:8px;background:#f7fbff"></i>
<i style="height:8px;background:#f7fbff"></i>
<i style="height:8px;background:#f7fbff"></i>
<i style="height:8px;background:#f7fbff"></i>
<i style="height:8px;background:#f7fbff"></i>
<i style="height:8px;background:#f7fbff"></i>
<i style="height:8px;background:#f7fbff"></i>
<i style="height:8px;background:#f7fbff"></i>
<i style="height:8px;background:#f7fbff"></i>
<i style="height:8px;background:#f7fbff"></i>
<i style="height:8px;background:#f7fbff"></i>
<i style="height:8px;background:#f7fbff"></i>
<i style="height:8px;background:#f7fbff"></i>
<i style="height:8px;background:#f7fbff"></i>
<i style="height:8px;background:#f7fbff"></i>
<i style="height:8px;background:#f7fbff"></i>
<i style="height:8px;background:#f7fbff"></i>
<i style="height:8px;background:#f7fbff"></i>
<i style="height:8px;background:#f7fbff"></i>
<i style="height:8px;background:#f7fbff"></i>
<i style="height:8px;background:#f7fbff"></i>
<i style="height:8px;background:#f7fbff"></i>
<i style="height:8px;background:#f7fbff"></i>
<i style="height:8px;background:#f7fbff"></i>
<i style="height:8px;background:#f7fbff"></i>
<i style="height:8px;background:#f7fbff"></i>
<i style="height:8px;background:#f7fbff"></i>
<i style="height:8px;background:#f7fbff"></i>
<i style="height:8px;background:#f7fbff"></i>
<i style="height:8px;background:#f7fbff"></i>
<i style="height:8px;background:#f7fbff"></i>
<i style="height:8px;background:#f7fbff"></i>
<i style="height:8px;background:#f7fbff"></i>
<i style="height:8px;background:#f7fbff"></i>
<i style="height:8px;background:#f7fbff"></i>
<i style="height:8px;background:#f7fbff"></i>
<i style="height:8px;background:#f7fbff"></i>
<i style="height:8px;background:#f7fbff"></i>
<i style="height:8px;background:#f7fbff"></i>
<i style="height:8px;background:#f7fbff"></i>
<i style="height:8px;background:#f7fbff"></i>
<i style="height:8px;background:#f7fbff"></i>
<i style="height:8px;background:#f7fbff"></i>
<i style="height:8px;background:#f7fbff"></i>
<i style="height:8px;background:#f7fbff"></i>
<i style="height:8px;background:#f7fbff"></i>
<i style="height:8px;background:#f7fbff"></i>
<i style="height:8px;background:#f7fbff"></i>
<i style="height:8px;background:#f7fbff"></i>
<i style="height:8px;background:#f7fbff"></i>
<i style="height:8px;background:#f7fbff"></i>
<i style="height:8px;background:#f7fbff"></i>
<i style="height:8px;background:#f7fbff"></i>
<i style="height:8px;background:#f7fbff"></i>
<i style="height:8px;background:#f7fbff"></i>
<i style="height:8px;background:#f7fbff"></i>
<i style="height:8px;background:#f7fbff"></i>
<i style="height:8px;background:#f7fbff"></i>
<i style="height:8px;background:#f7fbff"></i>
<i style="height:8px;background:#f7fbff"></i>
<i style="height:8px;background:#f7fbff"></i>
<i style="height:8px;background:#f7fbff"></i>
<i style="height:8px;background:#f7fbff"></i>
<i style="height:8px;background:#f7fbff"></i>
<i style="height:8px;background:#f7fbff"></i>
<i style="height:8px;background:#f7fbff"></i>
<i style="height:8px;background:#f7fbff"></i>
<i style="height:8px;background:#f7fbff"></i>
<i style="height:8px;background:#f7fbff"></i>
<i style="height:8px;background:#f7fbff"></i>
<i style="height:7px;background:#f7fbff"></i>
</div>
<svg class="nz" style="left:116.0px;top:1237.7px" width="1083" height="1763"><defs><filter id="nf0" x="0" y="0" width="100%" height="100%" color-interpolation-filters="sRGB"><feTurbulence type="fractalNoise" baseFrequency="0.0006 0.45" numOctaves="1" seed="3"/><feColorMatrix type="matrix" values="1 0 0 0 0 1 0 0 0 0 1 0 0 0 0 0 0 0 0 1"/></filter><linearGradient id="mg0" x1="0" y1="0" x2="0" y2="1"><stop offset="0.000" stop-color="#fff" stop-opacity="0.600"/><stop offset="0.100" stop-color="#fff" stop-opacity="0.450"/><stop offset="0.400" stop-color="#fff" stop-opacity="0.380"/><stop offset="0.650" stop-color="#fff" stop-opacity="0.300"/><stop offset="0.800" stop-color="#fff" stop-opacity="0.120"/><stop offset="1.000" stop-color="#fff" stop-opacity="0.040"/></linearGradient><mask id="mk0"><rect width="100%" height="100%" fill="url(#mg0)"/></mask></defs><g mask="url(#mk0)"><rect width="100%" height="100%" filter="url(#nf0)"/></g></svg>
<svg class="nz" style="left:1286.5px;top:1237.7px" width="1083" height="1763"><defs><filter id="nf1" x="0" y="0" width="100%" height="100%" color-interpolation-filters="sRGB"><feTurbulence type="fractalNoise" baseFrequency="0.0006 0.45" numOctaves="1" seed="7"/><feColorMatrix type="matrix" values="1 0 0 0 0 1 0 0 0 0 1 0 0 0 0 0 0 0 0 1"/></filter><linearGradient id="mg1" x1="0" y1="0" x2="0" y2="1"><stop offset="0.000" stop-color="#fff" stop-opacity="0.600"/><stop offset="0.100" stop-color="#fff" stop-opacity="0.450"/><stop offset="0.500" stop-color="#fff" stop-opacity="0.380"/><stop offset="0.850" stop-color="#fff" stop-opacity="0.300"/><stop offset="0.950" stop-color="#fff" stop-opacity="0.120"/><stop offset="1.000" stop-color="#fff" stop-opacity="0.040"/></linearGradient><mask id="mk1"><rect width="100%" height="100%" fill="url(#mg1)"/></mask></defs><g mask="url(#mk1)"><rect width="100%" height="100%" filter="url(#nf1)"/></g></svg>
<svg class="nz" style="left:2457.0px;top:1237.7px" width="1083" height="1763"><defs><filter id="nf2" x="0" y="0" width="100%" height="100%" color-interpolation-filters="sRGB"><feTurbulence type="fractalNoise" baseFrequency="0.0006 0.45" numOctaves="1" seed="11"/><feColorMatrix type="matrix" values="1 0 0 0 0 1 0 0 0 0 1 0 0 0 0 0 0 0 0 1"/></filter><linearGradient id="mg2" x1="0" y1="0" x2="0" y2="1"><stop offset="0.000" stop-color="#fff" stop-opacity="0.600"/><stop offset="0.100" stop-color="#fff" stop-opacity="0.450"/><stop offset="0.500" stop-color="#fff" stop-opacity="0.380"/><stop offset="0.850" stop-color="#fff" stop-opacity="0.300"/><stop offset="0.950" stop-color="#fff" stop-opacity="0.120"/><stop offset="1.000" stop-color="#fff" stop-opacity="0.040"/></linearGradient><mask id="mk2"><rect width="100%" height="100%" fill="url(#mg2)"/></mask></defs><g mask="url(#mk2)"><rect width="100%" height="100%" filter="url(#nf2)"/></g></svg>
<svg class="nz" style="left:3627.5px;top:1237.7px" width="1083" height="1763"><defs><filter id="nf3" x="0" y="0" width="100%" height="100%" color-interpolation-filters="sRGB"><feTurbulence type="fractalNoise" baseFrequency="0.0022 0.45" numOctaves="2" seed="5"/><feColorMatrix type="matrix" values="3.2 0 0 0 -0.98 3.2 0 0 0 -0.98 3.2 0 0 0 -0.98 0 0 0 0 1"/><feComponentTransfer><feFuncR type="table" tableValues="0 .5 .5"/><feFuncG type="table" tableValues="0 .5 .5"/><feFuncB type="table" tableValues="0 .5 .5"/></feComponentTransfer></filter><linearGradient id="mg3" x1="0" y1="0" x2="0" y2="1"><stop offset="0.000" stop-color="#fff" stop-opacity="0.900"/><stop offset="0.200" stop-color="#fff" stop-opacity="0.800"/><stop offset="0.350" stop-color="#fff" stop-opacity="0.500"/><stop offset="0.500" stop-color="#fff" stop-opacity="0.250"/><stop offset="0.700" stop-color="#fff" stop-opacity="0.080"/><stop offset="1.000" stop-color="#fff" stop-opacity="0.000"/></linearGradient><mask id="mk3"><rect width="100%" height="100%" fill="url(#mg3)"/></mask></defs><g mask="url(#mk3)"><rect width="100%" height="100%" filter="url(#nf3)"/></g></svg>
<div class="cb" style="left:4798.0px;top:1237.7px;width:27.2px;height:1763.0px;background:linear-gradient(180deg,#08306b 0.00%,#083471 1.59%,#083877 3.17%,#083c7d 4.76%,#084184 6.35%,#08458a 7.94%,#084990 9.52%,#084d96 11.11%,#08519c 12.70%,#0b559f 14.29%,#0e59a2 15.87%,#125da6 17.46%,#1561a9 19.05%,#1865ac 20.63%,#1b69af 22.22%,#1f6eb3 23.81%,#2272b6 25.40%,#2676b8 26.98%,#2b7bba 28.57%,#2f7fbc 30.16%,#3383be 31.75%,#3787c0 33.33%,#3b8bc2 34.92%,#3f8fc5 36.51%,#4493c7 38.10%,#4997c9 39.68%,#4e9acb 41.27%,#539ecd 42.86%,#58a1cf 44.44%,#5da5d1 46.03%,#63a8d3 47.62%,#68acd5 49.21%,#6fb0d7 50.79%,#75b4d8 52.38%,#7cb7da 53.97%,#82bbdb 55.56%,#89bedc 57.14%,#8fc2de 58.73%,#95c5df 60.32%,#9cc9e1 61.90%,#a1cbe2 63.49%,#a6cee4 65.08%,#abd0e6 66.67%,#b0d2e7 68.25%,#b5d4e9 69.84%,#bad6eb 71.43%,#bfd8ed 73.02%,#c4daee 74.60%,#c8dcf0 76.19%,#ccdff1 77.78%,#cfe1f2 79.37%,#d2e3f3 80.95%,#d5e5f4 82.54%,#d8e7f5 84.13%,#dbe9f6 85.71%,#deebf7 87.30%,#e1edf8 88.89%,#e4eff9 90.48%,#e7f1fa 92.06%,#eaf3fb 93.65%,#eef5fc 95.24%,#f1f7fd 96.83%,#f4f9fe 98.41%,#f7fbff 100.00%)"></div>
<svg width="4906" height="3098" viewBox="0 0 4906 3098">
<g fill="none" stroke="#19198c" stroke-width="4.2" stroke-linejoin="round" stroke-linecap="butt">
<clipPath id="c0"><rect x="116.0" y="57.0" width="1083.0" height="1007.0"/></clipPath>
<path clip-path="url(#c0)" d="M116.0 1011.3 L126.9 1010.9 L137.8 1010.4 L148.7 1010.0 L159.6 1009.6 L170.5 1009.1 L181.5 1008.7 L192.4 1008.3 L203.3 1007.9 L214.2 1007.5 L225.1 1007.1 L236.0 1006.6 L246.9 1006.2 L257.8 1005.8 L268.7 1005.4 L279.6 1005.0 L290.5 1004.6 L301.5 1004.3 L312.4 1003.9 L323.3 1003.6 L334.2 1003.4 L345.1 1003.1 L356.0 1002.7 L366.9 1002.3 L377.8 1001.9 L388.7 1001.3 L399.6 1000.6 L410.5 999.2 L421.5 997.2 L432.4 995.1 L443.3 992.7 L454.2 990.0 L465.1 986.8 L476.0 982.8 L486.9 978.0 L497.8 972.2 L508.7 964.8 L519.6 954.7 L530.5 939.2 L541.5 917.2 L552.4 887.4 L563.3 846.3 L574.2 795.6 L585.1 740.8 L596.0 682.1 L606.9 628.1 L617.8 580.4 L628.7 539.2 L639.6 505.9 L650.5 487.8 L661.5 485.0 L672.4 497.6 L683.3 530.2 L694.2 574.4 L705.1 627.1 L716.0 681.7 L726.9 736.1 L737.8 784.5 L748.7 832.3 L759.6 873.6 L770.5 904.6 L781.4 928.2 L792.4 948.9 L803.3 963.5 L814.2 972.4 L825.1 979.3 L836.0 984.4 L846.9 988.5 L857.8 991.6 L868.7 993.8 L879.6 995.8 L890.5 997.6 L901.4 999.0 L912.4 1000.0 L923.3 1000.8 L934.2 1001.4 L945.1 1001.9 L956.0 1002.4 L966.9 1002.8 L977.8 1003.2 L988.7 1003.6 L999.6 1003.9 L1010.5 1004.3 L1021.4 1004.6 L1032.4 1005.0 L1043.3 1005.3 L1054.2 1005.6 L1065.1 1005.9 L1076.0 1006.2 L1086.9 1006.5 L1097.8 1006.9 L1108.7 1007.2 L1119.6 1007.6 L1130.5 1008.1 L1141.4 1008.6 L1152.4 1009.1 L1163.3 1009.6 L1174.2 1010.1 L1185.1 1010.7 L1196.0 1011.3"/>
<clipPath id="c1"><rect x="1286.5" y="57.0" width="1083.0" height="1007.0"/></clipPath>
<path clip-path="url(#c1)" d="M1286.5 1018.3 L1297.4 1018.1 L1308.3 1018.0 L1319.2 1017.8 L1330.1 1017.6 L1341.0 1017.3 L1352.0 1017.1 L1362.9 1016.9 L1373.8 1016.6 L1384.7 1016.3 L1395.6 1016.0 L1406.5 1015.7 L1417.4 1015.4 L1428.3 1015.0 L1439.2 1014.6 L1450.1 1014.2 L1461.0 1013.7 L1472.0 1013.2 L1482.9 1012.7 L1493.8 1012.1 L1504.7 1011.4 L1515.6 1010.7 L1526.5 1009.9 L1537.4 1009.0 L1548.3 1008.0 L1559.2 1006.9 L1570.1 1005.6 L1581.0 1004.1 L1592.0 1002.0 L1602.9 999.3 L1613.8 996.2 L1624.7 992.3 L1635.6 987.4 L1646.5 981.7 L1657.4 974.7 L1668.3 965.4 L1679.2 953.1 L1690.1 933.2 L1701.0 905.6 L1712.0 864.9 L1722.9 813.7 L1733.8 745.0 L1744.7 648.3 L1755.6 553.7 L1766.5 457.4 L1777.4 362.0 L1788.3 273.8 L1799.2 196.1 L1810.1 134.8 L1821.0 104.4 L1832.0 102.1 L1842.9 127.7 L1853.8 194.0 L1864.7 280.8 L1875.6 376.8 L1886.5 471.8 L1897.4 562.6 L1908.3 657.7 L1919.2 738.7 L1930.1 804.5 L1941.0 857.9 L1951.9 899.0 L1962.9 930.6 L1973.8 953.3 L1984.7 967.1 L1995.6 977.1 L2006.5 984.6 L2017.4 990.5 L2028.3 995.3 L2039.2 998.9 L2050.1 1001.6 L2061.0 1003.9 L2071.9 1005.8 L2082.9 1007.3 L2093.8 1008.6 L2104.7 1009.6 L2115.6 1010.3 L2126.5 1011.0 L2137.4 1011.5 L2148.3 1012.1 L2159.2 1012.6 L2170.1 1013.1 L2181.0 1013.6 L2191.9 1013.9 L2202.9 1014.2 L2213.8 1014.5 L2224.7 1014.7 L2235.6 1014.9 L2246.5 1015.2 L2257.4 1015.4 L2268.3 1015.7 L2279.2 1015.9 L2290.1 1016.2 L2301.0 1016.4 L2311.9 1016.7 L2322.9 1016.9 L2333.8 1017.2 L2344.7 1017.4 L2355.6 1017.7 L2366.5 1017.9"/>
<clipPath id="c2"><rect x="2457.0" y="57.0" width="1083.0" height="1007.0"/></clipPath>
<path clip-path="url(#c2)" d="M2457.0 1017.1 L2467.9 1016.9 L2478.8 1016.7 L2489.7 1016.5 L2500.6 1016.2 L2511.5 1016.0 L2522.5 1015.7 L2533.4 1015.3 L2544.3 1015.0 L2555.2 1014.7 L2566.1 1014.2 L2577.0 1013.8 L2587.9 1013.3 L2598.8 1012.8 L2609.7 1012.3 L2620.6 1011.7 L2631.5 1011.1 L2642.5 1010.6 L2653.4 1010.0 L2664.3 1009.4 L2675.2 1008.7 L2686.1 1008.0 L2697.0 1007.0 L2707.9 1005.9 L2718.8 1004.6 L2729.7 1003.1 L2740.6 1001.3 L2751.5 999.2 L2762.5 996.6 L2773.4 993.5 L2784.3 990.0 L2795.2 986.1 L2806.1 981.0 L2817.0 973.9 L2827.9 965.5 L2838.8 955.5 L2849.7 943.0 L2860.6 923.5 L2871.5 897.4 L2882.5 860.9 L2893.4 811.1 L2904.3 744.9 L2915.2 654.2 L2926.1 570.3 L2937.0 472.3 L2947.9 383.7 L2958.8 305.7 L2969.7 239.0 L2980.6 177.0 L2991.5 147.0 L3002.4 142.1 L3013.4 161.6 L3024.3 215.6 L3035.2 295.7 L3046.1 388.2 L3057.0 477.5 L3067.9 554.5 L3078.8 654.3 L3089.7 730.4 L3100.6 787.9 L3111.5 841.2 L3122.4 882.1 L3133.4 914.8 L3144.3 937.6 L3155.2 953.7 L3166.1 965.7 L3177.0 975.3 L3187.9 982.9 L3198.8 988.9 L3209.7 993.2 L3220.6 996.4 L3231.5 999.1 L3242.4 1001.2 L3253.4 1003.0 L3264.3 1004.5 L3275.2 1005.6 L3286.1 1006.5 L3297.0 1007.3 L3307.9 1008.0 L3318.8 1008.7 L3329.7 1009.5 L3340.6 1010.3 L3351.5 1010.9 L3362.4 1011.4 L3373.4 1011.9 L3384.3 1012.3 L3395.2 1012.7 L3406.1 1013.0 L3417.0 1013.4 L3427.9 1013.7 L3438.8 1014.0 L3449.7 1014.4 L3460.6 1014.7 L3471.5 1015.1 L3482.4 1015.4 L3493.4 1015.7 L3504.3 1016.0 L3515.2 1016.4 L3526.1 1016.7 L3537.0 1017.0"/>
<clipPath id="c3"><rect x="3627.5" y="57.0" width="1083.0" height="1007.0"/></clipPath>
<path clip-path="url(#c3)" d="M3627.5 1003.1 L3638.4 1001.6 L3649.3 1000.1 L3660.2 999.0 L3671.1 998.0 L3682.0 997.2 L3693.0 996.5 L3703.9 996.1 L3714.8 995.6 L3725.7 995.3 L3736.6 995.1 L3747.5 995.1 L3758.4 995.1 L3769.3 995.2 L3780.2 995.4 L3791.1 995.5 L3802.0 995.7 L3813.0 995.9 L3823.9 996.2 L3834.8 996.4 L3845.7 996.6 L3856.6 996.9 L3867.5 997.1 L3878.4 997.3 L3889.3 997.5 L3900.2 997.6 L3911.1 997.8 L3922.0 997.9 L3933.0 997.9 L3943.9 997.8 L3954.8 997.7 L3965.7 997.6 L3976.6 997.4 L3987.5 997.2 L3998.4 996.8 L4009.3 996.4 L4020.2 995.8 L4031.1 995.0 L4042.0 993.9 L4053.0 992.6 L4063.9 990.7 L4074.8 988.6 L4085.7 986.1 L4096.6 983.3 L4107.5 980.5 L4118.4 977.6 L4129.3 974.8 L4140.2 972.2 L4151.1 970.2 L4162.0 969.0 L4172.9 969.6 L4183.9 971.1 L4194.8 974.1 L4205.7 977.4 L4216.6 980.7 L4227.5 984.0 L4238.4 987.1 L4249.3 990.0 L4260.2 992.7 L4271.1 995.0 L4282.0 996.7 L4292.9 997.9 L4303.9 998.9 L4314.8 999.5 L4325.7 1000.1 L4336.6 1000.5 L4347.5 1000.7 L4358.4 1000.7 L4369.3 1000.6 L4380.2 1000.4 L4391.1 1000.1 L4402.0 999.8 L4412.9 999.6 L4423.9 999.3 L4434.8 998.9 L4445.7 998.6 L4456.6 998.2 L4467.5 997.8 L4478.4 997.3 L4489.3 996.8 L4500.2 996.4 L4511.1 996.0 L4522.0 995.6 L4532.9 995.2 L4543.9 995.1 L4554.8 995.0 L4565.7 995.0 L4576.6 995.0 L4587.5 995.1 L4598.4 995.3 L4609.3 995.5 L4620.2 996.0 L4631.1 996.7 L4642.0 997.4 L4652.9 998.3 L4663.9 999.2 L4674.8 1000.3 L4685.7 1001.3 L4696.6 1002.4 L4707.5 1003.6"/>
</g>
<g fill="none" stroke="#000" stroke-width="2.2" stroke-linecap="butt">
<rect x="116.0" y="57.0" width="1083.0" height="1007.0"/>
<rect x="116.0" y="1237.7" width="1083.0" height="1763.0"/>
<rect x="1286.5" y="57.0" width="1083.0" height="1007.0"/>
<rect x="1286.5" y="1237.7" width="1083.0" height="1763.0"/>
<rect x="2457.0" y="57.0" width="1083.0" height="1007.0"/>
<rect x="2457.0" y="1237.7" width="1083.0" height="1763.0"/>
<rect x="3627.5" y="57.0" width="1083.0" height="1007.0"/>
<rect x="3627.5" y="1237.7" width="1083.0" height="1763.0"/>
<rect x="4798.0" y="1237.7" width="27.2" height="1763.0"/>
<path d="M116.0 1026.7h-10M116.0 896.9h-10M116.0 767.1h-10M116.0 637.2h-10M116.0 507.4h-10M116.0 377.6h-10M116.0 247.8h-10M116.0 118.0h-10M121.8 1064.0v10M655.0 1064.0v10M1199.0 1064.0v10M121.8 3000.7v10M652.0 3000.7v10M1194.4 3000.7v10M1286.5 1026.7h-10M1286.5 896.9h-10M1286.5 767.1h-10M1286.5 637.2h-10M1286.5 507.4h-10M1286.5 377.6h-10M1286.5 247.8h-10M1286.5 118.0h-10M1292.3 1064.0v10M1825.5 1064.0v10M2369.5 1064.0v10M1292.3 3000.7v10M1822.5 3000.7v10M2364.9 3000.7v10M2457.0 1026.7h-10M2457.0 896.9h-10M2457.0 767.1h-10M2457.0 637.2h-10M2457.0 507.4h-10M2457.0 377.6h-10M2457.0 247.8h-10M2457.0 118.0h-10M2462.8 1064.0v10M2996.0 1064.0v10M3540.0 1064.0v10M2462.8 3000.7v10M2993.0 3000.7v10M3535.4 3000.7v10M3627.5 1026.7h-10M3627.5 896.9h-10M3627.5 767.1h-10M3627.5 637.2h-10M3627.5 507.4h-10M3627.5 377.6h-10M3627.5 247.8h-10M3627.5 118.0h-10M3633.3 1064.0v10M4166.5 1064.0v10M4710.5 1064.0v10M3633.3 3000.7v10M4163.5 3000.7v10M4705.9 3000.7v10M4825.2 2795.8h10M4825.2 2590.2h10M4825.2 2384.7h10M4825.2 2179.1h10M4825.2 1973.6h10M4825.2 1768.0h10M4825.2 1562.5h10M4825.2 1356.9h10"/>
</g></svg>
<div class="t" style="left:597.8px;top:16.6px;font-size:28.27px;transform:scaleX(1.0338);transform-origin:center center">Fimo Hits</div>
<div class="t" style="left:607.8px;top:3054.1px;font-size:23.55px;transform:scaleX(1.0338);transform-origin:center center">Fimo Hits</div>
<div class="t" style="left:121.8px;top:1082.7px;font-size:23.55px;transform:scaleX(1.0682);transform-origin:left center">-0.5</div>
<div class="t" style="left:622.3px;top:1082.7px;font-size:23.55px;transform:scaleX(1.0921);transform-origin:center center">center</div>
<div class="t" style="left:1137.4px;top:1082.7px;font-size:23.55px;transform:scaleX(1.0400);transform-origin:right center">0.5Kb</div>
<div class="t" style="left:121.8px;top:3020.3px;font-size:23.55px;transform:scaleX(1.0682);transform-origin:left center">-0.5</div>
<div class="t" style="left:619.3px;top:3020.3px;font-size:23.55px;transform:scaleX(1.0921);transform-origin:center center">center</div>
<div class="t" style="left:1132.8px;top:3020.3px;font-size:23.55px;transform:scaleX(1.0400);transform-origin:right center">0.5Kb</div>
<div class="t" style="left:1638.7px;top:16.6px;font-size:28.27px;transform:scaleX(1.0718);transform-origin:center center">Hits within 50b of OC summits</div>
<div class="t" style="left:1670.3px;top:3054.1px;font-size:23.55px;transform:scaleX(1.0718);transform-origin:center center">Hits within 50b of OC summits</div>
<div class="t" style="left:1292.3px;top:1082.7px;font-size:23.55px;transform:scaleX(1.0682);transform-origin:left center">-0.5</div>
<div class="t" style="left:1792.8px;top:1082.7px;font-size:23.55px;transform:scaleX(1.0921);transform-origin:center center">center</div>
<div class="t" style="left:2307.9px;top:1082.7px;font-size:23.55px;transform:scaleX(1.0400);transform-origin:right center">0.5Kb</div>
<div class="t" style="left:1292.3px;top:3020.3px;font-size:23.55px;transform:scaleX(1.0682);transform-origin:left center">-0.5</div>
<div class="t" style="left:1789.8px;top:3020.3px;font-size:23.55px;transform:scaleX(1.0921);transform-origin:center center">center</div>
<div class="t" style="left:2303.3px;top:3020.3px;font-size:23.55px;transform:scaleX(1.0400);transform-origin:right center">0.5Kb</div>
<div class="t" style="left:2862.6px;top:16.6px;font-size:28.27px;transform:scaleX(1.0906);transform-origin:center center">Hits with high Deeplift</div>
<div class="t" style="left:2885.3px;top:3054.1px;font-size:23.55px;transform:scaleX(1.0906);transform-origin:center center">Hits with high Deeplift</div>
<div class="t" style="left:2462.8px;top:1082.7px;font-size:23.55px;transform:scaleX(1.0682);transform-origin:left center">-0.5</div>
<div class="t" style="left:2963.3px;top:1082.7px;font-size:23.55px;transform:scaleX(1.0921);transform-origin:center center">center</div>
<div class="t" style="left:3478.4px;top:1082.7px;font-size:23.55px;transform:scaleX(1.0400);transform-origin:right center">0.5Kb</div>
<div class="t" style="left:2462.8px;top:3020.3px;font-size:23.55px;transform:scaleX(1.0682);transform-origin:left center">-0.5</div>
<div class="t" style="left:2960.3px;top:3020.3px;font-size:23.55px;transform:scaleX(1.0921);transform-origin:center center">center</div>
<div class="t" style="left:3473.8px;top:3020.3px;font-size:23.55px;transform:scaleX(1.0400);transform-origin:right center">0.5Kb</div>
<div class="t" style="left:4038.6px;top:16.6px;font-size:28.27px;transform:scaleX(1.0884);transform-origin:center center">Hits with low Deeplift</div>
<div class="t" style="left:4060.4px;top:3054.1px;font-size:23.55px;transform:scaleX(1.0884);transform-origin:center center">Hits with low Deeplift</div>
<div class="t" style="left:3633.3px;top:1082.7px;font-size:23.55px;transform:scaleX(1.0682);transform-origin:left center">-0.5</div>
<div class="t" style="left:4133.8px;top:1082.7px;font-size:23.55px;transform:scaleX(1.0921);transform-origin:center center">center</div>
<div class="t" style="left:4648.9px;top:1082.7px;font-size:23.55px;transform:scaleX(1.0400);transform-origin:right center">0.5Kb</div>
<div class="t" style="left:3633.3px;top:3020.3px;font-size:23.55px;transform:scaleX(1.0682);transform-origin:left center">-0.5</div>
<div class="t" style="left:4130.8px;top:3020.3px;font-size:23.55px;transform:scaleX(1.0921);transform-origin:center center">center</div>
<div class="t" style="left:4644.3px;top:3020.3px;font-size:23.55px;transform:scaleX(1.0400);transform-origin:right center">0.5Kb</div>
<div class="t" style="left:83.2px;top:1017.2px;font-size:23.55px;transform:scaleX(1.0792);transform-origin:right center">0</div>
<div class="t" style="left:70.1px;top:887.3px;font-size:23.55px;transform:scaleX(1.0792);transform-origin:right center">20</div>
<div class="t" style="left:70.1px;top:757.5px;font-size:23.55px;transform:scaleX(1.0792);transform-origin:right center">40</div>
<div class="t" style="left:70.1px;top:627.7px;font-size:23.55px;transform:scaleX(1.0792);transform-origin:right center">60</div>
<div class="t" style="left:70.1px;top:497.9px;font-size:23.55px;transform:scaleX(1.0792);transform-origin:right center">80</div>
<div class="t" style="left:57.0px;top:368.1px;font-size:23.55px;transform:scaleX(1.0792);transform-origin:right center">100</div>
<div class="t" style="left:57.0px;top:238.2px;font-size:23.55px;transform:scaleX(1.0792);transform-origin:right center">120</div>
<div class="t" style="left:57.0px;top:108.4px;font-size:23.55px;transform:scaleX(1.0792);transform-origin:right center">140</div>
<div class="t" style="left:4845.3px;top:2786.8px;font-size:23.55px;transform:scaleX(1.0792);transform-origin:left center">20</div>
<div class="t" style="left:4845.3px;top:2581.3px;font-size:23.55px;transform:scaleX(1.0792);transform-origin:left center">40</div>
<div class="t" style="left:4845.3px;top:2375.7px;font-size:23.55px;transform:scaleX(1.0792);transform-origin:left center">60</div>
<div class="t" style="left:4845.3px;top:2170.2px;font-size:23.55px;transform:scaleX(1.0792);transform-origin:left center">80</div>
<div class="t" style="left:4845.3px;top:1964.6px;font-size:23.55px;transform:scaleX(1.0792);transform-origin:left center">100</div>
<div class="t" style="left:4845.3px;top:1759.1px;font-size:23.55px;transform:scaleX(1.0792);transform-origin:left center">120</div>
<div class="t" style="left:4845.3px;top:1553.5px;font-size:23.55px;transform:scaleX(1.0792);transform-origin:left center">140</div>
<div class="t" style="left:4845.3px;top:1348.0px;font-size:23.55px;transform:scaleX(1.0792);transform-origin:left center">160</div>
<div class="t" style="left:-23.7px;top:551.9px;font-size:23.55px;transform:rotate(-90deg) scaleX(1.0268);transform-origin:center center">Log10Pval</div>
<div class="t" style="left:7.3px;top:2112.2px;font-size:23.55px;transform:rotate(-90deg) scaleX(0.9655);transform-origin:center center">ENCFF709NWF</div>
</body></html>
